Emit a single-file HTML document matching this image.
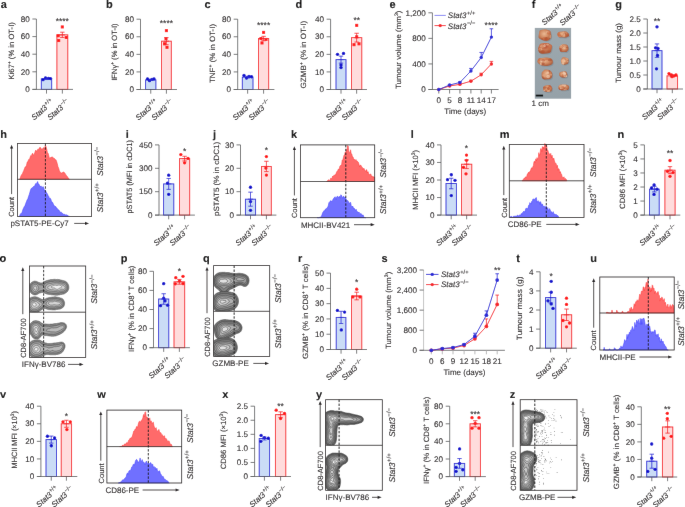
<!DOCTYPE html>
<html><head><meta charset="utf-8"><style>
html,body{margin:0;padding:0;background:#fff;}
svg{display:block;font-family:"Liberation Sans",sans-serif;}
text{stroke:#231f20;stroke-width:0.1px;text-rendering:geometricPrecision;}
</style></head><body>
<svg width="685" height="507" viewBox="0 0 685 507" fill="#231f20">
<defs><filter id="bl" x="0" y="0" width="685" height="507" filterUnits="userSpaceOnUse"><feConvolveMatrix order="3" kernelMatrix="0.0016 0.0371 0.0016 0.0371 0.8452 0.0371 0.0016 0.0371 0.0016" edgeMode="duplicate" preserveAlpha="true"/></filter></defs>
<g filter="url(#bl)">
<rect width="685" height="507" fill="#fff"/>
<text x="0.65" y="7.9" font-size="11" font-weight="bold" fill="#000">a</text>
<line x1="36.4" y1="19" x2="36.4" y2="89.4" stroke="#58595b" stroke-width="0.8"/>
<line x1="32.4" y1="89.4" x2="36.4" y2="89.4" stroke="#58595b" stroke-width="0.8"/>
<text x="29.8" y="92.1" font-size="8.1" text-anchor="end">0</text>
<line x1="32.4" y1="71.8" x2="36.4" y2="71.8" stroke="#58595b" stroke-width="0.8"/>
<text x="29.8" y="74.5" font-size="8.1" text-anchor="end">20</text>
<line x1="32.4" y1="54.2" x2="36.4" y2="54.2" stroke="#58595b" stroke-width="0.8"/>
<text x="29.8" y="56.9" font-size="8.1" text-anchor="end">40</text>
<line x1="32.4" y1="36.6" x2="36.4" y2="36.6" stroke="#58595b" stroke-width="0.8"/>
<text x="29.8" y="39.3" font-size="8.1" text-anchor="end">60</text>
<line x1="32.4" y1="19" x2="36.4" y2="19" stroke="#58595b" stroke-width="0.8"/>
<text x="29.8" y="21.7" font-size="8.1" text-anchor="end">80</text>
<rect x="41.3" y="78.84" width="10.4" height="10.56" fill="#cadcf6" stroke="#2b2bd6" stroke-width="0.9"/>
<circle cx="43" cy="79.72" r="1.65" fill="#0808cc"/>
<circle cx="45.5" cy="77.96" r="1.65" fill="#0808cc"/>
<circle cx="48.5" cy="78.4" r="1.65" fill="#0808cc"/>
<circle cx="50.5" cy="78.58" r="1.65" fill="#0808cc"/>
<line x1="46.5" y1="79.54" x2="46.5" y2="78.14" stroke="#2b2bd6" stroke-width="0.8"/>
<line x1="44.3" y1="78.14" x2="48.7" y2="78.14" stroke="#2b2bd6" stroke-width="0.8"/>
<line x1="44.3" y1="79.54" x2="48.7" y2="79.54" stroke="#2b2bd6" stroke-width="0.8"/>
<line x1="43.9" y1="78.84" x2="49.1" y2="78.84" stroke="#2b2bd6" stroke-width="0.8"/>
<rect x="56.9" y="34.84" width="10.9" height="54.56" fill="#ffdcdc" stroke="#f5262b" stroke-width="0.9"/>
<rect x="60.8" y="25.42" width="3" height="3" fill="#ff1414"/>
<rect x="56.7" y="34.22" width="3" height="3" fill="#ff1414"/>
<rect x="64.8" y="35.98" width="3" height="3" fill="#ff1414"/>
<rect x="57.2" y="39.06" width="3" height="3" fill="#ff1414"/>
<line x1="62.35" y1="37.48" x2="62.35" y2="32.2" stroke="#f5262b" stroke-width="0.8"/>
<line x1="60.15" y1="32.2" x2="64.55" y2="32.2" stroke="#f5262b" stroke-width="0.8"/>
<line x1="60.15" y1="37.48" x2="64.55" y2="37.48" stroke="#f5262b" stroke-width="0.8"/>
<line x1="59.75" y1="34.84" x2="64.95" y2="34.84" stroke="#f5262b" stroke-width="0.8"/>
<line x1="32.4" y1="89.4" x2="73" y2="89.4" stroke="#58595b" stroke-width="0.8"/>
<line x1="46.5" y1="89.4" x2="46.5" y2="93.6" stroke="#58595b" stroke-width="0.8"/>
<line x1="62.35" y1="89.4" x2="62.35" y2="93.6" stroke="#58595b" stroke-width="0.8"/>
<text x="34.3" y="120.6" font-size="7.8" transform="rotate(-42 34.3 120.6)"><tspan font-style="italic">Stat3</tspan><tspan dx="0.5" dy="-3.12" font-size="5.62">+/+</tspan></text>
<text x="50.15" y="120.6" font-size="7.8" transform="rotate(-42 50.15 120.6)"><tspan font-style="italic">Stat3</tspan><tspan dx="0.5" dy="-3.12" font-size="5.62">−/−</tspan></text>
<text x="14.5" y="50.85" font-size="7.6" text-anchor="middle" textLength="57.4" lengthAdjust="spacingAndGlyphs" transform="rotate(-90 14.5 50.85)">Ki67<tspan baseline-shift="super" font-size="5">+</tspan> (% in OT-I)</text>
<text x="62.3" y="24.1" font-size="8.5" text-anchor="middle">****</text>
<text x="106.1" y="7.9" font-size="11" font-weight="bold" fill="#000">b</text>
<line x1="140.5" y1="19.2" x2="140.5" y2="89.5" stroke="#58595b" stroke-width="0.8"/>
<line x1="136.5" y1="89.5" x2="140.5" y2="89.5" stroke="#58595b" stroke-width="0.8"/>
<text x="133.9" y="92.2" font-size="8.1" text-anchor="end">0</text>
<line x1="136.5" y1="71.92" x2="140.5" y2="71.92" stroke="#58595b" stroke-width="0.8"/>
<text x="133.9" y="74.62" font-size="8.1" text-anchor="end">20</text>
<line x1="136.5" y1="54.35" x2="140.5" y2="54.35" stroke="#58595b" stroke-width="0.8"/>
<text x="133.9" y="57.05" font-size="8.1" text-anchor="end">40</text>
<line x1="136.5" y1="36.78" x2="140.5" y2="36.78" stroke="#58595b" stroke-width="0.8"/>
<text x="133.9" y="39.48" font-size="8.1" text-anchor="end">60</text>
<line x1="136.5" y1="19.2" x2="140.5" y2="19.2" stroke="#58595b" stroke-width="0.8"/>
<text x="133.9" y="21.9" font-size="8.1" text-anchor="end">80</text>
<rect x="145.6" y="79.83" width="10.3" height="9.67" fill="#cadcf6" stroke="#2b2bd6" stroke-width="0.9"/>
<circle cx="147.5" cy="78.95" r="1.65" fill="#0808cc"/>
<circle cx="149.5" cy="80.71" r="1.65" fill="#0808cc"/>
<circle cx="152" cy="79.39" r="1.65" fill="#0808cc"/>
<circle cx="154" cy="78.95" r="1.65" fill="#0808cc"/>
<line x1="150.75" y1="80.54" x2="150.75" y2="79.13" stroke="#2b2bd6" stroke-width="0.8"/>
<line x1="148.55" y1="79.13" x2="152.95" y2="79.13" stroke="#2b2bd6" stroke-width="0.8"/>
<line x1="148.55" y1="80.54" x2="152.95" y2="80.54" stroke="#2b2bd6" stroke-width="0.8"/>
<line x1="148.15" y1="79.83" x2="153.35" y2="79.83" stroke="#2b2bd6" stroke-width="0.8"/>
<rect x="161.5" y="41.17" width="9.8" height="48.33" fill="#ffdcdc" stroke="#f5262b" stroke-width="0.9"/>
<rect x="164.9" y="29.12" width="3" height="3" fill="#ff1414"/>
<rect x="164.5" y="37.03" width="3" height="3" fill="#ff1414"/>
<rect x="163" y="42.31" width="3" height="3" fill="#ff1414"/>
<rect x="165.5" y="45.82" width="3" height="3" fill="#ff1414"/>
<line x1="166.4" y1="44.68" x2="166.4" y2="37.65" stroke="#f5262b" stroke-width="0.8"/>
<line x1="164.2" y1="37.65" x2="168.6" y2="37.65" stroke="#f5262b" stroke-width="0.8"/>
<line x1="164.2" y1="44.68" x2="168.6" y2="44.68" stroke="#f5262b" stroke-width="0.8"/>
<line x1="163.8" y1="41.17" x2="169" y2="41.17" stroke="#f5262b" stroke-width="0.8"/>
<line x1="136.5" y1="89.5" x2="177" y2="89.5" stroke="#58595b" stroke-width="0.8"/>
<line x1="150.75" y1="89.5" x2="150.75" y2="93.7" stroke="#58595b" stroke-width="0.8"/>
<line x1="166.4" y1="89.5" x2="166.4" y2="93.7" stroke="#58595b" stroke-width="0.8"/>
<text x="138.55" y="120.7" font-size="7.8" transform="rotate(-42 138.55 120.7)"><tspan font-style="italic">Stat3</tspan><tspan dx="0.5" dy="-3.12" font-size="5.62">+/+</tspan></text>
<text x="154.2" y="120.7" font-size="7.8" transform="rotate(-42 154.2 120.7)"><tspan font-style="italic">Stat3</tspan><tspan dx="0.5" dy="-3.12" font-size="5.62">−/−</tspan></text>
<text x="116.9" y="52.1" font-size="7.6" text-anchor="middle" textLength="57.3" lengthAdjust="spacingAndGlyphs" transform="rotate(-90 116.9 52.1)">IFNγ<tspan baseline-shift="super" font-size="5">+</tspan> (% in OT-I)</text>
<text x="166.4" y="26.4" font-size="8.5" text-anchor="middle">****</text>
<text x="204.6" y="7.9" font-size="11" font-weight="bold" fill="#000">c</text>
<line x1="237.7" y1="19.2" x2="237.7" y2="89.5" stroke="#58595b" stroke-width="0.8"/>
<line x1="233.7" y1="89.5" x2="237.7" y2="89.5" stroke="#58595b" stroke-width="0.8"/>
<text x="231.1" y="92.2" font-size="8.1" text-anchor="end">0</text>
<line x1="233.7" y1="71.92" x2="237.7" y2="71.92" stroke="#58595b" stroke-width="0.8"/>
<text x="231.1" y="74.62" font-size="8.1" text-anchor="end">20</text>
<line x1="233.7" y1="54.35" x2="237.7" y2="54.35" stroke="#58595b" stroke-width="0.8"/>
<text x="231.1" y="57.05" font-size="8.1" text-anchor="end">40</text>
<line x1="233.7" y1="36.78" x2="237.7" y2="36.78" stroke="#58595b" stroke-width="0.8"/>
<text x="231.1" y="39.48" font-size="8.1" text-anchor="end">60</text>
<line x1="233.7" y1="19.2" x2="237.7" y2="19.2" stroke="#58595b" stroke-width="0.8"/>
<text x="231.1" y="21.9" font-size="8.1" text-anchor="end">80</text>
<rect x="242.3" y="77.2" width="10.7" height="12.3" fill="#cadcf6" stroke="#2b2bd6" stroke-width="0.9"/>
<circle cx="244" cy="75.44" r="1.65" fill="#0808cc"/>
<circle cx="246.5" cy="78.08" r="1.65" fill="#0808cc"/>
<circle cx="249" cy="76.32" r="1.65" fill="#0808cc"/>
<circle cx="251.5" cy="76.76" r="1.65" fill="#0808cc"/>
<line x1="247.65" y1="78.08" x2="247.65" y2="76.32" stroke="#2b2bd6" stroke-width="0.8"/>
<line x1="245.45" y1="76.32" x2="249.85" y2="76.32" stroke="#2b2bd6" stroke-width="0.8"/>
<line x1="245.45" y1="78.08" x2="249.85" y2="78.08" stroke="#2b2bd6" stroke-width="0.8"/>
<line x1="245.05" y1="77.2" x2="250.25" y2="77.2" stroke="#2b2bd6" stroke-width="0.8"/>
<rect x="258.5" y="38.53" width="10.2" height="50.97" fill="#ffdcdc" stroke="#f5262b" stroke-width="0.9"/>
<rect x="262.1" y="30.88" width="3" height="3" fill="#ff1414"/>
<rect x="259.5" y="37.03" width="3" height="3" fill="#ff1414"/>
<rect x="264.5" y="37.91" width="3" height="3" fill="#ff1414"/>
<rect x="260.5" y="41.43" width="3" height="3" fill="#ff1414"/>
<line x1="263.6" y1="40.73" x2="263.6" y2="36.34" stroke="#f5262b" stroke-width="0.8"/>
<line x1="261.4" y1="36.34" x2="265.8" y2="36.34" stroke="#f5262b" stroke-width="0.8"/>
<line x1="261.4" y1="40.73" x2="265.8" y2="40.73" stroke="#f5262b" stroke-width="0.8"/>
<line x1="261" y1="38.53" x2="266.2" y2="38.53" stroke="#f5262b" stroke-width="0.8"/>
<line x1="233.7" y1="89.5" x2="274.4" y2="89.5" stroke="#58595b" stroke-width="0.8"/>
<line x1="247.65" y1="89.5" x2="247.65" y2="93.7" stroke="#58595b" stroke-width="0.8"/>
<line x1="263.6" y1="89.5" x2="263.6" y2="93.7" stroke="#58595b" stroke-width="0.8"/>
<text x="235.45" y="120.7" font-size="7.8" transform="rotate(-42 235.45 120.7)"><tspan font-style="italic">Stat3</tspan><tspan dx="0.5" dy="-3.12" font-size="5.62">+/+</tspan></text>
<text x="251.4" y="120.7" font-size="7.8" transform="rotate(-42 251.4 120.7)"><tspan font-style="italic">Stat3</tspan><tspan dx="0.5" dy="-3.12" font-size="5.62">−/−</tspan></text>
<text x="215.4" y="53.5" font-size="7.6" text-anchor="middle" textLength="59.1" lengthAdjust="spacingAndGlyphs" transform="rotate(-90 215.4 53.5)">TNF<tspan baseline-shift="super" font-size="5">+</tspan> (% in OT-I)</text>
<text x="263.6" y="28.4" font-size="8.5" text-anchor="middle">****</text>
<text x="295.6" y="7.9" font-size="11" font-weight="bold" fill="#000">d</text>
<line x1="330.6" y1="19.2" x2="330.6" y2="89.5" stroke="#58595b" stroke-width="0.8"/>
<line x1="326.6" y1="89.5" x2="330.6" y2="89.5" stroke="#58595b" stroke-width="0.8"/>
<text x="324" y="92.2" font-size="8.1" text-anchor="end">0</text>
<line x1="326.6" y1="71.92" x2="330.6" y2="71.92" stroke="#58595b" stroke-width="0.8"/>
<text x="324" y="74.62" font-size="8.1" text-anchor="end">10</text>
<line x1="326.6" y1="54.35" x2="330.6" y2="54.35" stroke="#58595b" stroke-width="0.8"/>
<text x="324" y="57.05" font-size="8.1" text-anchor="end">20</text>
<line x1="326.6" y1="36.78" x2="330.6" y2="36.78" stroke="#58595b" stroke-width="0.8"/>
<text x="324" y="39.48" font-size="8.1" text-anchor="end">30</text>
<line x1="326.6" y1="19.2" x2="330.6" y2="19.2" stroke="#58595b" stroke-width="0.8"/>
<text x="324" y="21.9" font-size="8.1" text-anchor="end">40</text>
<rect x="336" y="59.62" width="10" height="29.88" fill="#cadcf6" stroke="#2b2bd6" stroke-width="0.9"/>
<circle cx="337.5" cy="54.35" r="1.65" fill="#0808cc"/>
<circle cx="341" cy="64.9" r="1.65" fill="#0808cc"/>
<circle cx="343.5" cy="53.47" r="1.65" fill="#0808cc"/>
<circle cx="341" cy="67.53" r="1.65" fill="#0808cc"/>
<line x1="341" y1="63.14" x2="341" y2="56.11" stroke="#2b2bd6" stroke-width="0.8"/>
<line x1="338.8" y1="56.11" x2="343.2" y2="56.11" stroke="#2b2bd6" stroke-width="0.8"/>
<line x1="338.8" y1="63.14" x2="343.2" y2="63.14" stroke="#2b2bd6" stroke-width="0.8"/>
<line x1="338.4" y1="59.62" x2="343.6" y2="59.62" stroke="#2b2bd6" stroke-width="0.8"/>
<rect x="351.5" y="37.65" width="10.3" height="51.85" fill="#ffdcdc" stroke="#f5262b" stroke-width="0.9"/>
<rect x="355.2" y="23.85" width="3" height="3" fill="#ff1414"/>
<rect x="352.5" y="43.18" width="3" height="3" fill="#ff1414"/>
<rect x="357.5" y="42.31" width="3" height="3" fill="#ff1414"/>
<rect x="355.2" y="35.28" width="3" height="3" fill="#ff1414"/>
<line x1="356.65" y1="42.05" x2="356.65" y2="33.26" stroke="#f5262b" stroke-width="0.8"/>
<line x1="354.45" y1="33.26" x2="358.85" y2="33.26" stroke="#f5262b" stroke-width="0.8"/>
<line x1="354.45" y1="42.05" x2="358.85" y2="42.05" stroke="#f5262b" stroke-width="0.8"/>
<line x1="354.05" y1="37.65" x2="359.25" y2="37.65" stroke="#f5262b" stroke-width="0.8"/>
<line x1="326.6" y1="89.5" x2="367" y2="89.5" stroke="#58595b" stroke-width="0.8"/>
<line x1="341" y1="89.5" x2="341" y2="93.7" stroke="#58595b" stroke-width="0.8"/>
<line x1="356.65" y1="89.5" x2="356.65" y2="93.7" stroke="#58595b" stroke-width="0.8"/>
<text x="328.8" y="120.7" font-size="7.8" transform="rotate(-42 328.8 120.7)"><tspan font-style="italic">Stat3</tspan><tspan dx="0.5" dy="-3.12" font-size="5.62">+/+</tspan></text>
<text x="344.45" y="120.7" font-size="7.8" transform="rotate(-42 344.45 120.7)"><tspan font-style="italic">Stat3</tspan><tspan dx="0.5" dy="-3.12" font-size="5.62">−/−</tspan></text>
<text x="306.5" y="54.6" font-size="7.6" text-anchor="middle" textLength="67.7" lengthAdjust="spacingAndGlyphs" transform="rotate(-90 306.5 54.6)">GZMB<tspan baseline-shift="super" font-size="5">+</tspan> (% in OT-I)</text>
<text x="356.7" y="23.4" font-size="8.5" text-anchor="middle">**</text>
<text x="389.6" y="7.9" font-size="11" font-weight="bold" fill="#000">e</text>
<line x1="432.4" y1="12.8" x2="432.4" y2="89.5" stroke="#58595b" stroke-width="0.8"/>
<line x1="428.4" y1="89.5" x2="432.4" y2="89.5" stroke="#58595b" stroke-width="0.8"/>
<text x="425.8" y="92.2" font-size="8.1" text-anchor="end">0</text>
<line x1="428.4" y1="63.93" x2="432.4" y2="63.93" stroke="#58595b" stroke-width="0.8"/>
<text x="425.8" y="66.63" font-size="8.1" text-anchor="end">400</text>
<line x1="428.4" y1="38.37" x2="432.4" y2="38.37" stroke="#58595b" stroke-width="0.8"/>
<text x="425.8" y="41.07" font-size="8.1" text-anchor="end">800</text>
<line x1="428.4" y1="12.8" x2="432.4" y2="12.8" stroke="#58595b" stroke-width="0.8"/>
<text x="425.8" y="15.5" font-size="8.1" text-anchor="end">1,200</text>
<line x1="428.4" y1="89.5" x2="498.6" y2="89.5" stroke="#58595b" stroke-width="0.8"/>
<line x1="438.8" y1="89.5" x2="438.8" y2="93.5" stroke="#58595b" stroke-width="0.8"/>
<text x="438.8" y="102.8" font-size="8.1" text-anchor="middle">0</text>
<line x1="449.6" y1="89.5" x2="449.6" y2="93.5" stroke="#58595b" stroke-width="0.8"/>
<text x="449.6" y="102.8" font-size="8.1" text-anchor="middle">5</text>
<line x1="459.9" y1="89.5" x2="459.9" y2="93.5" stroke="#58595b" stroke-width="0.8"/>
<text x="459.9" y="102.8" font-size="8.1" text-anchor="middle">8</text>
<line x1="470.9" y1="89.5" x2="470.9" y2="93.5" stroke="#58595b" stroke-width="0.8"/>
<text x="470.9" y="102.8" font-size="8.1" text-anchor="middle">11</text>
<line x1="481.2" y1="89.5" x2="481.2" y2="93.5" stroke="#58595b" stroke-width="0.8"/>
<text x="481.2" y="102.8" font-size="8.1" text-anchor="middle">14</text>
<line x1="491.4" y1="89.5" x2="491.4" y2="93.5" stroke="#58595b" stroke-width="0.8"/>
<text x="491.4" y="102.8" font-size="8.1" text-anchor="middle">17</text>
<text x="465.3" y="114.3" font-size="8.0" text-anchor="middle">Time (days)</text>
<text x="401.3" y="49.8" font-size="7.6" text-anchor="middle" textLength="78.5" lengthAdjust="spacingAndGlyphs" transform="rotate(-90 401.3 49.8)">Tumour volume (mm<tspan baseline-shift="super" font-size="5">3</tspan>)</text>
<polyline points="438.8,89.5 449.6,85.98 459.9,84.39 470.9,81.19 481.2,74.8 491.4,63.93" fill="none" stroke="#f5262b" stroke-width="0.9"/>
<circle cx="438.8" cy="89.5" r="1.7" fill="#f5262b"/>
<line x1="449.6" y1="85.98" x2="449.6" y2="85.6" stroke="#f5262b" stroke-width="0.8"/>
<line x1="447.8" y1="85.6" x2="451.4" y2="85.6" stroke="#f5262b" stroke-width="0.8"/>
<circle cx="449.6" cy="85.98" r="1.7" fill="#f5262b"/>
<line x1="459.9" y1="84.39" x2="459.9" y2="83.88" stroke="#f5262b" stroke-width="0.8"/>
<line x1="458.1" y1="83.88" x2="461.7" y2="83.88" stroke="#f5262b" stroke-width="0.8"/>
<circle cx="459.9" cy="84.39" r="1.7" fill="#f5262b"/>
<line x1="470.9" y1="81.19" x2="470.9" y2="80.23" stroke="#f5262b" stroke-width="0.8"/>
<line x1="469.1" y1="80.23" x2="472.7" y2="80.23" stroke="#f5262b" stroke-width="0.8"/>
<circle cx="470.9" cy="81.19" r="1.7" fill="#f5262b"/>
<line x1="481.2" y1="74.8" x2="481.2" y2="73.2" stroke="#f5262b" stroke-width="0.8"/>
<line x1="479.4" y1="73.2" x2="483" y2="73.2" stroke="#f5262b" stroke-width="0.8"/>
<circle cx="481.2" cy="74.8" r="1.7" fill="#f5262b"/>
<line x1="491.4" y1="63.93" x2="491.4" y2="61.38" stroke="#f5262b" stroke-width="0.8"/>
<line x1="489.6" y1="61.38" x2="493.2" y2="61.38" stroke="#f5262b" stroke-width="0.8"/>
<circle cx="491.4" cy="63.93" r="1.7" fill="#f5262b"/>
<polyline points="438.8,89.5 449.6,85.03 459.9,82.47 470.9,70.96 481.2,57.54 491.4,37.09" fill="none" stroke="#2b2bd6" stroke-width="0.9"/>
<circle cx="438.8" cy="89.5" r="1.7" fill="#2b2bd6"/>
<line x1="449.6" y1="85.03" x2="449.6" y2="84.51" stroke="#2b2bd6" stroke-width="0.8"/>
<line x1="447.8" y1="84.51" x2="451.4" y2="84.51" stroke="#2b2bd6" stroke-width="0.8"/>
<circle cx="449.6" cy="85.03" r="1.7" fill="#2b2bd6"/>
<line x1="459.9" y1="82.47" x2="459.9" y2="81.7" stroke="#2b2bd6" stroke-width="0.8"/>
<line x1="458.1" y1="81.7" x2="461.7" y2="81.7" stroke="#2b2bd6" stroke-width="0.8"/>
<circle cx="459.9" cy="82.47" r="1.7" fill="#2b2bd6"/>
<line x1="470.9" y1="70.96" x2="470.9" y2="68.41" stroke="#2b2bd6" stroke-width="0.8"/>
<line x1="469.1" y1="68.41" x2="472.7" y2="68.41" stroke="#2b2bd6" stroke-width="0.8"/>
<circle cx="470.9" cy="70.96" r="1.7" fill="#2b2bd6"/>
<line x1="481.2" y1="57.54" x2="481.2" y2="52.43" stroke="#2b2bd6" stroke-width="0.8"/>
<line x1="479.4" y1="52.43" x2="483" y2="52.43" stroke="#2b2bd6" stroke-width="0.8"/>
<circle cx="481.2" cy="57.54" r="1.7" fill="#2b2bd6"/>
<line x1="491.4" y1="37.09" x2="491.4" y2="28.78" stroke="#2b2bd6" stroke-width="0.8"/>
<line x1="489.6" y1="28.78" x2="493.2" y2="28.78" stroke="#2b2bd6" stroke-width="0.8"/>
<circle cx="491.4" cy="37.09" r="1.7" fill="#2b2bd6"/>
<line x1="434.5" y1="15.4" x2="445.8" y2="15.4" stroke="#7c7cf2" stroke-width="0.9"/>
<text x="447.8" y="18.4" font-size="8.0"><tspan font-style="italic">Stat3</tspan><tspan dx="0.5" dy="-3.2" font-size="5.76">+/+</tspan></text>
<line x1="434.5" y1="25.6" x2="445.8" y2="25.6" stroke="#f5262b" stroke-width="0.9"/>
<circle cx="440.2" cy="25.6" r="1.7" fill="#f5262b"/>
<text x="447.8" y="28.6" font-size="8.0"><tspan font-style="italic">Stat3</tspan><tspan dx="0.5" dy="-3.2" font-size="5.76">−/−</tspan></text>
<text x="491.2" y="27.7" font-size="8.5" text-anchor="middle">****</text>
<text x="531.8" y="7.9" font-size="11" font-weight="bold" fill="#000">f</text>
<defs><radialGradient id="tg" cx="45%" cy="40%" r="60%"><stop offset="0" stop-color="#eab994"/><stop offset="0.55" stop-color="#d08a62"/><stop offset="1" stop-color="#a95c3c"/></radialGradient><radialGradient id="tg2" cx="50%" cy="30%" r="65%"><stop offset="0" stop-color="#b44a30"/><stop offset="0.5" stop-color="#cc7a54"/><stop offset="1" stop-color="#a85a3a"/></radialGradient><linearGradient id="bgp" x1="0" y1="0" x2="0" y2="1"><stop offset="0" stop-color="#9da8ae"/><stop offset="1" stop-color="#95a1a8"/></linearGradient></defs>
<rect x="534.8" y="27.9" width="36.3" height="70.8" fill="url(#bgp)"/>
<clipPath id="tc3"><path d="M551.01,33.88 Q551.26,35.1 551.27,36.43 Q551.27,37.75 550.58,38.51 Q549.88,39.28 549.01,39.9 Q548.14,40.53 546.57,40.72 Q545,40.91 543.6,40.42 Q542.21,39.94 541.35,39.45 Q540.49,38.96 539.42,38.43 Q538.35,37.91 538.53,36.51 Q538.71,35.1 538.92,33.86 Q539.13,32.62 539.29,31.49 Q539.46,30.36 540.7,30.09 Q541.95,29.82 543.47,29.43 Q545,29.04 546.53,29.42 Q548.06,29.81 549.11,30.25 Q550.17,30.68 550.47,31.67 Q550.76,32.66 551.01,33.88Z"/></clipPath>
<path d="M551.01,33.88 Q551.26,35.1 551.27,36.43 Q551.27,37.75 550.58,38.51 Q549.88,39.28 549.01,39.9 Q548.14,40.53 546.57,40.72 Q545,40.91 543.6,40.42 Q542.21,39.94 541.35,39.45 Q540.49,38.96 539.42,38.43 Q538.35,37.91 538.53,36.51 Q538.71,35.1 538.92,33.86 Q539.13,32.62 539.29,31.49 Q539.46,30.36 540.7,30.09 Q541.95,29.82 543.47,29.43 Q545,29.04 546.53,29.42 Q548.06,29.81 549.11,30.25 Q550.17,30.68 550.47,31.67 Q550.76,32.66 551.01,33.88Z" fill="#67737a" opacity="0.35" transform="translate(0.8 0.9)"/>
<path d="M551.01,33.88 Q551.26,35.1 551.27,36.43 Q551.27,37.75 550.58,38.51 Q549.88,39.28 549.01,39.9 Q548.14,40.53 546.57,40.72 Q545,40.91 543.6,40.42 Q542.21,39.94 541.35,39.45 Q540.49,38.96 539.42,38.43 Q538.35,37.91 538.53,36.51 Q538.71,35.1 538.92,33.86 Q539.13,32.62 539.29,31.49 Q539.46,30.36 540.7,30.09 Q541.95,29.82 543.47,29.43 Q545,29.04 546.53,29.42 Q548.06,29.81 549.11,30.25 Q550.17,30.68 550.47,31.67 Q550.76,32.66 551.01,33.88Z" fill="url(#tg)"/>
<g clip-path="url(#tc3)">
<ellipse cx="546.49" cy="38.57" rx="1.53" ry="1.52" fill="#a84a2e" opacity="0.55"/>
<ellipse cx="548.06" cy="31.88" rx="2.14" ry="0.75" fill="#f4d6bb" opacity="0.55"/>
<ellipse cx="548.57" cy="32.92" rx="1.63" ry="1.71" fill="#c8683f" opacity="0.55"/>
<ellipse cx="547.36" cy="39.08" rx="1.35" ry="1.58" fill="#c8683f" opacity="0.55"/>
<ellipse cx="550.12" cy="31.65" rx="1.31" ry="0.74" fill="#c8683f" opacity="0.55"/>
<ellipse cx="541.88" cy="39.49" rx="1.41" ry="1.39" fill="#b4502f" opacity="0.55"/>
<ellipse cx="544.13" cy="38.25" rx="1.6" ry="1.29" fill="#c8683f" opacity="0.55"/>
<ellipse cx="545.93" cy="38.92" rx="1.75" ry="1.72" fill="#b4502f" opacity="0.55"/>
<ellipse cx="550.42" cy="36.72" rx="1.03" ry="1.65" fill="#e7b08a" opacity="0.55"/>
</g>
<clipPath id="tc4"><path d="M552.1,46.82 Q551.83,48.3 551.54,49.55 Q551.24,50.79 550.83,51.72 Q550.41,52.64 549.33,53.02 Q548.25,53.4 546.75,53.51 Q545.25,53.63 543.67,53.66 Q542.09,53.68 540.8,53.4 Q539.52,53.12 538.91,52.16 Q538.31,51.19 538.11,49.74 Q537.91,48.3 538.5,47.02 Q539.1,45.74 539.52,44.78 Q539.93,43.83 541.05,43.44 Q542.17,43.06 543.71,42.95 Q545.25,42.84 546.73,43.05 Q548.21,43.25 549.21,43.69 Q550.21,44.13 551.29,44.73 Q552.36,45.34 552.1,46.82Z"/></clipPath>
<path d="M552.1,46.82 Q551.83,48.3 551.54,49.55 Q551.24,50.79 550.83,51.72 Q550.41,52.64 549.33,53.02 Q548.25,53.4 546.75,53.51 Q545.25,53.63 543.67,53.66 Q542.09,53.68 540.8,53.4 Q539.52,53.12 538.91,52.16 Q538.31,51.19 538.11,49.74 Q537.91,48.3 538.5,47.02 Q539.1,45.74 539.52,44.78 Q539.93,43.83 541.05,43.44 Q542.17,43.06 543.71,42.95 Q545.25,42.84 546.73,43.05 Q548.21,43.25 549.21,43.69 Q550.21,44.13 551.29,44.73 Q552.36,45.34 552.1,46.82Z" fill="#67737a" opacity="0.35" transform="translate(0.8 0.9)"/>
<path d="M552.1,46.82 Q551.83,48.3 551.54,49.55 Q551.24,50.79 550.83,51.72 Q550.41,52.64 549.33,53.02 Q548.25,53.4 546.75,53.51 Q545.25,53.63 543.67,53.66 Q542.09,53.68 540.8,53.4 Q539.52,53.12 538.91,52.16 Q538.31,51.19 538.11,49.74 Q537.91,48.3 538.5,47.02 Q539.1,45.74 539.52,44.78 Q539.93,43.83 541.05,43.44 Q542.17,43.06 543.71,42.95 Q545.25,42.84 546.73,43.05 Q548.21,43.25 549.21,43.69 Q550.21,44.13 551.29,44.73 Q552.36,45.34 552.1,46.82Z" fill="url(#tg2)"/>
<g clip-path="url(#tc4)">
<ellipse cx="549.07" cy="51.29" rx="1.92" ry="0.91" fill="#b4502f" opacity="0.55"/>
<ellipse cx="542.81" cy="51.89" rx="2.15" ry="1.63" fill="#b4502f" opacity="0.55"/>
<ellipse cx="540.46" cy="49.33" rx="1.74" ry="1.26" fill="#f0c9a6" opacity="0.55"/>
<ellipse cx="542.32" cy="46.15" rx="2.12" ry="1.6" fill="#e7b08a" opacity="0.55"/>
<ellipse cx="549.2" cy="43.49" rx="1.21" ry="1.48" fill="#b4502f" opacity="0.55"/>
<ellipse cx="549.29" cy="48.38" rx="1.38" ry="1.36" fill="#c8683f" opacity="0.55"/>
<ellipse cx="544.69" cy="45.7" rx="1.16" ry="1.58" fill="#f4d6bb" opacity="0.55"/>
<ellipse cx="539.99" cy="49.53" rx="1.19" ry="1.29" fill="#c8683f" opacity="0.55"/>
<ellipse cx="547.58" cy="44.84" rx="1.74" ry="0.77" fill="#f0c9a6" opacity="0.55"/>
</g>
<clipPath id="tc5"><path d="M552.71,60.57 Q552.98,61.55 552.83,62.57 Q552.68,63.58 552,64.25 Q551.31,64.91 550.19,65.37 Q549.07,65.83 547.16,65.88 Q545.25,65.93 543.35,65.87 Q541.45,65.81 540.77,65.11 Q540.1,64.4 539.16,63.94 Q538.23,63.47 537.62,62.51 Q537.02,61.55 537.49,60.55 Q537.96,59.55 538.51,58.84 Q539.06,58.12 540.55,58.03 Q542.04,57.95 543.64,57.67 Q545.25,57.4 546.91,57.62 Q548.56,57.84 549.79,58.1 Q551.01,58.36 551.72,58.97 Q552.43,59.58 552.71,60.57Z"/></clipPath>
<path d="M552.71,60.57 Q552.98,61.55 552.83,62.57 Q552.68,63.58 552,64.25 Q551.31,64.91 550.19,65.37 Q549.07,65.83 547.16,65.88 Q545.25,65.93 543.35,65.87 Q541.45,65.81 540.77,65.11 Q540.1,64.4 539.16,63.94 Q538.23,63.47 537.62,62.51 Q537.02,61.55 537.49,60.55 Q537.96,59.55 538.51,58.84 Q539.06,58.12 540.55,58.03 Q542.04,57.95 543.64,57.67 Q545.25,57.4 546.91,57.62 Q548.56,57.84 549.79,58.1 Q551.01,58.36 551.72,58.97 Q552.43,59.58 552.71,60.57Z" fill="#67737a" opacity="0.35" transform="translate(0.8 0.9)"/>
<path d="M552.71,60.57 Q552.98,61.55 552.83,62.57 Q552.68,63.58 552,64.25 Q551.31,64.91 550.19,65.37 Q549.07,65.83 547.16,65.88 Q545.25,65.93 543.35,65.87 Q541.45,65.81 540.77,65.11 Q540.1,64.4 539.16,63.94 Q538.23,63.47 537.62,62.51 Q537.02,61.55 537.49,60.55 Q537.96,59.55 538.51,58.84 Q539.06,58.12 540.55,58.03 Q542.04,57.95 543.64,57.67 Q545.25,57.4 546.91,57.62 Q548.56,57.84 549.79,58.1 Q551.01,58.36 551.72,58.97 Q552.43,59.58 552.71,60.57Z" fill="url(#tg)"/>
<g clip-path="url(#tc5)">
<ellipse cx="539.13" cy="59.58" rx="1.19" ry="1.71" fill="#c8683f" opacity="0.55"/>
<ellipse cx="540.97" cy="63.62" rx="0.99" ry="1.38" fill="#f0c9a6" opacity="0.55"/>
<ellipse cx="540.63" cy="64.84" rx="0.81" ry="1.55" fill="#f0c9a6" opacity="0.55"/>
<ellipse cx="549.93" cy="60.08" rx="2.15" ry="1.29" fill="#a84a2e" opacity="0.55"/>
<ellipse cx="546.83" cy="59.33" rx="2.16" ry="0.92" fill="#c8683f" opacity="0.55"/>
<ellipse cx="542.72" cy="60.58" rx="1.03" ry="0.86" fill="#f4d6bb" opacity="0.55"/>
<ellipse cx="543.14" cy="63.76" rx="1.62" ry="1.36" fill="#a84a2e" opacity="0.55"/>
<ellipse cx="543.21" cy="60.23" rx="1.95" ry="1.23" fill="#b4502f" opacity="0.55"/>
<ellipse cx="541.29" cy="61.36" rx="1.05" ry="0.98" fill="#f4d6bb" opacity="0.55"/>
</g>
<clipPath id="tc6"><path d="M552.17,73.58 Q552.4,74.8 552.25,76.06 Q552.09,77.32 551.44,77.98 Q550.79,78.64 549.96,78.99 Q549.13,79.34 547.96,79.35 Q546.8,79.36 545.53,79.55 Q544.27,79.74 543.55,79.18 Q542.82,78.63 542.2,77.96 Q541.58,77.29 541.62,76.04 Q541.66,74.8 541.61,73.55 Q541.57,72.31 542.28,71.72 Q542.99,71.13 543.59,70.43 Q544.2,69.72 545.5,69.6 Q546.8,69.47 548,69.79 Q549.2,70.11 550.02,70.51 Q550.83,70.91 551.39,71.63 Q551.94,72.35 552.17,73.58Z"/></clipPath>
<path d="M552.17,73.58 Q552.4,74.8 552.25,76.06 Q552.09,77.32 551.44,77.98 Q550.79,78.64 549.96,78.99 Q549.13,79.34 547.96,79.35 Q546.8,79.36 545.53,79.55 Q544.27,79.74 543.55,79.18 Q542.82,78.63 542.2,77.96 Q541.58,77.29 541.62,76.04 Q541.66,74.8 541.61,73.55 Q541.57,72.31 542.28,71.72 Q542.99,71.13 543.59,70.43 Q544.2,69.72 545.5,69.6 Q546.8,69.47 548,69.79 Q549.2,70.11 550.02,70.51 Q550.83,70.91 551.39,71.63 Q551.94,72.35 552.17,73.58Z" fill="#67737a" opacity="0.35" transform="translate(0.8 0.9)"/>
<path d="M552.17,73.58 Q552.4,74.8 552.25,76.06 Q552.09,77.32 551.44,77.98 Q550.79,78.64 549.96,78.99 Q549.13,79.34 547.96,79.35 Q546.8,79.36 545.53,79.55 Q544.27,79.74 543.55,79.18 Q542.82,78.63 542.2,77.96 Q541.58,77.29 541.62,76.04 Q541.66,74.8 541.61,73.55 Q541.57,72.31 542.28,71.72 Q542.99,71.13 543.59,70.43 Q544.2,69.72 545.5,69.6 Q546.8,69.47 548,69.79 Q549.2,70.11 550.02,70.51 Q550.83,70.91 551.39,71.63 Q551.94,72.35 552.17,73.58Z" fill="url(#tg)"/>
<g clip-path="url(#tc6)">
<ellipse cx="544.1" cy="75.25" rx="1.93" ry="0.99" fill="#e7b08a" opacity="0.55"/>
<ellipse cx="548.43" cy="77.72" rx="1.27" ry="0.8" fill="#c8683f" opacity="0.55"/>
<ellipse cx="549.48" cy="74.34" rx="0.93" ry="0.92" fill="#a84a2e" opacity="0.55"/>
<ellipse cx="549.41" cy="71.39" rx="0.86" ry="1.69" fill="#a84a2e" opacity="0.55"/>
<ellipse cx="550.43" cy="74.69" rx="1.97" ry="0.91" fill="#e7b08a" opacity="0.55"/>
<ellipse cx="548.07" cy="76.48" rx="1.93" ry="1.77" fill="#f4d6bb" opacity="0.55"/>
<ellipse cx="547.97" cy="72.64" rx="1.4" ry="1.09" fill="#f4d6bb" opacity="0.55"/>
<ellipse cx="543.19" cy="78.02" rx="1.54" ry="0.83" fill="#a84a2e" opacity="0.55"/>
<ellipse cx="544.76" cy="76.66" rx="1.33" ry="0.95" fill="#e7b08a" opacity="0.55"/>
</g>
<clipPath id="tc7"><path d="M552.12,87.82 Q552.32,88.6 552.09,89.36 Q551.86,90.13 551.64,90.75 Q551.43,91.38 550.55,91.51 Q549.67,91.64 548.63,91.91 Q547.6,92.18 546.5,92.01 Q545.39,91.84 544.81,91.44 Q544.23,91.04 543.61,90.65 Q543,90.25 543.09,89.42 Q543.18,88.6 543.12,87.79 Q543.07,86.98 543.65,86.56 Q544.22,86.15 544.87,85.85 Q545.52,85.55 546.56,85.33 Q547.6,85.1 548.81,85.07 Q550.03,85.04 550.52,85.58 Q551.02,86.12 551.48,86.58 Q551.93,87.05 552.12,87.82Z"/></clipPath>
<path d="M552.12,87.82 Q552.32,88.6 552.09,89.36 Q551.86,90.13 551.64,90.75 Q551.43,91.38 550.55,91.51 Q549.67,91.64 548.63,91.91 Q547.6,92.18 546.5,92.01 Q545.39,91.84 544.81,91.44 Q544.23,91.04 543.61,90.65 Q543,90.25 543.09,89.42 Q543.18,88.6 543.12,87.79 Q543.07,86.98 543.65,86.56 Q544.22,86.15 544.87,85.85 Q545.52,85.55 546.56,85.33 Q547.6,85.1 548.81,85.07 Q550.03,85.04 550.52,85.58 Q551.02,86.12 551.48,86.58 Q551.93,87.05 552.12,87.82Z" fill="#67737a" opacity="0.35" transform="translate(0.8 0.9)"/>
<path d="M552.12,87.82 Q552.32,88.6 552.09,89.36 Q551.86,90.13 551.64,90.75 Q551.43,91.38 550.55,91.51 Q549.67,91.64 548.63,91.91 Q547.6,92.18 546.5,92.01 Q545.39,91.84 544.81,91.44 Q544.23,91.04 543.61,90.65 Q543,90.25 543.09,89.42 Q543.18,88.6 543.12,87.79 Q543.07,86.98 543.65,86.56 Q544.22,86.15 544.87,85.85 Q545.52,85.55 546.56,85.33 Q547.6,85.1 548.81,85.07 Q550.03,85.04 550.52,85.58 Q551.02,86.12 551.48,86.58 Q551.93,87.05 552.12,87.82Z" fill="url(#tg)"/>
<g clip-path="url(#tc7)">
<ellipse cx="548.64" cy="91.25" rx="1.61" ry="1.14" fill="#f0c9a6" opacity="0.55"/>
<ellipse cx="543.9" cy="90.72" rx="1.21" ry="0.86" fill="#f4d6bb" opacity="0.55"/>
<ellipse cx="548.18" cy="88.96" rx="1.75" ry="0.81" fill="#e7b08a" opacity="0.55"/>
<ellipse cx="548.73" cy="87.84" rx="1.57" ry="0.77" fill="#f4d6bb" opacity="0.55"/>
<ellipse cx="548.57" cy="88.58" rx="1.54" ry="1.55" fill="#c8683f" opacity="0.55"/>
<ellipse cx="548.3" cy="88.32" rx="1.22" ry="1.57" fill="#a84a2e" opacity="0.55"/>
<ellipse cx="549.88" cy="86.12" rx="1.22" ry="1.24" fill="#b4502f" opacity="0.55"/>
<ellipse cx="549.47" cy="87.34" rx="2.17" ry="0.83" fill="#c8683f" opacity="0.55"/>
<ellipse cx="544.87" cy="87.66" rx="2.11" ry="1.16" fill="#a84a2e" opacity="0.55"/>
</g>
<clipPath id="tc8"><path d="M568.65,33.75 Q568.81,34.45 569.07,35.27 Q569.32,36.09 568.34,36.39 Q567.36,36.7 566.72,37.15 Q566.08,37.6 564.64,37.49 Q563.2,37.39 561.89,37.35 Q560.59,37.31 559.4,37.23 Q558.22,37.14 558.09,36.5 Q557.95,35.85 557.51,35.15 Q557.07,34.45 557.37,33.71 Q557.66,32.97 558.2,32.5 Q558.73,32.04 559.59,31.74 Q560.44,31.43 561.82,31.44 Q563.2,31.44 564.68,31.33 Q566.15,31.22 566.74,31.72 Q567.33,32.22 567.9,32.63 Q568.48,33.04 568.65,33.75Z"/></clipPath>
<path d="M568.65,33.75 Q568.81,34.45 569.07,35.27 Q569.32,36.09 568.34,36.39 Q567.36,36.7 566.72,37.15 Q566.08,37.6 564.64,37.49 Q563.2,37.39 561.89,37.35 Q560.59,37.31 559.4,37.23 Q558.22,37.14 558.09,36.5 Q557.95,35.85 557.51,35.15 Q557.07,34.45 557.37,33.71 Q557.66,32.97 558.2,32.5 Q558.73,32.04 559.59,31.74 Q560.44,31.43 561.82,31.44 Q563.2,31.44 564.68,31.33 Q566.15,31.22 566.74,31.72 Q567.33,32.22 567.9,32.63 Q568.48,33.04 568.65,33.75Z" fill="#67737a" opacity="0.35" transform="translate(0.8 0.9)"/>
<path d="M568.65,33.75 Q568.81,34.45 569.07,35.27 Q569.32,36.09 568.34,36.39 Q567.36,36.7 566.72,37.15 Q566.08,37.6 564.64,37.49 Q563.2,37.39 561.89,37.35 Q560.59,37.31 559.4,37.23 Q558.22,37.14 558.09,36.5 Q557.95,35.85 557.51,35.15 Q557.07,34.45 557.37,33.71 Q557.66,32.97 558.2,32.5 Q558.73,32.04 559.59,31.74 Q560.44,31.43 561.82,31.44 Q563.2,31.44 564.68,31.33 Q566.15,31.22 566.74,31.72 Q567.33,32.22 567.9,32.63 Q568.48,33.04 568.65,33.75Z" fill="url(#tg)"/>
<g clip-path="url(#tc8)">
<ellipse cx="558.44" cy="33.2" rx="1.37" ry="1.69" fill="#c8683f" opacity="0.55"/>
<ellipse cx="565.44" cy="35.32" rx="0.94" ry="1.6" fill="#c8683f" opacity="0.55"/>
<ellipse cx="564.39" cy="33.79" rx="1.73" ry="1.07" fill="#a84a2e" opacity="0.55"/>
<ellipse cx="559.09" cy="36.61" rx="1.52" ry="0.93" fill="#f0c9a6" opacity="0.55"/>
<ellipse cx="564.26" cy="34.66" rx="0.85" ry="1.47" fill="#f0c9a6" opacity="0.55"/>
<ellipse cx="567.62" cy="34.87" rx="1.82" ry="1.67" fill="#b4502f" opacity="0.55"/>
<ellipse cx="563.77" cy="36.35" rx="1.4" ry="0.87" fill="#e7b08a" opacity="0.55"/>
<ellipse cx="559.21" cy="35.47" rx="1.78" ry="1.74" fill="#c8683f" opacity="0.55"/>
<ellipse cx="563.24" cy="32.83" rx="1.01" ry="1.28" fill="#e7b08a" opacity="0.55"/>
</g>
<clipPath id="tc9"><path d="M568.38,47.39 Q568.67,48.25 568.48,49.15 Q568.29,50.05 567.79,50.55 Q567.28,51.04 566.8,51.66 Q566.32,52.28 565.14,52.05 Q563.95,51.82 562.85,51.91 Q561.75,51.99 560.9,51.76 Q560.05,51.52 559.96,50.73 Q559.88,49.94 559.51,49.09 Q559.14,48.25 559.26,47.3 Q559.38,46.36 560.04,45.94 Q560.69,45.52 561.25,45.06 Q561.8,44.6 562.88,44.35 Q563.95,44.1 565.04,44.32 Q566.13,44.55 566.93,44.82 Q567.72,45.09 567.91,45.81 Q568.09,46.53 568.38,47.39Z"/></clipPath>
<path d="M568.38,47.39 Q568.67,48.25 568.48,49.15 Q568.29,50.05 567.79,50.55 Q567.28,51.04 566.8,51.66 Q566.32,52.28 565.14,52.05 Q563.95,51.82 562.85,51.91 Q561.75,51.99 560.9,51.76 Q560.05,51.52 559.96,50.73 Q559.88,49.94 559.51,49.09 Q559.14,48.25 559.26,47.3 Q559.38,46.36 560.04,45.94 Q560.69,45.52 561.25,45.06 Q561.8,44.6 562.88,44.35 Q563.95,44.1 565.04,44.32 Q566.13,44.55 566.93,44.82 Q567.72,45.09 567.91,45.81 Q568.09,46.53 568.38,47.39Z" fill="#67737a" opacity="0.35" transform="translate(0.8 0.9)"/>
<path d="M568.38,47.39 Q568.67,48.25 568.48,49.15 Q568.29,50.05 567.79,50.55 Q567.28,51.04 566.8,51.66 Q566.32,52.28 565.14,52.05 Q563.95,51.82 562.85,51.91 Q561.75,51.99 560.9,51.76 Q560.05,51.52 559.96,50.73 Q559.88,49.94 559.51,49.09 Q559.14,48.25 559.26,47.3 Q559.38,46.36 560.04,45.94 Q560.69,45.52 561.25,45.06 Q561.8,44.6 562.88,44.35 Q563.95,44.1 565.04,44.32 Q566.13,44.55 566.93,44.82 Q567.72,45.09 567.91,45.81 Q568.09,46.53 568.38,47.39Z" fill="url(#tg)"/>
<g clip-path="url(#tc9)">
<ellipse cx="561.88" cy="45.67" rx="1.51" ry="1.72" fill="#e7b08a" opacity="0.55"/>
<ellipse cx="560.49" cy="49.5" rx="1.91" ry="1.68" fill="#b4502f" opacity="0.55"/>
<ellipse cx="561.61" cy="46.42" rx="1.91" ry="1.68" fill="#b4502f" opacity="0.55"/>
<ellipse cx="567.21" cy="47.56" rx="1.28" ry="0.75" fill="#a84a2e" opacity="0.55"/>
<ellipse cx="567.01" cy="50.77" rx="0.88" ry="1.12" fill="#c8683f" opacity="0.55"/>
<ellipse cx="561.09" cy="46.5" rx="1.83" ry="1.64" fill="#e7b08a" opacity="0.55"/>
<ellipse cx="560.02" cy="50.01" rx="1.08" ry="1.64" fill="#b4502f" opacity="0.55"/>
<ellipse cx="560.06" cy="45.48" rx="1.56" ry="0.72" fill="#f4d6bb" opacity="0.55"/>
<ellipse cx="564.53" cy="48.5" rx="1.08" ry="0.78" fill="#f0c9a6" opacity="0.55"/>
</g>
<clipPath id="tc10"><path d="M568.68,60.1 Q568.79,60.95 568.61,61.77 Q568.43,62.59 568.13,63.16 Q567.82,63.72 567.15,63.92 Q566.48,64.12 565.62,64.45 Q564.75,64.78 563.76,64.67 Q562.78,64.56 562.21,64.16 Q561.63,63.77 561.45,63.13 Q561.28,62.5 561.01,61.73 Q560.75,60.95 560.95,60.15 Q561.14,59.34 561.52,58.85 Q561.89,58.36 562.31,57.81 Q562.73,57.25 563.74,57.11 Q564.75,56.98 565.59,57.43 Q566.42,57.89 567.21,57.95 Q568,58.02 568.28,58.63 Q568.57,59.24 568.68,60.1Z"/></clipPath>
<path d="M568.68,60.1 Q568.79,60.95 568.61,61.77 Q568.43,62.59 568.13,63.16 Q567.82,63.72 567.15,63.92 Q566.48,64.12 565.62,64.45 Q564.75,64.78 563.76,64.67 Q562.78,64.56 562.21,64.16 Q561.63,63.77 561.45,63.13 Q561.28,62.5 561.01,61.73 Q560.75,60.95 560.95,60.15 Q561.14,59.34 561.52,58.85 Q561.89,58.36 562.31,57.81 Q562.73,57.25 563.74,57.11 Q564.75,56.98 565.59,57.43 Q566.42,57.89 567.21,57.95 Q568,58.02 568.28,58.63 Q568.57,59.24 568.68,60.1Z" fill="#67737a" opacity="0.35" transform="translate(0.8 0.9)"/>
<path d="M568.68,60.1 Q568.79,60.95 568.61,61.77 Q568.43,62.59 568.13,63.16 Q567.82,63.72 567.15,63.92 Q566.48,64.12 565.62,64.45 Q564.75,64.78 563.76,64.67 Q562.78,64.56 562.21,64.16 Q561.63,63.77 561.45,63.13 Q561.28,62.5 561.01,61.73 Q560.75,60.95 560.95,60.15 Q561.14,59.34 561.52,58.85 Q561.89,58.36 562.31,57.81 Q562.73,57.25 563.74,57.11 Q564.75,56.98 565.59,57.43 Q566.42,57.89 567.21,57.95 Q568,58.02 568.28,58.63 Q568.57,59.24 568.68,60.1Z" fill="url(#tg)"/>
<g clip-path="url(#tc10)">
<ellipse cx="563.96" cy="59.65" rx="1.74" ry="1.2" fill="#a84a2e" opacity="0.55"/>
<ellipse cx="563.44" cy="60.13" rx="1.44" ry="1.65" fill="#f0c9a6" opacity="0.55"/>
<ellipse cx="567.87" cy="61.63" rx="0.86" ry="0.7" fill="#f0c9a6" opacity="0.55"/>
<ellipse cx="562.72" cy="63.41" rx="1.55" ry="1.55" fill="#f0c9a6" opacity="0.55"/>
<ellipse cx="563.52" cy="61.24" rx="1.41" ry="0.77" fill="#e7b08a" opacity="0.55"/>
<ellipse cx="563.59" cy="60.96" rx="1.98" ry="1.77" fill="#f0c9a6" opacity="0.55"/>
<ellipse cx="561.68" cy="60.93" rx="1.95" ry="1.42" fill="#e7b08a" opacity="0.55"/>
<ellipse cx="567.57" cy="58.44" rx="1.34" ry="1.74" fill="#e7b08a" opacity="0.55"/>
<ellipse cx="562.42" cy="63.73" rx="1.88" ry="1.19" fill="#f0c9a6" opacity="0.55"/>
</g>
<clipPath id="tc11"><path d="M567.19,73.72 Q567.48,74.4 567.4,75.17 Q567.32,75.93 567.06,76.51 Q566.79,77.09 566.03,77.27 Q565.27,77.44 564.31,77.56 Q563.35,77.67 562.36,77.59 Q561.38,77.52 560.89,77.12 Q560.39,76.71 559.91,76.31 Q559.42,75.92 559.24,75.16 Q559.06,74.4 559.13,73.6 Q559.19,72.79 559.82,72.46 Q560.45,72.14 560.97,71.8 Q561.49,71.46 562.42,71.44 Q563.35,71.41 564.38,71.28 Q565.41,71.14 566.03,71.48 Q566.64,71.83 566.77,72.43 Q566.9,73.03 567.19,73.72Z"/></clipPath>
<path d="M567.19,73.72 Q567.48,74.4 567.4,75.17 Q567.32,75.93 567.06,76.51 Q566.79,77.09 566.03,77.27 Q565.27,77.44 564.31,77.56 Q563.35,77.67 562.36,77.59 Q561.38,77.52 560.89,77.12 Q560.39,76.71 559.91,76.31 Q559.42,75.92 559.24,75.16 Q559.06,74.4 559.13,73.6 Q559.19,72.79 559.82,72.46 Q560.45,72.14 560.97,71.8 Q561.49,71.46 562.42,71.44 Q563.35,71.41 564.38,71.28 Q565.41,71.14 566.03,71.48 Q566.64,71.83 566.77,72.43 Q566.9,73.03 567.19,73.72Z" fill="#67737a" opacity="0.35" transform="translate(0.8 0.9)"/>
<path d="M567.19,73.72 Q567.48,74.4 567.4,75.17 Q567.32,75.93 567.06,76.51 Q566.79,77.09 566.03,77.27 Q565.27,77.44 564.31,77.56 Q563.35,77.67 562.36,77.59 Q561.38,77.52 560.89,77.12 Q560.39,76.71 559.91,76.31 Q559.42,75.92 559.24,75.16 Q559.06,74.4 559.13,73.6 Q559.19,72.79 559.82,72.46 Q560.45,72.14 560.97,71.8 Q561.49,71.46 562.42,71.44 Q563.35,71.41 564.38,71.28 Q565.41,71.14 566.03,71.48 Q566.64,71.83 566.77,72.43 Q566.9,73.03 567.19,73.72Z" fill="url(#tg)"/>
<g clip-path="url(#tc11)">
<ellipse cx="566.71" cy="76.93" rx="1.72" ry="1.38" fill="#f0c9a6" opacity="0.55"/>
<ellipse cx="564.21" cy="76.2" rx="0.89" ry="0.74" fill="#f0c9a6" opacity="0.55"/>
<ellipse cx="564.04" cy="75.91" rx="1.26" ry="1.35" fill="#f0c9a6" opacity="0.55"/>
<ellipse cx="563.48" cy="75.16" rx="1.5" ry="1.43" fill="#c8683f" opacity="0.55"/>
<ellipse cx="564.43" cy="73.89" rx="1.57" ry="1.72" fill="#f4d6bb" opacity="0.55"/>
<ellipse cx="564.8" cy="73.4" rx="1.12" ry="1.02" fill="#f4d6bb" opacity="0.55"/>
<ellipse cx="563.79" cy="72.27" rx="0.95" ry="1.02" fill="#f4d6bb" opacity="0.55"/>
<ellipse cx="566.54" cy="76.29" rx="0.8" ry="0.93" fill="#f4d6bb" opacity="0.55"/>
<ellipse cx="563.14" cy="77.01" rx="1.36" ry="0.78" fill="#a84a2e" opacity="0.55"/>
</g>
<clipPath id="tc12"><path d="M569.11,86.64 Q569.05,87.45 568.98,88.22 Q568.92,88.99 568.42,89.48 Q567.93,89.97 566.98,90.11 Q566.04,90.24 564.89,90.29 Q563.75,90.34 562.55,90.36 Q561.34,90.39 560.62,90.08 Q559.9,89.77 559.16,89.41 Q558.43,89.04 558.32,88.24 Q558.21,87.45 558.43,86.69 Q558.64,85.93 559.15,85.46 Q559.66,84.98 560.43,84.66 Q561.2,84.33 562.47,84.4 Q563.75,84.47 564.97,84.47 Q566.19,84.47 566.85,84.83 Q567.5,85.18 568.34,85.51 Q569.17,85.83 569.11,86.64Z"/></clipPath>
<path d="M569.11,86.64 Q569.05,87.45 568.98,88.22 Q568.92,88.99 568.42,89.48 Q567.93,89.97 566.98,90.11 Q566.04,90.24 564.89,90.29 Q563.75,90.34 562.55,90.36 Q561.34,90.39 560.62,90.08 Q559.9,89.77 559.16,89.41 Q558.43,89.04 558.32,88.24 Q558.21,87.45 558.43,86.69 Q558.64,85.93 559.15,85.46 Q559.66,84.98 560.43,84.66 Q561.2,84.33 562.47,84.4 Q563.75,84.47 564.97,84.47 Q566.19,84.47 566.85,84.83 Q567.5,85.18 568.34,85.51 Q569.17,85.83 569.11,86.64Z" fill="#67737a" opacity="0.35" transform="translate(0.8 0.9)"/>
<path d="M569.11,86.64 Q569.05,87.45 568.98,88.22 Q568.92,88.99 568.42,89.48 Q567.93,89.97 566.98,90.11 Q566.04,90.24 564.89,90.29 Q563.75,90.34 562.55,90.36 Q561.34,90.39 560.62,90.08 Q559.9,89.77 559.16,89.41 Q558.43,89.04 558.32,88.24 Q558.21,87.45 558.43,86.69 Q558.64,85.93 559.15,85.46 Q559.66,84.98 560.43,84.66 Q561.2,84.33 562.47,84.4 Q563.75,84.47 564.97,84.47 Q566.19,84.47 566.85,84.83 Q567.5,85.18 568.34,85.51 Q569.17,85.83 569.11,86.64Z" fill="url(#tg)"/>
<g clip-path="url(#tc12)">
<ellipse cx="559.83" cy="89.16" rx="0.9" ry="1.46" fill="#b4502f" opacity="0.55"/>
<ellipse cx="565.36" cy="89.05" rx="0.92" ry="1.71" fill="#a84a2e" opacity="0.55"/>
<ellipse cx="563.83" cy="85.26" rx="2.18" ry="1.74" fill="#f4d6bb" opacity="0.55"/>
<ellipse cx="565.18" cy="89.98" rx="1.56" ry="1.67" fill="#e7b08a" opacity="0.55"/>
<ellipse cx="560.76" cy="88.51" rx="0.87" ry="0.89" fill="#f4d6bb" opacity="0.55"/>
<ellipse cx="562.87" cy="87.01" rx="1.63" ry="1.22" fill="#c8683f" opacity="0.55"/>
<ellipse cx="564.12" cy="88.2" rx="0.92" ry="0.91" fill="#a84a2e" opacity="0.55"/>
<ellipse cx="561.63" cy="89.81" rx="2.01" ry="1.12" fill="#b4502f" opacity="0.55"/>
<ellipse cx="560.32" cy="86.03" rx="1.31" ry="1.26" fill="#e7b08a" opacity="0.55"/>
</g>
<rect x="535.8" y="94.7" width="7.3" height="1.7" fill="#000"/>
<text x="531.5" y="106" font-size="8.0">1 cm</text>
<text x="544.6" y="25.6" font-size="7.8" transform="rotate(-42 544.6 25.6)"><tspan font-style="italic">Stat3</tspan><tspan dx="0.5" dy="-3.12" font-size="5.62">+/+</tspan></text>
<text x="562.4" y="26.0" font-size="7.8" transform="rotate(-42 562.4 26.0)"><tspan font-style="italic">Stat3</tspan><tspan dx="0.5" dy="-3.12" font-size="5.62">−/−</tspan></text>
<text x="615.3" y="7.9" font-size="11" font-weight="bold" fill="#000">g</text>
<line x1="647.3" y1="19" x2="647.3" y2="89" stroke="#58595b" stroke-width="0.8"/>
<line x1="643.3" y1="89" x2="647.3" y2="89" stroke="#58595b" stroke-width="0.8"/>
<text x="640.7" y="91.7" font-size="8.1" text-anchor="end">0</text>
<line x1="643.3" y1="75" x2="647.3" y2="75" stroke="#58595b" stroke-width="0.8"/>
<text x="640.7" y="77.7" font-size="8.1" text-anchor="end">0.5</text>
<line x1="643.3" y1="61" x2="647.3" y2="61" stroke="#58595b" stroke-width="0.8"/>
<text x="640.7" y="63.7" font-size="8.1" text-anchor="end">1.0</text>
<line x1="643.3" y1="47" x2="647.3" y2="47" stroke="#58595b" stroke-width="0.8"/>
<text x="640.7" y="49.7" font-size="8.1" text-anchor="end">1.5</text>
<line x1="643.3" y1="33" x2="647.3" y2="33" stroke="#58595b" stroke-width="0.8"/>
<text x="640.7" y="35.7" font-size="8.1" text-anchor="end">2.0</text>
<line x1="643.3" y1="19" x2="647.3" y2="19" stroke="#58595b" stroke-width="0.8"/>
<text x="640.7" y="21.7" font-size="8.1" text-anchor="end">2.5</text>
<rect x="652" y="50.64" width="10" height="38.36" fill="#cadcf6" stroke="#2b2bd6" stroke-width="0.9"/>
<circle cx="657" cy="26.84" r="1.65" fill="#0808cc"/>
<circle cx="655.5" cy="47.84" r="1.65" fill="#0808cc"/>
<circle cx="657.5" cy="55.4" r="1.65" fill="#0808cc"/>
<circle cx="656.5" cy="68.84" r="1.65" fill="#0808cc"/>
<circle cx="658" cy="48.4" r="1.65" fill="#0808cc"/>
<line x1="657" y1="57.36" x2="657" y2="43.92" stroke="#2b2bd6" stroke-width="0.8"/>
<line x1="654.8" y1="43.92" x2="659.2" y2="43.92" stroke="#2b2bd6" stroke-width="0.8"/>
<line x1="654.8" y1="57.36" x2="659.2" y2="57.36" stroke="#2b2bd6" stroke-width="0.8"/>
<line x1="654.4" y1="50.64" x2="659.6" y2="50.64" stroke="#2b2bd6" stroke-width="0.8"/>
<rect x="667" y="75.84" width="10.6" height="13.16" fill="#ffdcdc" stroke="#f5262b" stroke-width="0.9"/>
<circle cx="669" cy="73.6" r="1.65" fill="#ff1414"/>
<circle cx="671.5" cy="75" r="1.65" fill="#ff1414"/>
<circle cx="674" cy="75.84" r="1.65" fill="#ff1414"/>
<circle cx="676" cy="75" r="1.65" fill="#ff1414"/>
<circle cx="672" cy="76.68" r="1.65" fill="#ff1414"/>
<line x1="672.3" y1="76.68" x2="672.3" y2="75" stroke="#f5262b" stroke-width="0.8"/>
<line x1="670.1" y1="75" x2="674.5" y2="75" stroke="#f5262b" stroke-width="0.8"/>
<line x1="670.1" y1="76.68" x2="674.5" y2="76.68" stroke="#f5262b" stroke-width="0.8"/>
<line x1="669.7" y1="75.84" x2="674.9" y2="75.84" stroke="#f5262b" stroke-width="0.8"/>
<line x1="643.3" y1="89" x2="683" y2="89" stroke="#58595b" stroke-width="0.8"/>
<line x1="657" y1="89" x2="657" y2="93.2" stroke="#58595b" stroke-width="0.8"/>
<line x1="672.3" y1="89" x2="672.3" y2="93.2" stroke="#58595b" stroke-width="0.8"/>
<text x="644.8" y="120.2" font-size="7.8" transform="rotate(-42 644.8 120.2)"><tspan font-style="italic">Stat3</tspan><tspan dx="0.5" dy="-3.12" font-size="5.62">+/+</tspan></text>
<text x="660.1" y="120.2" font-size="7.8" transform="rotate(-42 660.1 120.2)"><tspan font-style="italic">Stat3</tspan><tspan dx="0.5" dy="-3.12" font-size="5.62">−/−</tspan></text>
<text x="621.3" y="53.05" font-size="7.6" text-anchor="middle" textLength="60" lengthAdjust="spacingAndGlyphs" transform="rotate(-90 621.3 53.05)">Tumour mass (g)</text>
<text x="657" y="24.4" font-size="8.5" text-anchor="middle">**</text>
<text x="0.2" y="137.7" font-size="11" font-weight="bold" fill="#000">h</text>
<clipPath id="c17_143"><rect x="17.4" y="143.4" width="74.2" height="73"/></clipPath>
<path d="M19.5,179.3 L19.5,179.3 L20.2,178.27 L20.9,176.01 L21.6,174.65 L22.3,173.9 L23,172.13 L23.7,170.63 L24.4,168.72 L25.1,166.88 L25.8,166.63 L26.5,165.24 L27.2,162.04 L27.9,161.6 L28.6,159.51 L29.3,160.01 L30,157.61 L30.7,155.57 L31.4,156.22 L32.1,153.74 L32.8,153.29 L33.5,155.15 L34.2,154.56 L34.9,152.26 L35.6,150.24 L36.3,151.06 L37,150.73 L37.7,149.3 L38.4,149.75 L39.1,148.35 L39.8,147.36 L40.5,147.58 L41.2,148.82 L41.9,149.22 L42.6,148.93 L43.3,147.7 L44,147.79 L44.7,148.22 L45.4,145.06 L46.1,146.9 L46.8,149.37 L47.5,153.19 L48.2,153.33 L48.9,156.14 L49.6,158.43 L50.3,157.98 L51,157.08 L51.7,157.19 L52.4,156.86 L53.1,158.47 L53.8,157.8 L54.5,158.53 L55.2,159.74 L55.9,159.67 L56.6,161.32 L57.3,163.74 L58,166.73 L58.7,168.19 L59.4,170.74 L60.1,171.98 L60.8,172.77 L61.5,172.98 L62.2,173 L62.9,172.1 L63.6,172.06 L64.3,172.38 L65,173.34 L65.7,174.39 L66.4,175.44 L67.1,176.21 L67.8,177.32 L68.5,178.27 L69.2,178.97 L69.5,179.3 L69.5,179.3Z" fill="#ff6b6b" stroke="#ff3030" stroke-width="0.5" stroke-linejoin="round"/>
<path d="M19.4,216.4 L19.4,216.4 L20.1,214.69 L20.8,213.46 L21.5,213.38 L22.2,212.08 L22.9,209.44 L23.6,208.01 L24.3,206.54 L25,205.62 L25.7,203.51 L26.4,201.74 L27.1,199.87 L27.8,198.94 L28.5,196.41 L29.2,194.7 L29.9,192.23 L30.6,189.84 L31.3,188.32 L32,188.13 L32.7,187.25 L33.4,186.62 L34.1,186.29 L34.8,185.75 L35.5,183.73 L36.2,183.63 L36.9,182.85 L37.6,181.53 L38.3,183.59 L39,184.3 L39.7,185.61 L40.4,186.55 L41.1,185.93 L41.8,187.42 L42.5,187.15 L43.2,186.59 L43.9,188.49 L44.6,190.83 L45.3,189.88 L46,191.48 L46.7,192.97 L47.4,193.85 L48.1,195.5 L48.8,196.47 L49.5,198.53 L50.2,198.13 L50.9,199.23 L51.6,202.02 L52.3,201.96 L53,203.21 L53.7,204.85 L54.4,205.66 L55.1,206.5 L55.8,206.54 L56.5,208.03 L57.2,208.28 L57.9,209.8 L58.6,209.81 L59.3,210.6 L60,212 L60.7,212.29 L61.4,212.27 L62.1,212.96 L62.8,213.61 L63.5,214.22 L64.2,214.38 L64.9,214.23 L65.6,215.14 L66.3,214.58 L67,215.6 L67.7,215.19 L68.4,216.14 L69.1,216.23 L69.5,216.4 L69.5,216.4Z" fill="#7070ff" stroke="#3838ff" stroke-width="0.5" stroke-linejoin="round"/>
<line x1="45.4" y1="143.4" x2="45.4" y2="216.4" stroke="#1a1a1a" stroke-width="0.95" stroke-dasharray="2.4 1.5"/>
<rect x="17.4" y="143.4" width="74.2" height="73" fill="none" stroke="#231f20" stroke-width="0.8"/>
<line x1="17.4" y1="179.3" x2="91.6" y2="179.3" stroke="#231f20" stroke-width="0.8"/>
<text x="14.4" y="216.8" font-size="7.5" transform="rotate(-90 14.4 216.8)">Count</text>
<line x1="11.6" y1="194.1" x2="11.6" y2="147.4" stroke="#231f20" stroke-width="0.8"/>
<path d="M10,148.4 L11.6,144.7 L13.2,148.4 Z" fill="#231f20"/>
<text x="10.4" y="226.3" font-size="8.0">pSTAT5-PE-Cy7</text>
<line x1="74.2" y1="223.4" x2="86" y2="223.4" stroke="#231f20" stroke-width="0.8"/>
<path d="M85,221.8 L89,223.4 L85,225 Z" fill="#231f20"/>
<text x="102.6" y="161.35" font-size="8.5" text-anchor="middle" transform="rotate(-90 102.6 161.35)"><tspan font-style="italic">Stat3</tspan><tspan dx="0.5" dy="-3.4" font-size="6.12">−/−</tspan></text>
<text x="102.6" y="197.85" font-size="8.5" text-anchor="middle" transform="rotate(-90 102.6 197.85)"><tspan font-style="italic">Stat3</tspan><tspan dx="0.5" dy="-3.4" font-size="6.12">+/+</tspan></text>
<text x="125.7" y="137.7" font-size="11" font-weight="bold" fill="#000">i</text>
<line x1="159" y1="144.9" x2="159" y2="215.1" stroke="#58595b" stroke-width="0.8"/>
<line x1="155" y1="215.1" x2="159" y2="215.1" stroke="#58595b" stroke-width="0.8"/>
<text x="152.4" y="217.8" font-size="8.1" text-anchor="end">0</text>
<line x1="155" y1="191.7" x2="159" y2="191.7" stroke="#58595b" stroke-width="0.8"/>
<text x="152.4" y="194.4" font-size="8.1" text-anchor="end">150</text>
<line x1="155" y1="168.3" x2="159" y2="168.3" stroke="#58595b" stroke-width="0.8"/>
<text x="152.4" y="171" font-size="8.1" text-anchor="end">300</text>
<line x1="155" y1="144.9" x2="159" y2="144.9" stroke="#58595b" stroke-width="0.8"/>
<text x="152.4" y="147.6" font-size="8.1" text-anchor="end">450</text>
<rect x="163.6" y="183.9" width="10.2" height="31.2" fill="#cadcf6" stroke="#2b2bd6" stroke-width="0.9"/>
<circle cx="168.7" cy="175.16" r="1.65" fill="#0808cc"/>
<circle cx="168.7" cy="194.35" r="1.65" fill="#0808cc"/>
<circle cx="167.5" cy="183.12" r="1.65" fill="#0808cc"/>
<line x1="168.7" y1="189.36" x2="168.7" y2="178.44" stroke="#2b2bd6" stroke-width="0.8"/>
<line x1="166.5" y1="178.44" x2="170.9" y2="178.44" stroke="#2b2bd6" stroke-width="0.8"/>
<line x1="166.5" y1="189.36" x2="170.9" y2="189.36" stroke="#2b2bd6" stroke-width="0.8"/>
<line x1="166.1" y1="183.9" x2="171.3" y2="183.9" stroke="#2b2bd6" stroke-width="0.8"/>
<rect x="179.5" y="158.63" width="10.2" height="56.47" fill="#ffdcdc" stroke="#f5262b" stroke-width="0.9"/>
<circle cx="180.8" cy="154.57" r="1.65" fill="#ff1414"/>
<circle cx="188" cy="158.47" r="1.65" fill="#ff1414"/>
<circle cx="184.6" cy="162.84" r="1.65" fill="#ff1414"/>
<line x1="184.6" y1="160.97" x2="184.6" y2="156.29" stroke="#f5262b" stroke-width="0.8"/>
<line x1="182.4" y1="156.29" x2="186.8" y2="156.29" stroke="#f5262b" stroke-width="0.8"/>
<line x1="182.4" y1="160.97" x2="186.8" y2="160.97" stroke="#f5262b" stroke-width="0.8"/>
<line x1="182" y1="158.63" x2="187.2" y2="158.63" stroke="#f5262b" stroke-width="0.8"/>
<line x1="155" y1="215.1" x2="194.9" y2="215.1" stroke="#58595b" stroke-width="0.8"/>
<line x1="168.7" y1="215.1" x2="168.7" y2="219.3" stroke="#58595b" stroke-width="0.8"/>
<line x1="184.6" y1="215.1" x2="184.6" y2="219.3" stroke="#58595b" stroke-width="0.8"/>
<text x="156.5" y="246.3" font-size="7.8" transform="rotate(-42 156.5 246.3)"><tspan font-style="italic">Stat3</tspan><tspan dx="0.5" dy="-3.12" font-size="5.62">+/+</tspan></text>
<text x="172.4" y="246.3" font-size="7.8" transform="rotate(-42 172.4 246.3)"><tspan font-style="italic">Stat3</tspan><tspan dx="0.5" dy="-3.12" font-size="5.62">−/−</tspan></text>
<text x="132" y="176.75" font-size="7.6" text-anchor="middle" textLength="73.4" lengthAdjust="spacingAndGlyphs" transform="rotate(-90 132 176.75)">pSTAT5 (MFI in cDC1)</text>
<text x="184.6" y="153.9" font-size="8.5" text-anchor="middle">*</text>
<text x="213.1" y="137.7" font-size="11" font-weight="bold" fill="#000">j</text>
<line x1="240.5" y1="144.9" x2="240.5" y2="215.1" stroke="#58595b" stroke-width="0.8"/>
<line x1="236.5" y1="215.1" x2="240.5" y2="215.1" stroke="#58595b" stroke-width="0.8"/>
<text x="233.9" y="217.8" font-size="8.1" text-anchor="end">0</text>
<line x1="236.5" y1="191.7" x2="240.5" y2="191.7" stroke="#58595b" stroke-width="0.8"/>
<text x="233.9" y="194.4" font-size="8.1" text-anchor="end">10</text>
<line x1="236.5" y1="168.3" x2="240.5" y2="168.3" stroke="#58595b" stroke-width="0.8"/>
<text x="233.9" y="171" font-size="8.1" text-anchor="end">20</text>
<line x1="236.5" y1="144.9" x2="240.5" y2="144.9" stroke="#58595b" stroke-width="0.8"/>
<text x="233.9" y="147.6" font-size="8.1" text-anchor="end">30</text>
<rect x="245.4" y="199.19" width="10.2" height="15.91" fill="#cadcf6" stroke="#2b2bd6" stroke-width="0.9"/>
<circle cx="250.5" cy="187.25" r="1.65" fill="#0808cc"/>
<circle cx="250.5" cy="201.53" r="1.65" fill="#0808cc"/>
<circle cx="250.5" cy="210.3" r="1.65" fill="#0808cc"/>
<line x1="250.5" y1="206.21" x2="250.5" y2="192.17" stroke="#2b2bd6" stroke-width="0.8"/>
<line x1="248.3" y1="192.17" x2="252.7" y2="192.17" stroke="#2b2bd6" stroke-width="0.8"/>
<line x1="248.3" y1="206.21" x2="252.7" y2="206.21" stroke="#2b2bd6" stroke-width="0.8"/>
<line x1="247.9" y1="199.19" x2="253.1" y2="199.19" stroke="#2b2bd6" stroke-width="0.8"/>
<rect x="261.5" y="166.43" width="9.8" height="48.67" fill="#ffdcdc" stroke="#f5262b" stroke-width="0.9"/>
<circle cx="266.4" cy="156.6" r="1.65" fill="#ff1414"/>
<circle cx="265.9" cy="168.07" r="1.65" fill="#ff1414"/>
<circle cx="266.4" cy="175.09" r="1.65" fill="#ff1414"/>
<line x1="266.4" y1="171.58" x2="266.4" y2="161.28" stroke="#f5262b" stroke-width="0.8"/>
<line x1="264.2" y1="161.28" x2="268.6" y2="161.28" stroke="#f5262b" stroke-width="0.8"/>
<line x1="264.2" y1="171.58" x2="268.6" y2="171.58" stroke="#f5262b" stroke-width="0.8"/>
<line x1="263.8" y1="166.43" x2="269" y2="166.43" stroke="#f5262b" stroke-width="0.8"/>
<line x1="236.5" y1="215.1" x2="276.4" y2="215.1" stroke="#58595b" stroke-width="0.8"/>
<line x1="250.5" y1="215.1" x2="250.5" y2="219.3" stroke="#58595b" stroke-width="0.8"/>
<line x1="266.4" y1="215.1" x2="266.4" y2="219.3" stroke="#58595b" stroke-width="0.8"/>
<text x="238.3" y="246.3" font-size="7.8" transform="rotate(-42 238.3 246.3)"><tspan font-style="italic">Stat3</tspan><tspan dx="0.5" dy="-3.12" font-size="5.62">+/+</tspan></text>
<text x="254.2" y="246.3" font-size="7.8" transform="rotate(-42 254.2 246.3)"><tspan font-style="italic">Stat3</tspan><tspan dx="0.5" dy="-3.12" font-size="5.62">−/−</tspan></text>
<text x="218.6" y="178.95" font-size="7.6" text-anchor="middle" textLength="74.2" lengthAdjust="spacingAndGlyphs" transform="rotate(-90 218.6 178.95)">pSTAT5 (% in cDC1)</text>
<text x="266.4" y="152.9" font-size="8.5" text-anchor="middle">*</text>
<text x="291.1" y="137.7" font-size="11" font-weight="bold" fill="#000">k</text>
<clipPath id="c300_144"><rect x="300.4" y="144.9" width="74.3" height="72.8"/></clipPath>
<path d="M326,181.5 L326,181.5 L326.6,181.5 L327.2,180.76 L327.8,180.76 L328.4,179.98 L329,179.61 L329.6,180.39 L330.2,180.13 L330.8,177.94 L331.4,178.67 L332,178.25 L332.6,176.03 L333.2,176.74 L333.8,175.37 L334.4,175.58 L335,174.43 L335.6,174.98 L336.2,172.96 L336.8,171.55 L337.4,171.55 L338,169.78 L338.6,168.87 L339.2,169.78 L339.8,166.33 L340.4,165.55 L341,165.18 L341.6,164.82 L342.2,159.97 L342.8,160.15 L343.4,157.58 L344,155.33 L344.6,154.6 L345.2,152.05 L345.8,153.26 L346.4,149.54 L347,149.89 L347.6,145.47 L348.2,145.89 L348.8,151.26 L349.4,152.04 L350,152.65 L350.6,149.77 L351.2,153.67 L351.8,153.88 L352.4,156.65 L353,156.82 L353.6,158.55 L354.2,159.72 L354.8,159.41 L355.4,160.16 L356,159.56 L356.6,161.23 L357.2,160.99 L357.8,162.05 L358.4,162.29 L359,164.27 L359.6,166.87 L360.2,165.01 L360.8,165.18 L361.4,165.92 L362,167.6 L362.6,167.64 L363.2,169.76 L363.8,168.11 L364.4,169.31 L365,170.59 L365.6,171.63 L366.2,169.64 L366.8,169.84 L367.4,173.08 L368,171.62 L368.6,173.31 L369.2,174.56 L369.8,174.68 L370.4,173.95 L371,174.22 L371.6,176.79 L372.2,175.88 L372.8,177.64 L373.4,176.49 L374,177.8 L374.6,177 L374.6,181.5Z" fill="#ff6b6b" stroke="#ff3030" stroke-width="0.5" stroke-linejoin="round"/>
<path d="M317,217.7 L317,217.7 L317.7,217.53 L318.4,217.7 L319.1,217.7 L319.8,217.21 L320.5,217.08 L321.2,216.53 L321.9,215.12 L322.6,212.79 L323.3,211.74 L324,210.52 L324.7,210.9 L325.4,209.06 L326.1,208.79 L326.8,208.11 L327.5,207.35 L328.2,206.03 L328.9,202.65 L329.6,201.93 L330.3,201.1 L331,200.43 L331.7,202.01 L332.4,200.91 L333.1,199.04 L333.8,198.2 L334.5,197.27 L335.2,196.73 L335.9,199.55 L336.6,196.99 L337.3,196.28 L338,196.56 L338.7,197.55 L339.4,196.24 L340.1,198.14 L340.8,194.78 L341.5,195.34 L342.2,196.94 L342.9,198.23 L343.6,195.95 L344.3,197.75 L345,197.1 L345.7,197.85 L346.4,199.78 L347.1,200.72 L347.8,200.53 L348.5,201.66 L349.2,203.15 L349.9,203.12 L350.6,202.28 L351.3,205.9 L352,206.85 L352.7,206.01 L353.4,207.98 L354.1,208.07 L354.8,209.09 L355.5,210.28 L356.2,209.29 L356.9,211.78 L357.6,211.64 L358.3,212.57 L359,211.95 L359.7,213.38 L360.4,213.78 L361.1,213.51 L361.8,215.01 L362.5,215.07 L363.2,214.92 L363.9,217.01 L364.6,217.6 L365.3,217.7 L365.8,217.7 L365.8,217.7Z" fill="#7070ff" stroke="#3838ff" stroke-width="0.5" stroke-linejoin="round"/>
<line x1="345.8" y1="144.9" x2="345.8" y2="217.7" stroke="#1a1a1a" stroke-width="0.95" stroke-dasharray="2.4 1.5"/>
<rect x="300.4" y="144.9" width="74.3" height="72.8" fill="none" stroke="#231f20" stroke-width="0.8"/>
<line x1="300.4" y1="181.5" x2="374.7" y2="181.5" stroke="#231f20" stroke-width="0.8"/>
<text x="297.2" y="218.1" font-size="7.5" transform="rotate(-90 297.2 218.1)">Count</text>
<line x1="294.4" y1="195.4" x2="294.4" y2="148.9" stroke="#231f20" stroke-width="0.8"/>
<path d="M292.8,149.9 L294.4,146.2 L296,149.9 Z" fill="#231f20"/>
<text x="300.9" y="227.6" font-size="8.0">MHCII-BV421</text>
<line x1="354" y1="224.7" x2="371.7" y2="224.7" stroke="#231f20" stroke-width="0.8"/>
<path d="M370.7,223.1 L374.7,224.7 L370.7,226.3 Z" fill="#231f20"/>
<text x="386.3" y="163.2" font-size="8.5" text-anchor="middle" transform="rotate(-90 386.3 163.2)"><tspan font-style="italic">Stat3</tspan><tspan dx="0.5" dy="-3.4" font-size="6.12">−/−</tspan></text>
<text x="386.3" y="199.6" font-size="8.5" text-anchor="middle" transform="rotate(-90 386.3 199.6)"><tspan font-style="italic">Stat3</tspan><tspan dx="0.5" dy="-3.4" font-size="6.12">+/+</tspan></text>
<text x="410.8" y="137.7" font-size="11" font-weight="bold" fill="#000">l</text>
<line x1="441" y1="144.9" x2="441" y2="215.1" stroke="#58595b" stroke-width="0.8"/>
<line x1="437" y1="215.1" x2="441" y2="215.1" stroke="#58595b" stroke-width="0.8"/>
<text x="434.4" y="217.8" font-size="8.1" text-anchor="end">0</text>
<line x1="437" y1="197.55" x2="441" y2="197.55" stroke="#58595b" stroke-width="0.8"/>
<text x="434.4" y="200.25" font-size="8.1" text-anchor="end">10</text>
<line x1="437" y1="180" x2="441" y2="180" stroke="#58595b" stroke-width="0.8"/>
<text x="434.4" y="182.7" font-size="8.1" text-anchor="end">20</text>
<line x1="437" y1="162.45" x2="441" y2="162.45" stroke="#58595b" stroke-width="0.8"/>
<text x="434.4" y="165.15" font-size="8.1" text-anchor="end">30</text>
<line x1="437" y1="144.9" x2="441" y2="144.9" stroke="#58595b" stroke-width="0.8"/>
<text x="434.4" y="147.6" font-size="8.1" text-anchor="end">40</text>
<rect x="446" y="183.51" width="10.4" height="31.59" fill="#cadcf6" stroke="#2b2bd6" stroke-width="0.9"/>
<circle cx="451.3" cy="174.74" r="1.65" fill="#0808cc"/>
<circle cx="447.5" cy="179.65" r="1.65" fill="#0808cc"/>
<circle cx="455" cy="180.35" r="1.65" fill="#0808cc"/>
<circle cx="451.3" cy="195.62" r="1.65" fill="#0808cc"/>
<line x1="451.2" y1="188.78" x2="451.2" y2="178.25" stroke="#2b2bd6" stroke-width="0.8"/>
<line x1="449" y1="178.25" x2="453.4" y2="178.25" stroke="#2b2bd6" stroke-width="0.8"/>
<line x1="449" y1="188.78" x2="453.4" y2="188.78" stroke="#2b2bd6" stroke-width="0.8"/>
<line x1="448.6" y1="183.51" x2="453.8" y2="183.51" stroke="#2b2bd6" stroke-width="0.8"/>
<rect x="461.5" y="164.21" width="10.3" height="50.89" fill="#ffdcdc" stroke="#f5262b" stroke-width="0.9"/>
<circle cx="466.5" cy="155.08" r="1.65" fill="#ff1414"/>
<circle cx="466.5" cy="160.34" r="1.65" fill="#ff1414"/>
<circle cx="463.5" cy="167.36" r="1.65" fill="#ff1414"/>
<circle cx="466" cy="173.86" r="1.65" fill="#ff1414"/>
<line x1="466.65" y1="168.59" x2="466.65" y2="159.82" stroke="#f5262b" stroke-width="0.8"/>
<line x1="464.45" y1="159.82" x2="468.85" y2="159.82" stroke="#f5262b" stroke-width="0.8"/>
<line x1="464.45" y1="168.59" x2="468.85" y2="168.59" stroke="#f5262b" stroke-width="0.8"/>
<line x1="464.05" y1="164.21" x2="469.25" y2="164.21" stroke="#f5262b" stroke-width="0.8"/>
<line x1="437" y1="215.1" x2="477" y2="215.1" stroke="#58595b" stroke-width="0.8"/>
<line x1="451.2" y1="215.1" x2="451.2" y2="219.3" stroke="#58595b" stroke-width="0.8"/>
<line x1="466.65" y1="215.1" x2="466.65" y2="219.3" stroke="#58595b" stroke-width="0.8"/>
<text x="439" y="246.3" font-size="7.8" transform="rotate(-42 439 246.3)"><tspan font-style="italic">Stat3</tspan><tspan dx="0.5" dy="-3.12" font-size="5.62">+/+</tspan></text>
<text x="454.45" y="246.3" font-size="7.8" transform="rotate(-42 454.45 246.3)"><tspan font-style="italic">Stat3</tspan><tspan dx="0.5" dy="-3.12" font-size="5.62">−/−</tspan></text>
<text x="417.6" y="179.85" font-size="7.6" text-anchor="middle" textLength="60" lengthAdjust="spacingAndGlyphs" transform="rotate(-90 417.6 179.85)">MHCII MFI (×10<tspan baseline-shift="super" font-size="5">3</tspan>)</text>
<text x="466.5" y="151.4" font-size="8.5" text-anchor="middle">*</text>
<text x="499.8" y="137.7" font-size="11" font-weight="bold" fill="#000">m</text>
<clipPath id="c509_144"><rect x="509.3" y="144.4" width="74.7" height="73"/></clipPath>
<path d="M522,180.8 L522,180.8 L522.6,180.11 L523.2,179.4 L523.8,178.83 L524.4,178.04 L525,178.05 L525.6,176.7 L526.2,178.09 L526.8,176.09 L527.4,173.87 L528,173.81 L528.6,171.99 L529.2,173.46 L529.8,171.3 L530.4,171.06 L531,168.99 L531.6,167.7 L532.2,168.77 L532.8,166.84 L533.4,165.45 L534,161.46 L534.6,161.08 L535.2,162.91 L535.8,158.81 L536.4,161.08 L537,157.62 L537.6,159.07 L538.2,158.65 L538.8,152.63 L539.4,155.27 L540,154.12 L540.6,148.73 L541.2,148.64 L541.8,151.56 L542.4,146.53 L543,148.51 L543.6,146.82 L544.2,149.23 L544.8,143.46 L545.4,145.28 L546,143.98 L546.6,145.05 L547.2,149.66 L547.8,150.1 L548.4,152.2 L549,153.15 L549.6,154.61 L550.2,154.17 L550.8,153.41 L551.4,157.83 L552,155.07 L552.6,158.08 L553.2,159.36 L553.8,157.95 L554.4,160.8 L555,162.74 L555.6,163.27 L556.2,163.61 L556.8,167.64 L557.4,165.23 L558,170.22 L558.6,168.54 L559.2,169.26 L559.8,173.09 L560.4,171.58 L561,173.93 L561.6,174.16 L562.2,176.65 L562.8,177.36 L563.4,177.83 L564,176.77 L564.6,179.23 L565.2,178.56 L565.8,178.82 L566.4,179.46 L566.8,180.8 L566.8,180.8Z" fill="#ff6b6b" stroke="#ff3030" stroke-width="0.5" stroke-linejoin="round"/>
<path d="M510,217.4 L510,217.4 L510.6,216.57 L511.2,216.28 L511.8,216.77 L512.4,217.15 L513,217.4 L513.6,216.17 L514.2,216.53 L514.8,215.84 L515.4,216.64 L516,215.71 L516.6,216.64 L517.2,215.29 L517.8,215.29 L518.4,215.84 L519,215.39 L519.6,214.89 L520.2,215.79 L520.8,214.49 L521.4,213.42 L522,214.34 L522.6,212.5 L523.2,212.26 L523.8,211.07 L524.4,211.78 L525,211.79 L525.6,208.9 L526.2,208.1 L526.8,208.46 L527.4,208.87 L528,207.74 L528.6,205.36 L529.2,205.87 L529.8,202.6 L530.4,203.26 L531,204.1 L531.6,201.5 L532.2,202.11 L532.8,199.2 L533.4,198.84 L534,200.13 L534.6,199.11 L535.2,198.41 L535.8,197.92 L536.4,197.61 L537,202.3 L537.6,201.25 L538.2,200.66 L538.8,202.45 L539.4,201.75 L540,204.33 L540.6,201.61 L541.2,203.54 L541.8,205.58 L542.4,203.89 L543,205.67 L543.6,206.53 L544.2,205.89 L544.8,207.58 L545.4,207.74 L546,205.88 L546.6,206.91 L547.2,209.67 L547.8,207.55 L548.4,210.47 L549,209.88 L549.6,208.6 L550.2,210.01 L550.8,211.46 L551.4,211.75 L552,212.22 L552.6,213.45 L553.2,211.6 L553.8,214.61 L554.4,214.15 L555,213.87 L555.6,215.16 L556.2,214.23 L556.8,216.37 L557.4,215.17 L558,215.82 L558.6,216.75 L559,217.4 L559,217.4Z" fill="#7070ff" stroke="#3838ff" stroke-width="0.5" stroke-linejoin="round"/>
<line x1="546.3" y1="144.4" x2="546.3" y2="217.4" stroke="#1a1a1a" stroke-width="0.95" stroke-dasharray="2.4 1.5"/>
<rect x="509.3" y="144.4" width="74.7" height="73" fill="none" stroke="#231f20" stroke-width="0.8"/>
<line x1="509.3" y1="180.8" x2="584" y2="180.8" stroke="#231f20" stroke-width="0.8"/>
<text x="506.6" y="217.8" font-size="7.5" transform="rotate(-90 506.6 217.8)">Count</text>
<line x1="503.8" y1="195.1" x2="503.8" y2="148.4" stroke="#231f20" stroke-width="0.8"/>
<path d="M502.2,149.4 L503.8,145.7 L505.4,149.4 Z" fill="#231f20"/>
<text x="507.8" y="227.3" font-size="8.0">CD86-PE</text>
<line x1="546.3" y1="224.4" x2="576.6" y2="224.4" stroke="#231f20" stroke-width="0.8"/>
<path d="M575.6,222.8 L579.6,224.4 L575.6,226 Z" fill="#231f20"/>
<text x="595.9" y="162.6" font-size="8.5" text-anchor="middle" transform="rotate(-90 595.9 162.6)"><tspan font-style="italic">Stat3</tspan><tspan dx="0.5" dy="-3.4" font-size="6.12">−/−</tspan></text>
<text x="595.9" y="199.1" font-size="8.5" text-anchor="middle" transform="rotate(-90 595.9 199.1)"><tspan font-style="italic">Stat3</tspan><tspan dx="0.5" dy="-3.4" font-size="6.12">+/+</tspan></text>
<text x="617.5" y="137.7" font-size="11" font-weight="bold" fill="#000">n</text>
<line x1="644.4" y1="144.9" x2="644.4" y2="215.1" stroke="#58595b" stroke-width="0.8"/>
<line x1="640.4" y1="215.1" x2="644.4" y2="215.1" stroke="#58595b" stroke-width="0.8"/>
<text x="637.8" y="217.8" font-size="8.1" text-anchor="end">0</text>
<line x1="640.4" y1="201.06" x2="644.4" y2="201.06" stroke="#58595b" stroke-width="0.8"/>
<text x="637.8" y="203.76" font-size="8.1" text-anchor="end">1</text>
<line x1="640.4" y1="187.02" x2="644.4" y2="187.02" stroke="#58595b" stroke-width="0.8"/>
<text x="637.8" y="189.72" font-size="8.1" text-anchor="end">2</text>
<line x1="640.4" y1="172.98" x2="644.4" y2="172.98" stroke="#58595b" stroke-width="0.8"/>
<text x="637.8" y="175.68" font-size="8.1" text-anchor="end">3</text>
<line x1="640.4" y1="158.94" x2="644.4" y2="158.94" stroke="#58595b" stroke-width="0.8"/>
<text x="637.8" y="161.64" font-size="8.1" text-anchor="end">4</text>
<line x1="640.4" y1="144.9" x2="644.4" y2="144.9" stroke="#58595b" stroke-width="0.8"/>
<text x="637.8" y="147.6" font-size="8.1" text-anchor="end">5</text>
<rect x="649.5" y="189.13" width="9.7" height="25.97" fill="#cadcf6" stroke="#2b2bd6" stroke-width="0.9"/>
<circle cx="654.1" cy="184.91" r="1.65" fill="#0808cc"/>
<circle cx="651.5" cy="188" r="1.65" fill="#0808cc"/>
<circle cx="657" cy="189.13" r="1.65" fill="#0808cc"/>
<circle cx="654" cy="194.46" r="1.65" fill="#0808cc"/>
<line x1="654.35" y1="191.93" x2="654.35" y2="186.32" stroke="#2b2bd6" stroke-width="0.8"/>
<line x1="652.15" y1="186.32" x2="656.55" y2="186.32" stroke="#2b2bd6" stroke-width="0.8"/>
<line x1="652.15" y1="191.93" x2="656.55" y2="191.93" stroke="#2b2bd6" stroke-width="0.8"/>
<line x1="651.75" y1="189.13" x2="656.95" y2="189.13" stroke="#2b2bd6" stroke-width="0.8"/>
<rect x="664.9" y="170.17" width="10.2" height="44.93" fill="#ffdcdc" stroke="#f5262b" stroke-width="0.9"/>
<circle cx="670" cy="160.48" r="1.65" fill="#ff1414"/>
<circle cx="667.5" cy="171.3" r="1.65" fill="#ff1414"/>
<circle cx="673" cy="172.56" r="1.65" fill="#ff1414"/>
<circle cx="670" cy="176.35" r="1.65" fill="#ff1414"/>
<line x1="670" y1="173.68" x2="670" y2="166.66" stroke="#f5262b" stroke-width="0.8"/>
<line x1="667.8" y1="166.66" x2="672.2" y2="166.66" stroke="#f5262b" stroke-width="0.8"/>
<line x1="667.8" y1="173.68" x2="672.2" y2="173.68" stroke="#f5262b" stroke-width="0.8"/>
<line x1="667.4" y1="170.17" x2="672.6" y2="170.17" stroke="#f5262b" stroke-width="0.8"/>
<line x1="640.4" y1="215.1" x2="680.3" y2="215.1" stroke="#58595b" stroke-width="0.8"/>
<line x1="654.35" y1="215.1" x2="654.35" y2="219.3" stroke="#58595b" stroke-width="0.8"/>
<line x1="670" y1="215.1" x2="670" y2="219.3" stroke="#58595b" stroke-width="0.8"/>
<text x="642.15" y="246.3" font-size="7.8" transform="rotate(-42 642.15 246.3)"><tspan font-style="italic">Stat3</tspan><tspan dx="0.5" dy="-3.12" font-size="5.62">+/+</tspan></text>
<text x="657.8" y="246.3" font-size="7.8" transform="rotate(-42 657.8 246.3)"><tspan font-style="italic">Stat3</tspan><tspan dx="0.5" dy="-3.12" font-size="5.62">−/−</tspan></text>
<text x="624.8" y="179.4" font-size="7.6" text-anchor="middle" textLength="59.1" lengthAdjust="spacingAndGlyphs" transform="rotate(-90 624.8 179.4)">CD86 MFI (×10<tspan baseline-shift="super" font-size="5">3</tspan>)</text>
<text x="670" y="156.4" font-size="8.5" text-anchor="middle">**</text>
<text x="-0.4" y="261.6" font-size="11" font-weight="bold" fill="#000">o</text>
<clipPath id="c29_266"><rect x="29.4" y="266" width="56.3" height="91.4"/></clipPath>
<clipPath id="dc1"><rect x="29.4" y="266" width="56.3" height="46.2"/></clipPath>
<g clip-path="url(#dc1)">
<path d="M58.5,295.0 L58.0,295.1 L57.5,295.2 L57.0,295.2 L56.5,295.2 L56.0,295.2 L55.5,295.2 L55.0,295.2 L54.5,295.1 L54.0,295.1 L53.6,295.0 L53.2,294.9 L52.8,294.9 L52.2,294.8 L51.8,294.8 L51.5,294.8 L51.0,294.7 L50.5,294.6 L50.0,294.6 L49.6,294.5 L49.2,294.5 L48.8,294.4 L48.2,294.3 L47.8,294.2 L47.5,294.2 L47.0,294.1 L46.8,294.0 L46.2,293.8 L46.0,293.7 L45.5,293.5 L45.2,293.4 L45.0,293.2 L44.5,293.0 L44.2,292.8 L44.0,292.7 L43.6,292.5 L43.2,292.4 L42.8,292.4 L42.2,292.4 L41.8,292.5 L41.5,292.6 L41.0,292.7 L40.7,292.8 L40.2,292.9 L39.8,293.0 L39.5,293.1 L39.2,293.2 L38.8,293.5 L38.5,293.7 L38.2,293.8 L38.0,294.0 L37.6,294.2 L37.2,294.4 L37.0,294.5 L36.5,294.7 L36.2,294.8 L35.8,294.9 L35.2,294.9 L34.8,294.9 L34.2,294.9 L33.8,294.8 L33.5,294.7 L33.0,294.6 L32.8,294.4 L32.5,294.2 L32.1,294.0 L31.8,293.8 L31.5,293.5 L31.2,293.3 L31.0,293.0 L30.8,292.8 L30.6,292.5 L30.5,292.2 L30.2,291.8 L30.1,291.5 L30.0,291.2 L29.8,290.8 L29.8,290.4 L29.6,290.0 L29.5,289.7 L29.4,289.2 L29.3,288.8 L29.3,288.2 L29.3,287.8 L29.3,287.2 L29.3,286.8 L29.4,286.2 L29.5,285.9 L29.6,285.5 L29.8,285.1 L29.9,284.8 L30.0,284.5 L30.2,284.1 L30.4,283.8 L30.6,283.5 L30.8,283.2 L31.0,283.0 L31.2,282.7 L31.5,282.5 L31.8,282.2 L32.2,282.0 L32.5,281.8 L32.8,281.7 L33.2,281.5 L33.5,281.4 L34.0,281.2 L34.2,281.2 L34.8,281.1 L35.2,281.2 L35.8,281.2 L36.0,281.2 L36.5,281.4 L36.9,281.5 L37.2,281.7 L37.5,281.8 L37.9,282.0 L38.2,282.2 L38.5,282.3 L38.9,282.5 L39.2,282.6 L39.8,282.7 L40.0,282.8 L40.5,282.9 L41.0,282.9 L41.5,282.9 L42.0,282.9 L42.5,282.8 L42.8,282.7 L43.2,282.5 L43.5,282.3 L43.8,282.1 L44.0,281.9 L44.3,281.8 L44.6,281.5 L45.0,281.3 L45.2,281.1 L45.5,281.0 L46.0,280.8 L46.2,280.7 L46.8,280.6 L47.0,280.5 L47.5,280.4 L48.0,280.3 L48.2,280.2 L48.8,280.1 L49.1,280.0 L49.5,279.9 L50.0,279.8 L50.2,279.7 L50.8,279.6 L51.2,279.6 L51.8,279.6 L52.2,279.5 L52.5,279.5 L53.0,279.4 L53.5,279.4 L54.0,279.3 L54.5,279.3 L55.0,279.4 L55.5,279.4 L56.0,279.4 L56.5,279.5 L57.0,279.5 L57.5,279.4 L58.0,279.5 L58.5,279.5 L58.8,279.5 L59.2,279.6 L59.8,279.7 L60.0,279.8 L60.5,279.9 L61.0,280.0 L61.2,280.1 L61.8,280.2 L62.1,280.2 L62.5,280.4 L63.0,280.5 L63.2,280.6 L63.8,280.7 L64.0,280.8 L64.5,280.9 L64.8,281.0 L65.2,281.2 L65.5,281.3 L65.8,281.5 L66.2,281.8 L66.5,282.0 L66.8,282.2 L67.0,282.5 L67.2,282.8 L67.4,283.0 L67.6,283.2 L67.8,283.5 L68.0,283.9 L68.2,284.2 L68.3,284.5 L68.5,285.0 L68.6,285.2 L68.7,285.8 L68.8,286.0 L68.8,286.5 L68.8,287.0 L68.9,287.5 L68.8,288.0 L68.8,288.5 L68.7,288.8 L68.6,289.2 L68.5,289.6 L68.4,290.0 L68.2,290.2 L68.0,290.7 L67.8,291.0 L67.7,291.2 L67.5,291.5 L67.2,291.8 L67.0,292.0 L66.7,292.2 L66.4,292.5 L66.0,292.8 L65.8,292.9 L65.5,293.1 L65.2,293.3 L64.9,293.5 L64.5,293.7 L64.2,293.8 L63.8,294.0 L63.5,294.1 L63.0,294.2 L62.7,294.2 L62.2,294.3 L61.8,294.4 L61.2,294.5 L61.0,294.5 L60.5,294.6 L60.0,294.7 L59.8,294.8 L59.2,294.9 L58.8,295.0 L58.5,295.0Z" fill="#858585" stroke="#3a3a3a" stroke-width="0.45" fill-rule="evenodd"/>
<path d="M59.2,293.0 L58.8,293.1 L58.2,293.2 L57.8,293.2 L57.2,293.2 L56.8,293.2 L56.2,293.1 L55.8,293.1 L55.2,293.1 L54.8,293.1 L54.2,293.1 L53.8,293.1 L53.2,293.1 L52.8,293.1 L52.2,293.0 L52.0,293.0 L51.5,293.0 L51.0,292.9 L50.5,292.9 L50.0,292.8 L49.5,292.8 L49.2,292.7 L48.8,292.7 L48.2,292.6 L48.0,292.4 L47.6,292.2 L47.2,292.1 L47.0,291.9 L46.6,291.8 L46.3,291.5 L46.0,291.4 L45.8,291.2 L45.3,291.0 L45.0,290.8 L44.8,290.7 L44.4,290.5 L44.0,290.3 L43.8,290.2 L43.2,290.1 L42.8,290.2 L42.5,290.3 L42.0,290.5 L41.8,290.5 L41.2,290.7 L40.9,290.8 L40.5,290.8 L40.0,290.8 L39.6,291.0 L39.2,291.1 L39.0,291.3 L38.7,291.5 L38.4,291.8 L38.0,292.0 L37.8,292.2 L37.5,292.3 L37.2,292.5 L36.8,292.8 L36.5,292.9 L36.2,293.0 L35.8,293.1 L35.2,293.2 L34.8,293.2 L34.2,293.2 L33.8,293.0 L33.5,292.9 L33.2,292.8 L32.9,292.5 L32.6,292.2 L32.4,292.0 L32.2,291.8 L32.0,291.5 L31.8,291.1 L31.6,290.8 L31.5,290.5 L31.2,290.0 L31.1,289.8 L31.0,289.4 L30.9,289.0 L30.8,288.5 L30.7,288.2 L30.7,287.8 L30.7,287.2 L30.8,287.0 L30.9,286.5 L31.0,286.0 L31.1,285.8 L31.2,285.4 L31.5,285.0 L31.6,284.8 L31.8,284.5 L32.0,284.2 L32.3,284.0 L32.7,283.8 L33.0,283.6 L33.2,283.4 L33.6,283.2 L34.0,283.1 L34.3,283.0 L34.8,282.9 L35.2,282.9 L35.8,282.9 L36.2,283.0 L36.5,283.1 L36.9,283.2 L37.2,283.4 L37.5,283.6 L37.8,283.8 L38.1,284.0 L38.5,284.2 L38.8,284.4 L39.0,284.6 L39.5,284.7 L40.0,284.7 L40.4,284.8 L40.8,284.8 L41.2,284.8 L41.8,285.0 L42.0,285.1 L42.5,285.2 L42.8,285.3 L43.2,285.3 L43.5,285.2 L43.8,285.0 L44.1,284.8 L44.4,284.5 L44.6,284.2 L44.8,284.0 L45.0,283.8 L45.2,283.5 L45.5,283.2 L45.8,283.0 L46.2,282.8 L46.5,282.6 L46.8,282.5 L47.2,282.4 L47.8,282.3 L48.0,282.2 L48.5,282.1 L49.0,282.0 L49.2,282.0 L49.8,281.8 L50.0,281.8 L50.5,281.6 L51.0,281.6 L51.5,281.5 L52.0,281.5 L52.2,281.5 L52.8,281.4 L53.2,281.4 L53.7,281.2 L54.0,281.2 L54.5,281.1 L55.0,281.1 L55.5,281.1 L56.0,281.2 L56.5,281.2 L57.0,281.2 L57.5,281.2 L58.0,281.2 L58.5,281.2 L58.8,281.3 L59.2,281.4 L59.8,281.5 L60.0,281.5 L60.5,281.7 L60.9,281.8 L61.2,281.8 L61.7,282.0 L62.0,282.1 L62.5,282.2 L62.8,282.3 L63.2,282.4 L63.8,282.5 L64.0,282.5 L64.5,282.6 L64.9,282.8 L65.2,282.9 L65.5,283.1 L65.8,283.3 L66.0,283.6 L66.2,283.9 L66.5,284.2 L66.6,284.5 L66.8,284.8 L67.0,285.2 L67.1,285.5 L67.2,286.0 L67.3,286.2 L67.4,286.8 L67.5,287.2 L67.5,287.5 L67.5,288.0 L67.5,288.2 L67.4,288.8 L67.2,289.1 L67.0,289.5 L66.9,289.8 L66.7,290.0 L66.5,290.3 L66.2,290.6 L66.0,290.8 L65.8,291.0 L65.5,291.2 L65.1,291.5 L64.8,291.7 L64.5,291.9 L64.2,292.0 L63.8,292.1 L63.2,292.2 L62.8,292.2 L62.2,292.2 L62.0,292.3 L61.5,292.3 L61.0,292.4 L60.7,292.5 L60.2,292.7 L60.0,292.8 L59.5,292.9 L59.2,293.0Z" fill="#a0a0a0" stroke="#3a3a3a" stroke-width="0.45" fill-rule="evenodd"/>
<path d="M58.8,291.8 L58.2,291.8 L57.8,291.8 L57.3,291.8 L57.0,291.7 L56.5,291.6 L56.0,291.6 L55.5,291.5 L55.0,291.5 L54.5,291.5 L54.1,291.5 L53.8,291.5 L53.2,291.4 L52.8,291.4 L52.2,291.3 L51.8,291.3 L51.4,291.2 L51.0,291.2 L50.5,291.1 L50.0,291.0 L49.8,291.0 L49.2,290.9 L48.8,290.8 L48.5,290.7 L48.0,290.6 L47.8,290.5 L47.2,290.3 L47.0,290.2 L46.7,290.0 L46.3,289.8 L46.0,289.6 L45.8,289.3 L45.5,289.0 L45.4,288.8 L45.2,288.3 L45.2,288.0 L45.2,287.5 L45.2,287.2 L45.4,286.8 L45.5,286.5 L45.8,286.1 L46.0,285.8 L46.2,285.5 L46.4,285.2 L46.6,285.0 L46.9,284.8 L47.1,284.5 L47.5,284.2 L47.8,284.1 L48.1,284.0 L48.5,283.9 L48.9,283.8 L49.2,283.7 L49.8,283.6 L50.2,283.5 L50.5,283.5 L51.0,283.4 L51.5,283.3 L51.8,283.2 L52.2,283.1 L52.8,283.0 L53.0,283.0 L53.5,282.8 L53.9,282.8 L54.2,282.7 L54.8,282.6 L55.1,282.5 L55.5,282.5 L55.8,282.5 L56.2,282.6 L56.8,282.6 L57.2,282.6 L57.8,282.7 L58.2,282.7 L58.8,282.7 L59.2,282.8 L59.5,282.8 L60.0,282.9 L60.5,283.0 L60.8,283.1 L61.2,283.2 L61.5,283.3 L61.9,283.5 L62.2,283.7 L62.5,283.8 L63.0,283.9 L63.5,284.0 L63.8,284.0 L64.2,284.1 L64.5,284.2 L64.9,284.5 L65.1,284.8 L65.3,285.0 L65.5,285.3 L65.8,285.7 L65.9,286.0 L66.0,286.2 L66.2,286.8 L66.3,287.0 L66.3,287.5 L66.4,288.0 L66.2,288.5 L66.1,288.8 L66.0,289.1 L65.8,289.4 L65.5,289.7 L65.2,289.9 L65.0,290.2 L64.8,290.3 L64.5,290.5 L64.0,290.7 L63.8,290.8 L63.2,290.9 L62.8,290.9 L62.2,290.9 L61.8,290.9 L61.2,291.0 L61.0,291.0 L60.5,291.2 L60.2,291.2 L59.8,291.4 L59.5,291.5 L59.0,291.7 L58.8,291.8ZM36.0,291.5 L35.5,291.6 L35.0,291.6 L34.5,291.5 L34.2,291.4 L34.0,291.2 L33.7,291.0 L33.5,290.8 L33.2,290.4 L33.0,290.0 L32.8,289.8 L32.7,289.5 L32.5,289.2 L32.3,288.8 L32.2,288.5 L32.1,288.0 L32.1,287.5 L32.2,287.0 L32.2,286.6 L32.4,286.2 L32.5,286.0 L32.8,285.6 L33.0,285.3 L33.2,285.1 L33.5,284.9 L33.8,284.8 L34.2,284.6 L34.5,284.5 L35.0,284.3 L35.5,284.3 L36.0,284.4 L36.4,284.5 L36.8,284.7 L37.0,284.9 L37.2,285.1 L37.5,285.4 L37.8,285.7 L38.0,286.0 L38.1,286.2 L38.2,286.7 L38.4,287.0 L38.5,287.2 L38.7,287.8 L38.8,288.0 L38.8,288.3 L38.6,288.8 L38.5,289.1 L38.3,289.5 L38.1,289.8 L37.9,290.0 L37.8,290.3 L37.5,290.6 L37.2,290.8 L37.0,291.0 L36.7,291.2 L36.2,291.5 L36.0,291.5Z" fill="#bababa" stroke="#3a3a3a" stroke-width="0.45" fill-rule="evenodd"/>
<path d="M58.5,290.5 L58.0,290.6 L57.5,290.6 L57.0,290.6 L56.6,290.5 L56.2,290.4 L55.8,290.4 L55.3,290.2 L55.0,290.2 L54.5,290.1 L54.2,290.0 L53.8,289.9 L53.3,289.8 L53.0,289.7 L52.5,289.7 L52.0,289.7 L51.8,289.8 L51.5,289.7 L51.0,289.6 L50.5,289.5 L50.2,289.4 L49.8,289.3 L49.5,289.2 L49.0,289.0 L48.8,288.9 L48.4,288.8 L48.1,288.5 L47.9,288.2 L47.8,287.9 L47.7,287.5 L47.8,287.2 L48.0,286.8 L48.2,286.5 L48.5,286.2 L48.8,286.1 L49.0,286.0 L49.5,285.8 L49.8,285.6 L50.0,285.5 L50.5,285.3 L50.8,285.2 L51.2,285.0 L51.5,284.9 L52.0,284.8 L52.2,284.7 L52.8,284.6 L53.0,284.5 L53.5,284.3 L53.8,284.2 L54.2,284.0 L54.5,284.0 L55.0,283.8 L55.5,283.8 L56.0,283.9 L56.4,284.0 L56.7,284.0 L57.0,284.0 L57.5,284.0 L58.0,283.9 L58.5,283.9 L59.0,283.9 L59.5,283.9 L59.9,284.0 L60.2,284.1 L60.7,284.2 L61.0,284.4 L61.2,284.5 L61.6,284.8 L62.0,285.0 L62.2,285.1 L62.5,285.2 L63.0,285.4 L63.2,285.5 L63.7,285.8 L64.0,285.9 L64.2,286.1 L64.5,286.3 L64.8,286.6 L65.0,287.0 L65.1,287.2 L65.2,287.8 L65.1,288.2 L64.9,288.5 L64.8,288.8 L64.5,289.0 L64.0,289.2 L63.8,289.3 L63.2,289.4 L62.8,289.3 L62.5,289.2 L62.0,289.2 L61.7,289.2 L61.2,289.3 L60.8,289.5 L60.5,289.7 L60.2,289.8 L59.8,290.0 L59.5,290.2 L59.2,290.3 L58.8,290.5 L58.5,290.5ZM35.8,290.0 L35.2,290.0 L35.0,289.9 L34.8,289.7 L34.5,289.5 L34.2,289.1 L34.0,288.8 L33.9,288.5 L33.8,288.1 L33.7,287.8 L33.7,287.2 L33.8,287.0 L34.0,286.5 L34.2,286.3 L34.5,286.2 L34.9,286.0 L35.2,286.0 L35.5,286.0 L35.9,286.2 L36.2,286.5 L36.3,286.8 L36.5,287.2 L36.6,287.5 L36.7,288.0 L36.8,288.4 L36.8,288.8 L36.8,289.2 L36.6,289.5 L36.3,289.8 L36.0,289.9 L35.8,290.0Z" fill="#d4d4d4" stroke="#3a3a3a" stroke-width="0.45" fill-rule="evenodd"/>
<path d="M57.8,289.3 L57.2,289.3 L56.8,289.3 L56.5,289.2 L56.0,289.1 L55.8,289.0 L55.4,288.8 L55.1,288.5 L54.9,288.2 L54.6,288.0 L54.2,287.9 L53.8,287.9 L53.2,287.9 L52.8,287.9 L52.2,287.8 L52.0,287.7 L51.6,287.5 L51.4,287.2 L51.4,286.8 L51.6,286.5 L52.0,286.3 L52.2,286.1 L52.5,286.0 L53.0,285.8 L53.2,285.7 L53.8,285.5 L54.0,285.4 L54.5,285.3 L54.9,285.2 L55.2,285.2 L55.5,285.2 L56.0,285.4 L56.3,285.5 L56.7,285.5 L57.0,285.5 L57.5,285.4 L58.0,285.2 L58.2,285.2 L58.8,285.1 L59.2,285.1 L59.8,285.2 L60.1,285.2 L60.5,285.5 L60.8,285.6 L61.0,285.8 L61.2,286.0 L61.5,286.4 L61.7,286.8 L61.5,287.2 L61.2,287.5 L61.0,287.6 L60.7,287.8 L60.2,287.9 L60.0,288.1 L59.5,288.2 L59.2,288.4 L59.0,288.5 L58.7,288.8 L58.3,289.0 L58.0,289.2 L57.8,289.3Z" fill="#eeeeee" stroke="#3a3a3a" stroke-width="0.45" fill-rule="evenodd"/>
</g>
<clipPath id="dc2"><rect x="29.4" y="266" width="56.3" height="46.2"/></clipPath>
<g clip-path="url(#dc2)">
<path d="M34.8,313.0 L34.2,313.0 L34.0,313.0 L33.5,312.9 L33.0,312.8 L32.8,312.7 L32.2,312.6 L32.0,312.5 L31.5,312.3 L31.2,312.2 L30.8,312.1 L30.5,311.9 L30.2,311.8 L29.8,311.5 L29.5,311.2 L29.3,311.0 L29.1,310.8 L28.9,310.5 L28.7,310.2 L28.5,309.9 L28.2,309.5 L28.0,309.2 L27.9,309.0 L27.7,308.8 L27.5,308.4 L27.3,308.0 L27.2,307.8 L27.0,307.4 L26.8,307.0 L26.8,306.7 L26.6,306.2 L26.6,305.8 L26.6,305.2 L26.6,304.8 L26.6,304.2 L26.7,303.8 L26.8,303.5 L26.8,303.0 L27.0,302.5 L27.0,302.2 L27.2,301.8 L27.3,301.5 L27.5,301.0 L27.6,300.8 L27.8,300.5 L28.0,300.1 L28.2,299.8 L28.5,299.5 L28.7,299.2 L29.0,299.0 L29.2,298.8 L29.5,298.6 L29.8,298.3 L30.0,298.1 L30.2,297.9 L30.5,297.8 L31.0,297.5 L31.2,297.4 L31.6,297.2 L32.0,297.1 L32.5,297.0 L32.8,297.0 L33.2,296.9 L33.8,296.8 L34.0,296.8 L34.5,296.7 L35.0,296.7 L35.2,296.8 L35.8,296.8 L36.2,296.9 L36.6,297.0 L37.0,297.1 L37.4,297.2 L37.8,297.4 L38.1,297.5 L38.5,297.7 L38.8,297.8 L39.1,298.0 L39.5,298.2 L39.8,298.3 L40.1,298.5 L40.5,298.7 L40.8,298.8 L41.1,299.0 L41.5,299.2 L41.8,299.3 L42.2,299.4 L42.5,299.5 L43.0,299.6 L43.5,299.7 L44.0,299.6 L44.2,299.5 L44.7,299.2 L45.0,299.1 L45.2,298.9 L45.6,298.8 L46.0,298.5 L46.2,298.4 L46.6,298.2 L47.0,298.1 L47.3,298.0 L47.8,297.9 L48.1,297.8 L48.5,297.7 L49.0,297.5 L49.2,297.5 L49.8,297.4 L50.2,297.4 L50.8,297.3 L51.1,297.2 L51.5,297.2 L52.0,297.1 L52.5,297.0 L52.8,297.0 L53.2,296.9 L53.8,296.9 L54.2,296.8 L54.8,296.8 L55.2,296.8 L55.8,296.8 L56.2,296.9 L56.6,297.0 L57.0,297.1 L57.5,297.2 L58.0,297.2 L58.2,297.3 L58.8,297.4 L59.1,297.5 L59.5,297.6 L59.8,297.8 L60.2,297.9 L60.6,298.0 L61.0,298.1 L61.3,298.2 L61.8,298.4 L62.0,298.5 L62.5,298.8 L62.8,299.0 L63.0,299.2 L63.2,299.5 L63.5,299.8 L63.6,300.0 L63.8,300.2 L64.0,300.7 L64.2,301.0 L64.2,301.3 L64.4,301.8 L64.5,302.2 L64.6,302.5 L64.6,303.0 L64.6,303.5 L64.6,304.0 L64.5,304.5 L64.5,304.8 L64.3,305.2 L64.2,305.5 L64.1,306.0 L63.9,306.2 L63.8,306.5 L63.5,306.9 L63.2,307.1 L63.0,307.4 L62.8,307.6 L62.5,307.8 L62.2,308.0 L61.9,308.2 L61.5,308.4 L61.2,308.6 L60.8,308.8 L60.5,308.9 L60.1,309.0 L59.8,309.1 L59.2,309.2 L58.9,309.2 L58.5,309.3 L58.0,309.3 L57.5,309.4 L57.0,309.4 L56.6,309.5 L56.2,309.6 L55.8,309.7 L55.5,309.8 L55.0,309.9 L54.5,309.9 L54.0,309.9 L53.5,309.9 L53.0,309.9 L52.5,309.9 L52.0,309.8 L51.5,309.8 L51.2,309.7 L50.8,309.7 L50.2,309.7 L49.8,309.7 L49.2,309.6 L48.8,309.6 L48.2,309.5 L48.0,309.4 L47.5,309.3 L47.2,309.2 L46.8,309.1 L46.5,309.0 L46.0,308.8 L45.8,308.7 L45.2,308.6 L44.8,308.5 L44.2,308.5 L43.8,308.6 L43.4,308.8 L43.0,308.9 L42.8,309.1 L42.5,309.3 L42.1,309.5 L41.8,309.7 L41.5,309.9 L41.2,310.0 L40.8,310.2 L40.5,310.4 L40.2,310.6 L40.0,310.8 L39.7,311.0 L39.5,311.2 L39.2,311.5 L38.8,311.8 L38.5,311.9 L38.2,312.1 L37.9,312.2 L37.5,312.4 L37.2,312.5 L36.8,312.6 L36.2,312.7 L36.0,312.8 L35.5,312.9 L35.0,313.0 L34.8,313.0Z" fill="#858585" stroke="#3a3a3a" stroke-width="0.45" fill-rule="evenodd"/>
<path d="M35.8,311.0 L35.2,311.1 L34.8,311.2 L34.2,311.2 L33.8,311.1 L33.2,311.0 L33.0,311.0 L32.5,310.9 L32.2,310.8 L31.8,310.6 L31.5,310.5 L31.0,310.2 L30.8,310.0 L30.5,309.8 L30.2,309.5 L30.0,309.2 L29.8,309.0 L29.6,308.8 L29.4,308.5 L29.2,308.2 L29.0,307.8 L28.8,307.5 L28.7,307.2 L28.5,306.8 L28.4,306.5 L28.3,306.0 L28.2,305.7 L28.2,305.2 L28.2,304.8 L28.2,304.4 L28.3,304.0 L28.4,303.5 L28.5,303.2 L28.6,302.8 L28.8,302.5 L29.0,302.0 L29.2,301.8 L29.4,301.5 L29.6,301.2 L29.8,300.9 L30.0,300.5 L30.2,300.2 L30.4,300.0 L30.6,299.8 L31.0,299.5 L31.2,299.3 L31.5,299.2 L32.0,299.0 L32.2,299.0 L32.8,298.9 L33.2,298.8 L33.6,298.8 L34.0,298.7 L34.5,298.6 L35.0,298.5 L35.5,298.5 L36.0,298.6 L36.5,298.6 L36.8,298.8 L37.2,298.9 L37.5,299.0 L37.9,299.2 L38.2,299.4 L38.5,299.5 L39.0,299.8 L39.2,299.9 L39.5,300.0 L39.9,300.2 L40.2,300.4 L40.5,300.5 L41.0,300.7 L41.2,300.8 L41.7,301.0 L42.0,301.1 L42.2,301.3 L42.7,301.5 L43.0,301.7 L43.2,301.8 L43.8,302.0 L44.2,302.0 L44.8,301.8 L45.0,301.6 L45.2,301.4 L45.5,301.1 L45.8,300.9 L46.0,300.6 L46.2,300.4 L46.5,300.2 L46.9,300.0 L47.2,299.8 L47.5,299.7 L48.0,299.5 L48.2,299.4 L48.7,299.2 L49.0,299.1 L49.4,299.0 L49.8,298.9 L50.2,298.9 L50.8,298.9 L51.2,298.8 L51.8,298.8 L52.2,298.8 L52.8,298.8 L53.0,298.7 L53.5,298.6 L54.0,298.5 L54.4,298.5 L54.8,298.5 L55.2,298.5 L55.7,298.5 L56.0,298.6 L56.5,298.7 L56.8,298.8 L57.2,298.9 L57.5,299.0 L58.0,299.1 L58.5,299.1 L59.0,299.2 L59.2,299.3 L59.8,299.4 L60.0,299.5 L60.5,299.6 L60.8,299.8 L61.2,300.0 L61.5,300.1 L61.8,300.3 L62.0,300.5 L62.2,300.8 L62.5,301.1 L62.7,301.5 L62.9,301.8 L63.0,302.1 L63.1,302.5 L63.2,303.0 L63.3,303.2 L63.3,303.8 L63.2,304.0 L63.1,304.5 L63.0,304.8 L62.8,305.2 L62.7,305.5 L62.5,305.8 L62.2,306.1 L62.0,306.3 L61.8,306.5 L61.4,306.8 L61.0,307.0 L60.8,307.1 L60.4,307.2 L60.0,307.4 L59.5,307.5 L59.2,307.6 L58.8,307.7 L58.2,307.7 L58.0,307.8 L57.5,307.8 L57.0,307.9 L56.5,307.9 L56.0,308.0 L55.7,308.0 L55.2,308.1 L54.8,308.1 L54.2,308.2 L53.8,308.2 L53.2,308.2 L52.8,308.2 L52.2,308.1 L51.8,308.1 L51.2,308.1 L50.8,308.1 L50.2,308.1 L49.8,308.1 L49.2,308.0 L49.0,308.0 L48.5,307.8 L48.2,307.8 L47.8,307.6 L47.5,307.5 L47.0,307.2 L46.8,307.1 L46.4,307.0 L46.0,306.8 L45.8,306.5 L45.5,306.3 L45.2,306.1 L45.0,305.9 L44.7,305.8 L44.2,305.7 L43.9,305.8 L43.5,306.0 L43.2,306.2 L43.0,306.5 L42.8,306.8 L42.5,307.0 L42.2,307.2 L42.0,307.5 L41.8,307.7 L41.5,307.9 L41.2,308.1 L40.9,308.2 L40.5,308.4 L40.2,308.6 L40.0,308.8 L39.7,309.0 L39.4,309.2 L39.1,309.5 L38.8,309.8 L38.5,310.0 L38.2,310.2 L38.0,310.3 L37.7,310.5 L37.2,310.7 L37.0,310.8 L36.5,310.9 L36.0,311.0 L35.8,311.0Z" fill="#a0a0a0" stroke="#3a3a3a" stroke-width="0.45" fill-rule="evenodd"/>
<path d="M54.5,306.8 L54.0,306.8 L53.5,306.8 L53.2,306.7 L52.8,306.7 L52.2,306.7 L51.8,306.7 L51.2,306.7 L50.8,306.7 L50.2,306.7 L49.8,306.6 L49.4,306.5 L49.0,306.4 L48.6,306.2 L48.2,306.1 L47.9,306.0 L47.5,305.8 L47.2,305.7 L47.0,305.5 L46.8,305.2 L46.5,304.9 L46.3,304.5 L46.2,304.2 L46.1,303.8 L46.2,303.2 L46.3,303.0 L46.5,302.6 L46.7,302.2 L46.9,302.0 L47.2,301.8 L47.5,301.5 L47.8,301.3 L48.0,301.1 L48.2,300.9 L48.6,300.8 L49.0,300.6 L49.3,300.5 L49.8,300.4 L50.2,300.3 L50.8,300.3 L51.2,300.3 L51.7,300.2 L52.0,300.2 L52.5,300.2 L53.0,300.2 L53.5,300.1 L54.0,300.0 L54.2,300.0 L54.8,300.0 L55.2,300.0 L55.5,300.0 L56.0,300.1 L56.3,300.2 L56.8,300.4 L57.2,300.5 L57.5,300.5 L58.0,300.6 L58.5,300.6 L59.0,300.7 L59.4,300.8 L59.8,300.8 L60.2,300.9 L60.5,301.1 L60.8,301.2 L61.1,301.5 L61.3,301.8 L61.5,302.0 L61.7,302.5 L61.8,302.8 L61.9,303.2 L61.9,303.8 L61.8,304.2 L61.7,304.5 L61.5,304.9 L61.2,305.2 L61.0,305.5 L60.8,305.6 L60.5,305.8 L60.0,306.0 L59.8,306.0 L59.2,306.1 L58.8,306.2 L58.5,306.3 L58.0,306.4 L57.6,306.5 L57.2,306.5 L56.8,306.6 L56.2,306.6 L55.8,306.6 L55.2,306.6 L54.8,306.7 L54.5,306.8ZM36.0,309.6 L35.5,309.6 L35.0,309.7 L34.5,309.7 L34.0,309.7 L33.5,309.7 L33.0,309.6 L32.7,309.5 L32.2,309.3 L32.0,309.2 L31.7,309.0 L31.4,308.8 L31.2,308.5 L31.0,308.2 L30.8,308.0 L30.5,307.6 L30.3,307.2 L30.2,307.0 L30.1,306.5 L30.0,306.1 L29.9,305.8 L29.8,305.2 L29.8,304.8 L29.8,304.2 L29.8,303.8 L30.0,303.3 L30.1,303.0 L30.2,302.7 L30.5,302.3 L30.7,302.0 L30.9,301.8 L31.2,301.5 L31.5,301.2 L31.7,301.0 L32.0,300.8 L32.2,300.7 L32.8,300.6 L33.2,300.5 L33.5,300.5 L34.0,300.4 L34.5,300.3 L34.8,300.2 L35.2,300.1 L35.8,300.1 L36.2,300.1 L36.8,300.2 L37.0,300.3 L37.4,300.5 L37.8,300.6 L38.0,300.8 L38.4,301.0 L38.8,301.1 L39.0,301.3 L39.4,301.5 L39.8,301.7 L40.0,301.9 L40.3,302.0 L40.8,302.2 L41.0,302.3 L41.4,302.5 L41.6,302.8 L41.8,303.0 L42.0,303.3 L42.2,303.8 L42.2,304.2 L42.1,304.8 L42.0,305.0 L41.8,305.4 L41.5,305.7 L41.2,306.0 L41.0,306.2 L40.8,306.4 L40.5,306.6 L40.2,306.8 L39.8,307.0 L39.5,307.2 L39.2,307.5 L39.0,307.7 L38.8,307.9 L38.5,308.1 L38.2,308.4 L38.0,308.6 L37.8,308.8 L37.5,309.0 L37.0,309.2 L36.8,309.3 L36.2,309.5 L36.0,309.6Z" fill="#bababa" stroke="#3a3a3a" stroke-width="0.45" fill-rule="evenodd"/>
<path d="M57.2,305.0 L56.8,305.1 L56.2,305.0 L56.0,305.0 L55.5,304.9 L55.0,304.8 L54.5,304.8 L54.2,304.7 L54.0,304.8 L53.5,304.8 L53.0,304.9 L52.5,305.0 L52.2,305.0 L51.8,305.0 L51.2,305.1 L50.8,305.1 L50.5,305.0 L50.0,304.8 L49.8,304.7 L49.3,304.5 L49.0,304.2 L48.8,304.0 L48.7,303.8 L48.5,303.2 L48.6,302.8 L48.8,302.4 L49.0,302.2 L49.3,302.0 L49.8,301.8 L50.2,301.8 L50.8,301.8 L51.2,301.8 L51.8,301.9 L52.2,301.9 L52.8,301.9 L53.2,301.8 L53.5,301.6 L53.8,301.5 L54.2,301.3 L54.5,301.2 L54.8,301.2 L55.2,301.3 L55.8,301.4 L56.1,301.5 L56.5,301.6 L57.0,301.7 L57.2,301.8 L57.8,301.9 L58.2,301.9 L58.8,302.0 L59.0,302.0 L59.5,302.1 L59.8,302.2 L60.1,302.5 L60.3,302.8 L60.4,303.2 L60.3,303.8 L60.2,304.0 L60.0,304.3 L59.7,304.5 L59.2,304.6 L58.8,304.7 L58.5,304.8 L58.0,304.9 L57.5,305.0 L57.2,305.0ZM35.5,308.0 L35.0,308.2 L34.5,308.2 L34.0,308.2 L33.5,308.2 L33.0,308.2 L32.7,308.0 L32.3,307.8 L32.1,307.5 L31.9,307.2 L31.7,307.0 L31.6,306.5 L31.5,306.1 L31.3,305.8 L31.2,305.5 L31.1,305.0 L31.0,304.5 L31.0,304.0 L31.2,303.5 L31.3,303.2 L31.5,303.0 L31.8,302.7 L32.0,302.4 L32.2,302.2 L32.7,302.0 L33.0,301.9 L33.4,301.8 L33.8,301.7 L34.2,301.6 L34.8,301.5 L35.0,301.5 L35.5,301.5 L35.9,301.5 L36.2,301.6 L36.8,301.7 L37.0,301.9 L37.2,302.1 L37.5,302.4 L37.8,302.7 L38.0,302.9 L38.2,303.2 L38.5,303.4 L38.8,303.6 L39.0,303.8 L39.4,304.0 L39.6,304.2 L39.7,304.8 L39.5,305.1 L39.2,305.4 L39.0,305.7 L38.8,305.9 L38.5,306.1 L38.2,306.4 L38.0,306.6 L37.8,306.9 L37.5,307.1 L37.2,307.3 L36.9,307.5 L36.5,307.7 L36.2,307.8 L35.8,308.0 L35.5,308.0Z" fill="#d4d4d4" stroke="#3a3a3a" stroke-width="0.45" fill-rule="evenodd"/>
<path d="M34.8,306.3 L34.5,306.2 L34.0,306.2 L33.5,306.0 L33.2,305.9 L33.0,305.6 L32.8,305.2 L32.7,305.0 L32.5,304.6 L32.4,304.2 L32.5,303.8 L32.7,303.5 L33.0,303.2 L33.2,303.1 L33.5,302.9 L34.0,302.8 L34.5,302.8 L35.0,302.9 L35.2,303.0 L35.5,303.2 L35.8,303.7 L36.0,304.0 L36.1,304.2 L36.2,304.7 L36.3,305.0 L36.2,305.2 L36.0,305.7 L35.8,305.9 L35.5,306.1 L35.0,306.2 L34.8,306.3Z" fill="#eeeeee" stroke="#3a3a3a" stroke-width="0.45" fill-rule="evenodd"/>
</g>
<clipPath id="dc3"><rect x="29.4" y="312.2" width="56.3" height="45.2"/></clipPath>
<g clip-path="url(#dc3)">
<path d="M37.5,339.0 L37.0,339.1 L36.5,339.1 L36.0,339.0 L35.7,339.0 L35.2,338.9 L34.8,338.8 L34.5,338.7 L34.0,338.5 L33.8,338.3 L33.5,338.2 L33.2,338.0 L32.9,337.8 L32.7,337.5 L32.5,337.2 L32.2,337.0 L32.0,336.6 L31.8,336.2 L31.7,336.0 L31.5,335.7 L31.2,335.3 L31.0,335.0 L30.8,334.8 L30.6,334.5 L30.4,334.2 L30.2,333.9 L30.0,333.5 L29.8,333.2 L29.7,333.0 L29.5,332.5 L29.4,332.2 L29.3,331.8 L29.2,331.5 L29.1,331.0 L29.0,330.6 L28.9,330.2 L28.9,329.8 L28.8,329.2 L28.8,328.8 L28.8,328.2 L28.9,327.8 L29.0,327.2 L29.0,327.0 L29.1,326.5 L29.2,326.0 L29.3,325.8 L29.5,325.3 L29.6,325.0 L29.8,324.6 L29.9,324.2 L30.1,324.0 L30.3,323.8 L30.5,323.4 L30.8,323.2 L31.0,322.9 L31.2,322.7 L31.5,322.5 L31.8,322.2 L32.0,322.0 L32.3,321.8 L32.6,321.5 L32.9,321.2 L33.2,321.1 L33.5,321.0 L34.0,320.9 L34.5,320.8 L34.8,320.7 L35.2,320.7 L35.8,320.6 L36.2,320.7 L36.8,320.7 L37.0,320.8 L37.5,320.9 L38.0,321.0 L38.2,321.1 L38.8,321.2 L39.0,321.3 L39.4,321.5 L39.8,321.7 L40.0,321.8 L40.2,322.0 L40.6,322.2 L41.0,322.5 L41.2,322.7 L41.5,322.9 L41.8,323.1 L42.0,323.2 L42.5,323.5 L42.8,323.6 L43.2,323.8 L43.5,323.8 L44.0,323.9 L44.5,323.9 L45.0,323.9 L45.5,323.9 L46.0,324.0 L46.2,324.0 L46.8,324.1 L47.2,324.1 L47.8,324.2 L48.2,324.2 L48.8,324.2 L49.2,324.2 L49.8,324.2 L50.2,324.1 L50.8,324.1 L51.2,324.1 L51.8,324.1 L52.2,324.0 L52.5,324.0 L53.0,323.9 L53.5,323.8 L54.0,323.8 L54.2,323.7 L54.8,323.6 L55.2,323.6 L55.8,323.6 L56.2,323.5 L56.5,323.5 L57.0,323.4 L57.5,323.3 L58.0,323.2 L58.2,323.2 L58.8,323.1 L59.1,323.0 L59.5,322.9 L60.0,322.8 L60.2,322.7 L60.8,322.6 L61.2,322.6 L61.8,322.6 L62.2,322.6 L62.8,322.7 L63.2,322.8 L63.5,322.8 L64.0,322.9 L64.2,323.0 L64.7,323.2 L65.0,323.4 L65.2,323.6 L65.5,323.9 L65.8,324.2 L66.0,324.5 L66.1,324.8 L66.2,325.0 L66.4,325.5 L66.5,325.8 L66.6,326.2 L66.6,326.8 L66.6,327.2 L66.5,327.5 L66.4,328.0 L66.2,328.3 L66.0,328.8 L65.9,329.0 L65.7,329.2 L65.5,329.6 L65.2,330.0 L65.1,330.2 L64.9,330.5 L64.6,330.8 L64.4,331.0 L64.2,331.2 L63.9,331.5 L63.7,331.8 L63.4,332.0 L63.2,332.2 L62.9,332.5 L62.6,332.8 L62.3,333.0 L62.0,333.2 L61.8,333.3 L61.4,333.5 L61.0,333.7 L60.8,333.8 L60.4,334.0 L60.0,334.2 L59.8,334.4 L59.5,334.5 L59.0,334.7 L58.8,334.9 L58.4,335.0 L58.0,335.2 L57.7,335.2 L57.2,335.4 L57.0,335.5 L56.5,335.7 L56.2,335.8 L55.8,335.9 L55.5,336.0 L55.0,336.1 L54.5,336.1 L54.0,336.2 L53.5,336.2 L53.0,336.2 L52.5,336.2 L52.2,336.3 L51.8,336.3 L51.4,336.2 L51.0,336.2 L50.5,336.1 L50.0,336.1 L49.5,336.0 L49.2,336.0 L48.8,335.9 L48.2,335.8 L47.9,335.8 L47.5,335.7 L47.0,335.6 L46.5,335.6 L46.0,335.6 L45.5,335.6 L45.0,335.6 L44.5,335.5 L44.2,335.5 L43.8,335.3 L43.5,335.2 L43.0,335.2 L42.5,335.1 L42.1,335.2 L41.8,335.5 L41.5,335.7 L41.2,336.0 L41.0,336.2 L40.9,336.5 L40.7,336.8 L40.5,337.0 L40.2,337.3 L40.0,337.6 L39.8,337.8 L39.5,338.0 L39.2,338.2 L38.9,338.5 L38.5,338.7 L38.2,338.8 L37.8,339.0 L37.5,339.0Z" fill="#858585" stroke="#3a3a3a" stroke-width="0.45" fill-rule="evenodd"/>
<path d="M37.2,337.6 L36.8,337.6 L36.2,337.6 L35.8,337.6 L35.4,337.5 L35.0,337.4 L34.8,337.2 L34.3,337.0 L34.0,336.8 L33.8,336.5 L33.5,336.2 L33.3,336.0 L33.2,335.8 L33.0,335.5 L32.8,335.0 L32.6,334.8 L32.4,334.5 L32.2,334.2 L32.0,333.9 L31.8,333.5 L31.6,333.2 L31.4,333.0 L31.2,332.6 L31.1,332.2 L31.0,331.9 L30.9,331.5 L30.8,331.0 L30.7,330.8 L30.6,330.2 L30.6,329.8 L30.6,329.2 L30.5,328.8 L30.5,328.2 L30.6,327.8 L30.6,327.2 L30.7,326.8 L30.8,326.5 L30.9,326.0 L31.0,325.8 L31.2,325.3 L31.4,325.0 L31.6,324.8 L31.8,324.5 L32.0,324.2 L32.3,324.0 L32.6,323.8 L32.9,323.5 L33.2,323.3 L33.5,323.1 L33.8,323.0 L34.2,322.8 L34.5,322.7 L35.0,322.6 L35.5,322.6 L36.0,322.5 L36.5,322.5 L37.0,322.6 L37.5,322.7 L37.8,322.8 L38.2,323.0 L38.5,323.2 L38.8,323.3 L39.0,323.5 L39.3,323.8 L39.6,324.0 L39.9,324.2 L40.2,324.5 L40.5,324.8 L40.7,325.0 L41.0,325.2 L41.2,325.5 L41.4,325.8 L41.6,326.0 L41.9,326.2 L42.2,326.4 L42.5,326.5 L42.9,326.5 L43.2,326.4 L43.8,326.3 L44.0,326.2 L44.5,326.1 L45.0,326.1 L45.5,326.1 L46.0,326.1 L46.5,326.2 L47.0,326.2 L47.5,326.2 L48.0,326.2 L48.3,326.2 L48.8,326.3 L49.2,326.4 L49.8,326.4 L50.2,326.3 L50.8,326.3 L51.0,326.2 L51.5,326.2 L52.0,326.2 L52.5,326.1 L53.0,326.1 L53.3,326.0 L53.8,325.9 L54.2,325.8 L54.5,325.7 L55.0,325.7 L55.5,325.6 L56.0,325.6 L56.5,325.5 L56.8,325.4 L57.2,325.3 L57.5,325.2 L58.0,325.0 L58.2,324.9 L58.7,324.8 L59.0,324.7 L59.5,324.5 L59.8,324.5 L60.2,324.3 L60.6,324.2 L61.0,324.2 L61.5,324.1 L62.0,324.1 L62.5,324.1 L63.0,324.2 L63.4,324.2 L63.8,324.3 L64.1,324.5 L64.5,324.8 L64.8,325.0 L65.0,325.2 L65.1,325.5 L65.2,325.8 L65.4,326.2 L65.5,326.8 L65.4,327.2 L65.3,327.8 L65.2,328.0 L65.0,328.4 L64.8,328.8 L64.6,329.0 L64.3,329.2 L64.1,329.5 L63.9,329.8 L63.6,330.0 L63.2,330.2 L63.0,330.4 L62.8,330.6 L62.5,330.8 L62.2,331.0 L61.8,331.2 L61.5,331.5 L61.2,331.7 L61.0,331.8 L60.7,332.0 L60.2,332.2 L60.0,332.4 L59.6,332.5 L59.2,332.6 L58.9,332.8 L58.5,332.9 L58.2,333.0 L57.8,333.2 L57.5,333.3 L57.0,333.5 L56.8,333.6 L56.3,333.8 L56.0,333.8 L55.5,334.0 L55.2,334.0 L54.8,334.1 L54.2,334.1 L53.8,334.2 L53.2,334.2 L52.8,334.2 L52.2,334.1 L51.8,334.1 L51.2,334.1 L50.8,334.1 L50.2,334.1 L49.8,334.1 L49.2,334.0 L48.9,334.0 L48.5,334.0 L48.0,333.9 L47.5,333.8 L47.2,333.7 L46.8,333.7 L46.2,333.6 L45.8,333.5 L45.5,333.5 L45.0,333.4 L44.5,333.3 L44.2,333.2 L43.8,333.1 L43.3,333.0 L43.0,332.9 L42.5,332.8 L42.2,332.8 L41.8,332.7 L41.5,332.8 L41.2,333.0 L40.9,333.2 L40.7,333.5 L40.5,333.9 L40.3,334.2 L40.2,334.5 L40.0,334.8 L39.8,335.2 L39.7,335.5 L39.5,335.8 L39.2,336.2 L39.0,336.5 L38.8,336.8 L38.5,337.0 L38.2,337.2 L38.0,337.3 L37.5,337.5 L37.2,337.6Z" fill="#a0a0a0" stroke="#3a3a3a" stroke-width="0.45" fill-rule="evenodd"/>
<path d="M36.8,336.3 L36.2,336.3 L35.9,336.2 L35.5,336.1 L35.2,336.0 L34.8,335.8 L34.5,335.5 L34.3,335.2 L34.2,335.0 L34.0,334.7 L33.8,334.2 L33.6,334.0 L33.5,333.8 L33.2,333.4 L33.0,333.0 L32.9,332.8 L32.8,332.4 L32.6,332.0 L32.5,331.8 L32.3,331.2 L32.2,331.0 L32.1,330.5 L32.1,330.0 L32.1,329.5 L32.0,329.2 L31.9,328.8 L31.9,328.2 L31.8,327.8 L31.8,327.2 L31.9,326.8 L32.0,326.5 L32.2,326.0 L32.4,325.8 L32.6,325.5 L32.9,325.2 L33.1,325.0 L33.4,324.8 L33.8,324.5 L34.0,324.4 L34.3,324.2 L34.8,324.1 L35.2,324.0 L35.5,324.0 L36.0,323.9 L36.5,323.9 L36.9,324.0 L37.2,324.1 L37.5,324.2 L37.9,324.5 L38.1,324.8 L38.4,325.0 L38.6,325.2 L38.8,325.5 L39.0,325.8 L39.2,326.1 L39.5,326.5 L39.7,326.8 L39.8,327.0 L40.0,327.4 L40.2,327.8 L40.3,328.0 L40.4,328.5 L40.5,329.0 L40.4,329.5 L40.3,330.0 L40.2,330.2 L40.1,330.8 L40.0,331.0 L39.8,331.5 L39.7,331.8 L39.5,332.2 L39.4,332.5 L39.3,333.0 L39.2,333.2 L39.0,333.8 L38.9,334.0 L38.8,334.5 L38.6,334.8 L38.5,335.0 L38.2,335.4 L38.0,335.7 L37.8,335.9 L37.5,336.1 L37.0,336.2 L36.8,336.3ZM56.8,331.8 L56.2,331.9 L55.8,332.0 L55.2,332.0 L54.8,331.9 L54.2,331.9 L53.8,331.8 L53.2,331.9 L52.8,331.9 L52.2,331.8 L51.8,331.8 L51.2,331.8 L50.8,331.8 L50.5,331.7 L50.0,331.6 L49.8,331.5 L49.2,331.3 L48.8,331.3 L48.2,331.3 L48.0,331.2 L47.5,331.2 L47.0,331.2 L46.6,331.0 L46.3,330.8 L46.3,330.2 L46.5,330.0 L46.8,329.8 L47.1,329.5 L47.2,329.2 L47.6,329.0 L48.0,328.9 L48.5,328.8 L49.0,328.8 L49.4,328.8 L49.8,328.6 L50.0,328.5 L50.5,328.2 L50.8,328.2 L51.2,328.0 L51.5,327.9 L52.0,327.9 L52.5,327.9 L53.0,328.0 L53.5,328.0 L54.0,328.0 L54.5,327.9 L55.0,327.8 L55.5,327.8 L55.8,327.7 L56.2,327.7 L56.8,327.7 L57.2,327.6 L57.6,327.5 L58.0,327.3 L58.2,327.2 L58.5,327.0 L58.9,326.8 L59.2,326.6 L59.5,326.4 L59.9,326.2 L60.2,326.1 L60.6,326.0 L61.0,325.9 L61.5,325.8 L61.8,325.7 L62.2,325.6 L62.8,325.6 L63.1,325.8 L63.5,325.9 L63.8,326.1 L64.0,326.5 L64.1,326.8 L64.1,327.2 L64.0,327.6 L63.8,328.0 L63.6,328.2 L63.3,328.5 L63.0,328.6 L62.8,328.8 L62.2,329.0 L62.0,329.1 L61.8,329.3 L61.3,329.5 L61.0,329.7 L60.8,329.9 L60.5,330.1 L60.2,330.3 L60.0,330.5 L59.5,330.7 L59.2,330.8 L58.8,331.0 L58.5,331.1 L58.1,331.2 L57.8,331.4 L57.5,331.5 L57.0,331.7 L56.8,331.8Z" fill="#bababa" stroke="#3a3a3a" stroke-width="0.45" fill-rule="evenodd"/>
<path d="M36.5,334.5 L36.0,334.6 L35.8,334.5 L35.3,334.2 L35.1,334.0 L34.9,333.8 L34.8,333.5 L34.5,333.0 L34.4,332.8 L34.2,332.4 L34.1,332.0 L34.0,331.8 L33.9,331.2 L33.8,330.8 L33.7,330.5 L33.6,330.0 L33.6,329.5 L33.5,329.2 L33.3,328.8 L33.2,328.4 L33.2,328.0 L33.1,327.5 L33.2,327.0 L33.4,326.8 L33.6,326.5 L33.8,326.2 L34.2,326.0 L34.5,325.8 L34.8,325.7 L35.2,325.5 L35.5,325.5 L36.0,325.4 L36.4,325.5 L36.8,325.6 L37.0,325.8 L37.3,326.0 L37.6,326.2 L37.8,326.5 L38.0,326.8 L38.2,327.2 L38.4,327.5 L38.5,327.8 L38.7,328.2 L38.8,328.5 L38.9,329.0 L39.0,329.5 L38.9,330.0 L38.8,330.5 L38.8,330.8 L38.6,331.2 L38.5,331.5 L38.3,332.0 L38.2,332.2 L38.0,332.8 L37.9,333.0 L37.8,333.4 L37.6,333.8 L37.4,334.0 L37.1,334.2 L36.8,334.5 L36.5,334.5Z" fill="#d4d4d4" stroke="#3a3a3a" stroke-width="0.45" fill-rule="evenodd"/>
<path d="M36.5,331.8 L36.1,331.8 L35.8,331.5 L35.7,331.2 L35.5,330.9 L35.3,330.5 L35.2,330.2 L35.0,329.8 L35.0,329.5 L34.9,329.0 L34.9,328.5 L35.0,328.1 L35.2,327.8 L35.5,327.7 L36.0,327.6 L36.5,327.7 L36.8,327.8 L37.0,328.0 L37.2,328.4 L37.4,328.8 L37.5,329.2 L37.5,329.5 L37.5,329.8 L37.3,330.2 L37.2,330.5 L37.0,331.0 L36.9,331.2 L36.7,331.5 L36.5,331.8Z" fill="#eeeeee" stroke="#3a3a3a" stroke-width="0.45" fill-rule="evenodd"/>
</g>
<clipPath id="dc4"><rect x="29.4" y="312.2" width="56.3" height="45.2"/></clipPath>
<g clip-path="url(#dc4)">
<path d="M38.0,358.0 L37.5,358.1 L37.0,358.2 L36.5,358.2 L36.0,358.2 L35.5,358.2 L35.0,358.1 L34.6,358.0 L34.2,357.9 L33.8,357.8 L33.5,357.7 L33.0,357.5 L32.8,357.4 L32.3,357.2 L32.0,357.1 L31.8,357.0 L31.5,356.8 L31.1,356.5 L30.8,356.2 L30.5,356.0 L30.2,355.8 L30.0,355.5 L29.8,355.3 L29.5,355.0 L29.3,354.8 L29.1,354.5 L28.9,354.2 L28.8,354.0 L28.5,353.6 L28.3,353.2 L28.2,353.0 L28.0,352.6 L27.8,352.2 L27.7,352.0 L27.5,351.5 L27.5,351.2 L27.4,350.8 L27.4,350.2 L27.4,349.8 L27.4,349.2 L27.5,348.8 L27.5,348.5 L27.6,348.0 L27.7,347.5 L27.8,347.1 L27.8,346.8 L27.9,346.2 L28.0,345.8 L28.1,345.5 L28.2,345.0 L28.4,344.8 L28.5,344.5 L28.8,344.1 L29.0,343.8 L29.1,343.5 L29.3,343.2 L29.5,343.0 L29.8,342.7 L30.0,342.4 L30.2,342.2 L30.5,341.9 L30.8,341.7 L31.0,341.5 L31.4,341.2 L31.8,341.0 L32.0,340.9 L32.3,340.8 L32.8,340.6 L33.0,340.5 L33.5,340.3 L33.8,340.2 L34.2,340.1 L34.7,340.0 L35.0,340.0 L35.5,339.9 L36.0,339.9 L36.5,339.9 L37.0,339.8 L37.5,339.8 L38.0,339.9 L38.5,339.9 L39.0,340.0 L39.2,340.0 L39.8,340.2 L40.0,340.3 L40.5,340.5 L40.8,340.6 L41.1,340.8 L41.5,341.0 L41.8,341.1 L42.0,341.3 L42.4,341.5 L42.8,341.7 L43.0,341.9 L43.2,342.0 L43.6,342.2 L44.0,342.4 L44.2,342.5 L44.8,342.7 L45.0,342.8 L45.5,342.9 L45.9,343.0 L46.2,343.1 L46.7,343.2 L47.0,343.4 L47.5,343.5 L47.8,343.5 L48.2,343.6 L48.8,343.6 L49.2,343.6 L49.8,343.5 L50.1,343.5 L50.5,343.4 L51.0,343.4 L51.5,343.4 L52.0,343.3 L52.5,343.3 L52.8,343.2 L53.2,343.1 L53.8,343.1 L54.1,343.0 L54.5,342.9 L55.0,342.9 L55.5,342.9 L56.0,342.8 L56.5,342.8 L56.8,342.7 L57.2,342.7 L57.8,342.6 L58.2,342.5 L58.5,342.5 L59.0,342.4 L59.5,342.3 L59.8,342.2 L60.2,342.2 L60.8,342.1 L61.2,342.1 L61.8,342.1 L62.2,342.2 L62.6,342.2 L63.0,342.4 L63.2,342.5 L63.6,342.8 L63.9,343.0 L64.1,343.2 L64.3,343.5 L64.5,343.8 L64.7,344.2 L64.8,344.5 L65.0,345.0 L65.0,345.2 L65.1,345.8 L65.1,346.2 L65.0,346.8 L65.0,347.0 L64.9,347.5 L64.8,347.9 L64.6,348.2 L64.5,348.6 L64.4,349.0 L64.2,349.2 L64.0,349.8 L63.9,350.0 L63.7,350.2 L63.5,350.6 L63.3,351.0 L63.1,351.2 L62.9,351.5 L62.8,351.8 L62.5,352.1 L62.2,352.3 L62.0,352.5 L61.7,352.8 L61.3,353.0 L61.0,353.2 L60.8,353.3 L60.4,353.5 L60.0,353.7 L59.8,353.8 L59.3,354.0 L59.0,354.1 L58.5,354.2 L58.2,354.3 L57.8,354.4 L57.2,354.4 L56.8,354.5 L56.5,354.5 L56.0,354.7 L55.5,354.8 L55.2,354.8 L54.8,354.8 L54.2,354.8 L53.8,354.8 L53.2,354.8 L52.8,354.8 L52.2,354.8 L51.8,354.8 L51.2,354.8 L50.8,354.8 L50.2,354.8 L50.0,354.8 L49.5,354.7 L49.0,354.7 L48.5,354.6 L48.0,354.6 L47.5,354.6 L47.0,354.6 L46.5,354.6 L46.0,354.7 L45.8,354.8 L45.2,354.9 L45.0,355.0 L44.5,355.2 L44.2,355.4 L44.0,355.5 L43.6,355.8 L43.2,355.9 L43.0,356.1 L42.6,356.2 L42.2,356.4 L42.0,356.5 L41.6,356.8 L41.2,356.9 L41.0,357.0 L40.6,357.2 L40.2,357.4 L40.0,357.5 L39.5,357.7 L39.2,357.8 L38.8,357.9 L38.2,358.0 L38.0,358.0Z" fill="#858585" stroke="#3a3a3a" stroke-width="0.45" fill-rule="evenodd"/>
<path d="M37.5,356.0 L37.0,356.1 L36.5,356.1 L36.0,356.1 L35.5,356.0 L35.2,356.0 L34.8,355.9 L34.2,355.8 L34.0,355.7 L33.6,355.5 L33.2,355.3 L33.0,355.2 L32.7,355.0 L32.4,354.8 L32.1,354.5 L31.8,354.3 L31.5,354.1 L31.2,353.8 L31.0,353.6 L30.8,353.2 L30.6,353.0 L30.5,352.8 L30.2,352.3 L30.0,352.0 L29.9,351.8 L29.8,351.4 L29.6,351.0 L29.4,350.8 L29.3,350.2 L29.3,349.8 L29.3,349.2 L29.3,348.8 L29.4,348.2 L29.5,347.8 L29.5,347.5 L29.7,347.0 L29.8,346.8 L29.9,346.2 L30.0,346.0 L30.2,345.5 L30.4,345.2 L30.6,345.0 L30.8,344.8 L31.0,344.5 L31.2,344.2 L31.5,343.9 L31.8,343.7 L32.0,343.4 L32.2,343.2 L32.5,343.0 L32.9,342.8 L33.2,342.6 L33.5,342.5 L34.0,342.3 L34.2,342.2 L34.8,342.1 L35.2,342.0 L35.5,342.0 L36.0,341.9 L36.5,341.9 L37.0,341.8 L37.5,341.8 L38.0,341.8 L38.5,341.9 L39.0,342.0 L39.2,342.0 L39.8,342.2 L40.0,342.4 L40.2,342.5 L40.5,342.8 L40.8,343.0 L41.0,343.2 L41.3,343.5 L41.7,343.8 L42.0,344.0 L42.2,344.1 L42.5,344.3 L43.0,344.5 L43.2,344.5 L43.8,344.6 L44.2,344.7 L44.8,344.7 L45.0,344.8 L45.5,344.9 L45.9,345.0 L46.2,345.1 L46.7,345.2 L47.0,345.3 L47.5,345.4 L48.0,345.4 L48.5,345.4 L49.0,345.4 L49.5,345.4 L50.0,345.4 L50.5,345.4 L51.0,345.4 L51.5,345.4 L52.0,345.4 L52.5,345.3 L52.9,345.2 L53.2,345.2 L53.8,345.1 L54.2,345.0 L54.8,345.0 L55.0,345.0 L55.5,345.0 L56.0,344.9 L56.5,344.8 L56.9,344.8 L57.2,344.7 L57.8,344.7 L58.2,344.6 L58.8,344.5 L59.0,344.5 L59.5,344.3 L59.8,344.1 L60.0,344.0 L60.5,343.8 L60.8,343.7 L61.2,343.5 L61.5,343.5 L62.0,343.5 L62.2,343.5 L62.8,343.7 L63.0,343.8 L63.2,344.0 L63.5,344.3 L63.8,344.7 L63.9,345.0 L64.0,345.4 L64.0,345.8 L64.0,346.2 L64.0,346.5 L63.9,347.0 L63.8,347.3 L63.6,347.8 L63.5,348.0 L63.2,348.4 L63.1,348.8 L62.9,349.0 L62.7,349.2 L62.5,349.6 L62.2,349.9 L62.0,350.2 L61.8,350.5 L61.5,350.7 L61.2,350.9 L61.0,351.1 L60.8,351.3 L60.5,351.5 L60.0,351.7 L59.8,351.9 L59.4,352.0 L59.0,352.2 L58.8,352.3 L58.2,352.4 L58.0,352.5 L57.5,352.7 L57.1,352.8 L56.8,352.8 L56.2,352.9 L55.8,352.9 L55.2,352.9 L54.8,352.9 L54.2,352.9 L53.8,352.8 L53.2,352.8 L52.8,352.8 L52.2,352.8 L51.8,352.8 L51.2,352.9 L50.8,352.9 L50.2,352.9 L49.8,352.8 L49.2,352.8 L49.0,352.8 L48.5,352.7 L48.0,352.7 L47.5,352.7 L47.0,352.7 L46.8,352.8 L46.2,352.9 L45.8,353.0 L45.5,353.0 L45.0,353.1 L44.5,353.2 L44.2,353.3 L43.8,353.4 L43.4,353.5 L43.0,353.7 L42.8,353.8 L42.4,354.0 L42.0,354.2 L41.8,354.3 L41.4,354.5 L41.0,354.7 L40.8,354.9 L40.5,355.0 L40.0,355.2 L39.8,355.4 L39.5,355.5 L39.0,355.8 L38.8,355.8 L38.2,355.9 L37.8,356.0 L37.5,356.0Z" fill="#a0a0a0" stroke="#3a3a3a" stroke-width="0.45" fill-rule="evenodd"/>
<path d="M38.0,354.3 L37.5,354.4 L37.0,354.5 L36.5,354.5 L36.0,354.4 L35.5,354.3 L35.0,354.2 L34.8,354.2 L34.3,354.0 L34.0,353.8 L33.8,353.7 L33.5,353.5 L33.2,353.2 L32.9,353.0 L32.7,352.8 L32.4,352.5 L32.2,352.2 L32.0,351.9 L31.8,351.5 L31.6,351.2 L31.5,351.0 L31.3,350.5 L31.2,350.2 L31.1,349.8 L31.1,349.2 L31.1,348.8 L31.1,348.2 L31.2,347.8 L31.3,347.5 L31.5,347.1 L31.7,346.8 L31.8,346.5 L32.0,346.2 L32.2,345.8 L32.5,345.5 L32.6,345.2 L32.8,345.0 L33.0,344.7 L33.2,344.5 L33.6,344.2 L34.0,344.1 L34.3,344.0 L34.8,343.8 L35.0,343.7 L35.5,343.6 L36.0,343.6 L36.5,343.6 L37.0,343.7 L37.2,343.8 L37.8,344.0 L38.0,344.0 L38.5,344.1 L39.0,344.2 L39.2,344.4 L39.5,344.5 L39.8,344.8 L40.1,345.0 L40.4,345.2 L40.6,345.5 L40.8,345.8 L41.0,346.0 L41.2,346.3 L41.5,346.5 L41.8,346.8 L42.2,346.9 L42.8,346.9 L43.2,346.8 L43.6,346.8 L44.0,346.7 L44.5,346.7 L44.8,346.8 L45.2,346.9 L45.6,347.0 L46.0,347.1 L46.5,347.2 L46.8,347.3 L47.2,347.4 L47.5,347.5 L47.9,347.8 L48.2,347.9 L48.5,348.0 L48.9,348.0 L49.2,348.0 L49.8,347.9 L50.1,347.8 L50.5,347.7 L51.0,347.6 L51.5,347.6 L52.0,347.6 L52.2,347.5 L52.8,347.3 L53.0,347.2 L53.5,347.0 L53.8,346.9 L54.2,346.8 L54.5,346.7 L55.0,346.7 L55.5,346.7 L56.0,346.6 L56.5,346.6 L57.0,346.5 L57.2,346.5 L57.8,346.4 L58.2,346.4 L58.8,346.3 L59.0,346.2 L59.5,346.1 L59.8,345.9 L60.1,345.8 L60.5,345.5 L60.8,345.3 L61.0,345.2 L61.4,345.0 L61.8,345.0 L62.0,345.0 L62.4,345.2 L62.6,345.5 L62.8,345.8 L62.8,346.2 L62.7,346.5 L62.6,347.0 L62.4,347.2 L62.2,347.6 L62.0,347.9 L61.8,348.2 L61.5,348.5 L61.3,348.8 L61.1,349.0 L60.9,349.2 L60.7,349.5 L60.4,349.8 L60.2,350.0 L59.8,350.2 L59.5,350.3 L59.1,350.5 L58.8,350.6 L58.2,350.7 L57.9,350.8 L57.5,350.8 L57.0,350.9 L56.7,351.0 L56.2,351.1 L55.8,351.1 L55.2,351.1 L54.8,351.1 L54.2,351.0 L54.0,350.9 L53.6,350.8 L53.2,350.6 L53.0,350.5 L52.5,350.4 L52.0,350.3 L51.8,350.5 L51.5,350.8 L51.0,351.0 L50.8,351.1 L50.2,351.1 L49.8,351.1 L49.4,351.0 L49.0,350.8 L48.8,350.7 L48.3,350.5 L48.0,350.3 L47.8,350.2 L47.3,350.0 L47.2,350.0 L46.8,350.2 L46.5,350.4 L46.2,350.5 L45.9,350.8 L45.5,350.9 L45.2,351.1 L44.8,351.2 L44.5,351.3 L44.0,351.3 L43.5,351.4 L43.0,351.4 L42.5,351.4 L42.2,351.5 L41.8,351.7 L41.5,351.9 L41.2,352.0 L41.0,352.3 L40.8,352.5 L40.5,352.8 L40.2,353.0 L40.0,353.2 L39.7,353.5 L39.3,353.8 L39.0,353.9 L38.8,354.0 L38.2,354.2 L38.0,354.3Z" fill="#bababa" stroke="#3a3a3a" stroke-width="0.45" fill-rule="evenodd"/>
<path d="M37.5,352.8 L37.0,352.8 L36.5,352.8 L36.2,352.8 L35.8,352.6 L35.4,352.5 L35.0,352.3 L34.8,352.2 L34.3,352.0 L34.0,351.8 L33.8,351.5 L33.6,351.2 L33.4,351.0 L33.2,350.8 L33.0,350.3 L32.9,350.0 L32.8,349.6 L32.7,349.2 L32.7,348.8 L32.7,348.2 L32.8,348.0 L33.0,347.6 L33.2,347.3 L33.5,347.0 L33.7,346.8 L33.9,346.5 L34.2,346.2 L34.5,346.0 L34.8,345.8 L35.0,345.7 L35.3,345.5 L35.8,345.4 L36.2,345.4 L36.8,345.4 L37.2,345.5 L37.5,345.6 L38.0,345.7 L38.2,345.8 L38.6,346.0 L38.9,346.2 L39.1,346.5 L39.2,346.8 L39.5,347.2 L39.7,347.5 L39.8,347.8 L40.0,348.2 L40.1,348.5 L40.2,348.8 L40.4,349.2 L40.4,349.8 L40.3,350.2 L40.2,350.5 L40.0,350.8 L39.8,351.2 L39.5,351.5 L39.3,351.8 L39.1,352.0 L38.8,352.2 L38.5,352.4 L38.2,352.5 L37.8,352.7 L37.5,352.8Z" fill="#d4d4d4" stroke="#3a3a3a" stroke-width="0.45" fill-rule="evenodd"/>
<path d="M36.5,351.0 L36.0,351.0 L35.8,351.0 L35.2,350.8 L35.0,350.7 L34.8,350.5 L34.5,350.2 L34.3,349.8 L34.2,349.5 L34.2,349.1 L34.3,348.8 L34.5,348.4 L34.8,348.2 L35.0,348.0 L35.5,347.8 L35.8,347.6 L36.2,347.5 L36.8,347.6 L37.2,347.7 L37.5,347.8 L37.8,348.1 L37.9,348.5 L38.0,349.0 L37.9,349.5 L37.8,349.9 L37.6,350.2 L37.4,350.5 L37.1,350.8 L36.8,351.0 L36.5,351.0Z" fill="#eeeeee" stroke="#3a3a3a" stroke-width="0.45" fill-rule="evenodd"/>
</g>
<line x1="43.65" y1="266" x2="43.65" y2="357.4" stroke="#1a1a1a" stroke-width="0.95" stroke-dasharray="2.4 1.5"/>
<rect x="29.4" y="266" width="56.3" height="91.4" fill="none" stroke="#231f20" stroke-width="0.8"/>
<line x1="29.4" y1="312.2" x2="85.7" y2="312.2" stroke="#231f20" stroke-width="0.8"/>
<text x="25.6" y="357.8" font-size="7.5" transform="rotate(-90 25.6 357.8)">CD8-AF700</text>
<line x1="22.8" y1="314.2" x2="22.8" y2="270" stroke="#231f20" stroke-width="0.8"/>
<path d="M21.2,271 L22.8,267.3 L24.4,271 Z" fill="#231f20"/>
<text x="21.8" y="367.3" font-size="8.0">IFNγ-BV786</text>
<line x1="68" y1="364.4" x2="80.5" y2="364.4" stroke="#231f20" stroke-width="0.8"/>
<path d="M79.5,362.8 L83.5,364.4 L79.5,366 Z" fill="#231f20"/>
<text x="97.5" y="289.1" font-size="8.5" text-anchor="middle" transform="rotate(-90 97.5 289.1)"><tspan font-style="italic">Stat3</tspan><tspan dx="0.5" dy="-3.4" font-size="6.12">−/−</tspan></text>
<text x="97.5" y="334.8" font-size="8.5" text-anchor="middle" transform="rotate(-90 97.5 334.8)"><tspan font-style="italic">Stat3</tspan><tspan dx="0.5" dy="-3.4" font-size="6.12">+/+</tspan></text>
<text x="120.7" y="261.6" font-size="11" font-weight="bold" fill="#000">p</text>
<line x1="153.5" y1="271.3" x2="153.5" y2="347.7" stroke="#58595b" stroke-width="0.8"/>
<line x1="149.5" y1="347.7" x2="153.5" y2="347.7" stroke="#58595b" stroke-width="0.8"/>
<text x="146.9" y="350.4" font-size="8.1" text-anchor="end">0</text>
<line x1="149.5" y1="328.6" x2="153.5" y2="328.6" stroke="#58595b" stroke-width="0.8"/>
<text x="146.9" y="331.3" font-size="8.1" text-anchor="end">20</text>
<line x1="149.5" y1="309.5" x2="153.5" y2="309.5" stroke="#58595b" stroke-width="0.8"/>
<text x="146.9" y="312.2" font-size="8.1" text-anchor="end">40</text>
<line x1="149.5" y1="290.4" x2="153.5" y2="290.4" stroke="#58595b" stroke-width="0.8"/>
<text x="146.9" y="293.1" font-size="8.1" text-anchor="end">60</text>
<line x1="149.5" y1="271.3" x2="153.5" y2="271.3" stroke="#58595b" stroke-width="0.8"/>
<text x="146.9" y="274" font-size="8.1" text-anchor="end">80</text>
<rect x="158.6" y="299" width="10.2" height="48.7" fill="#cadcf6" stroke="#2b2bd6" stroke-width="0.9"/>
<circle cx="163.7" cy="283.72" r="1.65" fill="#0808cc"/>
<circle cx="163.7" cy="298.04" r="1.65" fill="#0808cc"/>
<circle cx="160.6" cy="305.68" r="1.65" fill="#0808cc"/>
<circle cx="167.6" cy="305.2" r="1.65" fill="#0808cc"/>
<circle cx="165" cy="300.9" r="1.65" fill="#0808cc"/>
<line x1="163.7" y1="304.25" x2="163.7" y2="293.74" stroke="#2b2bd6" stroke-width="0.8"/>
<line x1="161.5" y1="293.74" x2="165.9" y2="293.74" stroke="#2b2bd6" stroke-width="0.8"/>
<line x1="161.5" y1="304.25" x2="165.9" y2="304.25" stroke="#2b2bd6" stroke-width="0.8"/>
<line x1="161.1" y1="299" x2="166.3" y2="299" stroke="#2b2bd6" stroke-width="0.8"/>
<rect x="174" y="281.81" width="10.7" height="65.89" fill="#ffdcdc" stroke="#f5262b" stroke-width="0.9"/>
<circle cx="175.8" cy="277.7" r="1.65" fill="#ff1414"/>
<circle cx="183" cy="276.36" r="1.65" fill="#ff1414"/>
<circle cx="175.3" cy="283.81" r="1.65" fill="#ff1414"/>
<circle cx="183" cy="283.72" r="1.65" fill="#ff1414"/>
<circle cx="179.5" cy="280.85" r="1.65" fill="#ff1414"/>
<line x1="179.35" y1="284.19" x2="179.35" y2="279.42" stroke="#f5262b" stroke-width="0.8"/>
<line x1="177.15" y1="279.42" x2="181.55" y2="279.42" stroke="#f5262b" stroke-width="0.8"/>
<line x1="177.15" y1="284.19" x2="181.55" y2="284.19" stroke="#f5262b" stroke-width="0.8"/>
<line x1="176.75" y1="281.81" x2="181.95" y2="281.81" stroke="#f5262b" stroke-width="0.8"/>
<line x1="149.5" y1="347.7" x2="189.9" y2="347.7" stroke="#58595b" stroke-width="0.8"/>
<line x1="163.7" y1="347.7" x2="163.7" y2="351.9" stroke="#58595b" stroke-width="0.8"/>
<line x1="179.35" y1="347.7" x2="179.35" y2="351.9" stroke="#58595b" stroke-width="0.8"/>
<text x="151.5" y="378.9" font-size="7.8" transform="rotate(-42 151.5 378.9)"><tspan font-style="italic">Stat3</tspan><tspan dx="0.5" dy="-3.12" font-size="5.62">+/+</tspan></text>
<text x="167.15" y="378.9" font-size="7.8" transform="rotate(-42 167.15 378.9)"><tspan font-style="italic">Stat3</tspan><tspan dx="0.5" dy="-3.12" font-size="5.62">−/−</tspan></text>
<text x="133.9" y="308.8" font-size="7.6" text-anchor="middle" textLength="86.3" lengthAdjust="spacingAndGlyphs" transform="rotate(-90 133.9 308.8)">IFNγ<tspan baseline-shift="super" font-size="5">+</tspan> (% in CD8<tspan baseline-shift="super" font-size="5">+</tspan> T cells)</text>
<text x="179.5" y="274.4" font-size="8.5" text-anchor="middle">*</text>
<text x="203.1" y="261.6" font-size="11" font-weight="bold" fill="#000">q</text>
<clipPath id="c213_265"><rect x="213.6" y="265.6" width="56.1" height="90.8"/></clipPath>
<clipPath id="dc5"><rect x="213.6" y="265.6" width="56.1" height="45.7"/></clipPath>
<g clip-path="url(#dc5)">
<path d="M224.8,293.1 L224.2,293.1 L223.8,293.1 L223.2,293.1 L222.8,293.0 L222.5,292.9 L222.0,292.8 L221.8,292.7 L221.4,292.5 L221.0,292.3 L220.8,292.1 L220.5,291.9 L220.2,291.7 L220.0,291.5 L219.7,291.2 L219.5,291.0 L219.2,290.7 L219.0,290.4 L218.8,290.1 L218.5,289.8 L218.2,289.6 L218.0,289.4 L217.8,289.2 L217.5,289.0 L217.1,288.8 L216.8,288.5 L216.5,288.3 L216.2,288.1 L216.0,287.8 L215.8,287.6 L215.5,287.4 L215.2,287.1 L215.0,286.8 L214.8,286.5 L214.6,286.2 L214.4,286.0 L214.2,285.8 L214.0,285.4 L213.8,285.0 L213.7,284.8 L213.5,284.4 L213.3,284.0 L213.2,283.8 L213.1,283.2 L213.0,282.8 L212.9,282.5 L212.9,282.0 L212.8,281.5 L212.8,281.0 L212.8,280.5 L212.9,280.0 L212.9,279.5 L213.0,279.1 L213.1,278.8 L213.2,278.3 L213.3,278.0 L213.5,277.7 L213.7,277.2 L213.8,277.0 L214.0,276.7 L214.2,276.3 L214.4,276.0 L214.6,275.8 L214.8,275.5 L215.0,275.2 L215.2,274.9 L215.5,274.7 L215.8,274.5 L216.0,274.2 L216.3,274.0 L216.7,273.8 L217.0,273.5 L217.2,273.4 L217.6,273.2 L218.0,273.1 L218.2,273.0 L218.8,272.8 L219.0,272.7 L219.5,272.6 L219.9,272.5 L220.2,272.4 L220.8,272.4 L221.2,272.4 L221.8,272.3 L222.2,272.3 L222.8,272.3 L223.2,272.3 L223.8,272.3 L224.2,272.3 L224.8,272.3 L225.2,272.4 L225.8,272.4 L226.2,272.5 L226.5,272.5 L227.0,272.5 L227.5,272.5 L228.0,272.5 L228.5,272.6 L229.0,272.6 L229.5,272.7 L229.8,272.8 L230.2,272.9 L230.8,273.0 L231.0,273.0 L231.5,273.1 L232.0,273.2 L232.5,273.2 L232.8,273.3 L233.2,273.4 L233.8,273.4 L234.2,273.5 L234.5,273.5 L235.0,273.5 L235.5,273.5 L236.0,273.5 L236.4,273.5 L236.8,273.4 L237.2,273.4 L237.8,273.3 L238.2,273.3 L238.5,273.2 L239.0,273.2 L239.4,273.2 L239.8,273.3 L240.2,273.3 L240.8,273.4 L241.2,273.4 L241.8,273.5 L242.0,273.5 L242.5,273.6 L243.0,273.7 L243.2,273.8 L243.8,273.9 L244.0,274.0 L244.5,274.2 L244.8,274.3 L245.2,274.5 L245.5,274.6 L245.8,274.8 L246.2,275.0 L246.5,275.2 L246.8,275.3 L247.0,275.5 L247.3,275.8 L247.5,276.0 L247.8,276.3 L248.0,276.6 L248.2,277.0 L248.4,277.2 L248.5,277.6 L248.7,278.0 L248.8,278.3 L248.9,278.8 L249.0,279.2 L249.0,279.5 L249.1,280.0 L249.1,280.5 L249.1,281.0 L249.0,281.5 L249.0,281.8 L248.9,282.2 L248.8,282.7 L248.7,283.0 L248.5,283.4 L248.4,283.8 L248.2,284.0 L248.0,284.5 L247.9,284.8 L247.7,285.0 L247.5,285.2 L247.2,285.5 L246.9,285.8 L246.6,286.0 L246.2,286.2 L246.0,286.3 L245.5,286.5 L245.2,286.5 L244.8,286.5 L244.4,286.5 L244.0,286.4 L243.5,286.3 L243.2,286.2 L242.9,286.0 L242.5,285.8 L242.2,285.7 L241.8,285.5 L241.5,285.4 L241.0,285.3 L240.8,285.2 L240.2,285.2 L239.8,285.2 L239.5,285.3 L239.0,285.4 L238.7,285.5 L238.2,285.7 L238.0,285.8 L237.5,286.0 L237.2,286.1 L237.0,286.3 L236.5,286.5 L236.2,286.6 L236.0,286.8 L235.6,287.0 L235.2,287.2 L235.0,287.3 L234.7,287.5 L234.3,287.8 L234.0,287.9 L233.8,288.1 L233.4,288.2 L233.0,288.5 L232.8,288.6 L232.3,288.8 L232.0,288.9 L231.6,289.0 L231.2,289.1 L230.8,289.2 L230.5,289.4 L230.2,289.5 L229.9,289.8 L229.5,290.0 L229.2,290.2 L229.0,290.5 L228.8,290.8 L228.5,291.0 L228.3,291.2 L228.0,291.5 L227.8,291.7 L227.5,291.9 L227.2,292.1 L226.9,292.2 L226.5,292.4 L226.2,292.6 L225.8,292.8 L225.5,292.9 L225.0,293.0 L224.8,293.1Z" fill="#6f6f6f" stroke="#3a3a3a" stroke-width="0.5" fill-rule="evenodd"/>
<path d="M224.5,291.5 L224.0,291.6 L223.5,291.5 L223.2,291.4 L222.8,291.3 L222.5,291.2 L222.2,291.0 L221.8,290.8 L221.5,290.5 L221.3,290.2 L221.1,290.0 L220.9,289.8 L220.7,289.5 L220.5,289.2 L220.2,288.9 L220.0,288.6 L219.8,288.3 L219.5,288.1 L219.2,287.9 L219.0,287.8 L218.5,287.5 L218.2,287.3 L218.0,287.2 L217.7,287.0 L217.3,286.8 L217.0,286.5 L216.8,286.3 L216.5,286.0 L216.3,285.8 L216.1,285.5 L215.9,285.2 L215.7,285.0 L215.5,284.7 L215.3,284.2 L215.1,284.0 L215.0,283.8 L214.8,283.2 L214.7,283.0 L214.6,282.5 L214.6,282.0 L214.5,281.5 L214.6,281.0 L214.6,280.5 L214.6,280.0 L214.7,279.5 L214.8,279.1 L214.8,278.8 L215.0,278.4 L215.2,278.0 L215.3,277.8 L215.5,277.5 L215.8,277.1 L216.0,276.8 L216.2,276.5 L216.4,276.2 L216.7,276.0 L216.9,275.8 L217.2,275.5 L217.5,275.4 L217.8,275.2 L218.2,275.0 L218.5,274.9 L218.8,274.8 L219.2,274.6 L219.6,274.5 L220.0,274.4 L220.5,274.3 L220.8,274.2 L221.2,274.2 L221.8,274.1 L222.2,274.1 L222.8,274.1 L223.2,274.1 L223.8,274.1 L224.2,274.1 L224.8,274.1 L225.2,274.1 L225.8,274.1 L226.2,274.2 L226.7,274.2 L227.0,274.3 L227.5,274.3 L228.0,274.4 L228.5,274.5 L228.8,274.5 L229.2,274.6 L229.8,274.7 L230.1,274.8 L230.5,274.8 L231.0,274.9 L231.4,275.0 L231.8,275.1 L232.2,275.2 L232.7,275.2 L233.0,275.3 L233.5,275.3 L234.0,275.3 L234.5,275.3 L235.0,275.3 L235.4,275.2 L235.8,275.2 L236.2,275.1 L236.8,275.0 L237.0,275.0 L237.5,274.9 L238.0,274.8 L238.5,274.8 L238.8,274.7 L239.2,274.7 L239.6,274.8 L240.0,274.8 L240.5,274.8 L241.0,274.9 L241.5,275.0 L241.8,275.1 L242.2,275.2 L242.5,275.3 L243.0,275.4 L243.2,275.5 L243.8,275.7 L244.0,275.8 L244.5,275.9 L244.8,276.0 L245.2,276.2 L245.5,276.3 L245.8,276.5 L246.1,276.8 L246.4,277.0 L246.6,277.2 L246.8,277.5 L247.0,277.8 L247.2,278.2 L247.4,278.5 L247.5,278.8 L247.6,279.2 L247.7,279.8 L247.7,280.2 L247.7,280.8 L247.6,281.2 L247.6,281.8 L247.5,282.1 L247.4,282.5 L247.2,282.8 L247.0,283.2 L246.9,283.5 L246.7,283.8 L246.5,284.0 L246.2,284.2 L245.9,284.5 L245.5,284.7 L245.2,284.8 L244.8,284.8 L244.2,284.8 L244.0,284.7 L243.5,284.5 L243.2,284.4 L242.9,284.2 L242.5,284.0 L242.2,283.9 L242.0,283.8 L241.5,283.6 L241.0,283.6 L240.5,283.6 L240.0,283.6 L239.5,283.6 L239.0,283.6 L238.5,283.7 L238.2,283.8 L237.8,283.9 L237.2,284.0 L237.0,284.1 L236.6,284.2 L236.2,284.4 L236.0,284.5 L235.6,284.8 L235.2,284.9 L235.0,285.1 L234.7,285.2 L234.2,285.5 L234.0,285.6 L233.8,285.8 L233.3,286.0 L233.0,286.1 L232.7,286.2 L232.2,286.4 L232.0,286.5 L231.5,286.7 L231.2,286.8 L230.9,287.0 L230.5,287.2 L230.2,287.3 L229.9,287.5 L229.5,287.7 L229.2,287.9 L229.0,288.0 L228.5,288.2 L228.2,288.4 L228.0,288.5 L227.7,288.8 L227.5,289.0 L227.2,289.4 L227.0,289.8 L226.9,290.0 L226.7,290.2 L226.5,290.5 L226.2,290.8 L225.9,291.0 L225.5,291.2 L225.2,291.3 L224.8,291.5 L224.5,291.5Z" fill="#858585" stroke="#3a3a3a" stroke-width="0.5" fill-rule="evenodd"/>
<path d="M224.0,289.0 L223.5,289.0 L223.2,288.8 L223.0,288.5 L222.8,288.2 L222.6,288.0 L222.4,287.8 L222.2,287.5 L221.9,287.2 L221.5,287.0 L221.2,286.9 L221.0,286.7 L220.5,286.6 L220.2,286.5 L219.8,286.3 L219.5,286.2 L219.0,286.0 L218.8,285.9 L218.5,285.8 L218.1,285.5 L217.8,285.2 L217.5,285.0 L217.3,284.8 L217.1,284.5 L216.9,284.2 L216.7,284.0 L216.5,283.6 L216.3,283.2 L216.2,283.0 L216.0,282.5 L216.0,282.2 L215.9,281.8 L215.8,281.2 L215.8,280.8 L215.9,280.2 L216.0,279.8 L216.0,279.5 L216.2,279.0 L216.3,278.8 L216.5,278.3 L216.7,278.0 L216.9,277.8 L217.0,277.5 L217.3,277.2 L217.5,277.0 L217.8,276.8 L218.2,276.5 L218.5,276.3 L218.8,276.2 L219.2,276.0 L219.5,275.9 L220.0,275.8 L220.2,275.7 L220.8,275.6 L221.2,275.6 L221.8,275.6 L222.2,275.6 L222.8,275.6 L223.2,275.6 L223.8,275.6 L224.2,275.5 L224.8,275.5 L225.2,275.5 L225.5,275.5 L225.8,275.5 L226.2,275.6 L226.8,275.6 L227.2,275.7 L227.7,275.8 L228.0,275.8 L228.5,275.9 L229.0,276.0 L229.2,276.0 L229.8,276.1 L230.2,276.2 L230.5,276.3 L231.0,276.4 L231.5,276.5 L231.8,276.6 L232.2,276.7 L232.5,276.8 L233.0,276.8 L233.5,276.8 L234.0,276.8 L234.5,276.9 L235.0,276.8 L235.5,276.8 L235.8,276.7 L236.2,276.6 L236.5,276.5 L237.0,276.4 L237.4,276.2 L237.8,276.2 L238.2,276.1 L238.8,276.1 L239.2,276.0 L239.8,276.1 L240.2,276.1 L240.8,276.2 L241.0,276.3 L241.5,276.4 L241.8,276.5 L242.2,276.7 L242.5,276.8 L243.0,276.9 L243.4,277.0 L243.8,277.1 L244.2,277.2 L244.5,277.4 L244.8,277.5 L245.2,277.8 L245.5,278.0 L245.8,278.2 L246.0,278.5 L246.1,278.8 L246.2,279.0 L246.4,279.5 L246.5,280.0 L246.5,280.5 L246.4,281.0 L246.3,281.5 L246.2,281.8 L246.0,282.2 L245.8,282.5 L245.6,282.8 L245.3,283.0 L245.0,283.1 L244.5,283.2 L244.0,283.1 L243.8,282.9 L243.4,282.8 L243.0,282.6 L242.8,282.5 L242.2,282.3 L242.0,282.2 L241.5,282.2 L241.0,282.2 L240.7,282.2 L240.2,282.3 L239.8,282.3 L239.2,282.3 L238.8,282.3 L238.2,282.3 L237.8,282.3 L237.2,282.3 L236.8,282.4 L236.2,282.5 L236.0,282.6 L235.5,282.7 L235.2,282.9 L235.0,283.0 L234.7,283.2 L234.3,283.5 L234.0,283.7 L233.8,283.9 L233.5,284.1 L233.2,284.2 L232.9,284.5 L232.5,284.7 L232.2,284.8 L231.8,285.0 L231.5,285.1 L231.2,285.2 L230.8,285.5 L230.5,285.6 L230.2,285.8 L229.8,286.0 L229.5,286.1 L229.2,286.2 L228.8,286.4 L228.3,286.5 L228.0,286.6 L227.5,286.7 L227.2,286.8 L226.8,286.9 L226.5,287.0 L226.0,287.2 L225.8,287.5 L225.5,287.7 L225.2,287.9 L225.0,288.2 L224.8,288.5 L224.5,288.7 L224.2,288.9 L224.0,289.0Z" fill="#9a9a9a" stroke="#3a3a3a" stroke-width="0.5" fill-rule="evenodd"/>
<path d="M224.8,285.5 L224.2,285.6 L223.8,285.6 L223.2,285.6 L222.8,285.6 L222.3,285.5 L222.0,285.5 L221.5,285.3 L221.2,285.2 L220.8,285.1 L220.2,285.0 L220.0,284.9 L219.5,284.8 L219.2,284.7 L218.9,284.5 L218.5,284.3 L218.2,284.0 L218.0,283.8 L217.8,283.5 L217.7,283.2 L217.5,282.9 L217.3,282.5 L217.2,282.2 L217.1,281.8 L217.0,281.5 L216.9,281.0 L217.0,280.6 L217.1,280.2 L217.2,279.8 L217.3,279.5 L217.5,279.2 L217.8,278.8 L217.9,278.5 L218.1,278.2 L218.4,278.0 L218.7,277.8 L219.0,277.5 L219.2,277.4 L219.5,277.2 L220.0,277.0 L220.2,276.9 L220.7,276.8 L221.0,276.7 L221.5,276.6 L222.0,276.6 L222.5,276.6 L223.0,276.7 L223.5,276.7 L224.0,276.7 L224.5,276.7 L225.0,276.7 L225.5,276.7 L226.0,276.7 L226.5,276.7 L226.8,276.8 L227.2,276.8 L227.8,276.9 L228.2,277.0 L228.5,277.0 L229.0,277.2 L229.4,277.2 L229.8,277.3 L230.2,277.5 L230.5,277.6 L230.9,277.8 L231.2,277.9 L231.5,278.0 L232.0,278.2 L232.2,278.4 L232.5,278.5 L232.8,278.8 L233.1,279.0 L233.2,279.3 L233.3,279.8 L233.5,280.2 L233.5,280.5 L233.5,281.0 L233.5,281.3 L233.4,281.8 L233.2,282.0 L233.0,282.3 L232.8,282.6 L232.5,282.8 L232.2,283.0 L231.9,283.2 L231.5,283.5 L231.2,283.7 L231.0,283.8 L230.6,284.0 L230.2,284.2 L230.0,284.3 L229.7,284.5 L229.3,284.8 L229.0,284.9 L228.5,285.0 L228.1,285.0 L227.8,285.0 L227.2,285.1 L226.8,285.1 L226.2,285.2 L226.0,285.2 L225.5,285.4 L225.0,285.5 L224.8,285.5ZM240.5,280.8 L240.0,280.8 L239.5,280.8 L239.0,280.8 L238.7,280.8 L238.2,280.7 L237.8,280.5 L237.5,280.5 L237.0,280.2 L236.8,280.0 L236.5,279.8 L236.2,279.5 L236.1,279.2 L236.1,278.8 L236.4,278.5 L236.8,278.3 L237.0,278.1 L237.3,278.0 L237.8,277.8 L238.0,277.7 L238.5,277.6 L239.0,277.5 L239.5,277.5 L240.0,277.6 L240.5,277.7 L240.8,277.8 L241.2,278.0 L241.5,278.1 L242.0,278.2 L242.2,278.3 L242.8,278.5 L243.0,278.5 L243.5,278.7 L243.8,278.8 L244.0,279.0 L244.2,279.3 L244.4,279.8 L244.2,280.1 L244.0,280.4 L243.7,280.5 L243.2,280.5 L242.8,280.5 L242.2,280.6 L241.8,280.6 L241.2,280.7 L240.8,280.7 L240.5,280.8Z" fill="#b0b0b0" stroke="#3a3a3a" stroke-width="0.5" fill-rule="evenodd"/>
<path d="M224.5,284.3 L224.0,284.3 L223.5,284.3 L223.0,284.3 L222.7,284.2 L222.2,284.2 L221.8,284.1 L221.3,284.0 L221.0,283.9 L220.5,283.8 L220.2,283.8 L219.8,283.6 L219.4,283.5 L219.0,283.3 L218.8,283.0 L218.5,282.8 L218.4,282.5 L218.3,282.0 L218.2,281.8 L218.1,281.2 L218.2,280.8 L218.2,280.5 L218.4,280.0 L218.6,279.8 L218.8,279.5 L219.0,279.2 L219.2,278.9 L219.5,278.7 L219.8,278.5 L220.1,278.2 L220.5,278.0 L220.8,277.9 L221.2,277.8 L221.5,277.7 L222.0,277.7 L222.5,277.7 L222.8,277.8 L223.2,277.8 L223.8,277.8 L224.2,277.8 L224.8,277.8 L225.2,277.8 L225.8,277.8 L226.2,277.9 L226.8,278.0 L227.0,278.0 L227.5,278.1 L227.9,278.2 L228.2,278.3 L228.7,278.5 L229.0,278.7 L229.2,278.8 L229.5,279.0 L229.8,279.2 L230.0,279.5 L230.2,279.8 L230.6,280.0 L230.9,280.2 L231.1,280.5 L231.2,280.8 L231.2,281.1 L231.1,281.5 L230.9,281.8 L230.7,282.0 L230.4,282.2 L230.0,282.5 L229.8,282.7 L229.5,282.9 L229.2,283.0 L229.0,283.2 L228.5,283.5 L228.2,283.6 L227.8,283.7 L227.5,283.8 L227.0,283.8 L226.5,283.9 L226.0,284.0 L225.8,284.0 L225.2,284.1 L224.8,284.2 L224.5,284.3Z" fill="#c8c8c8" stroke="#3a3a3a" stroke-width="0.5" fill-rule="evenodd"/>
<path d="M224.8,283.0 L224.2,283.1 L223.8,283.2 L223.2,283.2 L222.8,283.1 L222.3,283.0 L222.0,282.9 L221.5,282.8 L221.2,282.7 L220.8,282.6 L220.5,282.5 L220.0,282.3 L219.8,282.2 L219.5,281.8 L219.5,281.5 L219.4,281.0 L219.5,280.7 L219.7,280.2 L219.9,280.0 L220.2,279.8 L220.5,279.6 L220.8,279.5 L221.2,279.3 L221.8,279.3 L222.2,279.3 L222.8,279.3 L223.2,279.3 L223.5,279.2 L224.0,279.0 L224.2,279.0 L224.8,279.0 L225.0,279.0 L225.5,279.1 L226.0,279.2 L226.2,279.4 L226.5,279.5 L226.9,279.8 L227.1,280.0 L227.2,280.3 L227.3,280.8 L227.2,281.0 L227.3,281.2 L227.3,281.8 L227.1,282.0 L226.9,282.2 L226.5,282.5 L226.2,282.6 L225.9,282.8 L225.5,282.9 L225.0,283.0 L224.8,283.0Z" fill="#e0e0e0" stroke="#3a3a3a" stroke-width="0.5" fill-rule="evenodd"/>
</g>
<clipPath id="dc6"><rect x="213.6" y="265.6" width="56.1" height="45.7"/></clipPath>
<g clip-path="url(#dc6)">
<path d="M220.8,312.3 L220.5,312.2 L220.0,312.2 L219.5,312.2 L219.0,312.1 L218.6,312.0 L218.2,311.9 L217.8,311.8 L217.5,311.7 L217.0,311.5 L216.8,311.4 L216.5,311.2 L216.1,311.0 L215.8,310.8 L215.5,310.6 L215.2,310.3 L215.0,310.1 L214.8,309.9 L214.5,309.6 L214.3,309.2 L214.1,309.0 L213.9,308.8 L213.8,308.5 L213.5,308.1 L213.3,307.8 L213.2,307.5 L213.0,307.2 L212.8,306.8 L212.6,306.5 L212.5,306.2 L212.3,305.8 L212.2,305.5 L212.1,305.0 L212.0,304.7 L211.9,304.2 L211.8,303.8 L211.8,303.2 L211.8,302.8 L211.8,302.2 L211.8,301.8 L211.8,301.2 L211.9,300.8 L212.0,300.3 L212.1,300.0 L212.2,299.5 L212.3,299.2 L212.4,298.8 L212.5,298.5 L212.7,298.0 L212.8,297.8 L213.0,297.3 L213.2,297.0 L213.3,296.8 L213.5,296.5 L213.8,296.2 L214.0,295.8 L214.2,295.5 L214.4,295.2 L214.6,295.0 L214.8,294.8 L215.0,294.5 L215.3,294.2 L215.5,294.0 L215.8,293.8 L216.1,293.5 L216.5,293.3 L216.8,293.2 L217.1,293.0 L217.5,292.8 L217.8,292.7 L218.2,292.6 L218.5,292.5 L219.0,292.3 L219.2,292.2 L219.8,292.0 L220.0,291.9 L220.5,291.8 L220.8,291.7 L221.2,291.5 L221.5,291.5 L222.0,291.4 L222.5,291.4 L223.0,291.3 L223.5,291.3 L224.0,291.4 L224.5,291.4 L225.0,291.4 L225.5,291.4 L226.0,291.4 L226.5,291.4 L227.0,291.4 L227.5,291.5 L227.8,291.5 L228.2,291.6 L228.8,291.7 L229.0,291.8 L229.5,291.9 L229.8,292.0 L230.2,292.1 L230.8,292.2 L231.0,292.3 L231.5,292.4 L232.0,292.4 L232.3,292.5 L232.8,292.6 L233.2,292.7 L233.5,292.8 L233.9,293.0 L234.2,293.2 L234.5,293.3 L234.8,293.5 L235.1,293.8 L235.4,294.0 L235.7,294.2 L236.0,294.5 L236.2,294.8 L236.4,295.0 L236.6,295.2 L236.8,295.5 L237.0,295.9 L237.2,296.2 L237.3,296.5 L237.5,296.9 L237.7,297.2 L237.8,297.5 L238.0,298.0 L238.1,298.2 L238.2,298.8 L238.3,299.0 L238.3,299.5 L238.4,300.0 L238.5,300.5 L238.5,301.0 L238.5,301.5 L238.5,302.0 L238.4,302.5 L238.3,303.0 L238.2,303.3 L238.2,303.8 L238.0,304.2 L237.9,304.5 L237.8,304.9 L237.6,305.2 L237.5,305.5 L237.2,305.9 L237.1,306.2 L236.9,306.5 L236.7,306.8 L236.5,307.1 L236.2,307.4 L236.0,307.7 L235.8,307.9 L235.5,308.1 L235.2,308.4 L235.0,308.6 L234.8,308.8 L234.4,309.0 L234.0,309.2 L233.8,309.4 L233.5,309.5 L233.1,309.8 L232.8,309.9 L232.5,310.0 L232.0,310.2 L231.8,310.3 L231.2,310.5 L231.0,310.6 L230.5,310.7 L230.2,310.8 L229.8,310.9 L229.5,311.0 L229.0,311.1 L228.6,311.2 L228.2,311.4 L227.8,311.5 L227.5,311.6 L227.0,311.7 L226.5,311.7 L226.2,311.8 L225.8,311.8 L225.2,311.9 L224.8,311.9 L224.2,312.0 L223.9,312.0 L223.5,312.1 L223.0,312.1 L222.5,312.2 L222.0,312.2 L221.5,312.2 L221.0,312.2 L220.8,312.3Z" fill="#6f6f6f" stroke="#3a3a3a" stroke-width="0.5" fill-rule="evenodd"/>
<path d="M223.0,310.0 L222.5,310.1 L222.0,310.2 L221.5,310.2 L221.0,310.2 L220.5,310.2 L220.0,310.1 L219.5,310.0 L219.2,309.9 L218.8,309.8 L218.5,309.7 L218.0,309.6 L217.8,309.5 L217.2,309.3 L217.0,309.1 L216.8,308.9 L216.5,308.7 L216.2,308.5 L215.9,308.2 L215.7,308.0 L215.5,307.7 L215.2,307.4 L215.0,307.0 L214.9,306.8 L214.7,306.5 L214.5,306.2 L214.3,305.8 L214.2,305.5 L214.0,305.1 L213.9,304.8 L213.8,304.3 L213.7,304.0 L213.6,303.5 L213.6,303.0 L213.6,302.5 L213.7,302.0 L213.8,301.8 L213.9,301.2 L214.0,300.8 L214.1,300.5 L214.2,300.0 L214.3,299.8 L214.4,299.2 L214.5,299.0 L214.7,298.5 L214.8,298.2 L215.0,298.0 L215.2,297.5 L215.4,297.2 L215.5,297.0 L215.8,296.7 L216.0,296.4 L216.2,296.1 L216.5,295.9 L216.8,295.7 L217.0,295.5 L217.4,295.2 L217.8,295.1 L218.0,295.0 L218.5,294.8 L218.8,294.6 L219.0,294.5 L219.5,294.3 L219.8,294.2 L220.2,294.0 L220.5,294.0 L221.0,293.9 L221.5,293.8 L221.8,293.8 L222.2,293.7 L222.8,293.7 L223.2,293.6 L223.8,293.6 L224.2,293.6 L224.8,293.6 L225.2,293.6 L225.8,293.6 L226.2,293.6 L226.8,293.6 L227.2,293.7 L227.5,293.8 L228.0,293.9 L228.4,294.0 L228.8,294.1 L229.2,294.2 L229.5,294.3 L230.0,294.5 L230.2,294.5 L230.8,294.6 L231.2,294.6 L231.8,294.7 L232.0,294.8 L232.5,294.9 L232.9,295.0 L233.2,295.1 L233.5,295.3 L233.9,295.5 L234.2,295.7 L234.5,295.9 L234.8,296.2 L235.0,296.4 L235.2,296.8 L235.4,297.0 L235.5,297.2 L235.8,297.7 L235.9,298.0 L236.0,298.2 L236.2,298.8 L236.3,299.0 L236.5,299.5 L236.6,299.8 L236.7,300.2 L236.7,300.8 L236.8,301.0 L236.8,301.5 L236.8,301.8 L236.7,302.2 L236.6,302.8 L236.5,303.0 L236.4,303.5 L236.2,303.8 L236.0,304.2 L235.9,304.5 L235.8,304.8 L235.5,305.2 L235.3,305.5 L235.1,305.8 L234.8,306.0 L234.5,306.2 L234.2,306.5 L234.0,306.7 L233.8,306.9 L233.5,307.0 L233.2,307.2 L232.8,307.5 L232.5,307.7 L232.2,307.8 L231.8,308.0 L231.5,308.0 L231.0,308.2 L230.8,308.3 L230.2,308.4 L229.9,308.5 L229.5,308.6 L229.1,308.8 L228.8,308.9 L228.3,309.0 L228.0,309.1 L227.5,309.2 L227.2,309.3 L226.8,309.4 L226.2,309.5 L226.0,309.5 L225.5,309.6 L225.0,309.7 L224.6,309.8 L224.2,309.8 L223.8,309.9 L223.2,310.0 L223.0,310.0Z" fill="#858585" stroke="#3a3a3a" stroke-width="0.5" fill-rule="evenodd"/>
<path d="M223.2,308.3 L222.8,308.4 L222.2,308.4 L221.8,308.5 L221.2,308.5 L220.8,308.5 L220.2,308.4 L219.8,308.4 L219.2,308.3 L219.0,308.2 L218.6,308.0 L218.2,307.9 L218.0,307.7 L217.6,307.5 L217.3,307.2 L217.0,307.0 L216.8,306.8 L216.6,306.5 L216.4,306.2 L216.2,306.0 L216.0,305.7 L215.8,305.3 L215.6,305.0 L215.5,304.8 L215.3,304.2 L215.2,304.0 L215.1,303.5 L215.1,303.0 L215.1,302.5 L215.2,302.0 L215.3,301.8 L215.4,301.2 L215.5,300.8 L215.6,300.5 L215.7,300.0 L215.8,299.8 L216.0,299.3 L216.1,299.0 L216.3,298.8 L216.5,298.4 L216.7,298.0 L216.9,297.8 L217.1,297.5 L217.3,297.2 L217.7,297.0 L218.0,296.8 L218.2,296.7 L218.7,296.5 L219.0,296.3 L219.2,296.2 L219.7,296.0 L220.0,295.9 L220.4,295.8 L220.8,295.6 L221.2,295.5 L221.5,295.5 L222.0,295.4 L222.5,295.4 L223.0,295.4 L223.5,295.4 L224.0,295.4 L224.5,295.4 L225.0,295.4 L225.5,295.3 L226.0,295.4 L226.5,295.4 L227.0,295.5 L227.2,295.6 L227.8,295.7 L228.0,295.8 L228.5,296.0 L228.8,296.1 L229.2,296.2 L229.5,296.3 L230.0,296.4 L230.5,296.5 L230.8,296.5 L231.2,296.6 L231.8,296.7 L232.2,296.7 L232.5,296.8 L233.0,297.0 L233.2,297.1 L233.6,297.2 L233.8,297.5 L234.0,297.9 L234.2,298.2 L234.3,298.5 L234.5,298.8 L234.7,299.2 L234.8,299.5 L235.0,299.9 L235.1,300.2 L235.2,300.7 L235.3,301.0 L235.3,301.5 L235.2,302.0 L235.2,302.2 L235.0,302.7 L234.9,303.0 L234.8,303.3 L234.5,303.7 L234.3,304.0 L234.1,304.2 L233.9,304.5 L233.6,304.8 L233.3,305.0 L233.0,305.2 L232.8,305.4 L232.5,305.5 L232.1,305.8 L231.8,305.9 L231.5,306.0 L231.0,306.2 L230.8,306.3 L230.2,306.4 L229.9,306.5 L229.5,306.6 L229.0,306.8 L228.8,306.9 L228.4,307.0 L228.0,307.1 L227.7,307.2 L227.2,307.4 L226.9,307.5 L226.5,307.6 L226.0,307.7 L225.7,307.8 L225.2,307.8 L224.8,307.9 L224.3,308.0 L224.0,308.1 L223.5,308.2 L223.2,308.3Z" fill="#9a9a9a" stroke="#3a3a3a" stroke-width="0.5" fill-rule="evenodd"/>
<path d="M223.0,306.8 L222.5,306.9 L222.0,306.9 L221.5,306.9 L221.0,306.9 L220.5,306.9 L220.0,306.8 L219.6,306.8 L219.2,306.6 L219.0,306.4 L218.7,306.2 L218.4,306.0 L218.0,305.8 L217.8,305.5 L217.5,305.3 L217.2,305.1 L217.0,304.8 L216.8,304.5 L216.6,304.2 L216.5,304.0 L216.3,303.5 L216.2,303.2 L216.2,302.8 L216.3,302.5 L216.4,302.0 L216.5,301.5 L216.6,301.2 L216.7,300.8 L216.8,300.5 L217.0,300.1 L217.2,299.8 L217.3,299.5 L217.5,299.2 L217.8,298.9 L218.0,298.6 L218.2,298.4 L218.5,298.2 L218.8,298.0 L219.2,297.8 L219.5,297.6 L219.9,297.5 L220.2,297.4 L220.7,297.2 L221.0,297.2 L221.5,297.0 L221.8,297.0 L222.2,296.9 L222.8,297.0 L223.0,297.0 L223.5,297.1 L224.0,297.1 L224.5,297.1 L225.0,297.1 L225.5,297.1 L226.0,297.1 L226.5,297.1 L227.0,297.2 L227.2,297.3 L227.8,297.4 L228.0,297.5 L228.5,297.7 L228.8,297.8 L229.2,297.9 L229.5,298.0 L230.0,298.2 L230.3,298.2 L230.8,298.4 L231.0,298.5 L231.5,298.7 L231.8,298.8 L232.1,299.0 L232.4,299.2 L232.6,299.5 L232.9,299.8 L233.1,300.0 L233.3,300.2 L233.5,300.7 L233.6,301.0 L233.6,301.5 L233.5,301.8 L233.3,302.2 L233.2,302.5 L233.0,302.8 L232.8,303.0 L232.5,303.2 L232.0,303.4 L231.8,303.5 L231.2,303.6 L230.8,303.7 L230.5,303.8 L230.0,303.9 L229.8,304.1 L229.5,304.2 L229.1,304.5 L228.8,304.7 L228.5,304.8 L228.2,305.0 L227.9,305.2 L227.5,305.5 L227.2,305.7 L227.0,305.8 L226.5,306.0 L226.2,306.1 L225.8,306.2 L225.5,306.4 L225.0,306.4 L224.5,306.5 L224.2,306.5 L223.8,306.6 L223.2,306.7 L223.0,306.8Z" fill="#b0b0b0" stroke="#3a3a3a" stroke-width="0.5" fill-rule="evenodd"/>
<path d="M222.8,305.3 L222.2,305.3 L221.8,305.4 L221.2,305.5 L220.8,305.4 L220.3,305.2 L220.0,305.0 L219.8,304.8 L219.5,304.5 L219.2,304.3 L219.0,304.1 L218.8,303.9 L218.5,303.7 L218.2,303.5 L218.0,303.2 L217.8,303.0 L217.6,302.5 L217.6,302.0 L217.7,301.5 L217.8,301.2 L218.0,301.0 L218.2,300.6 L218.5,300.3 L218.8,300.0 L219.0,299.8 L219.2,299.6 L219.5,299.4 L219.8,299.2 L220.1,299.0 L220.5,298.8 L220.8,298.7 L221.2,298.6 L221.8,298.5 L222.0,298.5 L222.3,298.5 L222.8,298.6 L223.2,298.7 L223.8,298.7 L224.2,298.7 L224.8,298.6 L225.1,298.5 L225.5,298.4 L226.0,298.5 L226.5,298.5 L226.8,298.5 L227.2,298.8 L227.5,298.9 L227.8,299.1 L228.0,299.3 L228.2,299.6 L228.5,300.0 L228.6,300.2 L228.8,300.5 L229.0,300.9 L229.2,301.2 L229.3,301.5 L229.2,301.8 L229.0,302.0 L228.7,302.2 L228.4,302.5 L228.1,302.8 L227.8,303.0 L227.6,303.2 L227.4,303.5 L227.1,303.8 L226.8,304.0 L226.5,304.1 L226.2,304.2 L225.8,304.5 L225.5,304.6 L225.0,304.7 L224.8,304.8 L224.2,304.9 L223.8,305.0 L223.5,305.1 L223.0,305.2 L222.8,305.3Z" fill="#c8c8c8" stroke="#3a3a3a" stroke-width="0.5" fill-rule="evenodd"/>
<path d="M222.2,303.3 L221.8,303.2 L221.5,303.1 L221.2,302.9 L221.0,302.7 L220.7,302.5 L220.4,302.2 L220.2,302.0 L220.2,301.5 L220.2,301.2 L220.4,300.8 L220.7,300.5 L221.0,300.3 L221.2,300.2 L221.8,300.1 L222.2,300.1 L222.7,300.2 L223.0,300.4 L223.5,300.4 L224.0,300.5 L224.5,300.5 L225.0,300.4 L225.5,300.4 L225.7,300.8 L225.8,301.0 L225.9,301.5 L225.8,302.0 L225.6,302.2 L225.2,302.4 L224.8,302.4 L224.2,302.5 L224.0,302.6 L223.7,302.8 L223.2,303.0 L223.0,303.1 L222.5,303.2 L222.2,303.3Z" fill="#e0e0e0" stroke="#3a3a3a" stroke-width="0.5" fill-rule="evenodd"/>
</g>
<clipPath id="dc7"><rect x="213.6" y="311.3" width="56.1" height="45.1"/></clipPath>
<g clip-path="url(#dc7)">
<path d="M221.8,340.3 L221.2,340.3 L220.8,340.3 L220.5,340.2 L220.0,340.2 L219.5,340.0 L219.2,339.9 L218.9,339.8 L218.5,339.5 L218.2,339.4 L218.0,339.2 L217.7,339.0 L217.4,338.8 L217.2,338.5 L216.9,338.2 L216.7,338.0 L216.5,337.8 L216.2,337.4 L216.0,337.1 L215.8,336.8 L215.7,336.5 L215.5,336.1 L215.4,335.8 L215.2,335.5 L215.1,335.0 L215.0,334.6 L214.9,334.2 L214.8,333.8 L214.7,333.5 L214.6,333.0 L214.5,332.8 L214.4,332.2 L214.2,331.8 L214.2,331.5 L214.1,331.0 L214.1,330.5 L214.0,330.0 L214.0,329.5 L214.0,329.0 L214.0,328.8 L214.0,328.2 L214.0,327.8 L214.0,327.4 L214.0,327.0 L214.2,326.5 L214.2,326.2 L214.4,325.8 L214.5,325.5 L214.8,325.1 L214.9,324.8 L215.1,324.5 L215.3,324.2 L215.5,324.0 L215.8,323.7 L216.0,323.5 L216.2,323.2 L216.5,323.0 L216.8,322.7 L217.0,322.5 L217.3,322.2 L217.6,322.0 L218.0,321.8 L218.2,321.6 L218.5,321.4 L218.8,321.2 L219.2,321.0 L219.5,320.8 L219.8,320.7 L220.1,320.5 L220.5,320.3 L220.8,320.2 L221.2,320.1 L221.5,320.0 L222.0,319.9 L222.5,319.8 L222.8,319.8 L223.2,319.7 L223.8,319.6 L224.2,319.6 L224.8,319.6 L225.2,319.6 L225.8,319.6 L226.2,319.7 L226.8,319.7 L227.2,319.8 L227.5,319.8 L228.0,319.8 L228.5,319.9 L229.0,319.9 L229.5,320.0 L230.0,320.0 L230.4,320.0 L230.8,320.0 L231.2,320.1 L231.8,320.1 L232.2,320.2 L232.7,320.2 L233.0,320.3 L233.5,320.3 L234.0,320.3 L234.5,320.4 L235.0,320.5 L235.2,320.6 L235.8,320.7 L236.0,320.8 L236.4,321.0 L236.8,321.1 L237.0,321.3 L237.5,321.5 L237.8,321.6 L238.0,321.8 L238.4,322.0 L238.7,322.2 L239.0,322.4 L239.2,322.6 L239.5,322.8 L239.8,323.0 L240.0,323.2 L240.3,323.5 L240.5,323.8 L240.8,324.0 L241.0,324.4 L241.2,324.8 L241.3,325.0 L241.5,325.4 L241.7,325.8 L241.8,326.0 L241.9,326.5 L242.0,327.0 L242.0,327.2 L242.1,327.8 L242.0,328.2 L242.0,328.6 L241.9,329.0 L241.8,329.5 L241.7,329.8 L241.5,330.2 L241.4,330.5 L241.2,330.8 L241.0,331.2 L240.8,331.5 L240.5,331.8 L240.3,332.0 L240.0,332.2 L239.8,332.4 L239.5,332.6 L239.1,332.8 L238.8,332.9 L238.5,333.0 L238.0,333.2 L237.8,333.3 L237.2,333.4 L237.0,333.5 L236.5,333.7 L236.2,333.8 L235.9,334.0 L235.5,334.2 L235.2,334.4 L235.0,334.5 L234.7,334.8 L234.3,335.0 L234.0,335.2 L233.8,335.4 L233.5,335.6 L233.2,335.8 L232.8,336.0 L232.5,336.2 L232.2,336.3 L231.9,336.5 L231.5,336.7 L231.2,336.8 L230.9,337.0 L230.5,337.2 L230.2,337.3 L229.8,337.5 L229.5,337.6 L229.1,337.8 L228.8,337.9 L228.2,338.0 L228.0,338.1 L227.5,338.2 L227.2,338.3 L226.8,338.5 L226.5,338.6 L226.2,338.8 L225.8,339.0 L225.5,339.1 L225.2,339.2 L224.8,339.5 L224.5,339.6 L224.2,339.8 L223.8,339.9 L223.5,340.0 L223.0,340.1 L222.5,340.2 L222.0,340.2 L221.8,340.3Z" fill="#6f6f6f" stroke="#3a3a3a" stroke-width="0.5" fill-rule="evenodd"/>
<path d="M223.0,338.5 L222.5,338.6 L222.0,338.7 L221.5,338.7 L221.0,338.7 L220.5,338.6 L220.1,338.5 L219.8,338.4 L219.5,338.2 L219.0,338.0 L218.8,337.9 L218.5,337.7 L218.2,337.5 L218.0,337.2 L217.8,336.9 L217.5,336.5 L217.4,336.2 L217.2,336.0 L217.1,335.5 L217.0,335.2 L216.9,334.8 L216.8,334.3 L216.7,334.0 L216.6,333.5 L216.5,333.0 L216.5,332.8 L216.4,332.2 L216.3,331.8 L216.2,331.5 L216.2,331.0 L216.1,330.5 L216.1,330.0 L216.1,329.5 L216.1,329.0 L216.2,328.5 L216.2,328.0 L216.3,327.8 L216.4,327.2 L216.5,327.0 L216.7,326.5 L216.8,326.2 L217.0,325.8 L217.2,325.5 L217.3,325.2 L217.5,324.9 L217.8,324.5 L218.0,324.2 L218.2,324.0 L218.4,323.8 L218.8,323.5 L219.0,323.3 L219.2,323.2 L219.5,323.0 L220.0,322.8 L220.2,322.6 L220.5,322.5 L221.0,322.3 L221.2,322.2 L221.8,322.0 L222.0,321.9 L222.5,321.8 L222.8,321.7 L223.2,321.6 L223.6,321.5 L224.0,321.4 L224.5,321.4 L225.0,321.4 L225.5,321.4 L226.0,321.5 L226.2,321.5 L226.8,321.6 L227.2,321.7 L227.6,321.8 L228.0,321.8 L228.5,321.9 L228.8,322.0 L229.2,322.0 L229.8,322.0 L230.2,322.0 L230.8,322.0 L231.2,322.0 L231.8,322.0 L232.2,322.0 L232.8,322.0 L233.2,322.1 L233.8,322.1 L234.2,322.1 L234.8,322.2 L235.0,322.3 L235.5,322.4 L235.8,322.5 L236.2,322.7 L236.5,322.8 L236.9,323.0 L237.2,323.2 L237.5,323.3 L237.8,323.5 L238.2,323.7 L238.5,323.9 L238.8,324.1 L239.0,324.3 L239.3,324.5 L239.5,324.8 L239.8,325.0 L240.0,325.4 L240.2,325.8 L240.3,326.0 L240.5,326.5 L240.6,326.8 L240.7,327.2 L240.8,327.5 L240.8,328.0 L240.8,328.4 L240.7,328.8 L240.5,329.2 L240.4,329.5 L240.2,329.8 L240.0,330.2 L239.8,330.5 L239.6,330.8 L239.3,331.0 L239.0,331.2 L238.8,331.3 L238.4,331.5 L238.0,331.6 L237.5,331.7 L237.2,331.8 L236.8,331.8 L236.2,331.9 L236.0,332.0 L235.5,332.2 L235.2,332.2 L234.8,332.4 L234.5,332.6 L234.2,332.8 L233.8,333.0 L233.5,333.2 L233.2,333.3 L233.0,333.5 L232.7,333.8 L232.3,334.0 L232.0,334.2 L231.8,334.3 L231.5,334.5 L231.0,334.8 L230.8,334.9 L230.4,335.0 L230.0,335.2 L229.8,335.3 L229.4,335.5 L229.0,335.7 L228.8,335.8 L228.2,336.0 L228.0,336.1 L227.6,336.2 L227.2,336.4 L226.8,336.5 L226.5,336.6 L226.2,336.8 L225.8,337.0 L225.5,337.2 L225.2,337.3 L225.0,337.5 L224.6,337.8 L224.2,338.0 L224.0,338.1 L223.7,338.2 L223.2,338.4 L223.0,338.5Z" fill="#858585" stroke="#3a3a3a" stroke-width="0.5" fill-rule="evenodd"/>
<path d="M222.0,337.3 L221.5,337.3 L221.0,337.3 L220.6,337.2 L220.2,337.2 L219.8,337.0 L219.5,336.8 L219.2,336.6 L219.0,336.4 L218.8,336.0 L218.6,335.8 L218.5,335.5 L218.3,335.0 L218.2,334.6 L218.1,334.2 L218.0,333.8 L218.0,333.5 L217.9,333.0 L217.9,332.5 L217.9,332.0 L217.8,331.5 L217.8,331.0 L217.8,330.5 L217.7,330.2 L217.7,329.8 L217.7,329.2 L217.8,329.0 L217.8,328.5 L217.9,328.0 L218.0,327.7 L218.1,327.2 L218.2,326.9 L218.4,326.5 L218.5,326.2 L218.8,325.9 L219.0,325.6 L219.2,325.3 L219.5,325.1 L219.8,324.9 L220.0,324.7 L220.3,324.5 L220.8,324.3 L221.0,324.1 L221.3,324.0 L221.8,323.8 L222.0,323.7 L222.4,323.5 L222.8,323.3 L223.0,323.2 L223.5,323.1 L223.8,323.0 L224.2,322.9 L224.8,322.8 L225.2,322.8 L225.8,322.9 L226.2,323.0 L226.5,323.0 L227.0,323.1 L227.5,323.2 L227.8,323.3 L228.2,323.4 L228.7,323.5 L229.0,323.5 L229.5,323.6 L230.0,323.6 L230.5,323.6 L231.0,323.6 L231.5,323.6 L232.0,323.6 L232.5,323.6 L233.0,323.6 L233.5,323.6 L234.0,323.6 L234.5,323.7 L234.8,323.8 L235.2,324.0 L235.5,324.1 L235.9,324.2 L236.2,324.4 L236.5,324.5 L237.0,324.8 L237.2,324.9 L237.5,325.0 L237.9,325.2 L238.2,325.5 L238.5,325.7 L238.8,326.0 L239.0,326.2 L239.1,326.5 L239.2,326.8 L239.4,327.2 L239.5,327.8 L239.4,328.2 L239.2,328.7 L239.1,329.0 L238.9,329.2 L238.7,329.5 L238.3,329.8 L238.0,329.9 L237.7,330.0 L237.2,330.1 L236.8,330.2 L236.5,330.3 L236.0,330.4 L235.8,330.5 L235.2,330.7 L235.0,330.8 L234.5,331.0 L234.2,331.1 L233.8,331.2 L233.5,331.3 L233.0,331.5 L232.8,331.6 L232.5,331.8 L232.2,332.0 L231.8,332.2 L231.5,332.5 L231.2,332.7 L231.0,332.9 L230.8,333.1 L230.5,333.2 L230.1,333.5 L229.8,333.7 L229.5,333.8 L229.1,334.0 L228.8,334.2 L228.5,334.3 L228.0,334.5 L227.8,334.6 L227.4,334.8 L227.0,334.9 L226.8,335.0 L226.2,335.2 L226.0,335.3 L225.7,335.5 L225.2,335.7 L225.0,335.8 L224.7,336.0 L224.3,336.2 L224.0,336.4 L223.8,336.6 L223.4,336.8 L223.0,337.0 L222.8,337.1 L222.2,337.2 L222.0,337.3Z" fill="#9a9a9a" stroke="#3a3a3a" stroke-width="0.5" fill-rule="evenodd"/>
<path d="M222.0,335.8 L221.5,335.9 L221.0,335.9 L220.5,335.8 L220.2,335.6 L220.0,335.3 L219.8,335.0 L219.7,334.8 L219.6,334.2 L219.5,334.0 L219.4,333.5 L219.4,333.0 L219.3,332.5 L219.3,332.0 L219.3,331.5 L219.4,331.0 L219.4,330.5 L219.4,330.0 L219.4,329.5 L219.4,329.0 L219.4,328.5 L219.5,328.0 L219.5,327.8 L219.7,327.2 L219.8,327.0 L220.0,326.6 L220.2,326.3 L220.5,326.1 L220.8,325.9 L221.0,325.7 L221.4,325.5 L221.8,325.3 L222.0,325.2 L222.3,325.0 L222.7,324.8 L223.0,324.6 L223.3,324.5 L223.8,324.3 L224.0,324.2 L224.5,324.0 L225.0,324.0 L225.5,324.0 L226.0,324.1 L226.4,324.2 L226.8,324.4 L227.2,324.5 L227.5,324.6 L228.0,324.7 L228.2,324.8 L228.8,324.8 L229.2,324.9 L229.8,325.0 L230.1,325.0 L230.5,325.0 L231.0,325.1 L231.5,325.1 L232.0,325.1 L232.5,325.1 L233.0,325.2 L233.4,325.2 L233.8,325.4 L234.1,325.5 L234.5,325.6 L234.8,325.8 L235.2,326.0 L235.5,326.2 L235.8,326.4 L236.0,326.6 L236.2,326.9 L236.5,327.2 L236.3,327.8 L236.1,328.0 L235.9,328.2 L235.7,328.5 L235.4,328.8 L235.1,329.0 L234.8,329.2 L234.5,329.4 L234.1,329.5 L233.8,329.6 L233.2,329.7 L232.8,329.7 L232.5,329.8 L232.0,330.0 L231.8,330.1 L231.5,330.3 L231.2,330.5 L231.0,330.8 L230.7,331.0 L230.4,331.2 L230.2,331.5 L229.9,331.8 L229.7,332.0 L229.4,332.2 L229.1,332.5 L228.8,332.7 L228.5,332.8 L228.2,333.0 L227.8,333.2 L227.5,333.3 L227.2,333.5 L226.8,333.7 L226.5,333.8 L226.0,334.0 L225.8,334.1 L225.3,334.2 L225.0,334.4 L224.8,334.5 L224.3,334.8 L224.0,334.9 L223.8,335.0 L223.3,335.2 L223.0,335.4 L222.8,335.5 L222.2,335.7 L222.0,335.8Z" fill="#b0b0b0" stroke="#3a3a3a" stroke-width="0.5" fill-rule="evenodd"/>
<path d="M223.2,333.3 L222.8,333.4 L222.2,333.5 L221.8,333.3 L221.5,333.1 L221.3,332.8 L221.1,332.5 L221.0,332.2 L220.9,331.8 L220.8,331.2 L220.8,330.8 L220.9,330.2 L220.9,329.8 L220.9,329.2 L220.9,328.8 L220.9,328.2 L221.0,327.8 L221.1,327.5 L221.2,327.2 L221.5,326.9 L221.8,326.7 L222.1,326.5 L222.5,326.3 L222.8,326.1 L223.0,326.0 L223.5,325.8 L223.8,325.6 L224.0,325.4 L224.5,325.3 L224.8,325.2 L225.2,325.2 L225.8,325.2 L226.0,325.3 L226.5,325.4 L226.8,325.5 L227.2,325.7 L227.5,325.8 L227.8,326.0 L228.2,326.2 L228.5,326.3 L229.0,326.4 L229.2,326.6 L229.7,326.8 L230.0,326.9 L230.2,327.1 L230.5,327.4 L230.6,327.8 L230.5,328.2 L230.3,328.5 L230.1,328.8 L229.9,329.0 L229.7,329.2 L229.5,329.6 L229.2,329.9 L229.0,330.1 L228.8,330.5 L228.6,330.8 L228.4,331.0 L228.1,331.2 L227.9,331.5 L227.5,331.7 L227.2,331.9 L227.0,332.0 L226.5,332.2 L226.2,332.3 L225.8,332.4 L225.5,332.5 L225.0,332.7 L224.8,332.8 L224.2,333.0 L224.0,333.1 L223.5,333.2 L223.2,333.3Z" fill="#c8c8c8" stroke="#3a3a3a" stroke-width="0.5" fill-rule="evenodd"/>
<path d="M224.0,331.5 L223.5,331.6 L223.0,331.5 L222.8,331.4 L222.5,331.1 L222.3,330.8 L222.3,330.2 L222.2,330.0 L222.2,329.5 L222.2,329.0 L222.3,328.8 L222.4,328.2 L222.6,328.0 L222.9,327.8 L223.2,327.5 L223.5,327.4 L224.0,327.3 L224.2,327.2 L224.8,327.0 L225.0,326.9 L225.5,326.8 L226.0,326.8 L226.5,326.9 L226.8,327.0 L227.0,327.3 L227.2,327.6 L227.5,328.0 L227.6,328.2 L227.8,328.6 L227.8,329.0 L227.7,329.2 L227.5,329.7 L227.3,330.0 L227.0,330.2 L226.8,330.5 L226.5,330.6 L226.2,330.8 L225.8,330.9 L225.5,331.0 L225.0,331.2 L224.8,331.3 L224.2,331.5 L224.0,331.5Z" fill="#e0e0e0" stroke="#3a3a3a" stroke-width="0.5" fill-rule="evenodd"/>
</g>
<clipPath id="dc8"><rect x="213.6" y="311.3" width="56.1" height="45.1"/></clipPath>
<g clip-path="url(#dc8)">
<path d="M223.5,357.8 L223.0,357.8 L222.5,357.8 L222.0,357.8 L221.6,357.8 L221.2,357.7 L220.8,357.6 L220.2,357.6 L220.0,357.5 L219.5,357.4 L219.0,357.4 L218.5,357.3 L218.0,357.3 L217.8,357.2 L217.2,357.1 L217.0,357.0 L216.5,356.8 L216.2,356.6 L216.0,356.5 L215.6,356.2 L215.2,356.1 L215.0,355.9 L214.7,355.8 L214.4,355.5 L214.0,355.2 L213.8,355.0 L213.5,354.8 L213.2,354.6 L213.0,354.4 L212.8,354.1 L212.5,353.9 L212.2,353.6 L212.0,353.4 L211.8,353.2 L211.5,352.9 L211.2,352.6 L211.0,352.2 L210.8,352.0 L210.7,351.8 L210.5,351.4 L210.4,351.0 L210.2,350.6 L210.1,350.2 L210.0,349.8 L210.0,349.5 L209.9,349.0 L209.8,348.5 L209.8,348.0 L209.8,347.5 L209.8,347.0 L209.9,346.5 L210.0,346.2 L210.1,345.8 L210.2,345.5 L210.5,345.0 L210.7,344.8 L210.8,344.5 L211.0,344.1 L211.2,343.8 L211.3,343.5 L211.5,343.1 L211.7,342.8 L211.9,342.5 L212.1,342.2 L212.4,342.0 L212.6,341.8 L212.9,341.5 L213.2,341.2 L213.5,341.0 L213.8,340.9 L214.0,340.7 L214.2,340.5 L214.6,340.2 L215.0,340.0 L215.2,339.9 L215.5,339.8 L216.0,339.5 L216.2,339.4 L216.8,339.3 L217.0,339.2 L217.5,339.1 L217.8,339.0 L218.2,338.8 L218.5,338.7 L219.0,338.6 L219.5,338.5 L219.8,338.4 L220.2,338.3 L220.8,338.3 L221.0,338.2 L221.5,338.2 L222.0,338.1 L222.5,338.1 L223.0,338.1 L223.5,338.1 L224.0,338.1 L224.5,338.1 L225.0,338.1 L225.5,338.1 L226.0,338.1 L226.5,338.1 L227.0,338.1 L227.5,338.1 L228.0,338.1 L228.5,338.1 L229.0,338.1 L229.5,338.1 L230.0,338.2 L230.5,338.2 L230.8,338.3 L231.2,338.4 L231.7,338.5 L232.0,338.6 L232.3,338.8 L232.7,339.0 L233.0,339.2 L233.2,339.3 L233.5,339.5 L233.9,339.8 L234.2,340.0 L234.5,340.2 L234.8,340.5 L235.0,340.8 L235.2,341.0 L235.4,341.2 L235.6,341.5 L235.8,341.8 L236.0,342.2 L236.1,342.5 L236.3,342.8 L236.5,343.2 L236.6,343.5 L236.7,344.0 L236.8,344.2 L237.0,344.8 L237.1,345.0 L237.2,345.5 L237.2,345.8 L237.3,346.2 L237.4,346.8 L237.4,347.2 L237.4,347.8 L237.4,348.2 L237.3,348.8 L237.2,349.1 L237.2,349.5 L237.0,350.0 L237.0,350.2 L236.8,350.8 L236.7,351.0 L236.5,351.4 L236.3,351.8 L236.2,352.0 L236.0,352.3 L235.8,352.7 L235.5,353.0 L235.3,353.2 L235.1,353.5 L234.8,353.8 L234.5,354.0 L234.2,354.1 L234.0,354.3 L233.5,354.5 L233.2,354.6 L232.9,354.8 L232.5,354.9 L232.2,355.0 L231.8,355.2 L231.5,355.4 L231.1,355.5 L230.8,355.6 L230.4,355.8 L230.0,355.9 L229.7,356.0 L229.2,356.2 L229.0,356.3 L228.5,356.4 L228.2,356.5 L227.8,356.7 L227.5,356.8 L227.0,356.9 L226.7,357.0 L226.2,357.2 L225.9,357.2 L225.5,357.4 L225.0,357.5 L224.8,357.6 L224.2,357.7 L223.8,357.7 L223.5,357.8Z" fill="#6f6f6f" stroke="#3a3a3a" stroke-width="0.5" fill-rule="evenodd"/>
<path d="M223.5,355.8 L223.0,355.8 L222.5,355.8 L222.2,355.8 L221.8,355.7 L221.2,355.7 L220.8,355.7 L220.2,355.6 L219.8,355.6 L219.4,355.5 L219.0,355.4 L218.5,355.3 L218.2,355.2 L217.8,355.0 L217.5,354.9 L217.2,354.8 L216.8,354.5 L216.5,354.3 L216.2,354.1 L216.0,353.9 L215.8,353.7 L215.4,353.5 L215.2,353.2 L214.9,353.0 L214.6,352.8 L214.3,352.5 L214.1,352.2 L213.8,352.0 L213.6,351.8 L213.4,351.5 L213.2,351.2 L213.0,351.0 L212.8,350.5 L212.6,350.2 L212.5,349.9 L212.4,349.5 L212.3,349.0 L212.3,348.5 L212.3,348.0 L212.3,347.5 L212.4,347.0 L212.5,346.6 L212.6,346.2 L212.8,345.8 L212.9,345.5 L213.0,345.2 L213.2,344.8 L213.4,344.5 L213.6,344.2 L213.8,344.0 L214.0,343.7 L214.2,343.4 L214.5,343.1 L214.8,342.9 L215.0,342.7 L215.2,342.5 L215.5,342.2 L215.9,342.0 L216.2,341.8 L216.5,341.6 L216.8,341.5 L217.2,341.3 L217.6,341.2 L218.0,341.2 L218.5,341.1 L218.8,341.0 L219.2,340.9 L219.6,340.8 L220.0,340.6 L220.3,340.5 L220.8,340.4 L221.2,340.3 L221.5,340.2 L222.0,340.2 L222.5,340.1 L223.0,340.1 L223.5,340.1 L224.0,340.1 L224.5,340.0 L225.0,340.0 L225.4,340.0 L225.8,340.0 L226.2,339.9 L226.8,339.9 L227.2,339.9 L227.8,339.9 L228.2,339.9 L228.8,339.9 L229.2,340.0 L229.5,340.1 L230.0,340.2 L230.3,340.2 L230.8,340.4 L231.2,340.5 L231.5,340.6 L231.8,340.8 L232.1,341.0 L232.5,341.2 L232.8,341.4 L233.0,341.6 L233.2,341.8 L233.5,342.1 L233.8,342.3 L234.0,342.6 L234.2,343.0 L234.4,343.2 L234.6,343.5 L234.8,343.8 L235.0,344.1 L235.2,344.5 L235.3,344.8 L235.5,345.2 L235.6,345.5 L235.8,346.0 L235.8,346.2 L235.9,346.8 L235.9,347.2 L235.9,347.8 L235.9,348.2 L235.9,348.8 L235.8,349.2 L235.7,349.5 L235.6,350.0 L235.5,350.3 L235.3,350.8 L235.1,351.0 L235.0,351.2 L234.8,351.6 L234.5,351.9 L234.2,352.2 L234.0,352.4 L233.8,352.6 L233.4,352.8 L233.0,352.9 L232.7,353.0 L232.2,353.1 L231.8,353.2 L231.5,353.3 L231.0,353.4 L230.6,353.5 L230.2,353.6 L229.8,353.8 L229.5,353.9 L229.1,354.0 L228.8,354.1 L228.5,354.2 L228.0,354.4 L227.8,354.5 L227.3,354.8 L227.0,354.9 L226.7,355.0 L226.2,355.2 L226.0,355.2 L225.5,355.4 L225.1,355.5 L224.8,355.6 L224.2,355.7 L223.8,355.7 L223.5,355.8Z" fill="#858585" stroke="#3a3a3a" stroke-width="0.5" fill-rule="evenodd"/>
<path d="M224.5,354.0 L224.0,354.1 L223.5,354.2 L223.0,354.2 L222.5,354.2 L222.0,354.2 L221.5,354.1 L221.0,354.1 L220.6,354.0 L220.2,353.9 L219.8,353.8 L219.5,353.7 L219.0,353.6 L218.8,353.5 L218.2,353.3 L218.0,353.2 L217.6,353.0 L217.2,352.8 L217.0,352.6 L216.8,352.4 L216.5,352.2 L216.2,352.0 L216.0,351.7 L215.8,351.5 L215.5,351.1 L215.2,350.8 L215.1,350.5 L214.9,350.2 L214.8,350.0 L214.5,349.5 L214.4,349.2 L214.3,348.8 L214.3,348.2 L214.3,347.8 L214.4,347.2 L214.5,347.0 L214.6,346.5 L214.8,346.2 L215.0,345.8 L215.1,345.5 L215.2,345.1 L215.4,344.8 L215.6,344.5 L215.8,344.2 L216.0,343.9 L216.2,343.7 L216.5,343.5 L216.9,343.2 L217.2,343.1 L217.5,343.0 L218.0,342.8 L218.2,342.7 L218.8,342.5 L219.0,342.4 L219.5,342.3 L219.8,342.2 L220.2,342.1 L220.8,342.0 L221.0,342.0 L221.5,341.9 L222.0,341.9 L222.5,341.8 L223.0,341.8 L223.2,341.7 L223.8,341.7 L224.2,341.7 L224.8,341.7 L225.2,341.7 L225.8,341.6 L226.2,341.6 L226.8,341.6 L227.2,341.6 L227.8,341.6 L228.2,341.6 L228.8,341.7 L229.0,341.8 L229.5,341.8 L230.0,342.0 L230.2,342.0 L230.8,342.2 L231.0,342.3 L231.5,342.5 L231.8,342.6 L232.0,342.8 L232.3,343.0 L232.6,343.2 L232.9,343.5 L233.1,343.8 L233.3,344.0 L233.5,344.2 L233.8,344.6 L234.0,345.0 L234.1,345.2 L234.3,345.5 L234.5,346.0 L234.6,346.2 L234.7,346.8 L234.7,347.2 L234.8,347.5 L234.8,348.0 L234.8,348.5 L234.7,348.8 L234.7,349.2 L234.5,349.8 L234.4,350.0 L234.2,350.3 L234.0,350.7 L233.8,350.9 L233.5,351.2 L233.2,351.4 L233.0,351.5 L232.5,351.7 L232.2,351.8 L231.8,351.8 L231.2,351.9 L230.8,351.9 L230.2,351.9 L229.9,352.0 L229.5,352.1 L229.1,352.2 L228.8,352.4 L228.5,352.5 L228.0,352.7 L227.8,352.8 L227.3,353.0 L227.0,353.1 L226.7,353.2 L226.2,353.4 L226.0,353.5 L225.5,353.7 L225.2,353.8 L224.8,354.0 L224.5,354.0Z" fill="#9a9a9a" stroke="#3a3a3a" stroke-width="0.5" fill-rule="evenodd"/>
<path d="M222.5,352.8 L222.0,352.8 L221.8,352.7 L221.2,352.7 L220.8,352.6 L220.2,352.5 L220.0,352.5 L219.5,352.3 L219.2,352.2 L218.8,352.1 L218.5,352.0 L218.1,351.8 L217.8,351.5 L217.5,351.3 L217.2,351.0 L217.1,350.8 L216.9,350.5 L216.8,350.2 L216.5,349.8 L216.4,349.5 L216.2,349.1 L216.2,348.8 L216.1,348.2 L216.1,347.8 L216.2,347.3 L216.4,347.0 L216.5,346.8 L216.7,346.2 L216.9,346.0 L217.0,345.8 L217.2,345.4 L217.5,345.0 L217.7,344.8 L218.0,344.5 L218.2,344.3 L218.5,344.2 L218.8,344.0 L219.2,343.8 L219.5,343.7 L220.0,343.5 L220.2,343.5 L220.8,343.4 L221.2,343.4 L221.8,343.3 L222.2,343.3 L222.5,343.2 L223.0,343.2 L223.5,343.1 L224.0,343.1 L224.5,343.0 L225.0,343.0 L225.4,343.0 L225.8,343.0 L226.0,343.0 L226.5,343.1 L227.0,343.2 L227.5,343.2 L227.8,343.3 L228.2,343.3 L228.8,343.4 L229.2,343.4 L229.7,343.5 L230.0,343.6 L230.5,343.7 L230.8,343.8 L231.2,344.0 L231.5,344.2 L231.8,344.3 L232.0,344.6 L232.2,344.9 L232.5,345.2 L232.6,345.5 L232.8,345.8 L233.0,346.0 L233.2,346.5 L233.4,346.8 L233.5,347.2 L233.6,347.5 L233.6,348.0 L233.6,348.5 L233.5,349.0 L233.4,349.2 L233.2,349.5 L233.0,349.8 L232.8,350.1 L232.4,350.2 L232.0,350.4 L231.5,350.5 L231.0,350.4 L230.5,350.4 L230.0,350.5 L229.8,350.5 L229.2,350.7 L229.0,350.8 L228.6,351.0 L228.2,351.2 L228.0,351.3 L227.5,351.5 L227.2,351.6 L226.8,351.7 L226.5,351.8 L226.0,351.9 L225.7,352.0 L225.2,352.2 L225.0,352.3 L224.5,352.5 L224.2,352.6 L223.8,352.6 L223.2,352.7 L222.8,352.7 L222.5,352.8Z" fill="#b0b0b0" stroke="#3a3a3a" stroke-width="0.5" fill-rule="evenodd"/>
<path d="M223.2,351.3 L222.8,351.4 L222.2,351.4 L221.8,351.4 L221.2,351.4 L220.8,351.3 L220.5,351.2 L220.0,351.0 L219.8,350.9 L219.5,350.8 L219.1,350.5 L218.9,350.2 L218.6,350.0 L218.3,349.8 L218.1,349.5 L218.0,349.2 L217.8,348.8 L217.8,348.2 L217.8,347.8 L218.0,347.3 L218.1,347.0 L218.2,346.7 L218.5,346.2 L218.6,346.0 L218.9,345.8 L219.2,345.5 L219.5,345.4 L219.8,345.2 L220.2,345.0 L220.5,345.0 L221.0,344.8 L221.3,344.8 L221.8,344.7 L222.2,344.6 L222.8,344.5 L223.0,344.5 L223.5,344.4 L224.0,344.4 L224.5,344.4 L225.0,344.4 L225.5,344.5 L225.8,344.5 L226.2,344.7 L226.6,344.8 L227.0,344.8 L227.5,345.0 L227.8,345.0 L228.2,345.2 L228.5,345.3 L228.8,345.5 L229.1,345.8 L229.4,346.0 L229.6,346.2 L229.7,346.8 L229.8,347.0 L229.8,347.5 L229.8,347.9 L229.6,348.2 L229.4,348.5 L229.1,348.8 L228.8,349.0 L228.5,349.2 L228.2,349.4 L228.0,349.6 L227.7,349.8 L227.2,349.9 L227.0,350.0 L226.5,350.2 L226.1,350.2 L225.8,350.3 L225.3,350.5 L225.0,350.7 L224.8,350.8 L224.2,351.0 L224.0,351.1 L223.5,351.2 L223.2,351.3Z" fill="#c8c8c8" stroke="#3a3a3a" stroke-width="0.5" fill-rule="evenodd"/>
<path d="M222.5,349.8 L222.0,349.8 L221.5,349.8 L221.2,349.7 L220.8,349.6 L220.5,349.4 L220.2,349.2 L219.9,349.0 L219.7,348.8 L219.5,348.4 L219.4,348.0 L219.5,347.5 L219.6,347.2 L219.8,347.0 L220.0,346.7 L220.3,346.5 L220.8,346.3 L221.0,346.2 L221.5,346.0 L221.8,346.0 L222.2,345.9 L222.8,345.9 L223.2,345.9 L223.7,346.0 L224.0,346.1 L224.5,346.2 L224.8,346.3 L225.2,346.5 L225.5,346.7 L225.8,346.8 L226.2,346.9 L226.6,347.0 L226.9,347.2 L227.0,347.6 L227.0,347.9 L226.8,348.2 L226.5,348.4 L226.2,348.6 L226.0,348.8 L225.7,349.0 L225.2,349.2 L225.0,349.3 L224.5,349.5 L224.2,349.5 L223.8,349.6 L223.2,349.6 L222.8,349.7 L222.5,349.8Z" fill="#e0e0e0" stroke="#3a3a3a" stroke-width="0.5" fill-rule="evenodd"/>
</g>
<line x1="234.15" y1="265.6" x2="234.15" y2="356.4" stroke="#1a1a1a" stroke-width="0.95" stroke-dasharray="2.4 1.5"/>
<rect x="213.6" y="265.6" width="56.1" height="90.8" fill="none" stroke="#231f20" stroke-width="0.8"/>
<line x1="213.6" y1="311.3" x2="269.7" y2="311.3" stroke="#231f20" stroke-width="0.8"/>
<text x="209.8" y="356.8" font-size="7.5" transform="rotate(-90 209.8 356.8)">CD8-AF700</text>
<line x1="207" y1="313.2" x2="207" y2="269.6" stroke="#231f20" stroke-width="0.8"/>
<path d="M205.4,270.6 L207,266.9 L208.6,270.6 Z" fill="#231f20"/>
<text x="212.3" y="366.3" font-size="8.0">GZMB-PE</text>
<line x1="253.3" y1="363.4" x2="266" y2="363.4" stroke="#231f20" stroke-width="0.8"/>
<path d="M265,361.8 L269,363.4 L265,365 Z" fill="#231f20"/>
<text x="280.9" y="288.45" font-size="8.5" text-anchor="middle" transform="rotate(-90 280.9 288.45)"><tspan font-style="italic">Stat3</tspan><tspan dx="0.5" dy="-3.4" font-size="6.12">−/−</tspan></text>
<text x="280.9" y="333.85" font-size="8.5" text-anchor="middle" transform="rotate(-90 280.9 333.85)"><tspan font-style="italic">Stat3</tspan><tspan dx="0.5" dy="-3.4" font-size="6.12">+/+</tspan></text>
<text x="298" y="261.6" font-size="11" font-weight="bold" fill="#000">r</text>
<line x1="330.5" y1="273.1" x2="330.5" y2="349.5" stroke="#58595b" stroke-width="0.8"/>
<line x1="326.5" y1="349.5" x2="330.5" y2="349.5" stroke="#58595b" stroke-width="0.8"/>
<text x="323.9" y="352.2" font-size="8.1" text-anchor="end">0</text>
<line x1="326.5" y1="334.22" x2="330.5" y2="334.22" stroke="#58595b" stroke-width="0.8"/>
<text x="323.9" y="336.92" font-size="8.1" text-anchor="end">10</text>
<line x1="326.5" y1="318.94" x2="330.5" y2="318.94" stroke="#58595b" stroke-width="0.8"/>
<text x="323.9" y="321.64" font-size="8.1" text-anchor="end">20</text>
<line x1="326.5" y1="303.66" x2="330.5" y2="303.66" stroke="#58595b" stroke-width="0.8"/>
<text x="323.9" y="306.36" font-size="8.1" text-anchor="end">30</text>
<line x1="326.5" y1="288.38" x2="330.5" y2="288.38" stroke="#58595b" stroke-width="0.8"/>
<text x="323.9" y="291.08" font-size="8.1" text-anchor="end">40</text>
<line x1="326.5" y1="273.1" x2="330.5" y2="273.1" stroke="#58595b" stroke-width="0.8"/>
<text x="323.9" y="275.8" font-size="8.1" text-anchor="end">50</text>
<rect x="336.2" y="317.41" width="9.7" height="32.09" fill="#cadcf6" stroke="#2b2bd6" stroke-width="0.9"/>
<circle cx="337.4" cy="310.38" r="1.65" fill="#0808cc"/>
<circle cx="344.6" cy="312.06" r="1.65" fill="#0808cc"/>
<circle cx="341.3" cy="329.94" r="1.65" fill="#0808cc"/>
<line x1="341.05" y1="323.52" x2="341.05" y2="311.3" stroke="#2b2bd6" stroke-width="0.8"/>
<line x1="338.85" y1="311.3" x2="343.25" y2="311.3" stroke="#2b2bd6" stroke-width="0.8"/>
<line x1="338.85" y1="323.52" x2="343.25" y2="323.52" stroke="#2b2bd6" stroke-width="0.8"/>
<line x1="338.45" y1="317.41" x2="343.65" y2="317.41" stroke="#2b2bd6" stroke-width="0.8"/>
<rect x="351.5" y="296.02" width="10.3" height="53.48" fill="#ffdcdc" stroke="#f5262b" stroke-width="0.9"/>
<circle cx="356.7" cy="289.14" r="1.65" fill="#ff1414"/>
<circle cx="352.8" cy="296.94" r="1.65" fill="#ff1414"/>
<circle cx="360" cy="296.94" r="1.65" fill="#ff1414"/>
<line x1="356.65" y1="299.84" x2="356.65" y2="292.2" stroke="#f5262b" stroke-width="0.8"/>
<line x1="354.45" y1="292.2" x2="358.85" y2="292.2" stroke="#f5262b" stroke-width="0.8"/>
<line x1="354.45" y1="299.84" x2="358.85" y2="299.84" stroke="#f5262b" stroke-width="0.8"/>
<line x1="354.05" y1="296.02" x2="359.25" y2="296.02" stroke="#f5262b" stroke-width="0.8"/>
<line x1="326.5" y1="349.5" x2="367" y2="349.5" stroke="#58595b" stroke-width="0.8"/>
<line x1="341.05" y1="349.5" x2="341.05" y2="353.7" stroke="#58595b" stroke-width="0.8"/>
<line x1="356.65" y1="349.5" x2="356.65" y2="353.7" stroke="#58595b" stroke-width="0.8"/>
<text x="328.85" y="380.7" font-size="7.8" transform="rotate(-42 328.85 380.7)"><tspan font-style="italic">Stat3</tspan><tspan dx="0.5" dy="-3.12" font-size="5.62">+/+</tspan></text>
<text x="344.45" y="380.7" font-size="7.8" transform="rotate(-42 344.45 380.7)"><tspan font-style="italic">Stat3</tspan><tspan dx="0.5" dy="-3.12" font-size="5.62">−/−</tspan></text>
<text x="308.3" y="311.3" font-size="7.6" text-anchor="middle" textLength="95.3" lengthAdjust="spacingAndGlyphs" transform="rotate(-90 308.3 311.3)">GZMB<tspan baseline-shift="super" font-size="5">+</tspan> (% in CD8<tspan baseline-shift="super" font-size="5">+</tspan> T cells)</text>
<text x="356.7" y="285.2" font-size="8.5" text-anchor="middle">*</text>
<text x="381.5" y="261.6" font-size="11" font-weight="bold" fill="#000">s</text>
<line x1="423.6" y1="270" x2="423.6" y2="350.3" stroke="#c4c4c4" stroke-width="1.0"/>
<line x1="419.6" y1="350.3" x2="423.6" y2="350.3" stroke="#58595b" stroke-width="0.8"/>
<text x="417" y="353" font-size="8.1" text-anchor="end">0</text>
<line x1="419.6" y1="330.23" x2="423.6" y2="330.23" stroke="#58595b" stroke-width="0.8"/>
<text x="417" y="332.93" font-size="8.1" text-anchor="end">800</text>
<line x1="419.6" y1="310.15" x2="423.6" y2="310.15" stroke="#58595b" stroke-width="0.8"/>
<text x="417" y="312.85" font-size="8.1" text-anchor="end">1,600</text>
<line x1="419.6" y1="290.07" x2="423.6" y2="290.07" stroke="#58595b" stroke-width="0.8"/>
<text x="417" y="292.77" font-size="8.1" text-anchor="end">2,400</text>
<line x1="419.6" y1="270" x2="423.6" y2="270" stroke="#58595b" stroke-width="0.8"/>
<text x="417" y="272.7" font-size="8.1" text-anchor="end">3,200</text>
<line x1="419.6" y1="350.3" x2="504.9" y2="350.3" stroke="#58595b" stroke-width="0.8"/>
<line x1="431.3" y1="350.3" x2="431.3" y2="354.3" stroke="#a8a8a8" stroke-width="0.8"/>
<text x="431.3" y="363.6" font-size="8.1" text-anchor="middle">0</text>
<line x1="442.3" y1="350.3" x2="442.3" y2="354.3" stroke="#a8a8a8" stroke-width="0.8"/>
<text x="442.3" y="363.6" font-size="8.1" text-anchor="middle">6</text>
<line x1="453" y1="350.3" x2="453" y2="354.3" stroke="#a8a8a8" stroke-width="0.8"/>
<text x="453" y="363.6" font-size="8.1" text-anchor="middle">9</text>
<line x1="464.1" y1="350.3" x2="464.1" y2="354.3" stroke="#a8a8a8" stroke-width="0.8"/>
<text x="464.1" y="363.6" font-size="8.1" text-anchor="middle">12</text>
<line x1="474.9" y1="350.3" x2="474.9" y2="354.3" stroke="#a8a8a8" stroke-width="0.8"/>
<text x="474.9" y="363.6" font-size="8.1" text-anchor="middle">15</text>
<line x1="486.4" y1="350.3" x2="486.4" y2="354.3" stroke="#a8a8a8" stroke-width="0.8"/>
<text x="486.4" y="363.6" font-size="8.1" text-anchor="middle">18</text>
<line x1="497.2" y1="350.3" x2="497.2" y2="354.3" stroke="#a8a8a8" stroke-width="0.8"/>
<text x="497.2" y="363.6" font-size="8.1" text-anchor="middle">21</text>
<text x="464.5" y="374.6" font-size="8.0" text-anchor="middle">Time (days)</text>
<text x="391.3" y="310.35" font-size="7.6" text-anchor="middle" textLength="77.4" lengthAdjust="spacingAndGlyphs" transform="rotate(-90 391.3 310.35)">Tumour volume (mm<tspan baseline-shift="super" font-size="5">3</tspan>)</text>
<polyline points="431.3,350.3 442.3,348.79 453,348.04 464.1,345.53 474.9,338.76 486.4,326.46 497.2,304.38" fill="none" stroke="#f5262b" stroke-width="0.9"/>
<circle cx="431.3" cy="350.3" r="1.9" fill="#f5262b"/>
<line x1="442.3" y1="348.79" x2="442.3" y2="348.59" stroke="#f5262b" stroke-width="0.8"/>
<line x1="440.5" y1="348.59" x2="444.1" y2="348.59" stroke="#f5262b" stroke-width="0.8"/>
<circle cx="442.3" cy="348.79" r="1.9" fill="#f5262b"/>
<line x1="453" y1="348.04" x2="453" y2="347.74" stroke="#f5262b" stroke-width="0.8"/>
<line x1="451.2" y1="347.74" x2="454.8" y2="347.74" stroke="#f5262b" stroke-width="0.8"/>
<circle cx="453" cy="348.04" r="1.9" fill="#f5262b"/>
<line x1="464.1" y1="345.53" x2="464.1" y2="345.03" stroke="#f5262b" stroke-width="0.8"/>
<line x1="462.3" y1="345.03" x2="465.9" y2="345.03" stroke="#f5262b" stroke-width="0.8"/>
<circle cx="464.1" cy="345.53" r="1.9" fill="#f5262b"/>
<line x1="474.9" y1="338.76" x2="474.9" y2="337.25" stroke="#f5262b" stroke-width="0.8"/>
<line x1="473.1" y1="337.25" x2="476.7" y2="337.25" stroke="#f5262b" stroke-width="0.8"/>
<circle cx="474.9" cy="338.76" r="1.9" fill="#f5262b"/>
<line x1="486.4" y1="326.46" x2="486.4" y2="318.93" stroke="#f5262b" stroke-width="0.8"/>
<line x1="484.6" y1="318.93" x2="488.2" y2="318.93" stroke="#f5262b" stroke-width="0.8"/>
<circle cx="486.4" cy="326.46" r="1.9" fill="#f5262b"/>
<line x1="497.2" y1="304.38" x2="497.2" y2="295.09" stroke="#f5262b" stroke-width="0.8"/>
<line x1="495.4" y1="295.09" x2="499" y2="295.09" stroke="#f5262b" stroke-width="0.8"/>
<circle cx="497.2" cy="304.38" r="1.9" fill="#f5262b"/>
<polyline points="431.3,350.3 442.3,348.54 453,347.54 464.1,344.53 474.9,336.25 486.4,315.17 497.2,280.04" fill="none" stroke="#2b2bd6" stroke-width="0.9"/>
<circle cx="431.3" cy="350.3" r="1.9" fill="#2b2bd6"/>
<line x1="442.3" y1="348.54" x2="442.3" y2="348.29" stroke="#2b2bd6" stroke-width="0.8"/>
<line x1="440.5" y1="348.29" x2="444.1" y2="348.29" stroke="#2b2bd6" stroke-width="0.8"/>
<circle cx="442.3" cy="348.54" r="1.9" fill="#2b2bd6"/>
<line x1="453" y1="347.54" x2="453" y2="347.16" stroke="#2b2bd6" stroke-width="0.8"/>
<line x1="451.2" y1="347.16" x2="454.8" y2="347.16" stroke="#2b2bd6" stroke-width="0.8"/>
<circle cx="453" cy="347.54" r="1.9" fill="#2b2bd6"/>
<line x1="464.1" y1="344.53" x2="464.1" y2="343.78" stroke="#2b2bd6" stroke-width="0.8"/>
<line x1="462.3" y1="343.78" x2="465.9" y2="343.78" stroke="#2b2bd6" stroke-width="0.8"/>
<circle cx="464.1" cy="344.53" r="1.9" fill="#2b2bd6"/>
<line x1="474.9" y1="336.25" x2="474.9" y2="333.24" stroke="#2b2bd6" stroke-width="0.8"/>
<line x1="473.1" y1="333.24" x2="476.7" y2="333.24" stroke="#2b2bd6" stroke-width="0.8"/>
<circle cx="474.9" cy="336.25" r="1.9" fill="#2b2bd6"/>
<line x1="486.4" y1="315.17" x2="486.4" y2="310.9" stroke="#2b2bd6" stroke-width="0.8"/>
<line x1="484.6" y1="310.9" x2="488.2" y2="310.9" stroke="#2b2bd6" stroke-width="0.8"/>
<circle cx="486.4" cy="315.17" r="1.9" fill="#2b2bd6"/>
<line x1="497.2" y1="280.04" x2="497.2" y2="273.76" stroke="#2b2bd6" stroke-width="0.8"/>
<line x1="495.4" y1="273.76" x2="499" y2="273.76" stroke="#2b2bd6" stroke-width="0.8"/>
<circle cx="497.2" cy="280.04" r="1.9" fill="#2b2bd6"/>
<line x1="426" y1="274.4" x2="438.5" y2="274.4" stroke="#2b2bd6" stroke-width="0.9"/>
<circle cx="432.2" cy="274.4" r="1.7" fill="#2b2bd6"/>
<text x="441" y="277.2" font-size="8.0"><tspan font-style="italic">Stat3</tspan><tspan dx="0.5" dy="-3.2" font-size="5.76">+/+</tspan></text>
<line x1="426" y1="284.6" x2="438.5" y2="284.6" stroke="#f5262b" stroke-width="0.9"/>
<circle cx="432.2" cy="284.6" r="1.7" fill="#f5262b"/>
<text x="441" y="287.4" font-size="8.0"><tspan font-style="italic">Stat3</tspan><tspan dx="0.5" dy="-3.2" font-size="5.76">−/−</tspan></text>
<text x="497.2" y="273.4" font-size="8.5" text-anchor="middle">**</text>
<text x="516.3" y="261.6" font-size="11" font-weight="bold" fill="#000">t</text>
<line x1="540.1" y1="271.8" x2="540.1" y2="348.2" stroke="#58595b" stroke-width="0.8"/>
<line x1="536.1" y1="348.2" x2="540.1" y2="348.2" stroke="#58595b" stroke-width="0.8"/>
<text x="533.5" y="350.9" font-size="8.1" text-anchor="end">0</text>
<line x1="536.1" y1="329.1" x2="540.1" y2="329.1" stroke="#58595b" stroke-width="0.8"/>
<text x="533.5" y="331.8" font-size="8.1" text-anchor="end">1</text>
<line x1="536.1" y1="310" x2="540.1" y2="310" stroke="#58595b" stroke-width="0.8"/>
<text x="533.5" y="312.7" font-size="8.1" text-anchor="end">2</text>
<line x1="536.1" y1="290.9" x2="540.1" y2="290.9" stroke="#58595b" stroke-width="0.8"/>
<text x="533.5" y="293.6" font-size="8.1" text-anchor="end">3</text>
<line x1="536.1" y1="271.8" x2="540.1" y2="271.8" stroke="#58595b" stroke-width="0.8"/>
<text x="533.5" y="274.5" font-size="8.1" text-anchor="end">4</text>
<rect x="545.5" y="297.59" width="10.3" height="50.61" fill="#cadcf6" stroke="#2b2bd6" stroke-width="0.9"/>
<circle cx="551.2" cy="281.35" r="1.65" fill="#0808cc"/>
<circle cx="551.2" cy="292.24" r="1.65" fill="#0808cc"/>
<circle cx="548" cy="300.83" r="1.65" fill="#0808cc"/>
<circle cx="551.2" cy="303.89" r="1.65" fill="#0808cc"/>
<circle cx="553" cy="308.47" r="1.65" fill="#0808cc"/>
<line x1="550.65" y1="302.93" x2="550.65" y2="292.24" stroke="#2b2bd6" stroke-width="0.8"/>
<line x1="548.45" y1="292.24" x2="552.85" y2="292.24" stroke="#2b2bd6" stroke-width="0.8"/>
<line x1="548.45" y1="302.93" x2="552.85" y2="302.93" stroke="#2b2bd6" stroke-width="0.8"/>
<line x1="548.05" y1="297.59" x2="553.25" y2="297.59" stroke="#2b2bd6" stroke-width="0.8"/>
<rect x="561.4" y="314.77" width="10.3" height="33.43" fill="#ffdcdc" stroke="#f5262b" stroke-width="0.9"/>
<circle cx="566.5" cy="298.16" r="1.65" fill="#ff1414"/>
<circle cx="566.5" cy="304.46" r="1.65" fill="#ff1414"/>
<circle cx="563" cy="320.5" r="1.65" fill="#ff1414"/>
<circle cx="569.5" cy="322.99" r="1.65" fill="#ff1414"/>
<circle cx="566.5" cy="326.81" r="1.65" fill="#ff1414"/>
<line x1="566.55" y1="320.5" x2="566.55" y2="309.05" stroke="#f5262b" stroke-width="0.8"/>
<line x1="564.35" y1="309.05" x2="568.75" y2="309.05" stroke="#f5262b" stroke-width="0.8"/>
<line x1="564.35" y1="320.5" x2="568.75" y2="320.5" stroke="#f5262b" stroke-width="0.8"/>
<line x1="563.95" y1="314.77" x2="569.15" y2="314.77" stroke="#f5262b" stroke-width="0.8"/>
<line x1="536.1" y1="348.2" x2="576.8" y2="348.2" stroke="#58595b" stroke-width="0.8"/>
<line x1="550.65" y1="348.2" x2="550.65" y2="352.4" stroke="#58595b" stroke-width="0.8"/>
<line x1="566.55" y1="348.2" x2="566.55" y2="352.4" stroke="#58595b" stroke-width="0.8"/>
<text x="538.45" y="379.4" font-size="7.8" transform="rotate(-42 538.45 379.4)"><tspan font-style="italic">Stat3</tspan><tspan dx="0.5" dy="-3.12" font-size="5.62">+/+</tspan></text>
<text x="554.35" y="379.4" font-size="7.8" transform="rotate(-42 554.35 379.4)"><tspan font-style="italic">Stat3</tspan><tspan dx="0.5" dy="-3.12" font-size="5.62">−/−</tspan></text>
<text x="522.3" y="308.35" font-size="7.6" text-anchor="middle" textLength="63.6" lengthAdjust="spacingAndGlyphs" transform="rotate(-90 522.3 308.35)">Tumour mass (g)</text>
<text x="551.2" y="278.5" font-size="8.5" text-anchor="middle">*</text>
<text x="590.2" y="261.6" font-size="11" font-weight="bold" fill="#000">u</text>
<clipPath id="c599_277"><rect x="599.8" y="277" width="74.4" height="73"/></clipPath>
<path d="M606,313 L606,313 L606.6,312.37 L607.2,312.62 L607.8,312.03 L608.4,313 L609,313 L609.6,313 L610.2,313 L610.8,313 L611.4,313 L612,309.97 L612.6,312.35 L613.2,313 L613.8,313 L614.4,313 L615,313 L615.6,313 L616.2,313 L616.8,310.09 L617.4,312.17 L618,311.81 L618.6,313 L619.2,313 L619.8,313 L620.4,313 L621,313 L621.6,313 L622.2,311.28 L622.8,311.33 L623.4,313 L624,313 L624.6,313 L625.2,313 L625.8,313 L626.4,313 L627,312.28 L627.6,311.82 L628.2,311.13 L628.8,311.56 L629.4,311.39 L630,308.14 L630.6,311.23 L631.2,306.95 L631.8,309.22 L632.4,309.59 L633,309.42 L633.6,307.48 L634.2,303.77 L634.8,306.13 L635.4,302.81 L636,301.36 L636.6,301.92 L637.2,299.73 L637.8,301.94 L638.4,301 L639,298.96 L639.6,294.2 L640.2,294.93 L640.8,294.66 L641.4,291.18 L642,291.09 L642.6,291.9 L643.2,286.85 L643.8,287.12 L644.4,290.77 L645,287.09 L645.6,286.63 L646.2,282.22 L646.8,282.69 L647.4,286.3 L648,279.04 L648.6,289.53 L649.2,288.16 L649.8,286.68 L650.4,292.1 L651,287.9 L651.6,291.22 L652.2,284.89 L652.8,285.67 L653.4,289.12 L654,288.16 L654.6,293.53 L655.2,290.84 L655.8,292.24 L656.4,292.89 L657,294.39 L657.6,291.86 L658.2,291.6 L658.8,295.75 L659.4,295.44 L660,301.15 L660.6,298.11 L661.2,299.37 L661.8,296.88 L662.4,297.77 L663,301.11 L663.6,300.23 L664.2,298.58 L664.8,303.9 L665.4,302.24 L666,305.09 L666.6,306.43 L667.2,307.53 L667.8,304.05 L668.4,307.68 L669,307.33 L669.6,306.88 L670.2,304.58 L670.8,308.36 L671.4,306.28 L672,305.54 L672.6,304.4 L673.2,305.31 L673.8,305.67 L674,308.65 L674,313Z" fill="#ff6b6b" stroke="#ff3030" stroke-width="0.5" stroke-linejoin="round"/>
<path d="M603,350 L603,350 L603.6,349.97 L604.2,347.34 L604.8,350 L605.4,350 L606,350 L606.6,350 L607.2,350 L607.8,350 L608.4,350 L609,350 L609.6,348.7 L610.2,350 L610.8,350 L611.4,350 L612,350 L612.6,350 L613.2,350 L613.8,350 L614.4,347.71 L615,349.12 L615.6,348.82 L616.2,350 L616.8,350 L617.4,350 L618,350 L618.6,349.24 L619.2,348.53 L619.8,347.94 L620.4,348.55 L621,345.87 L621.6,348.09 L622.2,346.93 L622.8,346.74 L623.4,344.69 L624,343.01 L624.6,339.62 L625.2,340.97 L625.8,341.24 L626.4,339.45 L627,334.32 L627.6,338.6 L628.2,334.41 L628.8,334.92 L629.4,332.19 L630,333.29 L630.6,330.23 L631.2,330.78 L631.8,328.98 L632.4,326.43 L633,327.95 L633.6,330.31 L634.2,330.08 L634.8,322.4 L635.4,325.08 L636,326.59 L636.6,320.07 L637.2,322.71 L637.8,321.08 L638.4,319.41 L639,324.07 L639.6,323.18 L640.2,318.39 L640.8,324.52 L641.4,318.74 L642,324.29 L642.6,318.76 L643.2,319.27 L643.8,317.95 L644.4,319.69 L645,323.33 L645.6,326.14 L646.2,326.81 L646.8,324.02 L647.4,324.47 L648,328.27 L648.6,322.66 L649.2,326.71 L649.8,326.23 L650.4,330.71 L651,331.45 L651.6,333.42 L652.2,331.47 L652.8,332.35 L653.4,331.65 L654,332.32 L654.6,329.91 L655.2,330.17 L655.8,335.32 L656.4,334.51 L657,336.49 L657.6,334.54 L658.2,333.85 L658.8,339.19 L659.4,337.21 L660,340.65 L660.6,342.29 L661.2,338.78 L661.8,341.08 L662.4,342.13 L663,341.06 L663.6,343.41 L664.2,344.02 L664.8,345.29 L665.4,346.41 L666,346.59 L666.6,348.43 L667.2,349.84 L667.8,350 L668.3,350 L668.3,350Z" fill="#7070ff" stroke="#3838ff" stroke-width="0.5" stroke-linejoin="round"/>
<line x1="648.3" y1="277" x2="648.3" y2="350" stroke="#1a1a1a" stroke-width="0.95" stroke-dasharray="2.4 1.5"/>
<rect x="599.8" y="277" width="74.4" height="73" fill="none" stroke="#231f20" stroke-width="0.8"/>
<line x1="599.8" y1="313" x2="674.2" y2="313" stroke="#231f20" stroke-width="0.8"/>
<text x="596.5" y="350.4" font-size="7.5" transform="rotate(-90 596.5 350.4)">Count</text>
<line x1="593.7" y1="327.7" x2="593.7" y2="281" stroke="#231f20" stroke-width="0.8"/>
<path d="M592.1,282 L593.7,278.3 L595.3,282 Z" fill="#231f20"/>
<text x="599.6" y="359.9" font-size="8.0">MHCII-PE</text>
<line x1="639.4" y1="357" x2="669.2" y2="357" stroke="#231f20" stroke-width="0.8"/>
<path d="M668.2,355.4 L672.2,357 L668.2,358.6 Z" fill="#231f20"/>
<text x="683.9" y="295" font-size="8.5" text-anchor="middle" transform="rotate(-90 683.9 295)"><tspan font-style="italic">Stat3</tspan><tspan dx="0.5" dy="-3.4" font-size="6.12">−/−</tspan></text>
<text x="683.9" y="331.5" font-size="8.5" text-anchor="middle" transform="rotate(-90 683.9 331.5)"><tspan font-style="italic">Stat3</tspan><tspan dx="0.5" dy="-3.4" font-size="6.12">+/+</tspan></text>
<text x="-0.1" y="397.7" font-size="11" font-weight="bold" fill="#000">v</text>
<line x1="40.9" y1="406.2" x2="40.9" y2="476.5" stroke="#58595b" stroke-width="0.8"/>
<line x1="36.9" y1="476.5" x2="40.9" y2="476.5" stroke="#58595b" stroke-width="0.8"/>
<text x="34.3" y="479.2" font-size="8.1" text-anchor="end">0</text>
<line x1="36.9" y1="458.93" x2="40.9" y2="458.93" stroke="#58595b" stroke-width="0.8"/>
<text x="34.3" y="461.62" font-size="8.1" text-anchor="end">10</text>
<line x1="36.9" y1="441.35" x2="40.9" y2="441.35" stroke="#58595b" stroke-width="0.8"/>
<text x="34.3" y="444.05" font-size="8.1" text-anchor="end">20</text>
<line x1="36.9" y1="423.77" x2="40.9" y2="423.77" stroke="#58595b" stroke-width="0.8"/>
<text x="34.3" y="426.47" font-size="8.1" text-anchor="end">30</text>
<line x1="36.9" y1="406.2" x2="40.9" y2="406.2" stroke="#58595b" stroke-width="0.8"/>
<text x="34.3" y="408.9" font-size="8.1" text-anchor="end">40</text>
<rect x="46" y="439.59" width="10.5" height="36.91" fill="#cadcf6" stroke="#2b2bd6" stroke-width="0.9"/>
<circle cx="47.4" cy="436.25" r="1.65" fill="#0808cc"/>
<circle cx="54.6" cy="438.01" r="1.65" fill="#0808cc"/>
<circle cx="51.3" cy="445.74" r="1.65" fill="#0808cc"/>
<line x1="51.25" y1="443.11" x2="51.25" y2="436.08" stroke="#2b2bd6" stroke-width="0.8"/>
<line x1="49.05" y1="436.08" x2="53.45" y2="436.08" stroke="#2b2bd6" stroke-width="0.8"/>
<line x1="49.05" y1="443.11" x2="53.45" y2="443.11" stroke="#2b2bd6" stroke-width="0.8"/>
<line x1="48.65" y1="439.59" x2="53.85" y2="439.59" stroke="#2b2bd6" stroke-width="0.8"/>
<rect x="61.2" y="423.77" width="10.4" height="52.73" fill="#ffdcdc" stroke="#f5262b" stroke-width="0.9"/>
<circle cx="63" cy="421.84" r="1.65" fill="#ff1414"/>
<circle cx="70.3" cy="421.84" r="1.65" fill="#ff1414"/>
<circle cx="66.9" cy="429.57" r="1.65" fill="#ff1414"/>
<line x1="66.4" y1="427.29" x2="66.4" y2="420.26" stroke="#f5262b" stroke-width="0.8"/>
<line x1="64.2" y1="420.26" x2="68.6" y2="420.26" stroke="#f5262b" stroke-width="0.8"/>
<line x1="64.2" y1="427.29" x2="68.6" y2="427.29" stroke="#f5262b" stroke-width="0.8"/>
<line x1="63.8" y1="423.77" x2="69" y2="423.77" stroke="#f5262b" stroke-width="0.8"/>
<line x1="36.9" y1="476.5" x2="77.3" y2="476.5" stroke="#58595b" stroke-width="0.8"/>
<line x1="51.25" y1="476.5" x2="51.25" y2="480.7" stroke="#58595b" stroke-width="0.8"/>
<line x1="66.4" y1="476.5" x2="66.4" y2="480.7" stroke="#58595b" stroke-width="0.8"/>
<text x="39.05" y="507.7" font-size="7.8" transform="rotate(-42 39.05 507.7)"><tspan font-style="italic">Stat3</tspan><tspan dx="0.5" dy="-3.12" font-size="5.62">+/+</tspan></text>
<text x="54.2" y="507.7" font-size="7.8" transform="rotate(-42 54.2 507.7)"><tspan font-style="italic">Stat3</tspan><tspan dx="0.5" dy="-3.12" font-size="5.62">−/−</tspan></text>
<text x="16.7" y="439.8" font-size="7.6" text-anchor="middle" textLength="57.3" lengthAdjust="spacingAndGlyphs" transform="rotate(-90 16.7 439.8)">MHCII MFI (×10<tspan baseline-shift="super" font-size="5">3</tspan>)</text>
<text x="66.4" y="418.9" font-size="8.5" text-anchor="middle">*</text>
<text x="97.3" y="397.7" font-size="11" font-weight="bold" fill="#000">w</text>
<clipPath id="c106_410"><rect x="106.9" y="410.1" width="74.8" height="72.9"/></clipPath>
<path d="M119.7,446.6 L119.7,446.6 L120.4,446.44 L121.1,446.38 L121.8,446.6 L122.5,444.94 L123.2,446.23 L123.9,444.94 L124.6,443.81 L125.3,444.98 L126,443.32 L126.7,442.5 L127.4,443.13 L128.1,441.64 L128.8,439.91 L129.5,439.61 L130.2,437.93 L130.9,438.58 L131.6,437.16 L132.3,436.32 L133,433.8 L133.7,431.09 L134.4,430.95 L135.1,428.97 L135.8,429.17 L136.5,426.44 L137.2,427.83 L137.9,425.79 L138.6,422.82 L139.3,421.27 L140,421.43 L140.7,422.06 L141.4,420.19 L142.1,419.49 L142.8,418.12 L143.5,414.46 L144.2,417.02 L144.9,412.46 L145.6,411.7 L146.3,417.37 L147,416.88 L147.7,417.6 L148.4,420.96 L149.1,419.58 L149.8,417.87 L150.5,422.46 L151.2,420.83 L151.9,423.92 L152.6,422.64 L153.3,422.08 L154,426 L154.7,427.82 L155.4,428.47 L156.1,427.61 L156.8,430.66 L157.5,431.14 L158.2,430.26 L158.9,429.4 L159.6,431.89 L160.3,432.72 L161,432.75 L161.7,435.39 L162.4,434.67 L163.1,436.75 L163.8,436.1 L164.5,435.79 L165.2,439.04 L165.9,438.32 L166.6,439.02 L167.3,441.04 L168,441.56 L168.7,440.71 L169.4,441.62 L170.1,444.4 L170.8,444.06 L171.5,444.49 L172.2,446.6 L172.5,446.6 L172.5,446.6Z" fill="#ff6b6b" stroke="#ff3030" stroke-width="0.5" stroke-linejoin="round"/>
<path d="M118.4,483 L118.4,483 L119.1,482.58 L119.8,482.54 L120.5,481.97 L121.2,482.3 L121.9,480.53 L122.6,479.89 L123.3,479.63 L124,480.1 L124.7,478.29 L125.4,477.74 L126.1,476.94 L126.8,474.07 L127.5,472.81 L128.2,474.44 L128.9,470.89 L129.6,470.56 L130.3,470.18 L131,469.43 L131.7,466.95 L132.4,466.64 L133.1,464.69 L133.8,463.92 L134.5,465.2 L135.2,461.74 L135.9,459.95 L136.6,459.37 L137.3,460.35 L138,462.33 L138.7,461.99 L139.4,461.14 L140.1,457.93 L140.8,461.26 L141.5,461.42 L142.2,459.55 L142.9,462.5 L143.6,461.92 L144.3,462.82 L145,464.79 L145.7,462.37 L146.4,461.02 L147.1,463.67 L147.8,463.14 L148.5,462.62 L149.2,464.7 L149.9,463.29 L150.6,462.49 L151.3,463.7 L152,464.79 L152.7,464.15 L153.4,467.43 L154.1,466.46 L154.8,467.76 L155.5,467.53 L156.2,469.84 L156.9,468.14 L157.6,471.24 L158.3,471.82 L159,470.64 L159.7,471.09 L160.4,473.49 L161.1,474.38 L161.8,475.68 L162.5,476.43 L163.2,476.4 L163.9,478.31 L164.6,479.26 L165.3,479.34 L166,480.79 L166.7,480.42 L167.4,480.74 L168.1,481.48 L168.8,482.67 L169.2,483 L169.2,483Z" fill="#7070ff" stroke="#3838ff" stroke-width="0.5" stroke-linejoin="round"/>
<line x1="148.3" y1="410.1" x2="148.3" y2="483" stroke="#1a1a1a" stroke-width="0.95" stroke-dasharray="2.4 1.5"/>
<rect x="106.9" y="410.1" width="74.8" height="72.9" fill="none" stroke="#231f20" stroke-width="0.8"/>
<line x1="106.9" y1="446.6" x2="181.7" y2="446.6" stroke="#231f20" stroke-width="0.8"/>
<text x="103.6" y="483.4" font-size="7.5" transform="rotate(-90 103.6 483.4)">Count</text>
<line x1="100.8" y1="460.7" x2="100.8" y2="414.1" stroke="#231f20" stroke-width="0.8"/>
<path d="M99.2,415.1 L100.8,411.4 L102.4,415.1 Z" fill="#231f20"/>
<text x="105.4" y="492.9" font-size="8.0">CD86-PE</text>
<line x1="142.6" y1="490" x2="176.6" y2="490" stroke="#231f20" stroke-width="0.8"/>
<path d="M175.6,488.4 L179.6,490 L175.6,491.6 Z" fill="#231f20"/>
<text x="192.6" y="428.35" font-size="8.5" text-anchor="middle" transform="rotate(-90 192.6 428.35)"><tspan font-style="italic">Stat3</tspan><tspan dx="0.5" dy="-3.4" font-size="6.12">−/−</tspan></text>
<text x="192.6" y="464.8" font-size="8.5" text-anchor="middle" transform="rotate(-90 192.6 464.8)"><tspan font-style="italic">Stat3</tspan><tspan dx="0.5" dy="-3.4" font-size="6.12">+/+</tspan></text>
<text x="222.2" y="397.7" font-size="11" font-weight="bold" fill="#000">x</text>
<line x1="254.6" y1="406.2" x2="254.6" y2="476.5" stroke="#58595b" stroke-width="0.8"/>
<line x1="250.6" y1="476.5" x2="254.6" y2="476.5" stroke="#58595b" stroke-width="0.8"/>
<text x="248" y="479.2" font-size="8.1" text-anchor="end">0</text>
<line x1="250.6" y1="462.44" x2="254.6" y2="462.44" stroke="#58595b" stroke-width="0.8"/>
<text x="248" y="465.14" font-size="8.1" text-anchor="end">0.5</text>
<line x1="250.6" y1="448.38" x2="254.6" y2="448.38" stroke="#58595b" stroke-width="0.8"/>
<text x="248" y="451.08" font-size="8.1" text-anchor="end">1.0</text>
<line x1="250.6" y1="434.32" x2="254.6" y2="434.32" stroke="#58595b" stroke-width="0.8"/>
<text x="248" y="437.02" font-size="8.1" text-anchor="end">1.5</text>
<line x1="250.6" y1="420.26" x2="254.6" y2="420.26" stroke="#58595b" stroke-width="0.8"/>
<text x="248" y="422.96" font-size="8.1" text-anchor="end">2.0</text>
<line x1="250.6" y1="406.2" x2="254.6" y2="406.2" stroke="#58595b" stroke-width="0.8"/>
<text x="248" y="408.9" font-size="8.1" text-anchor="end">2.5</text>
<rect x="259.2" y="438.54" width="10.4" height="37.96" fill="#cadcf6" stroke="#2b2bd6" stroke-width="0.9"/>
<circle cx="261.1" cy="435.44" r="1.65" fill="#0808cc"/>
<circle cx="268.3" cy="438.26" r="1.65" fill="#0808cc"/>
<circle cx="260.8" cy="441.35" r="1.65" fill="#0808cc"/>
<circle cx="264.4" cy="437.69" r="1.65" fill="#0808cc"/>
<line x1="264.4" y1="439.94" x2="264.4" y2="437.13" stroke="#2b2bd6" stroke-width="0.8"/>
<line x1="262.2" y1="437.13" x2="266.6" y2="437.13" stroke="#2b2bd6" stroke-width="0.8"/>
<line x1="262.2" y1="439.94" x2="266.6" y2="439.94" stroke="#2b2bd6" stroke-width="0.8"/>
<line x1="261.8" y1="438.54" x2="267" y2="438.54" stroke="#2b2bd6" stroke-width="0.8"/>
<rect x="275.4" y="414.64" width="10.4" height="61.86" fill="#ffdcdc" stroke="#f5262b" stroke-width="0.9"/>
<circle cx="276.2" cy="410.14" r="1.65" fill="#ff1414"/>
<circle cx="284.5" cy="413.51" r="1.65" fill="#ff1414"/>
<circle cx="280.6" cy="418.57" r="1.65" fill="#ff1414"/>
<line x1="280.6" y1="417.45" x2="280.6" y2="411.82" stroke="#f5262b" stroke-width="0.8"/>
<line x1="278.4" y1="411.82" x2="282.8" y2="411.82" stroke="#f5262b" stroke-width="0.8"/>
<line x1="278.4" y1="417.45" x2="282.8" y2="417.45" stroke="#f5262b" stroke-width="0.8"/>
<line x1="278" y1="414.64" x2="283.2" y2="414.64" stroke="#f5262b" stroke-width="0.8"/>
<line x1="250.6" y1="476.5" x2="291" y2="476.5" stroke="#58595b" stroke-width="0.8"/>
<line x1="264.4" y1="476.5" x2="264.4" y2="480.7" stroke="#58595b" stroke-width="0.8"/>
<line x1="280.6" y1="476.5" x2="280.6" y2="480.7" stroke="#58595b" stroke-width="0.8"/>
<text x="252.2" y="507.7" font-size="7.8" transform="rotate(-42 252.2 507.7)"><tspan font-style="italic">Stat3</tspan><tspan dx="0.5" dy="-3.12" font-size="5.62">+/+</tspan></text>
<text x="268.4" y="507.7" font-size="7.8" transform="rotate(-42 268.4 507.7)"><tspan font-style="italic">Stat3</tspan><tspan dx="0.5" dy="-3.12" font-size="5.62">−/−</tspan></text>
<text x="226.3" y="440.2" font-size="7.6" text-anchor="middle" textLength="58.1" lengthAdjust="spacingAndGlyphs" transform="rotate(-90 226.3 440.2)">CD86 MFI (×10<tspan baseline-shift="super" font-size="5">3</tspan>)</text>
<text x="280.6" y="409" font-size="8.5" text-anchor="middle">**</text>
<text x="315.9" y="397.7" font-size="11" font-weight="bold" fill="#000">y</text>
<clipPath id="c325_399"><rect x="325.6" y="399.7" width="56.7" height="90.6"/></clipPath>
<clipPath id="dc9"><rect x="325.6" y="399.7" width="56.7" height="45.6"/></clipPath>
<g clip-path="url(#dc9)">
<path d="M331.5,447.0 L331.0,447.1 L330.5,447.2 L330.0,447.2 L329.5,447.1 L329.2,447.0 L328.9,446.8 L328.5,446.5 L328.2,446.3 L328.0,446.1 L327.8,445.9 L327.5,445.7 L327.2,445.4 L327.0,445.1 L326.8,444.9 L326.5,444.6 L326.2,444.4 L326.0,444.1 L325.8,443.8 L325.6,443.5 L325.5,443.2 L325.2,442.8 L325.1,442.5 L325.0,442.0 L324.9,441.8 L324.8,441.2 L324.7,441.0 L324.6,440.5 L324.5,440.0 L324.4,439.8 L324.3,439.2 L324.2,439.0 L324.2,438.5 L324.1,438.0 L324.1,437.5 L324.1,437.0 L324.2,436.5 L324.2,436.1 L324.3,435.8 L324.4,435.2 L324.4,434.8 L324.5,434.2 L324.5,434.0 L324.6,433.5 L324.6,433.0 L324.6,432.5 L324.6,432.0 L324.6,431.5 L324.6,431.0 L324.6,430.5 L324.7,430.0 L324.7,429.5 L324.7,429.0 L324.7,428.5 L324.7,428.0 L324.7,427.5 L324.7,427.0 L324.7,426.5 L324.7,426.0 L324.8,425.8 L324.8,425.2 L324.8,424.8 L324.8,424.2 L324.8,423.8 L324.8,423.2 L324.7,423.0 L324.6,422.5 L324.5,422.2 L324.3,421.8 L324.2,421.5 L324.1,421.0 L324.0,420.6 L323.9,420.2 L323.9,419.8 L323.9,419.2 L323.8,418.8 L323.7,418.5 L323.7,418.0 L323.6,417.5 L323.6,417.0 L323.7,416.5 L323.8,416.2 L324.0,415.8 L324.1,415.5 L324.2,415.1 L324.4,414.8 L324.5,414.5 L324.8,414.0 L324.9,413.8 L325.1,413.5 L325.2,413.2 L325.5,412.9 L325.8,412.6 L326.0,412.3 L326.2,412.1 L326.5,412.0 L326.9,411.8 L327.2,411.6 L327.5,411.5 L328.0,411.3 L328.2,411.2 L328.8,411.1 L329.0,411.0 L329.5,410.8 L329.8,410.8 L330.2,410.6 L330.8,410.6 L331.2,410.5 L331.8,410.5 L332.2,410.6 L332.8,410.6 L333.2,410.6 L333.8,410.7 L334.0,410.8 L334.5,410.9 L335.0,411.0 L335.5,411.0 L335.5,411.0 L336.0,411.0 L336.5,410.9 L337.0,411.0 L337.5,411.0 L337.8,411.0 L338.2,411.1 L338.7,411.2 L339.0,411.3 L339.5,411.3 L340.0,411.3 L340.5,411.3 L341.0,411.3 L341.5,411.4 L341.8,411.5 L342.2,411.7 L342.5,411.8 L343.0,412.0 L343.2,412.1 L343.7,412.2 L344.0,412.3 L344.5,412.5 L344.8,412.5 L345.2,412.7 L345.6,412.8 L346.0,412.8 L346.5,412.9 L347.0,413.0 L347.2,413.0 L347.8,413.1 L348.2,413.1 L348.8,413.2 L349.2,413.2 L349.5,413.3 L350.0,413.4 L350.5,413.5 L350.8,413.6 L351.2,413.7 L351.5,413.8 L352.0,413.9 L352.4,414.0 L352.8,414.1 L353.2,414.2 L353.5,414.3 L354.0,414.5 L354.2,414.5 L354.8,414.6 L355.2,414.7 L355.6,414.8 L356.0,414.8 L356.5,414.9 L356.9,415.0 L357.2,415.1 L357.7,415.2 L358.0,415.3 L358.5,415.5 L358.8,415.6 L359.2,415.7 L359.5,415.8 L360.0,415.9 L360.3,416.0 L360.8,416.1 L361.0,416.2 L361.5,416.5 L361.8,416.6 L362.0,416.8 L362.2,417.0 L362.5,417.3 L362.8,417.5 L363.0,417.9 L363.2,418.2 L363.3,418.5 L363.4,419.0 L363.4,419.5 L363.4,420.0 L363.2,420.5 L363.2,420.8 L363.0,421.1 L362.8,421.5 L362.5,421.8 L362.2,422.0 L362.0,422.2 L361.8,422.4 L361.5,422.5 L361.0,422.7 L360.8,422.8 L360.2,423.0 L360.0,423.1 L359.5,423.2 L359.2,423.3 L358.8,423.4 L358.5,423.5 L358.0,423.7 L357.6,423.8 L357.2,423.8 L356.8,424.0 L356.5,424.0 L356.0,424.1 L355.5,424.2 L355.2,424.3 L354.8,424.4 L354.2,424.4 L353.8,424.5 L353.2,424.5 L352.8,424.5 L352.2,424.4 L351.8,424.4 L351.2,424.5 L350.8,424.5 L350.5,424.5 L350.0,424.6 L349.5,424.7 L349.1,424.8 L348.8,424.8 L348.2,424.9 L347.8,425.0 L347.2,425.0 L346.8,425.0 L346.2,425.0 L345.8,424.9 L345.2,424.9 L344.8,424.9 L344.2,424.8 L343.8,424.8 L343.5,424.7 L343.0,424.7 L342.8,424.8 L342.2,424.8 L341.8,424.8 L341.2,424.8 L340.8,424.8 L340.2,424.8 L339.8,424.9 L339.2,425.0 L339.0,425.0 L338.6,425.2 L338.2,425.5 L338.0,425.8 L337.9,426.0 L337.8,426.3 L337.6,426.8 L337.5,427.1 L337.4,427.5 L337.3,428.0 L337.2,428.3 L337.2,428.8 L337.1,429.2 L337.1,429.8 L337.1,430.2 L337.0,430.8 L337.0,431.0 L336.9,431.5 L336.9,432.0 L336.9,432.5 L336.8,433.0 L336.8,433.5 L336.8,434.0 L336.8,434.5 L336.8,435.0 L336.8,435.5 L336.8,436.0 L336.8,436.5 L336.8,436.8 L336.7,437.2 L336.6,437.8 L336.6,438.2 L336.5,438.8 L336.5,439.0 L336.5,439.5 L336.4,440.0 L336.4,440.5 L336.2,441.0 L336.2,441.2 L336.0,441.8 L335.9,442.0 L335.8,442.5 L335.6,442.8 L335.5,443.1 L335.3,443.5 L335.1,443.8 L334.9,444.0 L334.7,444.2 L334.5,444.5 L334.2,444.8 L334.0,445.2 L333.8,445.5 L333.6,445.8 L333.3,446.0 L333.0,446.2 L332.8,446.5 L332.5,446.6 L332.2,446.8 L331.8,446.9 L331.5,447.0Z" fill="#707070" stroke="#2a2a2a" stroke-width="0.45" fill-rule="evenodd"/>
<path d="M331.2,445.8 L330.8,445.9 L330.2,445.9 L329.8,445.8 L329.5,445.7 L329.0,445.5 L328.8,445.3 L328.5,445.1 L328.2,444.9 L328.0,444.7 L327.7,444.5 L327.5,444.2 L327.2,444.0 L327.0,443.8 L326.7,443.5 L326.5,443.2 L326.2,442.8 L326.1,442.5 L326.0,442.2 L325.9,441.8 L325.8,441.3 L325.6,441.0 L325.5,440.5 L325.4,440.2 L325.3,439.8 L325.2,439.5 L325.1,439.0 L325.0,438.6 L324.9,438.2 L324.9,437.8 L324.9,437.2 L324.9,436.8 L325.0,436.2 L325.0,436.0 L325.1,435.5 L325.2,435.0 L325.2,434.6 L325.3,434.2 L325.4,433.8 L325.4,433.2 L325.4,432.8 L325.4,432.2 L325.4,431.8 L325.4,431.2 L325.4,430.8 L325.5,430.2 L325.5,429.8 L325.4,429.2 L325.4,428.8 L325.4,428.2 L325.4,427.8 L325.4,427.2 L325.4,426.8 L325.5,426.2 L325.5,426.0 L325.6,425.5 L325.7,425.0 L325.7,424.5 L325.7,424.0 L325.7,423.5 L325.7,423.0 L325.6,422.5 L325.5,422.2 L325.3,421.8 L325.1,421.5 L325.0,421.1 L324.9,420.8 L324.8,420.2 L324.8,419.9 L324.7,419.5 L324.7,419.0 L324.6,418.5 L324.6,418.0 L324.5,417.5 L324.5,417.2 L324.5,416.8 L324.6,416.5 L324.7,416.0 L324.8,415.8 L325.0,415.3 L325.2,415.0 L325.3,414.8 L325.5,414.4 L325.7,414.0 L325.9,413.8 L326.1,413.5 L326.4,413.2 L326.6,413.0 L326.9,412.8 L327.2,412.5 L327.5,412.3 L327.8,412.2 L328.2,412.0 L328.5,411.9 L329.0,411.8 L329.2,411.7 L329.8,411.6 L330.2,411.5 L330.5,411.4 L331.0,411.4 L331.5,411.4 L332.0,411.4 L332.5,411.4 L333.0,411.5 L333.2,411.5 L333.8,411.6 L334.2,411.7 L334.5,411.8 L335.0,411.8 L335.5,411.9 L336.0,411.8 L336.5,411.8 L337.0,411.8 L337.5,411.8 L338.0,411.9 L338.4,412.0 L338.8,412.1 L339.2,412.2 L339.8,412.2 L340.2,412.2 L340.8,412.2 L341.2,412.2 L341.5,412.3 L342.0,412.5 L342.2,412.5 L342.8,412.7 L343.0,412.8 L343.4,413.0 L343.8,413.1 L344.2,413.2 L344.5,413.3 L345.0,413.4 L345.5,413.5 L345.8,413.5 L346.2,413.6 L346.8,413.7 L347.2,413.7 L347.5,413.8 L348.0,413.8 L348.5,413.9 L349.0,414.0 L349.2,414.0 L349.8,414.1 L350.2,414.2 L350.5,414.4 L350.9,414.5 L351.2,414.6 L351.8,414.7 L352.1,414.8 L352.5,414.9 L353.0,415.0 L353.2,415.1 L353.8,415.2 L354.0,415.3 L354.5,415.4 L355.0,415.4 L355.5,415.5 L355.8,415.5 L356.2,415.6 L356.8,415.7 L357.0,415.8 L357.5,415.9 L357.8,416.0 L358.2,416.2 L358.6,416.2 L359.0,416.3 L359.5,416.4 L359.8,416.5 L360.2,416.6 L360.6,416.8 L361.0,416.9 L361.2,417.1 L361.5,417.2 L361.8,417.5 L362.0,417.8 L362.2,418.0 L362.5,418.5 L362.5,418.8 L362.6,419.2 L362.6,419.8 L362.5,420.1 L362.4,420.5 L362.2,420.8 L362.0,421.2 L361.8,421.5 L361.5,421.7 L361.2,421.9 L361.0,422.0 L360.5,422.2 L360.2,422.3 L359.8,422.4 L359.5,422.5 L359.0,422.6 L358.6,422.8 L358.2,422.8 L357.8,423.0 L357.5,423.0 L357.0,423.2 L356.7,423.2 L356.2,423.3 L355.8,423.4 L355.4,423.5 L355.0,423.6 L354.5,423.6 L354.0,423.7 L353.5,423.7 L353.0,423.7 L352.5,423.7 L352.0,423.7 L351.5,423.7 L351.0,423.7 L350.5,423.7 L350.2,423.8 L349.8,423.8 L349.2,423.9 L348.8,424.0 L348.5,424.0 L348.0,424.1 L347.5,424.2 L347.0,424.2 L346.5,424.2 L346.0,424.2 L345.5,424.1 L345.0,424.1 L344.5,424.0 L344.2,424.0 L343.8,423.9 L343.2,423.9 L342.8,423.9 L342.2,423.9 L341.8,423.9 L341.2,423.9 L340.8,423.9 L340.2,423.9 L339.8,424.0 L339.5,424.0 L339.0,424.1 L338.5,424.2 L338.2,424.3 L337.8,424.5 L337.5,424.7 L337.2,424.9 L337.0,425.2 L336.9,425.5 L336.8,426.0 L336.7,426.2 L336.7,426.8 L336.6,427.2 L336.5,427.8 L336.5,428.0 L336.4,428.5 L336.3,429.0 L336.2,429.2 L336.2,429.8 L336.1,430.2 L336.1,430.8 L336.1,431.2 L336.1,431.8 L336.1,432.2 L336.0,432.8 L336.0,433.2 L336.0,433.6 L336.0,434.0 L335.9,434.5 L335.9,435.0 L335.9,435.5 L336.0,436.0 L336.0,436.5 L335.9,437.0 L335.9,437.5 L335.8,438.0 L335.8,438.5 L335.7,438.8 L335.7,439.2 L335.6,439.8 L335.5,440.2 L335.5,440.5 L335.4,441.0 L335.2,441.4 L335.1,441.8 L335.0,442.0 L334.8,442.5 L334.6,442.8 L334.4,443.0 L334.1,443.2 L333.8,443.5 L333.5,443.7 L333.2,444.0 L333.0,444.2 L332.8,444.5 L332.6,444.8 L332.4,445.0 L332.1,445.2 L331.8,445.5 L331.5,445.7 L331.2,445.8Z" fill="#808080" stroke="#2a2a2a" stroke-width="0.45" fill-rule="evenodd"/>
<path d="M330.8,444.6 L330.2,444.6 L329.8,444.6 L329.5,444.5 L329.1,444.2 L328.8,444.0 L328.5,443.8 L328.2,443.6 L328.0,443.4 L327.8,443.2 L327.5,442.9 L327.2,442.7 L327.0,442.3 L326.9,442.0 L326.8,441.7 L326.6,441.2 L326.5,440.9 L326.4,440.5 L326.2,440.0 L326.2,439.8 L326.0,439.2 L325.9,439.0 L325.8,438.5 L325.8,438.0 L325.7,437.8 L325.7,437.2 L325.6,436.8 L325.7,436.2 L325.7,435.8 L325.8,435.5 L325.9,435.0 L326.0,434.5 L326.0,434.2 L326.1,433.8 L326.1,433.2 L326.2,432.8 L326.2,432.2 L326.2,431.8 L326.2,431.2 L326.2,430.8 L326.2,430.2 L326.2,429.8 L326.1,429.2 L326.1,428.8 L326.1,428.2 L326.1,427.8 L326.1,427.2 L326.2,426.8 L326.2,426.2 L326.3,426.0 L326.4,425.5 L326.5,425.0 L326.5,424.8 L326.6,424.2 L326.6,423.8 L326.6,423.2 L326.5,422.8 L326.5,422.5 L326.3,422.0 L326.2,421.8 L326.0,421.3 L325.9,421.0 L325.7,420.8 L325.6,420.2 L325.5,419.8 L325.5,419.2 L325.5,419.0 L325.5,418.5 L325.5,418.0 L325.4,417.5 L325.3,417.0 L325.4,416.5 L325.5,416.2 L325.7,415.8 L325.8,415.5 L326.0,415.0 L326.1,414.8 L326.3,414.5 L326.5,414.2 L326.8,413.9 L327.0,413.7 L327.2,413.5 L327.6,413.2 L328.0,413.0 L328.2,412.9 L328.5,412.7 L329.0,412.6 L329.2,412.5 L329.8,412.3 L330.2,412.2 L330.5,412.2 L331.0,412.2 L331.5,412.2 L332.0,412.2 L332.5,412.2 L332.8,412.3 L333.2,412.3 L333.8,412.4 L334.1,412.5 L334.5,412.6 L335.0,412.6 L335.5,412.7 L336.0,412.7 L336.5,412.6 L337.0,412.6 L337.5,412.6 L338.0,412.7 L338.2,412.8 L338.8,412.9 L339.2,412.9 L339.8,413.0 L340.0,413.0 L340.5,413.0 L341.0,413.1 L341.5,413.2 L341.8,413.2 L342.2,413.4 L342.5,413.5 L343.0,413.7 L343.2,413.8 L343.8,413.9 L344.0,414.0 L344.5,414.1 L345.0,414.2 L345.2,414.3 L345.8,414.3 L346.2,414.4 L346.8,414.4 L347.2,414.4 L347.8,414.4 L348.2,414.5 L348.5,414.5 L349.0,414.7 L349.4,414.8 L349.8,414.8 L350.2,415.0 L350.5,415.1 L351.0,415.2 L351.2,415.3 L351.8,415.4 L352.1,415.5 L352.5,415.6 L352.8,415.8 L353.2,415.9 L353.6,416.0 L354.0,416.1 L354.5,416.1 L355.0,416.1 L355.5,416.1 L356.0,416.2 L356.2,416.3 L356.8,416.4 L357.1,416.5 L357.5,416.6 L357.9,416.8 L358.2,416.8 L358.8,417.0 L359.0,417.0 L359.5,417.1 L359.9,417.2 L360.2,417.4 L360.6,417.5 L361.0,417.8 L361.2,417.9 L361.5,418.2 L361.6,418.5 L361.7,419.0 L361.8,419.3 L361.8,419.6 L361.7,420.0 L361.5,420.4 L361.3,420.8 L361.1,421.0 L360.9,421.2 L360.5,421.5 L360.2,421.6 L359.8,421.8 L359.5,421.8 L359.0,422.0 L358.8,422.0 L358.2,422.1 L357.8,422.2 L357.5,422.3 L357.0,422.5 L356.8,422.6 L356.2,422.7 L355.8,422.8 L355.5,422.8 L355.0,422.9 L354.5,422.9 L354.0,422.9 L353.5,423.0 L353.2,423.0 L352.8,423.0 L352.5,423.0 L352.0,423.0 L351.5,423.0 L351.2,423.0 L350.8,423.0 L350.2,423.1 L349.8,423.2 L349.2,423.2 L348.9,423.2 L348.5,423.3 L348.0,423.3 L347.5,423.4 L347.0,423.4 L346.5,423.4 L346.0,423.4 L345.5,423.4 L345.0,423.3 L344.5,423.3 L344.2,423.2 L343.8,423.1 L343.2,423.1 L342.8,423.1 L342.2,423.1 L341.8,423.1 L341.2,423.1 L340.8,423.1 L340.2,423.1 L339.8,423.2 L339.3,423.2 L339.0,423.3 L338.5,423.4 L338.0,423.5 L337.8,423.6 L337.2,423.7 L337.0,423.8 L336.6,424.0 L336.4,424.2 L336.2,424.5 L336.0,425.0 L336.0,425.2 L335.9,425.8 L335.8,426.2 L335.8,426.8 L335.8,427.2 L335.8,427.7 L335.7,428.0 L335.6,428.5 L335.5,429.0 L335.5,429.2 L335.4,429.8 L335.4,430.2 L335.3,430.8 L335.3,431.2 L335.3,431.8 L335.4,432.2 L335.3,432.8 L335.3,433.2 L335.3,433.8 L335.2,434.0 L335.2,434.5 L335.2,435.0 L335.2,435.5 L335.2,436.0 L335.2,436.4 L335.3,436.8 L335.2,437.0 L335.2,437.5 L335.1,438.0 L335.0,438.5 L335.0,438.8 L334.9,439.2 L334.8,439.7 L334.7,440.0 L334.6,440.5 L334.5,440.8 L334.4,441.2 L334.2,441.6 L334.0,442.0 L333.8,442.2 L333.5,442.4 L333.2,442.6 L333.0,442.8 L332.6,443.0 L332.3,443.2 L332.0,443.4 L331.8,443.7 L331.5,444.0 L331.3,444.2 L331.0,444.4 L330.8,444.6Z" fill="#909090" stroke="#2a2a2a" stroke-width="0.45" fill-rule="evenodd"/>
<path d="M330.2,443.0 L330.0,443.0 L329.5,442.9 L329.2,442.8 L328.9,442.5 L328.7,442.2 L328.5,442.0 L328.3,441.5 L328.0,441.2 L327.8,441.0 L327.6,440.8 L327.5,440.4 L327.3,440.0 L327.2,439.8 L327.1,439.2 L327.0,438.9 L326.8,438.5 L326.7,438.2 L326.6,437.8 L326.5,437.3 L326.5,437.0 L326.4,436.5 L326.5,436.0 L326.5,435.8 L326.6,435.2 L326.7,434.8 L326.7,434.2 L326.8,434.0 L326.8,433.5 L326.9,433.0 L327.0,432.6 L327.1,432.2 L327.1,431.8 L327.2,431.2 L327.3,431.0 L327.2,430.8 L327.1,430.2 L327.1,429.8 L327.0,429.2 L327.0,429.0 L326.9,428.5 L327.0,428.0 L327.0,427.8 L327.1,427.2 L327.2,426.8 L327.2,426.3 L327.3,426.0 L327.4,425.5 L327.5,425.0 L327.5,424.8 L327.6,424.2 L327.6,423.8 L327.5,423.2 L327.5,423.0 L327.4,422.5 L327.3,422.0 L327.2,421.8 L327.0,421.2 L326.9,421.0 L326.8,420.6 L326.6,420.2 L326.5,419.8 L326.5,419.5 L326.4,419.0 L326.4,418.5 L326.4,418.0 L326.3,417.5 L326.3,417.0 L326.3,416.5 L326.5,416.0 L326.5,415.8 L326.8,415.3 L326.9,415.0 L327.1,414.8 L327.3,414.5 L327.6,414.2 L328.0,414.0 L328.2,413.8 L328.5,413.7 L329.0,413.5 L329.2,413.5 L329.8,413.3 L330.2,413.3 L330.5,413.2 L331.0,413.2 L331.5,413.1 L332.0,413.1 L332.5,413.1 L333.0,413.1 L333.5,413.2 L333.8,413.3 L334.2,413.4 L334.8,413.5 L335.0,413.5 L335.5,413.6 L336.0,413.6 L336.5,413.6 L337.0,413.6 L337.5,413.7 L338.0,413.8 L338.2,413.8 L338.8,413.9 L339.2,413.9 L339.8,413.9 L340.2,414.0 L340.5,414.0 L341.0,414.1 L341.3,414.2 L341.8,414.4 L342.0,414.5 L342.5,414.7 L342.8,414.8 L343.2,414.8 L343.8,414.9 L344.1,415.0 L344.5,415.1 L345.0,415.1 L345.5,415.2 L346.0,415.2 L346.2,415.3 L346.8,415.3 L347.2,415.3 L347.8,415.3 L348.2,415.4 L348.8,415.5 L349.0,415.5 L349.5,415.6 L350.0,415.7 L350.2,415.8 L350.8,415.9 L351.0,416.0 L351.5,416.1 L351.8,416.2 L352.2,416.4 L352.5,416.5 L353.0,416.7 L353.2,416.8 L353.8,416.9 L354.0,417.0 L354.5,417.0 L354.8,417.0 L355.2,416.9 L355.8,417.0 L356.0,417.0 L356.5,417.1 L356.8,417.2 L357.2,417.4 L357.5,417.5 L358.0,417.7 L358.2,417.8 L358.8,418.0 L359.0,418.0 L359.5,418.2 L359.8,418.3 L360.2,418.5 L360.4,418.8 L360.5,419.0 L360.6,419.5 L360.5,420.0 L360.3,420.2 L360.1,420.5 L359.8,420.8 L359.5,420.9 L359.0,421.0 L358.8,421.1 L358.2,421.2 L358.0,421.3 L357.5,421.5 L357.2,421.5 L356.8,421.7 L356.5,421.8 L356.0,421.9 L355.7,422.0 L355.2,422.1 L354.8,422.1 L354.2,422.2 L353.8,422.2 L353.2,422.2 L352.8,422.2 L352.2,422.2 L351.8,422.2 L351.2,422.2 L350.8,422.2 L350.5,422.3 L350.0,422.3 L349.5,422.4 L349.0,422.4 L348.5,422.4 L348.0,422.5 L347.5,422.5 L347.1,422.5 L346.8,422.5 L346.2,422.5 L345.8,422.5 L345.5,422.5 L345.0,422.5 L344.5,422.4 L344.0,422.3 L343.5,422.2 L343.2,422.2 L342.8,422.2 L342.2,422.2 L341.8,422.2 L341.2,422.2 L340.8,422.2 L340.2,422.2 L339.8,422.2 L339.5,422.3 L339.0,422.3 L338.5,422.4 L338.2,422.5 L337.8,422.6 L337.2,422.6 L336.8,422.7 L336.4,422.8 L336.0,422.9 L335.8,423.1 L335.5,423.3 L335.2,423.6 L335.0,424.0 L334.9,424.2 L334.9,424.8 L334.8,425.2 L334.8,425.8 L334.8,426.2 L334.8,426.8 L334.9,427.2 L334.9,427.8 L334.8,428.2 L334.7,428.5 L334.7,429.0 L334.6,429.5 L334.5,430.0 L334.5,430.2 L334.4,430.8 L334.4,431.2 L334.5,431.8 L334.5,432.0 L334.5,432.5 L334.5,433.0 L334.5,433.4 L334.4,433.8 L334.3,434.2 L334.3,434.8 L334.4,435.2 L334.4,435.8 L334.4,436.2 L334.5,436.8 L334.4,437.2 L334.3,437.8 L334.2,438.1 L334.1,438.5 L334.0,438.9 L333.9,439.2 L333.8,439.8 L333.7,440.0 L333.6,440.5 L333.5,440.8 L333.2,441.2 L333.0,441.4 L332.8,441.6 L332.5,441.8 L332.0,442.0 L331.8,442.1 L331.5,442.3 L331.2,442.5 L330.8,442.8 L330.5,443.0 L330.2,443.0Z" fill="#a2a2a2" stroke="#2a2a2a" stroke-width="0.45" fill-rule="evenodd"/>
<path d="M330.8,441.5 L330.2,441.5 L330.0,441.5 L329.5,441.2 L329.2,441.1 L329.0,440.8 L328.8,440.5 L328.6,440.2 L328.5,440.0 L328.2,439.6 L328.1,439.2 L327.9,439.0 L327.8,438.5 L327.6,438.2 L327.5,437.8 L327.4,437.5 L327.3,437.0 L327.2,436.8 L327.3,436.5 L327.3,436.0 L327.4,435.5 L327.5,435.0 L327.5,434.8 L327.6,434.2 L327.7,433.8 L327.8,433.5 L327.9,433.0 L328.0,432.7 L328.2,432.2 L328.3,432.0 L328.3,431.5 L328.4,431.0 L328.3,430.5 L328.2,430.2 L328.1,429.8 L328.0,429.2 L328.0,429.0 L327.9,428.5 L328.0,428.2 L328.1,427.8 L328.2,427.3 L328.3,427.0 L328.4,426.5 L328.5,426.0 L328.5,425.8 L328.6,425.2 L328.6,424.8 L328.6,424.2 L328.6,423.8 L328.5,423.4 L328.4,423.0 L328.3,422.5 L328.2,422.2 L328.1,421.8 L328.0,421.3 L327.9,421.0 L327.8,420.5 L327.7,420.2 L327.5,419.8 L327.5,419.5 L327.4,419.0 L327.3,418.5 L327.3,418.0 L327.2,417.8 L327.1,417.2 L327.1,416.8 L327.2,416.2 L327.3,416.0 L327.5,415.6 L327.8,415.3 L328.0,415.1 L328.2,414.8 L328.5,414.7 L329.0,414.5 L329.2,414.5 L329.8,414.4 L330.2,414.3 L330.6,414.2 L331.0,414.2 L331.5,414.1 L332.0,414.1 L332.4,414.0 L332.8,414.0 L333.2,414.0 L333.5,414.0 L334.0,414.1 L334.5,414.2 L334.8,414.3 L335.2,414.3 L335.8,414.4 L336.2,414.5 L336.5,414.5 L337.0,414.6 L337.4,414.8 L337.8,414.9 L338.2,414.9 L338.8,414.9 L339.2,414.9 L339.8,414.9 L340.2,415.0 L340.5,415.0 L341.0,415.2 L341.2,415.3 L341.8,415.5 L342.0,415.6 L342.5,415.8 L342.8,415.8 L343.2,415.9 L343.8,416.0 L344.0,416.0 L344.5,416.1 L345.0,416.1 L345.5,416.2 L346.0,416.2 L346.2,416.2 L346.5,416.2 L347.0,416.2 L347.5,416.2 L347.8,416.3 L348.2,416.3 L348.8,416.3 L349.2,416.4 L349.8,416.5 L350.0,416.5 L350.5,416.7 L350.8,416.8 L351.2,416.9 L351.5,417.0 L352.0,417.2 L352.2,417.3 L352.8,417.5 L353.0,417.6 L353.5,417.7 L353.9,417.8 L354.2,417.8 L354.8,417.8 L355.2,417.9 L355.7,418.0 L356.0,418.2 L356.2,418.4 L356.5,418.5 L356.8,418.9 L356.8,419.2 L356.9,419.8 L356.8,420.0 L356.5,420.3 L356.2,420.5 L356.0,420.8 L355.6,421.0 L355.2,421.1 L354.8,421.2 L354.5,421.3 L354.0,421.3 L353.5,421.4 L353.0,421.4 L352.5,421.4 L352.0,421.4 L351.5,421.4 L351.0,421.4 L350.5,421.4 L350.0,421.5 L349.8,421.5 L349.2,421.5 L348.8,421.5 L348.5,421.5 L348.2,421.5 L347.8,421.5 L347.2,421.6 L346.8,421.6 L346.2,421.6 L345.8,421.6 L345.2,421.6 L344.8,421.5 L344.5,421.5 L344.0,421.4 L343.5,421.4 L343.0,421.3 L342.5,421.3 L342.0,421.3 L341.5,421.3 L341.0,421.3 L340.7,421.2 L340.2,421.2 L339.8,421.2 L339.2,421.2 L338.8,421.2 L338.5,421.3 L338.0,421.4 L337.8,421.5 L337.2,421.6 L336.8,421.7 L336.5,421.8 L336.0,421.9 L335.7,422.0 L335.2,422.2 L335.0,422.3 L334.6,422.5 L334.2,422.7 L334.1,423.0 L333.9,423.2 L333.8,423.8 L333.7,424.0 L333.6,424.5 L333.6,425.0 L333.6,425.5 L333.7,426.0 L333.7,426.5 L333.8,426.8 L333.9,427.2 L333.9,427.8 L333.9,428.2 L333.8,428.8 L333.8,429.1 L333.7,429.5 L333.7,430.0 L333.6,430.5 L333.6,431.0 L333.6,431.5 L333.7,432.0 L333.7,432.5 L333.6,433.0 L333.6,433.5 L333.5,433.8 L333.3,434.2 L333.4,434.8 L333.5,435.2 L333.5,435.5 L333.6,436.0 L333.7,436.5 L333.7,437.0 L333.6,437.5 L333.5,438.0 L333.4,438.2 L333.3,438.8 L333.2,439.0 L333.0,439.5 L332.9,439.8 L332.8,440.1 L332.5,440.5 L332.2,440.7 L332.0,440.9 L331.8,441.0 L331.4,441.2 L331.0,441.4 L330.8,441.5Z" fill="#b4b4b4" stroke="#2a2a2a" stroke-width="0.45" fill-rule="evenodd"/>
<path d="M331.0,440.3 L330.5,440.4 L330.1,440.2 L329.8,440.0 L329.5,439.8 L329.3,439.5 L329.2,439.2 L329.0,439.0 L328.8,438.5 L328.6,438.2 L328.5,437.9 L328.4,437.5 L328.4,437.0 L328.4,436.5 L328.5,436.2 L328.6,435.8 L328.7,435.2 L328.7,434.8 L328.7,434.2 L328.8,433.8 L328.8,433.5 L328.9,433.0 L329.0,432.8 L329.2,432.3 L329.4,432.0 L329.5,431.5 L329.6,431.2 L329.6,430.8 L329.6,430.2 L329.6,429.8 L329.4,429.5 L329.2,429.2 L329.0,428.8 L329.0,428.5 L329.0,428.1 L329.0,427.8 L329.1,427.2 L329.2,426.8 L329.2,426.3 L329.4,426.0 L329.5,425.7 L329.7,425.2 L329.9,425.0 L330.0,424.5 L330.0,424.2 L330.1,423.8 L330.0,423.3 L329.9,423.0 L329.7,422.8 L329.6,422.2 L329.5,422.0 L329.3,421.5 L329.2,421.2 L329.1,420.8 L329.0,420.5 L328.8,420.0 L328.6,419.8 L328.5,419.3 L328.4,419.0 L328.3,418.5 L328.3,418.0 L328.2,417.8 L328.2,417.2 L328.2,416.9 L328.3,416.5 L328.5,416.2 L328.8,415.8 L329.0,415.7 L329.5,415.5 L329.8,415.5 L330.2,415.4 L330.8,415.3 L331.0,415.2 L331.5,415.2 L332.0,415.1 L332.3,415.0 L332.8,414.9 L333.2,414.9 L333.6,415.0 L334.0,415.1 L334.5,415.2 L335.0,415.2 L335.2,415.3 L335.8,415.4 L336.2,415.4 L336.7,415.5 L337.0,415.6 L337.4,415.8 L337.8,415.8 L338.2,415.8 L338.8,415.8 L339.2,415.8 L339.8,415.8 L340.2,415.9 L340.5,416.0 L340.9,416.2 L341.2,416.5 L341.5,416.6 L341.8,416.8 L342.2,416.9 L342.5,417.0 L343.0,417.1 L343.5,417.2 L343.9,417.2 L344.2,417.3 L344.8,417.4 L345.2,417.4 L345.6,417.5 L346.0,417.6 L346.3,417.5 L346.8,417.4 L347.2,417.4 L347.8,417.3 L348.0,417.2 L348.5,417.2 L349.0,417.2 L349.2,417.3 L349.8,417.4 L350.2,417.5 L350.5,417.6 L350.9,417.8 L351.2,417.9 L351.5,418.0 L352.0,418.2 L352.2,418.3 L352.7,418.5 L353.0,418.6 L353.2,418.8 L353.6,419.0 L353.8,419.2 L353.8,419.7 L353.5,420.0 L353.2,420.2 L353.0,420.3 L352.5,420.4 L352.0,420.4 L351.5,420.5 L351.2,420.5 L350.8,420.5 L350.2,420.5 L349.8,420.5 L349.2,420.5 L348.8,420.5 L348.2,420.5 L347.8,420.6 L347.2,420.6 L346.8,420.7 L346.2,420.7 L345.8,420.7 L345.2,420.7 L344.8,420.6 L344.4,420.5 L344.0,420.3 L343.8,420.2 L343.3,420.0 L343.0,419.9 L342.5,419.8 L342.2,419.7 L341.8,419.7 L341.5,419.8 L341.0,419.8 L340.5,419.9 L340.0,419.9 L339.5,419.9 L339.0,419.9 L338.7,420.0 L338.2,420.2 L337.9,420.2 L337.5,420.4 L337.0,420.5 L336.8,420.5 L336.2,420.7 L336.0,420.8 L335.5,421.0 L335.2,421.1 L334.8,421.2 L334.5,421.4 L334.2,421.5 L333.8,421.7 L333.5,421.9 L333.2,422.1 L333.0,422.4 L332.8,422.6 L332.5,423.0 L332.4,423.2 L332.3,423.8 L332.2,424.0 L332.1,424.5 L332.0,425.0 L332.0,425.0 L332.1,425.5 L332.2,425.8 L332.3,426.2 L332.5,426.7 L332.6,427.0 L332.7,427.5 L332.7,428.0 L332.8,428.2 L332.8,428.8 L332.8,429.0 L332.7,429.5 L332.7,430.0 L332.7,430.5 L332.7,431.0 L332.6,431.5 L332.7,432.0 L332.6,432.5 L332.5,433.0 L332.5,433.4 L332.4,433.8 L332.3,434.2 L332.2,434.5 L332.3,434.8 L332.4,435.2 L332.5,435.6 L332.7,436.0 L332.8,436.3 L332.9,436.8 L332.8,437.2 L332.8,437.6 L332.7,438.0 L332.5,438.4 L332.4,438.8 L332.2,439.0 L332.0,439.4 L331.8,439.8 L331.5,440.0 L331.2,440.2 L331.0,440.3Z" fill="#c8c8c8" stroke="#2a2a2a" stroke-width="0.45" fill-rule="evenodd"/>
<path d="M332.8,421.0 L332.2,421.1 L331.8,421.1 L331.5,421.0 L331.1,420.8 L330.9,420.5 L330.7,420.2 L330.5,420.0 L330.2,419.7 L330.0,419.2 L330.0,419.0 L329.9,418.5 L330.0,418.0 L330.0,417.8 L330.2,417.4 L330.5,417.2 L330.8,417.0 L331.1,416.8 L331.4,416.5 L331.8,416.4 L332.1,416.2 L332.5,416.1 L333.0,416.0 L333.5,416.2 L333.8,416.3 L334.0,416.5 L334.5,416.6 L335.0,416.5 L335.2,416.5 L335.8,416.4 L336.2,416.3 L336.8,416.3 L337.2,416.5 L337.5,416.5 L338.0,416.6 L338.5,416.6 L339.0,416.6 L339.5,416.6 L340.0,416.7 L340.2,416.9 L340.5,417.2 L340.6,417.5 L340.6,418.0 L340.5,418.3 L340.2,418.5 L339.8,418.8 L339.5,418.8 L339.0,418.9 L338.8,419.0 L338.2,419.2 L338.0,419.3 L337.5,419.4 L337.0,419.4 L336.5,419.4 L336.0,419.4 L335.5,419.4 L335.2,419.5 L334.9,419.8 L334.6,420.0 L334.2,420.2 L334.0,420.4 L333.8,420.6 L333.5,420.8 L333.0,421.0 L332.8,421.0ZM331.0,428.3 L330.8,428.2 L330.3,428.0 L330.2,427.8 L330.1,427.2 L330.2,426.8 L330.3,426.5 L330.5,426.2 L330.9,426.2 L331.0,426.5 L331.2,427.0 L331.4,427.2 L331.4,427.8 L331.2,428.1 L331.0,428.3ZM330.5,435.1 L330.3,434.8 L330.2,434.5 L330.1,434.0 L330.0,433.6 L330.0,433.2 L330.2,433.0 L330.5,432.9 L331.0,433.0 L331.2,433.2 L331.0,433.8 L330.9,434.0 L330.8,434.5 L330.8,434.8 L330.5,435.1ZM331.2,437.8 L330.8,437.8 L330.5,437.5 L330.5,437.2 L330.7,437.0 L330.8,436.8 L331.0,436.4 L331.2,436.7 L331.4,437.0 L331.3,437.5 L331.2,437.8Z" fill="#dcdcdc" stroke="#2a2a2a" stroke-width="0.45" fill-rule="evenodd"/>
<path d="M338.0,418.3 L337.5,418.5 L337.0,418.4 L336.5,418.4 L336.2,418.2 L335.9,418.0 L336.0,417.8 L336.2,417.4 L336.5,417.2 L336.9,417.2 L337.2,417.3 L337.8,417.4 L338.0,417.5 L338.3,417.8 L338.2,418.2 L338.0,418.3ZM333.0,420.1 L332.5,420.1 L332.0,420.1 L331.7,420.0 L331.5,419.8 L331.2,419.5 L331.1,419.0 L331.1,418.5 L331.2,418.1 L331.5,417.8 L331.8,417.6 L332.0,417.5 L332.5,417.3 L333.0,417.3 L333.3,417.5 L333.7,417.8 L333.9,418.0 L333.9,418.5 L333.8,419.0 L333.7,419.2 L333.5,419.6 L333.2,419.8 L333.0,420.1Z" fill="#f0f0f0" stroke="#2a2a2a" stroke-width="0.45" fill-rule="evenodd"/>
</g>
<clipPath id="dc10"><rect x="325.6" y="445.3" width="56.7" height="45"/></clipPath>
<g clip-path="url(#dc10)">
<path d="M333.2,491.6 L332.8,491.7 L332.2,491.6 L331.8,491.6 L331.2,491.5 L331.0,491.5 L330.5,491.4 L330.0,491.3 L329.8,491.2 L329.3,491.0 L329.0,490.9 L328.8,490.7 L328.5,490.5 L328.1,490.2 L327.8,490.0 L327.5,489.8 L327.3,489.5 L327.0,489.2 L326.8,489.0 L326.6,488.8 L326.4,488.5 L326.2,488.2 L326.0,487.9 L325.8,487.5 L325.6,487.2 L325.5,487.0 L325.3,486.5 L325.2,486.2 L325.0,485.8 L324.9,485.5 L324.8,485.0 L324.7,484.8 L324.6,484.2 L324.6,483.8 L324.6,483.2 L324.6,482.8 L324.5,482.2 L324.5,482.0 L324.5,481.5 L324.5,481.0 L324.5,480.6 L324.5,480.2 L324.6,479.8 L324.6,479.2 L324.7,478.8 L324.8,478.5 L324.9,478.0 L325.0,477.6 L325.1,477.2 L325.2,476.9 L325.3,476.5 L325.4,476.0 L325.5,475.6 L325.6,475.2 L325.6,474.8 L325.7,474.2 L325.8,473.9 L325.8,473.5 L325.9,473.0 L325.9,472.5 L326.0,472.0 L326.0,471.8 L326.1,471.2 L326.2,470.8 L326.2,470.2 L326.2,469.8 L326.3,469.5 L326.4,469.0 L326.4,468.5 L326.5,468.0 L326.5,467.8 L326.5,467.2 L326.5,466.8 L326.5,466.5 L326.4,466.0 L326.3,465.5 L326.2,465.1 L326.1,464.8 L326.0,464.4 L325.9,464.0 L325.8,463.6 L325.7,463.2 L325.6,462.8 L325.5,462.2 L325.5,462.0 L325.4,461.5 L325.4,461.0 L325.4,460.5 L325.5,460.0 L325.5,459.8 L325.6,459.2 L325.8,458.9 L325.9,458.5 L326.0,458.2 L326.2,457.8 L326.4,457.5 L326.5,457.2 L326.8,457.0 L327.0,456.6 L327.2,456.3 L327.4,456.0 L327.6,455.8 L327.8,455.5 L328.1,455.2 L328.4,455.0 L328.8,454.8 L329.0,454.6 L329.2,454.5 L329.8,454.3 L330.0,454.1 L330.3,454.0 L330.8,453.8 L331.0,453.6 L331.3,453.5 L331.8,453.3 L332.0,453.2 L332.5,453.1 L333.0,453.1 L333.5,453.0 L333.8,453.0 L334.2,453.0 L334.8,453.0 L335.2,453.0 L335.5,453.0 L336.0,453.0 L336.5,453.1 L337.0,453.1 L337.5,453.1 L338.0,453.1 L338.5,453.1 L339.0,453.1 L339.5,453.0 L340.0,453.0 L340.5,453.1 L341.0,453.1 L341.5,453.2 L341.8,453.3 L342.2,453.4 L342.5,453.5 L343.0,453.7 L343.2,453.8 L343.6,454.0 L344.0,454.2 L344.2,454.4 L344.5,454.5 L344.9,454.8 L345.2,455.0 L345.5,455.1 L345.8,455.3 L346.1,455.5 L346.3,455.8 L346.6,456.0 L346.8,456.2 L347.0,456.5 L347.2,457.0 L347.4,457.2 L347.5,457.6 L347.6,458.0 L347.7,458.5 L347.8,458.8 L347.8,459.2 L347.8,459.8 L347.8,460.1 L347.7,460.5 L347.5,461.0 L347.5,461.2 L347.2,461.7 L347.0,462.0 L346.9,462.2 L346.6,462.5 L346.4,462.8 L346.1,463.0 L345.8,463.2 L345.5,463.5 L345.2,463.6 L344.9,463.8 L344.5,463.9 L344.2,464.0 L343.8,464.2 L343.5,464.4 L343.2,464.5 L342.9,464.8 L342.6,465.0 L342.4,465.2 L342.1,465.5 L341.9,465.8 L341.7,466.0 L341.5,466.2 L341.2,466.5 L341.0,466.8 L340.8,467.1 L340.5,467.3 L340.2,467.6 L340.0,467.9 L339.8,468.2 L339.5,468.5 L339.3,468.8 L339.1,469.0 L338.9,469.2 L338.8,469.6 L338.5,470.0 L338.5,470.2 L338.3,470.8 L338.2,471.2 L338.2,471.5 L338.2,472.0 L338.2,472.5 L338.2,473.0 L338.2,473.5 L338.2,473.8 L338.3,474.2 L338.4,474.8 L338.5,475.1 L338.6,475.5 L338.8,475.9 L338.9,476.2 L339.1,476.5 L339.3,476.8 L339.5,477.1 L339.8,477.5 L339.9,477.8 L340.1,478.0 L340.2,478.4 L340.4,478.8 L340.5,479.2 L340.5,479.5 L340.6,480.0 L340.6,480.5 L340.6,481.0 L340.6,481.5 L340.6,482.0 L340.6,482.5 L340.5,483.0 L340.5,483.5 L340.5,483.8 L340.4,484.2 L340.3,484.8 L340.2,485.2 L340.2,485.5 L340.0,486.0 L339.9,486.2 L339.8,486.7 L339.6,487.0 L339.5,487.2 L339.2,487.6 L339.0,488.0 L338.8,488.2 L338.6,488.5 L338.3,488.8 L338.1,489.0 L337.8,489.2 L337.5,489.5 L337.2,489.7 L337.0,489.9 L336.8,490.1 L336.5,490.3 L336.1,490.5 L335.8,490.7 L335.5,490.8 L335.0,490.9 L334.7,491.0 L334.2,491.2 L334.0,491.3 L333.5,491.5 L333.2,491.6Z" fill="#707070" stroke="#2a2a2a" stroke-width="0.45" fill-rule="evenodd"/>
<path d="M333.0,490.3 L332.5,490.3 L332.0,490.3 L331.5,490.4 L331.0,490.4 L330.5,490.3 L330.2,490.2 L329.8,490.1 L329.5,490.0 L329.1,489.8 L328.8,489.5 L328.5,489.3 L328.2,489.1 L328.0,488.9 L327.8,488.6 L327.5,488.3 L327.2,488.0 L327.0,487.8 L326.9,487.5 L326.7,487.2 L326.5,486.8 L326.4,486.5 L326.2,486.2 L326.0,485.8 L325.8,485.5 L325.7,485.2 L325.6,484.8 L325.5,484.2 L325.5,484.0 L325.4,483.5 L325.4,483.0 L325.3,482.5 L325.3,482.0 L325.3,481.5 L325.3,481.0 L325.3,480.5 L325.4,480.0 L325.5,479.5 L325.5,479.2 L325.7,478.8 L325.8,478.5 L326.0,478.0 L326.1,477.8 L326.2,477.3 L326.4,477.0 L326.5,476.5 L326.5,476.1 L326.5,475.8 L326.6,475.2 L326.6,474.8 L326.6,474.2 L326.6,473.8 L326.7,473.2 L326.7,472.8 L326.8,472.5 L326.8,472.0 L326.9,471.5 L327.0,471.0 L327.0,470.8 L327.1,470.2 L327.1,469.8 L327.2,469.3 L327.3,469.0 L327.4,468.5 L327.5,468.1 L327.5,467.8 L327.6,467.2 L327.5,466.8 L327.5,466.5 L327.4,466.0 L327.3,465.5 L327.2,465.2 L327.1,464.8 L327.0,464.4 L326.9,464.0 L326.8,463.5 L326.7,463.2 L326.6,462.8 L326.5,462.2 L326.5,462.0 L326.4,461.5 L326.4,461.0 L326.4,460.5 L326.5,460.0 L326.5,459.8 L326.7,459.2 L326.8,459.0 L326.9,458.5 L327.1,458.2 L327.2,457.9 L327.5,457.6 L327.7,457.2 L327.9,457.0 L328.1,456.8 L328.3,456.5 L328.5,456.2 L328.8,456.0 L329.1,455.8 L329.5,455.5 L329.8,455.4 L330.0,455.2 L330.5,455.0 L330.8,454.9 L331.0,454.7 L331.4,454.5 L331.8,454.3 L332.0,454.2 L332.5,454.1 L333.0,454.0 L333.2,454.0 L333.8,453.9 L334.2,453.9 L334.8,453.9 L335.2,453.9 L335.8,453.9 L336.2,453.9 L336.8,453.9 L337.2,454.0 L337.6,454.0 L337.9,454.0 L338.2,454.0 L338.8,454.0 L339.2,453.9 L339.8,453.9 L340.2,453.9 L340.8,453.9 L341.2,454.0 L341.5,454.0 L342.0,454.2 L342.2,454.3 L342.8,454.5 L343.0,454.6 L343.3,454.8 L343.8,455.0 L344.0,455.1 L344.2,455.3 L344.7,455.5 L345.0,455.7 L345.2,455.8 L345.6,456.0 L345.9,456.2 L346.2,456.5 L346.4,456.8 L346.6,457.0 L346.8,457.3 L347.0,457.8 L347.1,458.0 L347.2,458.5 L347.2,459.0 L347.3,459.2 L347.2,459.5 L347.2,460.0 L347.1,460.5 L347.0,460.8 L346.8,461.2 L346.6,461.5 L346.4,461.8 L346.2,462.0 L346.0,462.2 L345.7,462.5 L345.3,462.8 L345.0,462.9 L344.7,463.0 L344.2,463.2 L344.0,463.3 L343.6,463.5 L343.2,463.6 L343.0,463.8 L342.6,464.0 L342.2,464.2 L342.0,464.4 L341.8,464.6 L341.5,464.8 L341.2,465.1 L341.0,465.4 L340.8,465.6 L340.5,465.9 L340.2,466.1 L340.0,466.4 L339.8,466.6 L339.5,466.9 L339.2,467.1 L339.0,467.4 L338.8,467.7 L338.5,468.0 L338.4,468.2 L338.2,468.5 L338.0,468.9 L337.8,469.2 L337.7,469.5 L337.5,470.0 L337.5,470.2 L337.4,470.8 L337.3,471.2 L337.3,471.8 L337.3,472.2 L337.3,472.8 L337.3,473.2 L337.4,473.8 L337.4,474.2 L337.5,474.5 L337.6,475.0 L337.7,475.5 L337.8,475.8 L338.0,476.2 L338.1,476.5 L338.2,476.9 L338.4,477.2 L338.5,477.5 L338.8,477.9 L338.9,478.2 L339.1,478.5 L339.2,478.9 L339.4,479.2 L339.5,479.7 L339.6,480.0 L339.6,480.5 L339.7,481.0 L339.7,481.5 L339.7,482.0 L339.6,482.5 L339.5,482.8 L339.4,483.2 L339.4,483.8 L339.3,484.2 L339.3,484.8 L339.2,485.2 L339.2,485.5 L339.0,486.0 L339.0,486.2 L338.8,486.7 L338.6,487.0 L338.4,487.2 L338.2,487.5 L338.0,487.9 L337.8,488.1 L337.5,488.4 L337.2,488.6 L337.0,488.8 L336.8,489.0 L336.4,489.2 L336.0,489.5 L335.8,489.6 L335.4,489.8 L335.0,489.9 L334.5,490.0 L334.2,490.0 L333.8,490.1 L333.2,490.2 L333.0,490.3Z" fill="#808080" stroke="#2a2a2a" stroke-width="0.45" fill-rule="evenodd"/>
<path d="M333.8,489.0 L333.2,489.0 L332.8,489.0 L332.2,489.1 L331.8,489.0 L331.2,489.1 L330.8,489.1 L330.2,489.0 L330.0,488.9 L329.5,488.8 L329.2,488.6 L329.0,488.5 L328.7,488.2 L328.4,488.0 L328.1,487.8 L327.9,487.5 L327.8,487.2 L327.5,486.8 L327.4,486.5 L327.2,486.2 L327.0,485.9 L326.8,485.5 L326.6,485.2 L326.5,484.9 L326.4,484.5 L326.2,484.1 L326.2,483.8 L326.1,483.2 L326.1,482.8 L326.0,482.2 L326.0,481.8 L326.0,481.2 L326.0,480.8 L326.1,480.2 L326.2,479.8 L326.2,479.5 L326.4,479.0 L326.5,478.8 L326.8,478.3 L326.9,478.0 L327.1,477.8 L327.2,477.3 L327.4,477.0 L327.5,476.5 L327.5,476.2 L327.5,475.8 L327.6,475.2 L327.6,474.8 L327.5,474.2 L327.5,473.8 L327.5,473.2 L327.5,472.8 L327.6,472.2 L327.6,471.8 L327.7,471.2 L327.8,470.9 L327.8,470.5 L328.0,470.0 L328.0,469.8 L328.2,469.2 L328.3,469.0 L328.4,468.5 L328.5,468.0 L328.5,467.8 L328.5,467.2 L328.5,466.8 L328.5,466.5 L328.4,466.0 L328.2,465.5 L328.2,465.2 L328.0,464.8 L328.0,464.5 L327.8,464.0 L327.8,463.7 L327.6,463.2 L327.6,462.8 L327.5,462.5 L327.4,462.0 L327.3,461.5 L327.3,461.0 L327.3,460.5 L327.4,460.0 L327.5,459.6 L327.6,459.2 L327.8,459.0 L328.0,458.6 L328.2,458.2 L328.4,458.0 L328.6,457.8 L328.8,457.5 L329.0,457.2 L329.2,456.9 L329.5,456.6 L329.8,456.4 L330.0,456.2 L330.5,456.0 L330.8,455.8 L331.0,455.7 L331.3,455.5 L331.7,455.2 L332.0,455.2 L332.5,455.0 L332.8,455.0 L333.2,454.9 L333.8,454.9 L334.2,454.8 L334.8,454.8 L335.0,454.7 L335.5,454.7 L336.0,454.7 L336.5,454.7 L337.0,454.7 L337.5,454.7 L338.0,454.7 L338.5,454.7 L338.8,454.8 L339.0,454.7 L339.5,454.7 L340.0,454.7 L340.5,454.7 L341.0,454.8 L341.2,454.8 L341.8,454.9 L342.0,455.0 L342.5,455.2 L342.8,455.3 L343.1,455.5 L343.5,455.7 L343.8,455.8 L344.1,456.0 L344.5,456.2 L344.8,456.4 L345.0,456.5 L345.5,456.8 L345.8,457.0 L346.0,457.2 L346.2,457.5 L346.4,457.8 L346.5,458.1 L346.6,458.5 L346.7,459.0 L346.7,459.5 L346.6,460.0 L346.5,460.5 L346.4,460.8 L346.2,461.0 L346.0,461.3 L345.8,461.6 L345.5,461.8 L345.2,462.0 L344.8,462.2 L344.5,462.3 L344.2,462.5 L343.8,462.7 L343.5,462.8 L343.0,463.0 L342.8,463.1 L342.5,463.2 L342.0,463.5 L341.8,463.6 L341.5,463.8 L341.2,464.0 L341.0,464.2 L340.7,464.5 L340.5,464.8 L340.2,465.0 L340.0,465.3 L339.7,465.5 L339.3,465.8 L339.0,466.0 L338.8,466.2 L338.5,466.4 L338.2,466.7 L338.0,467.0 L337.8,467.2 L337.6,467.5 L337.5,467.8 L337.2,468.0 L337.0,468.5 L336.8,468.8 L336.7,469.0 L336.6,469.5 L336.5,470.0 L336.5,470.5 L336.6,471.0 L336.6,471.5 L336.6,472.0 L336.6,472.5 L336.6,473.0 L336.5,473.5 L336.5,474.0 L336.6,474.5 L336.7,475.0 L336.8,475.3 L336.9,475.8 L337.0,476.1 L337.2,476.5 L337.3,476.8 L337.5,477.2 L337.6,477.5 L337.8,477.9 L337.9,478.2 L338.0,478.5 L338.2,479.0 L338.3,479.2 L338.5,479.8 L338.6,480.0 L338.7,480.5 L338.8,480.8 L338.8,481.2 L338.8,481.8 L338.8,482.1 L338.7,482.5 L338.6,483.0 L338.5,483.4 L338.5,483.8 L338.4,484.2 L338.4,484.8 L338.3,485.2 L338.2,485.5 L338.1,486.0 L338.0,486.2 L337.8,486.7 L337.5,487.0 L337.4,487.2 L337.2,487.5 L336.9,487.8 L336.6,488.0 L336.3,488.2 L336.0,488.4 L335.8,488.6 L335.4,488.8 L335.0,488.9 L334.5,489.0 L334.0,489.0 L333.8,489.0Z" fill="#909090" stroke="#2a2a2a" stroke-width="0.45" fill-rule="evenodd"/>
<path d="M333.5,488.0 L333.2,488.0 L332.8,488.0 L332.2,487.9 L331.8,487.8 L331.7,487.8 L331.2,487.8 L330.8,487.8 L330.3,487.8 L330.0,487.7 L329.5,487.5 L329.2,487.4 L329.0,487.1 L328.8,486.8 L328.6,486.5 L328.4,486.2 L328.2,486.0 L328.0,485.7 L327.8,485.3 L327.5,485.0 L327.4,484.8 L327.2,484.4 L327.1,484.0 L327.0,483.6 L326.9,483.2 L326.9,482.8 L326.8,482.2 L326.8,481.8 L326.8,481.2 L326.9,480.8 L326.9,480.2 L327.0,479.9 L327.1,479.5 L327.2,479.2 L327.5,478.8 L327.7,478.5 L327.8,478.2 L328.0,478.0 L328.2,477.5 L328.3,477.2 L328.5,476.9 L328.6,476.5 L328.7,476.0 L328.8,475.8 L328.8,475.2 L328.8,474.8 L328.8,474.5 L328.6,474.0 L328.5,473.5 L328.5,473.2 L328.5,472.8 L328.4,472.2 L328.5,471.8 L328.5,471.5 L328.6,471.0 L328.7,470.5 L328.8,470.2 L329.0,469.8 L329.1,469.5 L329.2,469.2 L329.5,468.8 L329.6,468.5 L329.7,468.0 L329.8,467.8 L329.8,467.2 L329.9,466.8 L330.0,466.2 L329.8,465.8 L329.6,465.5 L329.5,465.2 L329.2,464.8 L329.1,464.5 L329.0,464.2 L328.8,463.8 L328.8,463.5 L328.6,463.0 L328.5,462.6 L328.4,462.2 L328.3,461.8 L328.2,461.5 L328.2,461.0 L328.3,460.8 L328.3,460.2 L328.5,459.9 L328.7,459.5 L328.9,459.2 L329.2,459.0 L329.3,458.8 L329.5,458.5 L329.8,458.2 L330.0,457.9 L330.2,457.6 L330.5,457.3 L330.7,457.0 L331.0,456.8 L331.2,456.6 L331.5,456.4 L331.9,456.2 L332.2,456.1 L332.8,456.0 L333.0,456.0 L333.5,455.9 L334.0,455.9 L334.5,455.9 L335.0,455.8 L335.3,455.8 L335.8,455.7 L336.2,455.6 L336.8,455.5 L337.2,455.5 L337.5,455.5 L337.9,455.5 L338.2,455.5 L338.8,455.6 L339.2,455.6 L339.8,455.6 L340.2,455.7 L340.8,455.7 L341.2,455.8 L341.5,455.8 L342.0,456.0 L342.2,456.0 L342.7,456.2 L343.0,456.4 L343.2,456.6 L343.6,456.8 L344.0,456.9 L344.2,457.0 L344.7,457.2 L345.0,457.4 L345.2,457.6 L345.5,457.8 L345.8,458.1 L345.9,458.5 L346.0,458.8 L346.1,459.2 L346.0,459.8 L346.0,460.0 L345.8,460.5 L345.6,460.8 L345.3,461.0 L345.0,461.2 L344.8,461.3 L344.4,461.5 L344.0,461.7 L343.8,461.8 L343.4,462.0 L343.0,462.2 L342.8,462.3 L342.2,462.5 L342.0,462.6 L341.6,462.8 L341.2,462.9 L341.0,463.1 L340.8,463.3 L340.5,463.5 L340.2,463.8 L340.0,464.0 L339.7,464.2 L339.4,464.5 L339.0,464.8 L338.8,464.9 L338.5,465.1 L338.2,465.3 L338.0,465.5 L337.7,465.8 L337.4,466.0 L337.1,466.2 L336.9,466.5 L336.6,466.8 L336.4,467.0 L336.0,467.2 L335.8,467.5 L335.5,467.8 L335.4,468.0 L335.3,468.5 L335.3,469.0 L335.3,469.5 L335.4,470.0 L335.5,470.3 L335.6,470.8 L335.7,471.2 L335.8,471.6 L335.8,472.0 L335.8,472.5 L335.8,472.8 L335.7,473.2 L335.6,473.8 L335.5,474.2 L335.5,474.5 L335.5,474.9 L335.6,475.2 L335.7,475.8 L335.8,476.0 L336.0,476.4 L336.2,476.8 L336.3,477.0 L336.5,477.5 L336.6,477.8 L336.8,478.1 L336.9,478.5 L337.0,478.8 L337.1,479.2 L337.2,479.5 L337.5,480.0 L337.6,480.2 L337.7,480.8 L337.8,481.0 L337.9,481.5 L337.9,482.0 L337.9,482.5 L337.8,483.0 L337.7,483.2 L337.7,483.8 L337.6,484.2 L337.5,484.6 L337.4,485.0 L337.2,485.4 L337.1,485.8 L337.0,486.0 L336.8,486.3 L336.5,486.7 L336.2,486.9 L336.0,487.2 L335.8,487.3 L335.5,487.5 L335.0,487.7 L334.8,487.8 L334.2,487.9 L333.8,488.0 L333.5,488.0Z" fill="#a2a2a2" stroke="#2a2a2a" stroke-width="0.45" fill-rule="evenodd"/>
<path d="M334.0,487.0 L333.5,487.1 L333.0,487.1 L332.7,487.0 L332.2,486.9 L332.0,486.8 L331.5,486.6 L331.0,486.6 L330.5,486.5 L330.2,486.4 L329.8,486.2 L329.5,486.0 L329.3,485.8 L329.1,485.5 L328.9,485.2 L328.7,485.0 L328.5,484.7 L328.2,484.3 L328.1,484.0 L328.0,483.8 L327.8,483.2 L327.7,483.0 L327.7,482.5 L327.7,482.0 L327.7,481.5 L327.7,481.0 L327.8,480.6 L327.8,480.2 L328.0,479.8 L328.0,479.5 L328.2,479.1 L328.5,478.8 L328.7,478.5 L328.9,478.2 L329.1,478.0 L329.2,477.7 L329.5,477.3 L329.7,477.0 L329.8,476.8 L330.0,476.2 L330.0,476.0 L330.1,475.5 L330.0,475.0 L330.0,474.7 L329.8,474.2 L329.7,474.0 L329.5,473.5 L329.4,473.2 L329.3,472.8 L329.2,472.5 L329.2,472.0 L329.3,471.8 L329.3,471.2 L329.5,470.8 L329.6,470.5 L329.8,470.2 L330.0,469.9 L330.2,469.6 L330.5,469.3 L330.8,469.1 L331.0,468.8 L331.2,468.6 L331.5,468.2 L331.6,468.0 L331.8,467.7 L331.9,467.2 L331.8,466.8 L331.7,466.5 L331.5,466.1 L331.3,465.8 L331.1,465.5 L330.9,465.2 L330.8,465.0 L330.5,464.6 L330.2,464.3 L330.1,464.0 L329.9,463.8 L329.8,463.2 L329.7,463.0 L329.6,462.5 L329.5,462.2 L329.3,461.8 L329.3,461.2 L329.3,460.8 L329.4,460.2 L329.6,460.0 L329.9,459.8 L330.2,459.5 L330.5,459.3 L330.8,459.0 L330.9,458.8 L331.0,458.5 L331.2,458.1 L331.5,457.8 L331.7,457.5 L332.0,457.4 L332.3,457.2 L332.8,457.1 L333.2,457.1 L333.8,457.0 L334.2,457.0 L334.5,457.0 L335.0,456.9 L335.5,456.8 L335.8,456.7 L336.2,456.6 L336.8,456.5 L337.0,456.5 L337.5,456.4 L338.0,456.5 L338.3,456.5 L338.8,456.6 L339.2,456.6 L339.8,456.6 L340.2,456.6 L340.8,456.7 L341.1,456.8 L341.5,456.9 L341.9,457.0 L342.2,457.1 L342.5,457.2 L343.0,457.5 L343.2,457.6 L343.7,457.8 L344.0,457.9 L344.3,458.0 L344.6,458.2 L344.9,458.5 L345.1,458.8 L345.2,459.2 L345.2,459.3 L345.2,459.8 L345.0,460.2 L344.8,460.4 L344.5,460.6 L344.2,460.8 L343.8,460.9 L343.5,461.0 L343.0,461.2 L342.8,461.3 L342.4,461.5 L342.0,461.6 L341.6,461.8 L341.2,461.9 L341.0,462.0 L340.7,462.2 L340.4,462.5 L340.1,462.8 L339.8,463.0 L339.5,463.2 L339.2,463.4 L339.0,463.6 L338.8,463.8 L338.4,464.0 L338.0,464.2 L337.8,464.4 L337.5,464.6 L337.2,464.8 L337.0,465.1 L336.8,465.3 L336.5,465.5 L336.1,465.8 L335.8,466.0 L335.5,466.1 L335.1,466.2 L334.8,466.3 L334.2,466.4 L333.9,466.5 L333.5,466.8 L333.2,467.0 L333.0,467.2 L332.9,467.5 L333.0,467.8 L333.2,468.1 L333.5,468.4 L333.7,468.8 L333.8,469.0 L334.0,469.5 L334.0,469.8 L334.2,470.2 L334.4,470.5 L334.5,470.8 L334.7,471.2 L334.8,471.5 L334.9,472.0 L334.9,472.5 L334.8,473.0 L334.7,473.2 L334.5,473.7 L334.4,474.0 L334.2,474.3 L334.2,474.8 L334.3,475.0 L334.5,475.5 L334.5,475.8 L334.7,476.2 L334.8,476.5 L335.0,476.9 L335.1,477.2 L335.2,477.6 L335.4,478.0 L335.6,478.2 L335.8,478.6 L336.0,479.0 L336.1,479.2 L336.2,479.7 L336.4,480.0 L336.5,480.2 L336.7,480.8 L336.9,481.0 L337.0,481.4 L337.1,481.8 L337.1,482.2 L337.0,482.8 L337.0,483.0 L336.9,483.5 L336.9,484.0 L336.8,484.4 L336.6,484.8 L336.5,485.0 L336.2,485.3 L336.0,485.7 L335.8,486.0 L335.6,486.2 L335.3,486.5 L335.0,486.7 L334.8,486.8 L334.2,487.0 L334.0,487.0Z" fill="#b4b4b4" stroke="#2a2a2a" stroke-width="0.45" fill-rule="evenodd"/>
<path d="M334.8,465.3 L334.2,465.3 L333.8,465.4 L333.2,465.4 L332.8,465.3 L332.5,465.2 L332.2,465.0 L331.8,464.8 L331.6,464.5 L331.4,464.2 L331.2,464.0 L331.0,463.6 L330.9,463.2 L330.8,462.8 L330.7,462.5 L330.5,462.0 L330.5,461.7 L330.5,461.2 L330.5,461.0 L330.7,460.5 L330.9,460.2 L331.1,460.0 L331.3,459.8 L331.6,459.5 L331.8,459.2 L332.0,459.0 L332.2,458.7 L332.5,458.5 L332.9,458.2 L333.2,458.2 L333.8,458.1 L334.2,458.1 L334.8,458.2 L335.0,458.3 L335.5,458.3 L335.8,458.2 L336.2,458.0 L336.5,457.9 L337.0,457.9 L337.5,457.8 L337.8,457.7 L338.2,457.7 L338.8,457.7 L339.2,457.7 L339.8,457.7 L340.0,457.8 L340.5,457.9 L340.9,458.0 L341.2,458.1 L341.6,458.2 L342.0,458.4 L342.4,458.5 L342.8,458.7 L343.0,458.8 L343.2,459.1 L343.3,459.5 L343.1,459.8 L342.9,460.0 L342.5,460.2 L342.2,460.4 L341.9,460.5 L341.5,460.7 L341.2,460.8 L340.8,461.0 L340.5,461.2 L340.2,461.4 L340.0,461.5 L339.8,461.8 L339.5,462.0 L339.2,462.2 L338.9,462.5 L338.5,462.8 L338.2,462.9 L338.0,463.0 L337.6,463.2 L337.3,463.5 L337.0,463.7 L336.8,463.9 L336.5,464.1 L336.2,464.4 L336.0,464.6 L335.8,464.8 L335.5,465.0 L335.0,465.2 L334.8,465.3ZM332.5,473.8 L332.1,473.8 L331.8,473.6 L331.2,473.6 L331.0,473.5 L330.7,473.2 L330.5,472.9 L330.3,472.5 L330.2,472.2 L330.3,472.0 L330.3,471.5 L330.5,471.0 L330.7,470.8 L331.0,470.6 L331.2,470.5 L331.8,470.4 L332.2,470.3 L332.7,470.5 L333.0,470.8 L333.2,471.0 L333.3,471.2 L333.5,471.7 L333.6,472.0 L333.6,472.5 L333.5,472.8 L333.2,473.1 L333.0,473.4 L332.8,473.6 L332.5,473.8ZM334.2,485.8 L333.8,486.0 L333.2,485.9 L332.8,485.8 L332.5,485.5 L332.3,485.2 L332.0,485.0 L331.8,484.8 L331.6,484.8 L331.2,484.8 L331.0,484.7 L330.5,484.6 L330.2,484.5 L329.8,484.2 L329.5,484.0 L329.2,483.8 L329.0,483.5 L328.8,483.2 L328.7,483.0 L328.6,482.5 L328.6,482.0 L328.5,481.5 L328.6,481.0 L328.6,480.5 L328.8,480.1 L328.9,479.8 L329.0,479.5 L329.2,479.1 L329.5,478.9 L329.8,478.7 L330.0,478.4 L330.2,478.2 L330.5,478.0 L330.8,477.6 L330.9,477.2 L331.0,477.0 L331.2,476.5 L331.4,476.2 L331.5,476.0 L331.8,475.7 L332.0,475.5 L332.5,475.4 L333.0,475.5 L333.2,475.8 L333.4,476.0 L333.5,476.2 L333.8,476.7 L333.9,477.0 L334.0,477.4 L334.1,477.8 L334.2,478.1 L334.4,478.5 L334.6,478.8 L334.8,479.1 L335.0,479.5 L335.1,479.8 L335.2,480.2 L335.4,480.5 L335.6,480.8 L335.8,481.0 L336.0,481.3 L336.2,481.8 L336.2,482.2 L336.2,482.8 L336.2,483.2 L336.1,483.8 L336.0,484.1 L335.8,484.5 L335.6,484.8 L335.4,485.0 L335.1,485.2 L334.8,485.5 L334.5,485.7 L334.2,485.8Z" fill="#c8c8c8" stroke="#2a2a2a" stroke-width="0.45" fill-rule="evenodd"/>
<path d="M334.8,464.3 L334.2,464.4 L333.8,464.5 L333.2,464.4 L332.8,464.3 L332.5,464.1 L332.2,463.9 L332.0,463.6 L331.8,463.2 L331.7,463.0 L331.5,462.5 L331.5,462.2 L331.4,461.8 L331.5,461.3 L331.6,461.0 L331.8,460.8 L332.0,460.5 L332.2,460.2 L332.5,460.0 L332.8,459.7 L333.0,459.5 L333.5,459.4 L334.0,459.3 L334.5,459.5 L334.8,459.7 L335.0,459.8 L335.2,460.0 L335.8,460.0 L336.2,460.1 L336.8,460.1 L337.2,460.2 L337.5,460.3 L337.8,460.2 L338.0,459.9 L338.2,459.7 L338.5,459.5 L339.0,459.4 L339.3,459.5 L339.5,459.9 L339.5,460.0 L339.3,460.5 L339.1,460.8 L338.9,461.0 L338.5,461.2 L338.2,461.4 L338.0,461.5 L337.6,461.8 L337.3,462.0 L337.0,462.2 L336.8,462.4 L336.5,462.6 L336.2,462.9 L336.0,463.2 L335.8,463.5 L335.5,463.7 L335.2,463.9 L335.0,464.1 L334.8,464.3ZM334.5,484.5 L334.0,484.7 L333.5,484.5 L333.2,484.3 L333.0,484.1 L332.8,484.0 L332.2,483.8 L332.0,483.7 L331.5,483.6 L331.0,483.6 L330.7,483.5 L330.2,483.3 L330.0,483.2 L329.8,482.9 L329.5,482.5 L329.4,482.2 L329.3,481.8 L329.3,481.2 L329.4,480.8 L329.5,480.4 L329.8,480.0 L330.0,479.8 L330.2,479.5 L330.5,479.4 L330.8,479.2 L331.1,479.0 L331.3,478.8 L331.5,478.5 L331.8,478.2 L332.0,477.9 L332.2,477.7 L332.5,477.5 L332.9,477.5 L333.1,477.8 L333.2,478.2 L333.3,478.5 L333.5,479.0 L333.5,479.2 L333.6,479.8 L333.5,480.2 L333.5,480.5 L333.7,480.8 L334.0,480.9 L334.2,481.1 L334.7,481.2 L335.0,481.5 L335.2,481.7 L335.4,482.0 L335.5,482.3 L335.6,482.8 L335.5,483.2 L335.5,483.5 L335.3,484.0 L335.0,484.2 L334.8,484.4 L334.5,484.5Z" fill="#dcdcdc" stroke="#2a2a2a" stroke-width="0.45" fill-rule="evenodd"/>
<path d="M334.0,463.5 L333.5,463.5 L333.2,463.4 L332.9,463.2 L332.8,463.0 L332.5,462.5 L332.5,462.2 L332.5,461.8 L332.5,461.5 L332.8,461.2 L333.0,461.0 L333.4,460.8 L333.8,460.6 L334.2,460.7 L334.5,460.8 L334.8,461.0 L335.0,461.4 L335.1,461.8 L335.1,462.2 L335.0,462.5 L334.8,462.9 L334.5,463.2 L334.2,463.4 L334.0,463.5ZM334.2,483.6 L333.8,483.6 L333.5,483.5 L333.2,483.2 L332.8,483.1 L332.2,483.1 L331.9,483.0 L331.5,482.9 L331.0,482.8 L330.8,482.7 L330.5,482.5 L330.2,482.1 L330.1,481.8 L330.1,481.2 L330.2,480.9 L330.5,480.5 L330.8,480.4 L331.2,480.3 L331.6,480.5 L332.0,480.7 L332.2,480.8 L332.5,481.1 L332.8,481.5 L332.9,481.8 L333.2,481.8 L333.8,481.9 L334.0,482.0 L334.5,482.2 L334.7,482.5 L334.8,482.8 L334.8,483.1 L334.5,483.4 L334.2,483.6Z" fill="#f0f0f0" stroke="#2a2a2a" stroke-width="0.45" fill-rule="evenodd"/>
</g>
<line x1="339.1" y1="399.7" x2="339.1" y2="490.3" stroke="#1a1a1a" stroke-width="0.95" stroke-dasharray="2.4 1.5"/>
<rect x="325.6" y="399.7" width="56.7" height="90.6" fill="none" stroke="#231f20" stroke-width="0.8"/>
<line x1="325.6" y1="445.3" x2="382.3" y2="445.3" stroke="#231f20" stroke-width="0.8"/>
<text x="323" y="490.7" font-size="7.5" transform="rotate(-90 323 490.7)">CD8-AF700</text>
<line x1="320.2" y1="447.1" x2="320.2" y2="403.7" stroke="#231f20" stroke-width="0.8"/>
<path d="M318.6,404.7 L320.2,401 L321.8,404.7 Z" fill="#231f20"/>
<text x="325.6" y="500.2" font-size="8.0">IFNγ-BV786</text>
<line x1="372" y1="497.3" x2="378.6" y2="497.3" stroke="#231f20" stroke-width="0.8"/>
<path d="M377.6,495.7 L381.6,497.3 L377.6,498.9 Z" fill="#231f20"/>
<text x="394.6" y="422.5" font-size="8.5" text-anchor="middle" transform="rotate(-90 394.6 422.5)"><tspan font-style="italic">Stat3</tspan><tspan dx="0.5" dy="-3.4" font-size="6.12">−/−</tspan></text>
<text x="394.6" y="467.8" font-size="8.5" text-anchor="middle" transform="rotate(-90 394.6 467.8)"><tspan font-style="italic">Stat3</tspan><tspan dx="0.5" dy="-3.4" font-size="6.12">+/+</tspan></text>
<line x1="449.7" y1="406.2" x2="449.7" y2="476.6" stroke="#58595b" stroke-width="0.8"/>
<line x1="445.7" y1="476.6" x2="449.7" y2="476.6" stroke="#58595b" stroke-width="0.8"/>
<text x="443.1" y="479.3" font-size="8.1" text-anchor="end">0</text>
<line x1="445.7" y1="459" x2="449.7" y2="459" stroke="#58595b" stroke-width="0.8"/>
<text x="443.1" y="461.7" font-size="8.1" text-anchor="end">20</text>
<line x1="445.7" y1="441.4" x2="449.7" y2="441.4" stroke="#58595b" stroke-width="0.8"/>
<text x="443.1" y="444.1" font-size="8.1" text-anchor="end">40</text>
<line x1="445.7" y1="423.8" x2="449.7" y2="423.8" stroke="#58595b" stroke-width="0.8"/>
<text x="443.1" y="426.5" font-size="8.1" text-anchor="end">60</text>
<line x1="445.7" y1="406.2" x2="449.7" y2="406.2" stroke="#58595b" stroke-width="0.8"/>
<text x="443.1" y="408.9" font-size="8.1" text-anchor="end">80</text>
<rect x="454.3" y="463.4" width="10.4" height="13.2" fill="#cadcf6" stroke="#2b2bd6" stroke-width="0.9"/>
<circle cx="459.6" cy="448.88" r="1.65" fill="#0808cc"/>
<circle cx="459.6" cy="463.4" r="1.65" fill="#0808cc"/>
<circle cx="456.1" cy="467.36" r="1.65" fill="#0808cc"/>
<circle cx="462.8" cy="469.74" r="1.65" fill="#0808cc"/>
<circle cx="456.1" cy="471.32" r="1.65" fill="#0808cc"/>
<line x1="459.5" y1="468.24" x2="459.5" y2="458.56" stroke="#2b2bd6" stroke-width="0.8"/>
<line x1="457.3" y1="458.56" x2="461.7" y2="458.56" stroke="#2b2bd6" stroke-width="0.8"/>
<line x1="457.3" y1="468.24" x2="461.7" y2="468.24" stroke="#2b2bd6" stroke-width="0.8"/>
<line x1="456.9" y1="463.4" x2="462.1" y2="463.4" stroke="#2b2bd6" stroke-width="0.8"/>
<rect x="470" y="423.8" width="10.4" height="52.8" fill="#ffdcdc" stroke="#f5262b" stroke-width="0.9"/>
<circle cx="472" cy="417.64" r="1.65" fill="#ff1414"/>
<circle cx="479" cy="417.64" r="1.65" fill="#ff1414"/>
<circle cx="472" cy="428.2" r="1.65" fill="#ff1414"/>
<circle cx="479" cy="428.2" r="1.65" fill="#ff1414"/>
<circle cx="475.2" cy="423.36" r="1.65" fill="#ff1414"/>
<line x1="475.2" y1="426.88" x2="475.2" y2="420.72" stroke="#f5262b" stroke-width="0.8"/>
<line x1="473" y1="420.72" x2="477.4" y2="420.72" stroke="#f5262b" stroke-width="0.8"/>
<line x1="473" y1="426.88" x2="477.4" y2="426.88" stroke="#f5262b" stroke-width="0.8"/>
<line x1="472.6" y1="423.8" x2="477.8" y2="423.8" stroke="#f5262b" stroke-width="0.8"/>
<line x1="445.7" y1="476.6" x2="485.9" y2="476.6" stroke="#58595b" stroke-width="0.8"/>
<line x1="459.5" y1="476.6" x2="459.5" y2="480.8" stroke="#58595b" stroke-width="0.8"/>
<line x1="475.2" y1="476.6" x2="475.2" y2="480.8" stroke="#58595b" stroke-width="0.8"/>
<text x="447.3" y="507.8" font-size="7.8" transform="rotate(-42 447.3 507.8)"><tspan font-style="italic">Stat3</tspan><tspan dx="0.5" dy="-3.12" font-size="5.62">+/+</tspan></text>
<text x="463" y="507.8" font-size="7.8" transform="rotate(-42 463 507.8)"><tspan font-style="italic">Stat3</tspan><tspan dx="0.5" dy="-3.12" font-size="5.62">−/−</tspan></text>
<text x="428.7" y="440.3" font-size="7.6" text-anchor="middle" textLength="87.3" lengthAdjust="spacingAndGlyphs" transform="rotate(-90 428.7 440.3)">IFNγ<tspan baseline-shift="super" font-size="5">+</tspan> (% in CD8<tspan baseline-shift="super" font-size="5">+</tspan> T cells)</text>
<text x="475.2" y="416.9" font-size="8.5" text-anchor="middle">***</text>
<text x="509.8" y="397.7" font-size="11" font-weight="bold" fill="#000">z</text>
<clipPath id="c520_399"><rect x="520.2" y="399.7" width="56.8" height="90.6"/></clipPath>
<path d="M547.5,442.3h0.6v0.6h-0.6zM538.2,425.8h0.6v0.6h-0.6zM548.6,415.6h0.6v0.6h-0.6zM534.7,427.4h0.6v0.6h-0.6zM547.4,412.4h0.6v0.6h-0.6zM548.2,419.9h0.6v0.6h-0.6zM550.9,434.0h0.6v0.6h-0.6zM544.8,410.5h0.6v0.6h-0.6zM562.3,432.5h0.6v0.6h-0.6zM537.2,431.2h0.6v0.6h-0.6zM535.1,428.0h0.6v0.6h-0.6zM535.6,411.1h0.6v0.6h-0.6zM537.0,410.1h0.6v0.6h-0.6zM541.6,425.7h0.6v0.6h-0.6zM553.7,427.7h0.6v0.6h-0.6zM541.7,432.1h0.6v0.6h-0.6zM550.2,425.5h0.6v0.6h-0.6zM534.0,419.0h0.6v0.6h-0.6zM570.3,439.2h0.6v0.6h-0.6zM534.5,434.5h0.6v0.6h-0.6zM537.2,419.4h0.6v0.6h-0.6zM541.3,411.5h0.6v0.6h-0.6zM535.1,439.5h0.6v0.6h-0.6zM545.1,422.9h0.6v0.6h-0.6zM554.6,409.0h0.6v0.6h-0.6zM539.6,416.5h0.6v0.6h-0.6zM544.5,444.3h0.6v0.6h-0.6zM540.6,423.3h0.6v0.6h-0.6zM547.9,437.0h0.6v0.6h-0.6zM540.9,418.7h0.6v0.6h-0.6zM542.4,443.7h0.6v0.6h-0.6zM539.1,436.3h0.6v0.6h-0.6zM540.1,412.6h0.6v0.6h-0.6zM539.6,411.2h0.6v0.6h-0.6zM536.0,429.1h0.6v0.6h-0.6zM540.6,425.1h0.6v0.6h-0.6zM540.5,413.7h0.6v0.6h-0.6zM550.6,432.2h0.6v0.6h-0.6zM542.6,416.7h0.6v0.6h-0.6zM541.7,418.7h0.6v0.6h-0.6zM553.5,419.9h0.6v0.6h-0.6zM537.6,440.9h0.6v0.6h-0.6zM536.7,439.8h0.6v0.6h-0.6zM544.7,432.1h0.6v0.6h-0.6zM560.8,416.7h0.6v0.6h-0.6zM553.5,418.3h0.6v0.6h-0.6zM535.4,419.7h0.6v0.6h-0.6zM543.7,411.6h0.6v0.6h-0.6zM546.3,417.7h0.6v0.6h-0.6zM541.8,430.6h0.6v0.6h-0.6zM542.4,443.5h0.6v0.6h-0.6zM542.7,426.4h0.6v0.6h-0.6zM553.7,415.6h0.6v0.6h-0.6zM544.0,414.5h0.6v0.6h-0.6zM551.0,418.0h0.6v0.6h-0.6zM545.0,415.8h0.6v0.6h-0.6zM535.7,416.1h0.6v0.6h-0.6zM560.1,443.2h0.6v0.6h-0.6zM545.0,424.2h0.6v0.6h-0.6zM544.1,412.7h0.6v0.6h-0.6zM561.4,417.6h0.6v0.6h-0.6zM540.8,434.4h0.6v0.6h-0.6zM534.9,430.5h0.6v0.6h-0.6zM554.5,419.6h0.6v0.6h-0.6zM541.9,411.5h0.6v0.6h-0.6zM549.7,417.2h0.6v0.6h-0.6zM554.0,431.1h0.6v0.6h-0.6zM541.8,419.1h0.6v0.6h-0.6zM540.5,409.6h0.6v0.6h-0.6zM537.7,418.7h0.6v0.6h-0.6zM537.7,415.3h0.6v0.6h-0.6zM535.3,422.3h0.6v0.6h-0.6zM539.3,422.0h0.6v0.6h-0.6zM536.6,441.1h0.6v0.6h-0.6zM550.0,433.9h0.6v0.6h-0.6zM536.0,430.0h0.6v0.6h-0.6zM535.9,409.6h0.6v0.6h-0.6zM536.3,441.8h0.6v0.6h-0.6zM542.6,409.8h0.6v0.6h-0.6zM560.9,431.9h0.6v0.6h-0.6zM551.7,420.5h0.6v0.6h-0.6zM536.0,445.0h0.6v0.6h-0.6zM546.3,435.5h0.6v0.6h-0.6zM540.3,441.4h0.6v0.6h-0.6zM535.4,437.6h0.6v0.6h-0.6zM551.1,441.9h0.6v0.6h-0.6zM544.0,441.4h0.6v0.6h-0.6zM547.4,440.4h0.6v0.6h-0.6zM550.9,440.1h0.6v0.6h-0.6zM543.7,429.6h0.6v0.6h-0.6zM541.6,430.0h0.6v0.6h-0.6zM541.6,430.9h0.6v0.6h-0.6zM547.8,444.8h0.6v0.6h-0.6zM541.6,440.7h0.6v0.6h-0.6zM535.5,435.5h0.6v0.6h-0.6zM544.8,429.9h0.6v0.6h-0.6zM553.6,412.0h0.6v0.6h-0.6zM541.7,436.0h0.6v0.6h-0.6zM548.7,426.3h0.6v0.6h-0.6zM536.8,417.3h0.6v0.6h-0.6zM538.1,431.1h0.6v0.6h-0.6zM546.2,442.1h0.6v0.6h-0.6zM534.1,419.8h0.6v0.6h-0.6zM535.7,433.4h0.6v0.6h-0.6zM536.0,441.6h0.6v0.6h-0.6zM540.4,432.8h0.6v0.6h-0.6zM555.7,420.8h0.6v0.6h-0.6zM542.3,433.0h0.6v0.6h-0.6zM537.7,438.0h0.6v0.6h-0.6zM545.1,441.9h0.6v0.6h-0.6zM541.9,430.0h0.6v0.6h-0.6zM541.4,420.4h0.6v0.6h-0.6zM542.4,439.1h0.6v0.6h-0.6zM543.7,439.6h0.6v0.6h-0.6zM540.5,419.0h0.6v0.6h-0.6zM560.1,415.1h0.6v0.6h-0.6zM542.4,416.7h0.6v0.6h-0.6zM536.7,423.9h0.6v0.6h-0.6zM543.0,420.4h0.6v0.6h-0.6zM543.1,439.2h0.6v0.6h-0.6zM546.0,411.7h0.6v0.6h-0.6zM535.4,410.1h0.6v0.6h-0.6zM536.2,434.5h0.6v0.6h-0.6zM536.3,429.5h0.6v0.6h-0.6zM541.1,409.7h0.6v0.6h-0.6zM552.2,413.9h0.6v0.6h-0.6zM536.4,438.9h0.6v0.6h-0.6zM534.7,417.5h0.6v0.6h-0.6zM536.2,431.7h0.6v0.6h-0.6zM536.6,425.1h0.6v0.6h-0.6zM545.0,438.1h0.6v0.6h-0.6zM545.7,443.5h0.6v0.6h-0.6zM536.9,426.1h0.6v0.6h-0.6zM540.7,415.4h0.6v0.6h-0.6zM546.4,434.7h0.6v0.6h-0.6zM534.8,415.4h0.6v0.6h-0.6zM535.4,434.1h0.6v0.6h-0.6zM544.0,427.7h0.6v0.6h-0.6zM547.9,423.2h0.6v0.6h-0.6zM546.2,437.5h0.6v0.6h-0.6zM537.9,442.6h0.6v0.6h-0.6zM536.6,435.0h0.6v0.6h-0.6zM542.3,431.5h0.6v0.6h-0.6zM542.8,441.8h0.6v0.6h-0.6zM544.2,440.7h0.6v0.6h-0.6zM544.0,437.7h0.6v0.6h-0.6zM545.5,432.4h0.6v0.6h-0.6zM538.2,416.4h0.6v0.6h-0.6zM537.6,432.1h0.6v0.6h-0.6zM554.0,434.8h0.6v0.6h-0.6zM538.9,483.9h0.6v0.6h-0.6zM561.3,459.6h0.6v0.6h-0.6zM551.2,458.9h0.6v0.6h-0.6zM543.4,482.8h0.6v0.6h-0.6zM539.7,455.7h0.6v0.6h-0.6zM543.4,468.4h0.6v0.6h-0.6zM550.3,457.7h0.6v0.6h-0.6zM536.4,463.2h0.6v0.6h-0.6zM535.3,459.6h0.6v0.6h-0.6zM535.9,457.1h0.6v0.6h-0.6zM543.0,478.2h0.6v0.6h-0.6zM537.6,467.4h0.6v0.6h-0.6zM549.9,461.3h0.6v0.6h-0.6zM542.2,450.1h0.6v0.6h-0.6zM545.0,459.1h0.6v0.6h-0.6zM538.0,461.7h0.6v0.6h-0.6zM536.2,475.0h0.6v0.6h-0.6zM538.0,478.6h0.6v0.6h-0.6zM541.8,453.7h0.6v0.6h-0.6zM541.1,452.3h0.6v0.6h-0.6zM537.7,472.1h0.6v0.6h-0.6zM539.1,481.8h0.6v0.6h-0.6zM545.9,460.6h0.6v0.6h-0.6zM540.0,460.0h0.6v0.6h-0.6zM545.5,460.4h0.6v0.6h-0.6zM535.9,461.5h0.6v0.6h-0.6zM545.8,460.7h0.6v0.6h-0.6zM548.6,473.5h0.6v0.6h-0.6zM544.7,458.5h0.6v0.6h-0.6zM535.3,459.6h0.6v0.6h-0.6zM544.0,460.5h0.6v0.6h-0.6zM555.8,456.9h0.6v0.6h-0.6zM535.4,474.2h0.6v0.6h-0.6zM541.4,470.6h0.6v0.6h-0.6zM542.6,464.3h0.6v0.6h-0.6zM539.0,475.9h0.6v0.6h-0.6zM538.7,460.6h0.6v0.6h-0.6zM534.4,460.9h0.6v0.6h-0.6zM536.5,469.7h0.6v0.6h-0.6zM537.4,454.9h0.6v0.6h-0.6zM542.5,474.0h0.6v0.6h-0.6zM546.8,472.9h0.6v0.6h-0.6zM542.6,471.3h0.6v0.6h-0.6zM534.0,469.6h0.6v0.6h-0.6zM544.5,461.0h0.6v0.6h-0.6zM541.3,470.3h0.6v0.6h-0.6zM539.8,461.9h0.6v0.6h-0.6zM538.0,476.5h0.6v0.6h-0.6zM541.9,453.6h0.6v0.6h-0.6zM542.2,451.9h0.6v0.6h-0.6zM538.5,457.3h0.6v0.6h-0.6zM541.1,458.0h0.6v0.6h-0.6zM543.0,483.8h0.6v0.6h-0.6zM538.1,459.5h0.6v0.6h-0.6zM535.1,479.1h0.6v0.6h-0.6zM534.3,467.5h0.6v0.6h-0.6zM539.2,453.9h0.6v0.6h-0.6zM535.3,458.0h0.6v0.6h-0.6zM546.5,471.7h0.6v0.6h-0.6zM540.7,463.7h0.6v0.6h-0.6zM538.9,462.0h0.6v0.6h-0.6zM550.8,462.4h0.6v0.6h-0.6zM549.2,462.7h0.6v0.6h-0.6zM535.4,466.5h0.6v0.6h-0.6zM536.2,464.7h0.6v0.6h-0.6zM545.4,459.2h0.6v0.6h-0.6zM539.1,460.6h0.6v0.6h-0.6zM536.7,469.2h0.6v0.6h-0.6zM538.0,461.0h0.6v0.6h-0.6zM556.8,472.3h0.6v0.6h-0.6zM550.5,467.0h0.6v0.6h-0.6zM539.2,472.9h0.6v0.6h-0.6zM544.6,462.0h0.6v0.6h-0.6zM535.3,462.0h0.6v0.6h-0.6zM538.6,473.0h0.6v0.6h-0.6zM534.7,452.8h0.6v0.6h-0.6zM536.0,468.7h0.6v0.6h-0.6zM535.8,462.9h0.6v0.6h-0.6zM548.1,451.8h0.6v0.6h-0.6zM541.0,455.6h0.6v0.6h-0.6zM543.6,456.1h0.6v0.6h-0.6zM552.0,461.0h0.6v0.6h-0.6z" fill="#444"/>
<clipPath id="dc11"><rect x="520.2" y="399.7" width="56.8" height="45.6"/></clipPath>
<g clip-path="url(#dc11)">
<path d="M526.2,447.5 L525.8,447.6 L525.2,447.5 L525.0,447.5 L524.5,447.3 L524.2,447.2 L523.8,447.0 L523.5,446.9 L523.1,446.8 L522.8,446.5 L522.5,446.4 L522.2,446.2 L522.0,445.9 L521.8,445.6 L521.5,445.3 L521.3,445.0 L521.1,444.8 L520.9,444.5 L520.7,444.2 L520.5,444.0 L520.2,443.6 L520.1,443.2 L519.9,443.0 L519.8,442.5 L519.7,442.2 L519.5,441.8 L519.4,441.5 L519.3,441.0 L519.2,440.8 L519.1,440.2 L519.0,440.0 L518.8,439.5 L518.7,439.2 L518.6,438.8 L518.5,438.4 L518.4,438.0 L518.4,437.5 L518.4,437.0 L518.4,436.5 L518.5,436.0 L518.5,435.8 L518.6,435.2 L518.6,434.8 L518.6,434.2 L518.6,433.8 L518.6,433.2 L518.6,432.8 L518.6,432.2 L518.5,431.8 L518.5,431.3 L518.5,431.0 L518.4,430.5 L518.4,430.0 L518.4,429.5 L518.5,429.0 L518.5,428.6 L518.5,428.2 L518.6,427.8 L518.7,427.2 L518.7,426.8 L518.8,426.5 L518.8,426.0 L518.8,425.5 L518.8,425.0 L518.8,424.5 L518.8,424.0 L518.8,423.5 L518.8,423.0 L518.8,422.5 L518.8,422.2 L518.7,421.8 L518.5,421.2 L518.5,421.0 L518.3,420.5 L518.2,420.2 L518.1,419.8 L518.0,419.4 L517.9,419.0 L517.9,418.5 L517.9,418.0 L517.9,417.5 L517.9,417.0 L518.0,416.7 L518.1,416.2 L518.2,415.8 L518.3,415.5 L518.4,415.0 L518.5,414.8 L518.7,414.2 L518.8,414.0 L519.0,413.6 L519.2,413.2 L519.4,413.0 L519.7,412.8 L519.9,412.5 L520.2,412.2 L520.5,412.0 L520.8,411.8 L521.0,411.6 L521.2,411.4 L521.5,411.2 L521.9,411.0 L522.2,410.8 L522.5,410.7 L523.0,410.5 L523.2,410.4 L523.8,410.3 L524.0,410.2 L524.5,410.1 L524.8,410.0 L525.2,409.9 L525.8,409.9 L526.2,409.9 L526.8,409.9 L527.2,410.0 L527.5,410.0 L528.0,410.1 L528.5,410.1 L529.0,410.2 L529.3,410.2 L529.8,410.3 L530.2,410.4 L530.7,410.5 L531.0,410.6 L531.5,410.7 L532.0,410.7 L532.3,410.8 L532.8,410.8 L533.2,410.8 L533.8,410.9 L534.2,410.9 L534.8,411.0 L535.0,411.0 L535.5,411.1 L535.9,411.2 L536.2,411.3 L536.8,411.5 L537.0,411.6 L537.5,411.7 L537.8,411.8 L538.2,411.9 L538.6,412.0 L539.0,412.1 L539.5,412.2 L539.8,412.3 L540.2,412.5 L540.5,412.6 L541.0,412.8 L541.2,412.9 L541.5,413.0 L542.0,413.2 L542.2,413.4 L542.5,413.6 L542.8,413.8 L543.1,414.0 L543.4,414.2 L543.6,414.5 L543.8,414.8 L544.0,415.0 L544.2,415.4 L544.4,415.8 L544.5,416.0 L544.7,416.5 L544.8,416.8 L544.9,417.2 L544.9,417.8 L544.8,418.2 L544.7,418.5 L544.6,419.0 L544.4,419.2 L544.2,419.6 L544.0,420.0 L543.8,420.2 L543.6,420.5 L543.3,420.8 L543.0,421.0 L542.8,421.1 L542.5,421.3 L542.2,421.5 L541.8,421.7 L541.5,421.8 L541.1,422.0 L540.8,422.2 L540.5,422.2 L540.0,422.4 L539.5,422.5 L539.2,422.5 L538.8,422.6 L538.2,422.6 L537.8,422.7 L537.2,422.7 L537.0,422.8 L536.5,422.8 L536.0,422.9 L535.5,423.0 L535.2,423.0 L534.8,423.1 L534.2,423.2 L534.0,423.3 L533.5,423.5 L533.2,423.7 L533.0,423.9 L532.8,424.2 L532.7,424.5 L532.5,425.0 L532.5,425.2 L532.4,425.8 L532.4,426.2 L532.4,426.8 L532.4,427.2 L532.4,427.8 L532.5,428.2 L532.5,428.8 L532.5,429.2 L532.5,429.8 L532.5,430.2 L532.4,430.8 L532.4,431.2 L532.4,431.8 L532.4,432.2 L532.4,432.8 L532.4,433.2 L532.4,433.8 L532.4,434.2 L532.4,434.8 L532.5,435.2 L532.5,435.8 L532.5,436.2 L532.4,436.8 L532.3,437.2 L532.3,437.8 L532.2,438.0 L532.1,438.5 L532.0,439.0 L532.0,439.2 L532.0,439.8 L531.9,440.2 L531.8,440.8 L531.8,441.2 L531.7,441.5 L531.5,441.9 L531.3,442.2 L531.2,442.5 L531.0,442.9 L530.9,443.2 L530.8,443.6 L530.6,444.0 L530.5,444.2 L530.2,444.7 L530.1,445.0 L529.8,445.2 L529.5,445.5 L529.2,445.7 L529.0,445.9 L528.8,446.1 L528.5,446.4 L528.2,446.6 L528.0,446.8 L527.7,447.0 L527.2,447.2 L527.0,447.3 L526.5,447.5 L526.2,447.5Z" fill="#707070" stroke="#2a2a2a" stroke-width="0.45" fill-rule="evenodd"/>
<path d="M526.2,446.3 L525.8,446.4 L525.2,446.3 L525.0,446.2 L524.5,446.0 L524.2,445.9 L523.9,445.8 L523.5,445.5 L523.2,445.4 L523.0,445.2 L522.8,445.0 L522.5,444.7 L522.2,444.5 L522.0,444.2 L521.8,444.0 L521.5,443.7 L521.2,443.4 L521.0,443.0 L520.8,442.8 L520.7,442.5 L520.5,442.0 L520.4,441.8 L520.3,441.2 L520.2,441.0 L520.0,440.5 L519.9,440.2 L519.8,439.8 L519.6,439.5 L519.5,439.1 L519.4,438.8 L519.3,438.2 L519.3,437.8 L519.3,437.2 L519.3,436.8 L519.3,436.2 L519.4,435.8 L519.4,435.2 L519.4,434.8 L519.4,434.2 L519.4,433.8 L519.4,433.2 L519.4,432.8 L519.4,432.2 L519.3,431.8 L519.3,431.2 L519.3,430.8 L519.3,430.2 L519.3,429.8 L519.3,429.2 L519.3,428.8 L519.3,428.2 L519.4,427.8 L519.4,427.2 L519.5,426.8 L519.5,426.5 L519.6,426.0 L519.6,425.5 L519.7,425.0 L519.7,424.5 L519.7,424.0 L519.7,423.5 L519.7,423.0 L519.7,422.5 L519.6,422.0 L519.6,421.5 L519.5,421.2 L519.3,420.8 L519.2,420.5 L519.1,420.0 L519.0,419.7 L518.9,419.2 L518.9,418.8 L518.8,418.2 L518.8,417.8 L518.9,417.2 L518.9,416.8 L519.0,416.4 L519.1,416.0 L519.2,415.5 L519.3,415.2 L519.4,414.8 L519.5,414.5 L519.8,414.1 L520.0,413.8 L520.2,413.5 L520.5,413.2 L520.7,413.0 L521.0,412.8 L521.2,412.5 L521.5,412.3 L521.8,412.1 L522.0,411.9 L522.3,411.8 L522.8,411.6 L523.0,411.5 L523.5,411.3 L523.8,411.2 L524.2,411.1 L524.7,411.0 L525.0,410.9 L525.5,410.8 L526.0,410.8 L526.5,410.8 L527.0,410.8 L527.5,410.9 L528.0,410.9 L528.5,411.0 L528.8,411.0 L529.2,411.1 L529.8,411.1 L530.2,411.2 L530.6,411.2 L531.0,411.4 L531.5,411.5 L531.8,411.5 L532.2,411.6 L532.8,411.6 L533.2,411.6 L533.8,411.7 L534.2,411.7 L534.5,411.8 L535.0,411.9 L535.5,412.0 L535.8,412.0 L536.2,412.1 L536.7,412.2 L537.0,412.3 L537.5,412.5 L537.8,412.5 L538.2,412.6 L538.7,412.8 L539.0,412.8 L539.5,413.0 L539.8,413.1 L540.2,413.2 L540.5,413.3 L540.9,413.5 L541.2,413.7 L541.5,413.8 L541.9,414.0 L542.2,414.2 L542.5,414.4 L542.8,414.7 L543.0,414.9 L543.2,415.2 L543.4,415.5 L543.6,415.8 L543.8,416.1 L543.9,416.5 L544.0,416.8 L544.1,417.2 L544.0,417.8 L544.0,418.0 L543.9,418.5 L543.8,418.8 L543.5,419.2 L543.4,419.5 L543.2,419.8 L542.9,420.0 L542.7,420.2 L542.3,420.5 L542.0,420.7 L541.8,420.9 L541.5,421.0 L541.1,421.2 L540.8,421.4 L540.5,421.5 L540.0,421.7 L539.6,421.8 L539.2,421.8 L538.8,421.8 L538.2,421.9 L537.8,421.9 L537.2,421.9 L536.8,422.0 L536.4,422.0 L536.0,422.1 L535.5,422.1 L535.0,422.2 L534.6,422.2 L534.2,422.3 L533.8,422.4 L533.5,422.5 L533.0,422.7 L532.8,422.9 L532.5,423.0 L532.2,423.2 L532.0,423.5 L531.8,424.0 L531.7,424.2 L531.6,424.8 L531.6,425.2 L531.5,425.8 L531.5,426.2 L531.5,426.8 L531.5,427.2 L531.6,427.8 L531.6,428.2 L531.7,428.8 L531.7,429.2 L531.7,429.8 L531.6,430.2 L531.6,430.8 L531.6,431.2 L531.5,431.8 L531.5,432.2 L531.5,432.8 L531.5,433.2 L531.5,433.3 L531.6,433.8 L531.6,434.2 L531.6,434.8 L531.7,435.2 L531.7,435.8 L531.6,436.2 L531.5,436.8 L531.5,437.1 L531.4,437.5 L531.4,438.0 L531.3,438.5 L531.2,438.8 L531.2,439.2 L531.2,439.8 L531.1,440.2 L531.0,440.6 L530.9,441.0 L530.8,441.3 L530.5,441.8 L530.4,442.0 L530.2,442.2 L530.0,442.6 L529.8,443.0 L529.7,443.2 L529.5,443.7 L529.3,444.0 L529.2,444.2 L529.0,444.5 L528.8,444.8 L528.5,445.1 L528.2,445.3 L527.9,445.5 L527.5,445.8 L527.2,445.9 L527.0,446.1 L526.5,446.2 L526.2,446.3Z" fill="#808080" stroke="#2a2a2a" stroke-width="0.45" fill-rule="evenodd"/>
<path d="M526.2,445.0 L525.8,445.0 L525.5,445.0 L525.0,444.9 L524.5,444.8 L524.2,444.7 L524.0,444.5 L523.6,444.2 L523.2,444.0 L523.0,443.8 L522.8,443.6 L522.5,443.5 L522.2,443.2 L522.0,443.0 L521.8,442.7 L521.5,442.3 L521.3,442.0 L521.2,441.8 L521.0,441.2 L521.0,441.0 L520.8,440.5 L520.8,440.2 L520.6,439.8 L520.5,439.5 L520.3,439.0 L520.2,438.8 L520.1,438.2 L520.1,437.8 L520.1,437.2 L520.2,436.8 L520.2,436.2 L520.2,435.8 L520.2,435.2 L520.2,434.8 L520.2,434.2 L520.2,433.8 L520.2,433.3 L520.2,433.2 L520.2,432.8 L520.1,432.2 L520.1,431.8 L520.0,431.2 L520.0,430.8 L520.0,430.2 L520.0,429.8 L520.1,429.2 L520.1,428.8 L520.1,428.2 L520.1,427.8 L520.2,427.2 L520.2,426.8 L520.3,426.5 L520.3,426.0 L520.4,425.5 L520.5,425.0 L520.5,424.8 L520.5,424.2 L520.5,423.8 L520.6,423.2 L520.5,422.8 L520.5,422.2 L520.5,422.0 L520.4,421.5 L520.3,421.0 L520.2,420.8 L520.0,420.2 L519.9,420.0 L519.8,419.5 L519.7,419.2 L519.7,418.8 L519.6,418.2 L519.6,417.8 L519.7,417.2 L519.8,417.0 L519.8,416.5 L519.9,416.0 L520.0,415.7 L520.1,415.2 L520.2,414.9 L520.4,414.5 L520.6,414.2 L520.8,414.0 L521.1,413.8 L521.3,413.5 L521.6,413.2 L521.9,413.0 L522.2,412.8 L522.5,412.5 L522.8,412.4 L523.0,412.2 L523.5,412.1 L523.8,412.0 L524.2,411.9 L524.8,411.8 L525.0,411.7 L525.5,411.6 L526.0,411.6 L526.5,411.6 L527.0,411.6 L527.5,411.7 L527.8,411.8 L528.2,411.8 L528.8,411.8 L529.2,411.8 L529.8,411.9 L530.2,411.9 L530.6,412.0 L531.0,412.1 L531.4,412.2 L531.8,412.3 L532.2,412.4 L532.8,412.5 L533.2,412.5 L533.8,412.5 L534.0,412.5 L534.5,412.6 L535.0,412.6 L535.5,412.7 L535.8,412.8 L536.2,412.9 L536.8,413.0 L537.0,413.0 L537.5,413.1 L538.0,413.2 L538.2,413.3 L538.8,413.4 L539.0,413.5 L539.5,413.7 L539.8,413.8 L540.2,413.9 L540.5,414.0 L541.0,414.2 L541.2,414.4 L541.5,414.5 L541.8,414.8 L542.1,415.0 L542.4,415.2 L542.6,415.5 L542.8,415.8 L543.0,416.2 L543.1,416.5 L543.2,417.0 L543.2,417.5 L543.2,418.0 L543.0,418.5 L542.9,418.8 L542.7,419.0 L542.5,419.3 L542.2,419.6 L542.0,419.8 L541.8,420.0 L541.4,420.2 L541.0,420.5 L540.8,420.6 L540.3,420.8 L540.0,420.9 L539.5,421.0 L539.2,421.0 L538.8,421.1 L538.2,421.0 L537.8,421.0 L537.5,421.0 L537.2,421.0 L536.8,421.1 L536.2,421.2 L536.0,421.3 L535.5,421.4 L535.0,421.4 L534.5,421.5 L534.2,421.5 L533.8,421.6 L533.3,421.8 L533.0,421.9 L532.7,422.0 L532.2,422.2 L532.0,422.3 L531.7,422.5 L531.4,422.8 L531.2,423.0 L531.0,423.2 L530.8,423.7 L530.7,424.0 L530.6,424.5 L530.7,425.0 L530.7,425.5 L530.7,426.0 L530.7,426.5 L530.7,427.0 L530.7,427.5 L530.8,427.8 L530.8,428.2 L530.8,428.8 L530.8,429.2 L530.9,429.8 L530.8,430.2 L530.8,430.8 L530.7,431.0 L530.7,431.5 L530.7,432.0 L530.6,432.5 L530.6,433.0 L530.7,433.5 L530.8,433.9 L530.8,434.2 L530.9,434.8 L530.9,435.2 L530.9,435.8 L530.8,436.2 L530.8,436.7 L530.7,437.0 L530.7,437.5 L530.6,438.0 L530.6,438.5 L530.5,439.0 L530.5,439.3 L530.4,439.8 L530.3,440.2 L530.2,440.5 L530.0,441.0 L529.9,441.2 L529.8,441.6 L529.5,442.0 L529.3,442.2 L529.1,442.5 L528.9,442.8 L528.8,443.0 L528.5,443.4 L528.2,443.7 L528.0,444.0 L527.8,444.2 L527.5,444.5 L527.2,444.7 L527.0,444.8 L526.5,445.0 L526.2,445.0Z" fill="#909090" stroke="#2a2a2a" stroke-width="0.45" fill-rule="evenodd"/>
<path d="M526.2,443.5 L525.8,443.5 L525.2,443.5 L525.0,443.5 L524.5,443.3 L524.2,443.2 L523.8,443.0 L523.5,442.9 L523.2,442.7 L522.9,442.5 L522.6,442.2 L522.4,442.0 L522.2,441.8 L522.0,441.5 L521.8,441.0 L521.7,440.8 L521.6,440.2 L521.5,440.0 L521.3,439.5 L521.2,439.2 L521.2,438.8 L521.1,438.2 L521.1,437.8 L521.1,437.2 L521.1,436.8 L521.1,436.2 L521.1,435.8 L521.1,435.2 L521.1,434.8 L521.1,434.2 L521.2,433.8 L521.2,433.4 L521.2,433.2 L521.1,432.8 L521.0,432.2 L521.0,432.0 L520.9,431.5 L520.8,431.0 L520.9,430.5 L520.9,430.0 L520.9,429.5 L520.9,429.0 L521.0,428.5 L521.0,428.2 L521.0,427.8 L521.1,427.2 L521.1,426.8 L521.2,426.2 L521.2,425.8 L521.3,425.5 L521.4,425.0 L521.4,424.5 L521.5,424.1 L521.6,423.8 L521.6,423.2 L521.7,422.8 L521.7,422.2 L521.7,421.8 L521.5,421.4 L521.3,421.0 L521.2,420.8 L521.0,420.3 L520.9,420.0 L520.8,419.6 L520.6,419.2 L520.6,418.8 L520.5,418.3 L520.5,418.0 L520.5,417.8 L520.6,417.2 L520.7,416.8 L520.8,416.5 L520.8,416.0 L521.0,415.5 L521.1,415.2 L521.2,414.8 L521.4,414.5 L521.6,414.2 L521.9,414.0 L522.2,413.8 L522.5,413.5 L522.8,413.4 L523.0,413.2 L523.4,413.0 L523.8,412.9 L524.2,412.8 L524.5,412.7 L525.0,412.6 L525.5,412.5 L525.8,412.5 L526.2,412.5 L526.5,412.5 L527.0,412.5 L527.5,412.6 L528.0,412.6 L528.5,412.6 L529.0,412.6 L529.5,412.7 L530.0,412.8 L530.2,412.8 L530.8,413.0 L531.0,413.1 L531.3,413.2 L531.8,413.4 L532.2,413.4 L532.8,413.5 L533.2,413.4 L533.8,413.4 L534.2,413.4 L534.8,413.5 L535.0,413.5 L535.5,413.6 L536.0,413.7 L536.5,413.8 L536.8,413.8 L537.2,413.9 L537.7,414.0 L538.0,414.1 L538.5,414.2 L538.8,414.2 L539.2,414.4 L539.6,414.5 L540.0,414.6 L540.3,414.8 L540.8,415.0 L541.0,415.1 L541.2,415.3 L541.5,415.5 L541.8,415.8 L542.0,416.2 L542.1,416.5 L542.2,417.0 L542.2,417.5 L542.1,418.0 L542.0,418.3 L541.8,418.8 L541.6,419.0 L541.4,419.2 L541.1,419.5 L540.8,419.7 L540.5,419.8 L540.0,419.9 L539.5,420.0 L539.2,420.0 L538.8,420.0 L538.2,420.0 L538.0,420.0 L537.5,420.0 L537.2,420.0 L536.8,420.1 L536.2,420.2 L536.0,420.3 L535.5,420.4 L535.2,420.5 L534.8,420.6 L534.2,420.7 L533.8,420.7 L533.5,420.8 L533.0,420.9 L532.8,421.0 L532.2,421.2 L532.0,421.3 L531.6,421.5 L531.2,421.6 L531.0,421.8 L530.6,422.0 L530.3,422.2 L530.1,422.5 L529.9,422.8 L529.8,423.1 L529.6,423.5 L529.5,423.8 L529.5,424.2 L529.5,424.5 L529.6,425.0 L529.7,425.5 L529.8,425.9 L529.8,426.2 L529.8,426.8 L529.9,427.2 L529.9,427.8 L529.9,428.2 L529.9,428.8 L529.9,429.2 L529.9,429.8 L529.9,430.2 L529.9,430.8 L529.8,431.2 L529.7,431.5 L529.7,432.0 L529.6,432.5 L529.5,433.0 L529.5,433.2 L529.6,433.5 L529.8,433.9 L529.9,434.2 L530.0,434.8 L530.0,435.0 L530.0,435.5 L530.0,435.9 L530.0,436.2 L529.9,436.8 L529.9,437.2 L529.8,437.8 L529.8,438.2 L529.8,438.8 L529.8,439.1 L529.7,439.5 L529.5,440.0 L529.5,440.2 L529.2,440.7 L529.1,441.0 L529.0,441.2 L528.8,441.6 L528.5,441.9 L528.2,442.2 L528.0,442.4 L527.8,442.7 L527.5,442.9 L527.2,443.1 L527.0,443.3 L526.5,443.5 L526.2,443.5Z" fill="#a2a2a2" stroke="#2a2a2a" stroke-width="0.45" fill-rule="evenodd"/>
<path d="M526.5,442.3 L526.0,442.4 L525.5,442.4 L525.0,442.3 L524.7,442.2 L524.2,442.1 L524.0,442.0 L523.6,441.8 L523.2,441.6 L523.0,441.3 L522.8,441.0 L522.7,440.8 L522.5,440.3 L522.4,440.0 L522.2,439.7 L522.1,439.2 L522.0,438.8 L522.0,438.2 L522.0,437.8 L522.0,437.2 L522.0,436.8 L522.0,436.4 L522.0,436.0 L521.9,435.5 L522.0,435.0 L522.0,434.8 L522.1,434.2 L522.2,433.8 L522.2,433.3 L522.2,433.2 L522.1,432.8 L522.0,432.3 L521.9,432.0 L521.9,431.5 L521.8,431.0 L521.8,430.5 L521.8,430.0 L521.9,429.5 L521.9,429.0 L521.9,428.5 L522.0,428.0 L522.0,427.7 L522.0,427.2 L522.1,426.8 L522.1,426.2 L522.2,425.8 L522.2,425.4 L522.3,425.0 L522.5,424.5 L522.5,424.2 L522.6,423.8 L522.8,423.4 L522.9,423.0 L523.0,422.5 L523.0,422.0 L522.9,421.5 L522.7,421.2 L522.5,421.0 L522.2,420.7 L522.0,420.3 L521.9,420.0 L521.7,419.8 L521.6,419.2 L521.5,419.0 L521.4,418.5 L521.4,418.0 L521.4,417.5 L521.5,417.2 L521.6,416.8 L521.7,416.2 L521.8,415.9 L521.9,415.5 L522.0,415.2 L522.2,414.8 L522.5,414.5 L522.8,414.3 L523.0,414.1 L523.2,414.0 L523.8,413.8 L524.0,413.7 L524.5,413.6 L525.0,413.5 L525.2,413.5 L525.8,413.5 L526.2,413.4 L526.8,413.4 L527.2,413.4 L527.8,413.4 L528.2,413.4 L528.8,413.4 L529.2,413.4 L529.7,413.5 L530.0,413.6 L530.4,413.8 L530.8,413.9 L531.0,414.1 L531.4,414.2 L531.8,414.3 L532.2,414.4 L532.8,414.4 L533.2,414.4 L533.8,414.3 L534.2,414.3 L534.8,414.3 L535.2,414.4 L535.7,414.5 L536.0,414.6 L536.5,414.7 L536.9,414.8 L537.2,414.8 L537.8,414.9 L538.1,415.0 L538.5,415.1 L539.0,415.2 L539.3,415.2 L539.8,415.4 L540.0,415.5 L540.4,415.8 L540.7,416.0 L540.9,416.2 L541.0,416.5 L541.1,417.0 L541.1,417.5 L541.0,418.0 L540.9,418.2 L540.6,418.5 L540.2,418.7 L540.0,418.8 L539.5,419.0 L539.2,419.0 L538.8,419.1 L538.2,419.0 L537.8,419.0 L537.5,419.0 L537.2,419.0 L536.8,419.1 L536.2,419.2 L536.0,419.3 L535.6,419.5 L535.2,419.6 L534.8,419.8 L534.5,419.8 L534.0,419.9 L533.5,420.0 L533.2,420.0 L532.8,420.1 L532.2,420.2 L532.0,420.3 L531.5,420.5 L531.2,420.5 L530.8,420.7 L530.5,420.8 L530.2,421.0 L530.0,421.2 L529.7,421.5 L529.5,421.8 L529.2,422.0 L529.0,422.3 L528.8,422.7 L528.7,423.0 L528.5,423.5 L528.5,423.8 L528.5,424.1 L528.6,424.5 L528.7,425.0 L528.8,425.4 L528.8,425.8 L528.9,426.2 L528.9,426.8 L528.9,427.2 L528.9,427.8 L528.9,428.2 L528.8,428.8 L528.9,429.2 L528.9,429.8 L528.9,430.2 L528.9,430.8 L528.9,431.2 L528.8,431.8 L528.7,432.0 L528.6,432.5 L528.5,433.0 L528.5,433.2 L528.6,433.5 L528.8,433.9 L528.9,434.2 L529.0,434.5 L529.1,435.0 L529.2,435.5 L529.1,436.0 L529.0,436.5 L529.0,437.0 L529.0,437.5 L529.0,438.0 L529.0,438.5 L529.0,439.0 L529.0,439.2 L528.8,439.8 L528.7,440.0 L528.5,440.4 L528.3,440.8 L528.1,441.0 L528.0,441.2 L527.8,441.5 L527.4,441.8 L527.1,442.0 L526.8,442.2 L526.5,442.3Z" fill="#b4b4b4" stroke="#2a2a2a" stroke-width="0.45" fill-rule="evenodd"/>
<path d="M526.2,441.1 L525.8,441.1 L525.2,441.1 L524.8,441.0 L524.5,440.9 L524.2,440.8 L523.8,440.5 L523.6,440.2 L523.4,440.0 L523.2,439.7 L523.1,439.2 L523.0,439.0 L522.9,438.5 L522.9,438.0 L522.9,437.5 L522.9,437.0 L522.9,436.5 L522.9,436.0 L523.0,435.5 L522.9,435.0 L522.9,434.5 L523.0,434.1 L523.1,433.8 L523.1,433.2 L523.0,432.8 L523.0,432.5 L522.9,432.0 L522.9,431.5 L522.9,431.0 L522.9,430.5 L522.9,430.0 L522.9,429.5 L522.8,429.0 L522.8,428.5 L522.8,428.0 L522.9,427.5 L523.0,427.0 L523.0,426.8 L523.2,426.2 L523.3,426.0 L523.4,425.5 L523.5,425.2 L523.7,424.8 L523.7,424.2 L523.8,424.0 L523.9,423.5 L524.0,423.1 L524.0,422.8 L524.0,422.2 L524.0,422.0 L523.9,421.5 L523.8,421.2 L523.5,420.9 L523.2,420.6 L523.0,420.2 L522.9,420.0 L522.7,419.8 L522.5,419.3 L522.4,419.0 L522.3,418.5 L522.3,418.0 L522.4,417.5 L522.4,417.0 L522.5,416.5 L522.5,416.2 L522.7,415.8 L522.8,415.5 L523.0,415.2 L523.2,415.0 L523.8,414.8 L524.0,414.7 L524.5,414.7 L525.0,414.6 L525.5,414.6 L526.0,414.5 L526.2,414.4 L526.8,414.3 L527.2,414.3 L527.8,414.3 L528.2,414.3 L528.8,414.3 L529.2,414.3 L529.7,414.5 L530.0,414.7 L530.2,414.8 L530.7,415.0 L531.0,415.2 L531.2,415.3 L531.8,415.5 L532.2,415.5 L532.8,415.5 L533.2,415.4 L533.8,415.3 L534.2,415.3 L534.8,415.3 L535.2,415.3 L535.7,415.5 L536.0,415.6 L536.4,415.8 L536.8,415.9 L537.0,416.0 L537.4,416.2 L537.8,416.4 L538.2,416.4 L538.7,416.5 L539.0,416.7 L539.2,416.9 L539.3,417.2 L539.1,417.5 L538.8,417.7 L538.2,417.7 L537.8,417.7 L537.3,417.8 L537.0,417.9 L536.7,418.0 L536.2,418.1 L535.9,418.2 L535.5,418.4 L535.2,418.6 L534.8,418.7 L534.5,418.8 L534.0,419.0 L533.8,419.0 L533.2,419.0 L532.8,419.1 L532.2,419.2 L531.9,419.2 L531.5,419.3 L531.0,419.4 L530.6,419.5 L530.2,419.7 L530.0,419.8 L529.8,420.1 L529.5,420.3 L529.2,420.6 L529.0,420.8 L528.8,421.1 L528.5,421.4 L528.2,421.7 L528.0,422.0 L527.8,422.2 L527.6,422.5 L527.5,422.8 L527.3,423.2 L527.2,423.5 L527.2,424.0 L527.3,424.2 L527.5,424.7 L527.6,425.0 L527.8,425.4 L527.8,425.8 L527.9,426.2 L527.8,426.8 L527.8,427.1 L527.7,427.5 L527.7,428.0 L527.7,428.5 L527.8,428.8 L527.8,429.2 L527.9,429.8 L527.9,430.2 L527.9,430.8 L527.9,431.2 L527.8,431.8 L527.7,432.0 L527.6,432.5 L527.5,433.0 L527.5,433.2 L527.5,433.5 L527.6,434.0 L527.7,434.5 L527.8,434.8 L528.0,435.2 L528.0,435.5 L528.1,436.0 L528.1,436.5 L528.2,437.0 L528.2,437.5 L528.2,438.0 L528.2,438.5 L528.2,439.0 L528.0,439.4 L527.8,439.8 L527.6,440.0 L527.4,440.2 L527.1,440.5 L526.8,440.8 L526.5,441.0 L526.2,441.1Z" fill="#c8c8c8" stroke="#2a2a2a" stroke-width="0.45" fill-rule="evenodd"/>
<path d="M525.8,422.4 L525.5,422.2 L525.2,422.0 L525.0,421.6 L524.8,421.2 L524.7,421.0 L524.5,420.7 L524.2,420.4 L524.0,420.1 L523.8,419.8 L523.6,419.5 L523.4,419.2 L523.2,418.8 L523.2,418.5 L523.1,418.0 L523.1,417.5 L523.2,417.0 L523.2,416.5 L523.3,416.2 L523.5,416.0 L523.8,415.7 L524.2,415.5 L524.5,415.5 L525.0,415.4 L525.5,415.4 L526.0,415.3 L526.5,415.3 L526.8,415.2 L527.1,415.2 L527.5,415.3 L528.0,415.5 L528.2,415.5 L528.8,415.6 L529.2,415.7 L529.5,415.9 L529.8,416.0 L530.2,416.2 L530.5,416.4 L530.7,416.8 L530.8,417.0 L530.8,417.5 L530.7,417.8 L530.5,418.0 L530.0,418.2 L529.8,418.4 L529.5,418.5 L529.2,418.8 L529.0,419.1 L528.8,419.5 L528.6,419.8 L528.4,420.0 L528.2,420.2 L528.0,420.5 L527.6,420.8 L527.3,421.0 L527.1,421.2 L526.8,421.5 L526.6,421.8 L526.3,422.0 L526.0,422.2 L525.8,422.4ZM526.2,439.6 L525.8,439.7 L525.2,439.7 L524.8,439.5 L524.5,439.4 L524.2,439.1 L524.1,438.8 L524.0,438.5 L523.9,438.0 L523.9,437.5 L524.0,437.0 L524.1,436.8 L524.0,436.2 L524.1,435.8 L524.0,435.3 L523.9,435.0 L523.8,434.5 L523.9,434.0 L523.9,433.5 L524.0,433.0 L524.0,432.8 L524.1,432.2 L524.2,431.8 L524.2,431.3 L524.3,431.0 L524.2,430.6 L524.2,430.2 L524.1,429.8 L524.0,429.4 L523.9,429.0 L523.9,428.5 L523.9,428.0 L524.0,427.5 L524.1,427.2 L524.3,427.0 L524.7,426.8 L525.0,426.6 L525.5,426.8 L525.7,427.0 L525.8,427.2 L526.0,427.7 L526.2,428.0 L526.3,428.2 L526.5,428.8 L526.5,429.0 L526.6,429.5 L526.6,430.0 L526.5,430.3 L526.2,430.6 L525.8,430.7 L525.5,430.9 L525.5,431.2 L525.6,431.5 L525.7,432.0 L526.0,432.2 L526.2,432.5 L526.3,432.8 L526.4,433.2 L526.4,433.8 L526.4,434.2 L526.5,434.8 L526.5,435.0 L526.7,435.5 L526.8,435.8 L527.0,436.1 L527.2,436.5 L527.2,436.9 L527.3,437.2 L527.3,437.8 L527.3,438.2 L527.2,438.5 L527.0,438.9 L526.8,439.2 L526.5,439.4 L526.2,439.6Z" fill="#dcdcdc" stroke="#2a2a2a" stroke-width="0.45" fill-rule="evenodd"/>
<path d="M526.8,420.0 L526.3,420.0 L526.0,419.9 L525.8,419.7 L525.3,419.5 L525.0,419.4 L524.7,419.2 L524.4,419.0 L524.2,418.7 L524.1,418.2 L524.0,417.9 L523.9,417.5 L524.0,417.0 L524.1,416.8 L524.3,416.5 L524.8,416.3 L525.2,416.3 L525.8,416.3 L526.1,416.2 L526.5,416.2 L526.8,416.3 L527.1,416.5 L527.4,416.8 L527.6,417.0 L527.9,417.2 L528.2,417.5 L528.3,417.8 L528.3,418.2 L528.2,418.5 L528.0,419.0 L527.8,419.2 L527.6,419.5 L527.3,419.8 L527.0,419.9 L526.8,420.0Z" fill="#f0f0f0" stroke="#2a2a2a" stroke-width="0.45" fill-rule="evenodd"/>
</g>
<clipPath id="dc12"><rect x="520.2" y="445.3" width="56.8" height="45"/></clipPath>
<g clip-path="url(#dc12)">
<path d="M528.0,492.3 L527.5,492.4 L527.0,492.5 L526.5,492.5 L526.0,492.4 L525.5,492.2 L525.2,492.2 L524.8,492.1 L524.5,492.0 L524.0,491.9 L523.5,491.8 L523.2,491.7 L522.8,491.5 L522.5,491.4 L522.2,491.2 L521.9,491.0 L521.5,490.8 L521.2,490.6 L521.0,490.4 L520.8,490.2 L520.5,490.0 L520.2,489.8 L520.0,489.5 L519.8,489.2 L519.5,488.8 L519.3,488.5 L519.2,488.2 L519.0,487.8 L518.8,487.5 L518.7,487.2 L518.5,486.8 L518.4,486.5 L518.2,486.2 L518.1,485.8 L518.0,485.5 L517.9,485.0 L517.9,484.5 L517.9,484.0 L517.9,483.5 L517.9,483.0 L517.8,482.5 L517.7,482.2 L517.6,481.8 L517.5,481.3 L517.4,481.0 L517.4,480.5 L517.4,480.0 L517.5,479.5 L517.5,479.2 L517.7,478.8 L517.8,478.5 L518.0,478.2 L518.1,477.8 L518.2,477.3 L518.3,477.0 L518.5,476.5 L518.5,476.2 L518.6,475.8 L518.7,475.2 L518.8,475.0 L518.8,474.5 L518.9,474.0 L519.0,473.5 L519.0,473.0 L519.0,472.5 L518.9,472.0 L518.9,471.5 L518.8,471.0 L518.8,470.5 L518.8,470.0 L518.9,469.5 L519.0,469.0 L519.0,468.8 L519.1,468.2 L519.1,467.8 L519.2,467.2 L519.2,466.8 L519.3,466.5 L519.3,466.0 L519.3,465.5 L519.3,465.0 L519.2,464.8 L519.1,464.2 L519.0,463.9 L518.9,463.5 L518.8,463.0 L518.7,462.8 L518.6,462.2 L518.5,461.8 L518.4,461.5 L518.4,461.0 L518.3,460.5 L518.3,460.0 L518.4,459.5 L518.4,459.0 L518.4,458.5 L518.5,458.0 L518.5,457.8 L518.5,457.2 L518.6,456.8 L518.8,456.4 L518.9,456.0 L519.1,455.8 L519.2,455.5 L519.5,455.2 L519.8,454.9 L520.0,454.6 L520.2,454.2 L520.4,454.0 L520.6,453.8 L520.8,453.5 L521.0,453.2 L521.4,453.0 L521.8,452.8 L522.0,452.7 L522.3,452.5 L522.7,452.2 L523.0,452.1 L523.2,451.9 L523.6,451.8 L524.0,451.5 L524.2,451.4 L524.8,451.3 L525.0,451.2 L525.5,451.1 L525.8,451.0 L526.2,450.9 L526.8,450.8 L527.2,450.8 L527.8,450.8 L528.2,450.9 L528.8,450.9 L529.1,451.0 L529.5,451.1 L530.0,451.2 L530.2,451.3 L530.8,451.4 L531.0,451.5 L531.5,451.7 L531.8,451.8 L532.1,452.0 L532.5,452.2 L532.8,452.4 L533.1,452.5 L533.5,452.7 L533.8,452.8 L534.0,453.0 L534.4,453.2 L534.8,453.5 L535.0,453.7 L535.2,454.0 L535.5,454.2 L535.7,454.5 L535.9,454.8 L536.0,455.0 L536.2,455.4 L536.4,455.8 L536.5,456.1 L536.6,456.5 L536.7,457.0 L536.8,457.2 L536.9,457.8 L536.9,458.2 L537.0,458.8 L536.9,459.2 L536.8,459.8 L536.8,460.0 L536.6,460.5 L536.5,460.8 L536.3,461.2 L536.2,461.5 L536.0,461.9 L535.8,462.2 L535.7,462.5 L535.5,462.8 L535.2,463.1 L535.0,463.3 L534.8,463.6 L534.5,464.0 L534.3,464.2 L534.2,464.5 L534.0,464.9 L533.9,465.2 L533.8,465.5 L533.6,466.0 L533.5,466.4 L533.4,466.8 L533.3,467.2 L533.2,467.6 L533.2,468.0 L533.2,468.5 L533.2,469.0 L533.2,469.5 L533.2,470.0 L533.1,470.5 L533.1,471.0 L533.0,471.5 L533.0,471.8 L532.9,472.2 L532.9,472.8 L532.9,473.2 L532.9,473.8 L533.0,474.2 L533.0,474.5 L533.1,475.0 L533.2,475.5 L533.3,475.8 L533.5,476.2 L533.6,476.5 L533.8,476.9 L533.9,477.2 L534.0,477.7 L534.1,478.0 L534.2,478.5 L534.2,479.0 L534.2,479.5 L534.3,479.8 L534.4,480.2 L534.4,480.8 L534.5,481.2 L534.5,481.5 L534.6,482.0 L534.6,482.5 L534.5,483.0 L534.5,483.2 L534.4,483.8 L534.3,484.2 L534.2,484.5 L534.1,485.0 L534.0,485.4 L533.9,485.8 L533.8,486.2 L533.7,486.5 L533.5,487.0 L533.4,487.2 L533.2,487.7 L533.1,488.0 L532.9,488.2 L532.7,488.5 L532.5,488.9 L532.2,489.2 L532.0,489.5 L531.8,489.8 L531.5,490.0 L531.3,490.2 L531.1,490.5 L530.9,490.8 L530.6,491.0 L530.2,491.2 L530.0,491.4 L529.8,491.6 L529.5,491.8 L529.0,492.0 L528.8,492.1 L528.2,492.2 L528.0,492.3Z" fill="#707070" stroke="#2a2a2a" stroke-width="0.45" fill-rule="evenodd"/>
<path d="M527.5,491.0 L527.0,491.1 L526.5,491.1 L526.0,491.1 L525.5,491.0 L525.2,491.0 L524.8,490.9 L524.2,490.8 L523.9,490.8 L523.5,490.7 L523.1,490.5 L522.8,490.3 L522.5,490.2 L522.2,490.0 L521.8,489.8 L521.5,489.5 L521.2,489.3 L521.0,489.1 L520.8,488.9 L520.5,488.5 L520.4,488.2 L520.2,488.0 L520.0,487.5 L519.9,487.2 L519.7,487.0 L519.5,486.5 L519.4,486.2 L519.2,486.0 L519.0,485.5 L518.9,485.2 L518.9,484.8 L518.8,484.2 L518.8,483.8 L518.8,483.2 L518.8,482.8 L518.7,482.5 L518.6,482.0 L518.5,481.6 L518.4,481.2 L518.3,480.8 L518.3,480.2 L518.4,479.8 L518.5,479.4 L518.7,479.0 L518.8,478.8 L519.0,478.4 L519.2,478.0 L519.3,477.8 L519.5,477.2 L519.5,477.0 L519.6,476.5 L519.7,476.0 L519.7,475.5 L519.8,475.2 L519.9,474.8 L519.9,474.2 L520.0,473.9 L520.0,473.5 L520.0,473.0 L520.0,472.6 L520.0,472.2 L519.9,471.8 L519.8,471.2 L519.7,471.0 L519.7,470.5 L519.8,470.2 L519.8,469.8 L519.9,469.2 L520.0,468.8 L520.0,468.5 L520.0,468.0 L520.1,467.5 L520.1,467.0 L520.2,466.5 L520.3,466.2 L520.3,465.8 L520.3,465.2 L520.2,464.8 L520.2,464.5 L520.0,464.0 L520.0,463.8 L519.8,463.2 L519.8,462.9 L519.7,462.5 L519.5,462.0 L519.5,461.7 L519.4,461.2 L519.4,460.8 L519.4,460.2 L519.4,459.8 L519.5,459.2 L519.5,458.8 L519.5,458.2 L519.5,458.0 L519.6,457.5 L519.7,457.0 L519.8,456.8 L520.0,456.3 L520.2,456.0 L520.4,455.8 L520.7,455.5 L520.9,455.2 L521.0,455.0 L521.2,454.7 L521.5,454.4 L521.8,454.2 L522.0,454.0 L522.2,453.7 L522.5,453.5 L522.9,453.2 L523.2,453.0 L523.5,452.9 L523.8,452.7 L524.1,452.5 L524.5,452.3 L524.8,452.2 L525.2,452.1 L525.8,452.0 L526.0,452.0 L526.5,451.9 L527.0,451.8 L527.5,451.9 L528.0,451.9 L528.5,452.0 L528.8,452.0 L529.2,452.1 L529.8,452.2 L530.1,452.2 L530.5,452.4 L530.8,452.5 L531.2,452.7 L531.5,452.8 L531.9,453.0 L532.2,453.1 L532.5,453.3 L533.0,453.5 L533.2,453.6 L533.6,453.8 L534.0,454.0 L534.2,454.2 L534.5,454.4 L534.8,454.6 L535.0,454.9 L535.2,455.2 L535.4,455.5 L535.5,455.8 L535.7,456.2 L535.8,456.5 L536.0,457.0 L536.0,457.2 L536.1,457.8 L536.2,458.2 L536.2,458.8 L536.1,459.2 L536.0,459.6 L535.8,460.0 L535.7,460.2 L535.5,460.7 L535.4,461.0 L535.2,461.2 L535.0,461.6 L534.8,462.0 L534.6,462.2 L534.5,462.5 L534.2,462.8 L534.0,463.1 L533.8,463.4 L533.5,463.8 L533.4,464.0 L533.2,464.3 L533.0,464.8 L532.9,465.0 L532.8,465.5 L532.6,465.8 L532.5,466.2 L532.4,466.5 L532.4,467.0 L532.3,467.5 L532.2,468.0 L532.2,468.2 L532.2,468.8 L532.2,469.2 L532.2,469.8 L532.1,470.2 L532.1,470.8 L532.0,471.2 L532.0,471.5 L531.9,472.0 L531.9,472.5 L531.9,473.0 L531.9,473.5 L531.9,474.0 L532.0,474.5 L532.0,474.8 L532.1,475.2 L532.2,475.7 L532.4,476.0 L532.5,476.4 L532.6,476.8 L532.8,477.2 L532.8,477.5 L532.9,478.0 L533.0,478.5 L533.0,478.8 L533.0,479.2 L533.2,479.8 L533.2,480.1 L533.3,480.5 L533.4,481.0 L533.5,481.5 L533.5,481.8 L533.5,482.2 L533.5,482.8 L533.5,483.1 L533.4,483.5 L533.3,484.0 L533.2,484.2 L533.1,484.8 L533.0,485.0 L532.8,485.5 L532.8,485.8 L532.6,486.2 L532.5,486.5 L532.3,487.0 L532.2,487.2 L532.0,487.8 L531.9,488.0 L531.7,488.2 L531.5,488.5 L531.2,488.9 L531.0,489.1 L530.8,489.4 L530.5,489.6 L530.2,489.8 L530.0,490.0 L529.7,490.2 L529.4,490.5 L529.0,490.7 L528.8,490.8 L528.2,490.9 L527.8,491.0 L527.5,491.0Z" fill="#808080" stroke="#2a2a2a" stroke-width="0.45" fill-rule="evenodd"/>
<path d="M527.8,489.8 L527.2,489.8 L526.8,489.8 L526.2,489.8 L525.8,489.8 L525.2,489.8 L524.8,489.8 L524.4,489.8 L524.0,489.7 L523.5,489.5 L523.2,489.4 L522.9,489.2 L522.5,489.1 L522.2,488.9 L522.0,488.8 L521.7,488.5 L521.5,488.2 L521.2,487.9 L521.0,487.5 L520.9,487.2 L520.8,486.9 L520.6,486.5 L520.4,486.2 L520.2,485.9 L520.0,485.5 L519.9,485.2 L519.8,484.8 L519.7,484.5 L519.6,484.0 L519.5,483.5 L519.5,483.2 L519.4,482.8 L519.3,482.2 L519.2,481.8 L519.2,481.5 L519.1,481.0 L519.1,480.5 L519.2,480.0 L519.3,479.8 L519.5,479.4 L519.7,479.0 L519.8,478.8 L520.0,478.5 L520.2,478.0 L520.3,477.8 L520.5,477.2 L520.6,477.0 L520.7,476.5 L520.8,476.2 L520.8,475.8 L520.9,475.2 L520.9,474.8 L521.0,474.2 L521.0,474.0 L521.0,473.5 L521.0,473.2 L520.9,472.8 L520.9,472.2 L520.8,471.8 L520.6,471.5 L520.5,471.0 L520.5,470.5 L520.5,470.0 L520.6,469.5 L520.7,469.0 L520.8,468.8 L520.8,468.2 L520.9,467.8 L521.0,467.2 L521.0,467.0 L521.1,466.5 L521.1,466.0 L521.2,465.5 L521.2,465.0 L521.2,464.5 L521.1,464.0 L521.0,463.7 L520.9,463.2 L520.8,462.8 L520.7,462.5 L520.6,462.0 L520.5,461.5 L520.5,461.0 L520.5,460.5 L520.6,460.0 L520.5,459.5 L520.5,459.0 L520.5,458.5 L520.5,458.2 L520.5,458.0 L520.6,457.5 L520.8,457.1 L520.9,456.8 L521.1,456.5 L521.3,456.2 L521.5,456.0 L521.8,455.7 L522.0,455.4 L522.2,455.0 L522.5,454.8 L522.7,454.5 L522.9,454.2 L523.2,454.0 L523.5,453.8 L523.8,453.7 L524.1,453.5 L524.5,453.3 L524.8,453.2 L525.2,453.0 L525.5,453.0 L526.0,452.9 L526.5,452.8 L526.8,452.7 L527.2,452.7 L527.8,452.7 L528.2,452.8 L528.5,452.8 L529.0,452.9 L529.3,453.0 L529.8,453.1 L530.1,453.2 L530.5,453.4 L530.8,453.5 L531.2,453.6 L531.5,453.8 L532.0,453.9 L532.2,454.0 L532.7,454.2 L533.0,454.4 L533.3,454.5 L533.7,454.8 L534.0,455.0 L534.2,455.2 L534.5,455.5 L534.7,455.8 L534.8,456.0 L535.0,456.4 L535.1,456.8 L535.2,457.2 L535.3,457.5 L535.4,458.0 L535.4,458.5 L535.4,459.0 L535.2,459.4 L535.1,459.8 L534.9,460.0 L534.8,460.3 L534.5,460.8 L534.4,461.0 L534.2,461.3 L534.0,461.6 L533.8,462.0 L533.6,462.2 L533.4,462.5 L533.2,462.8 L533.0,463.1 L532.8,463.5 L532.6,463.8 L532.4,464.0 L532.2,464.3 L532.0,464.7 L531.8,465.0 L531.7,465.2 L531.5,465.7 L531.4,466.0 L531.4,466.5 L531.4,467.0 L531.4,467.5 L531.4,468.0 L531.3,468.5 L531.3,469.0 L531.2,469.2 L531.1,469.8 L531.1,470.2 L531.0,470.7 L530.9,471.0 L530.9,471.5 L530.9,472.0 L530.9,472.5 L530.8,473.0 L530.8,473.5 L530.9,474.0 L530.9,474.5 L531.0,474.8 L531.2,475.2 L531.2,475.5 L531.4,476.0 L531.5,476.2 L531.7,476.8 L531.8,477.0 L531.9,477.5 L532.0,478.0 L532.0,478.2 L532.1,478.8 L532.2,479.2 L532.2,479.6 L532.3,480.0 L532.5,480.5 L532.5,481.0 L532.5,481.2 L532.6,481.8 L532.6,482.2 L532.6,482.8 L532.5,483.2 L532.4,483.5 L532.3,484.0 L532.2,484.2 L532.1,484.8 L532.0,485.1 L531.9,485.5 L531.8,485.8 L531.6,486.2 L531.5,486.5 L531.3,487.0 L531.1,487.2 L531.0,487.5 L530.8,487.9 L530.5,488.2 L530.3,488.5 L530.0,488.8 L529.8,489.0 L529.5,489.2 L529.2,489.4 L529.0,489.5 L528.5,489.7 L528.0,489.7 L527.8,489.8Z" fill="#909090" stroke="#2a2a2a" stroke-width="0.45" fill-rule="evenodd"/>
<path d="M528.0,488.5 L527.5,488.6 L527.0,488.5 L526.5,488.6 L526.0,488.6 L525.5,488.6 L525.0,488.6 L524.5,488.5 L524.2,488.5 L523.8,488.3 L523.5,488.2 L523.0,488.0 L522.8,487.9 L522.5,487.7 L522.2,487.5 L522.0,487.2 L521.8,486.8 L521.7,486.5 L521.5,486.1 L521.3,485.8 L521.2,485.5 L521.0,485.2 L520.8,484.8 L520.7,484.5 L520.5,484.0 L520.5,483.8 L520.4,483.2 L520.3,482.8 L520.2,482.5 L520.1,482.0 L520.1,481.5 L520.1,481.0 L520.2,480.5 L520.3,480.2 L520.5,479.8 L520.6,479.5 L520.8,479.2 L521.0,478.8 L521.1,478.5 L521.2,478.1 L521.4,477.8 L521.5,477.5 L521.7,477.0 L521.8,476.8 L522.0,476.3 L522.1,476.0 L522.2,475.5 L522.2,475.0 L522.2,474.5 L522.2,474.0 L522.1,473.5 L522.1,473.0 L522.0,472.5 L522.0,472.2 L521.8,471.8 L521.7,471.5 L521.5,471.0 L521.5,470.8 L521.4,470.2 L521.4,469.8 L521.5,469.2 L521.5,469.0 L521.6,468.5 L521.8,468.0 L521.8,467.8 L521.9,467.2 L522.0,467.0 L522.1,466.5 L522.2,466.1 L522.4,465.8 L522.5,465.2 L522.5,465.0 L522.5,464.7 L522.4,464.2 L522.3,463.8 L522.2,463.5 L522.0,463.0 L521.9,462.8 L521.8,462.2 L521.8,461.8 L521.7,461.5 L521.7,461.0 L521.8,460.7 L521.8,460.2 L521.8,459.8 L521.8,459.2 L521.8,458.9 L521.7,458.5 L521.7,458.0 L521.8,457.7 L521.9,457.2 L522.0,457.0 L522.2,456.6 L522.5,456.2 L522.7,456.0 L522.8,455.8 L523.0,455.5 L523.2,455.2 L523.5,455.0 L523.9,454.8 L524.2,454.5 L524.5,454.3 L524.8,454.2 L525.2,454.1 L525.5,454.0 L526.0,453.8 L526.4,453.8 L526.8,453.7 L527.2,453.6 L527.8,453.6 L528.2,453.7 L528.5,453.8 L529.0,453.9 L529.3,454.0 L529.8,454.2 L530.0,454.3 L530.5,454.5 L530.8,454.5 L531.2,454.6 L531.6,454.8 L532.0,454.9 L532.3,455.0 L532.8,455.2 L533.0,455.3 L533.3,455.5 L533.5,455.8 L533.8,456.1 L534.0,456.5 L534.1,456.8 L534.2,457.1 L534.4,457.5 L534.5,458.0 L534.5,458.5 L534.4,459.0 L534.2,459.5 L534.1,459.8 L534.0,460.0 L533.8,460.4 L533.6,460.8 L533.4,461.0 L533.2,461.3 L533.0,461.6 L532.8,462.0 L532.5,462.2 L532.3,462.5 L532.1,462.8 L531.9,463.0 L531.7,463.2 L531.5,463.6 L531.2,463.8 L531.0,464.0 L530.7,464.2 L530.5,464.5 L530.2,464.8 L530.1,465.2 L530.2,465.8 L530.2,466.2 L530.3,466.5 L530.4,467.0 L530.5,467.4 L530.5,467.5 L530.4,468.0 L530.3,468.5 L530.2,468.9 L530.1,469.2 L530.0,469.7 L529.9,470.0 L529.8,470.5 L529.8,471.0 L529.7,471.2 L529.7,471.8 L529.6,472.2 L529.6,472.8 L529.6,473.2 L529.7,473.8 L529.7,474.2 L529.8,474.5 L529.9,475.0 L530.0,475.4 L530.1,475.8 L530.3,476.0 L530.5,476.5 L530.6,476.8 L530.8,477.1 L530.8,477.5 L530.9,478.0 L531.0,478.2 L531.2,478.8 L531.2,479.0 L531.4,479.5 L531.5,479.9 L531.6,480.2 L531.7,480.8 L531.6,481.2 L531.6,481.8 L531.6,482.2 L531.5,482.8 L531.5,483.0 L531.4,483.5 L531.3,484.0 L531.2,484.2 L531.0,484.7 L530.8,485.0 L530.7,485.2 L530.5,485.6 L530.3,486.0 L530.1,486.2 L529.9,486.5 L529.8,486.9 L529.6,487.2 L529.5,487.5 L529.2,487.8 L529.0,488.0 L528.6,488.2 L528.2,488.4 L528.0,488.5Z" fill="#a2a2a2" stroke="#2a2a2a" stroke-width="0.45" fill-rule="evenodd"/>
<path d="M526.5,487.3 L526.0,487.4 L525.5,487.4 L525.0,487.4 L524.5,487.4 L524.1,487.2 L523.8,487.1 L523.5,486.9 L523.2,486.8 L523.0,486.5 L522.8,486.2 L522.5,485.9 L522.3,485.5 L522.2,485.2 L522.0,485.0 L521.8,484.6 L521.6,484.2 L521.5,484.0 L521.4,483.5 L521.2,483.0 L521.2,482.8 L521.1,482.2 L521.1,481.8 L521.2,481.2 L521.3,481.0 L521.5,480.5 L521.6,480.2 L521.8,479.9 L522.0,479.5 L522.1,479.2 L522.2,478.8 L522.4,478.5 L522.5,478.2 L522.7,477.8 L522.8,477.4 L522.8,477.0 L523.0,476.6 L523.1,476.2 L523.2,475.8 L523.3,475.5 L523.3,475.0 L523.3,474.5 L523.2,474.2 L523.2,473.8 L523.1,473.2 L523.1,472.8 L523.1,472.2 L523.0,472.0 L522.8,471.5 L522.7,471.2 L522.5,470.8 L522.4,470.5 L522.3,470.0 L522.3,469.5 L522.4,469.0 L522.5,468.6 L522.6,468.2 L522.8,467.9 L523.0,467.5 L523.1,467.2 L523.3,467.0 L523.5,466.6 L523.7,466.2 L523.8,466.0 L524.0,465.6 L524.1,465.2 L524.2,464.8 L524.1,464.2 L524.0,463.9 L523.8,463.5 L523.6,463.2 L523.5,463.0 L523.2,462.6 L523.1,462.2 L523.0,461.8 L522.9,461.5 L522.8,461.0 L522.8,460.5 L522.8,460.0 L522.7,459.8 L522.7,459.2 L522.8,459.0 L522.7,458.8 L522.8,458.4 L522.8,458.0 L523.0,457.5 L523.1,457.2 L523.2,456.9 L523.5,456.5 L523.8,456.3 L524.0,456.0 L524.2,455.8 L524.5,455.6 L524.8,455.4 L525.1,455.2 L525.5,455.1 L525.8,455.0 L526.2,454.8 L526.6,454.8 L527.0,454.7 L527.5,454.7 L528.0,454.7 L528.2,454.8 L528.8,454.9 L529.0,455.0 L529.5,455.2 L529.8,455.3 L530.2,455.5 L530.7,455.5 L531.0,455.5 L531.5,455.6 L531.8,455.8 L532.2,456.0 L532.5,456.1 L532.8,456.3 L533.0,456.6 L533.2,457.0 L533.3,457.2 L533.4,457.8 L533.4,458.2 L533.5,458.8 L533.4,459.2 L533.2,459.6 L533.1,460.0 L533.0,460.2 L532.8,460.6 L532.5,461.0 L532.2,461.2 L532.0,461.5 L531.8,461.8 L531.6,462.0 L531.3,462.2 L531.0,462.5 L530.8,462.7 L530.5,462.9 L530.2,463.1 L530.0,463.2 L529.6,463.5 L529.2,463.7 L529.0,463.9 L528.8,464.2 L528.6,464.5 L528.5,464.8 L528.4,465.2 L528.5,465.5 L528.7,466.0 L528.8,466.2 L529.0,466.6 L529.2,467.0 L529.3,467.2 L529.4,467.8 L529.3,468.2 L529.2,468.5 L529.1,469.0 L529.0,469.4 L528.9,469.8 L528.9,470.2 L528.8,470.8 L528.7,471.0 L528.7,471.5 L528.6,472.0 L528.5,472.5 L528.5,473.0 L528.5,473.5 L528.5,474.0 L528.6,474.5 L528.7,475.0 L528.7,475.5 L528.8,475.8 L529.0,476.2 L529.2,476.5 L529.3,476.8 L529.5,477.0 L529.7,477.5 L529.8,477.8 L529.9,478.2 L530.0,478.5 L530.2,479.0 L530.3,479.2 L530.5,479.7 L530.6,480.0 L530.8,480.4 L530.8,480.8 L530.8,481.2 L530.7,481.5 L530.7,482.0 L530.6,482.5 L530.5,482.8 L530.4,483.2 L530.2,483.5 L530.0,483.9 L529.8,484.2 L529.6,484.5 L529.3,484.8 L529.0,485.0 L528.8,485.2 L528.7,485.5 L528.5,485.9 L528.3,486.2 L528.1,486.5 L527.9,486.8 L527.5,487.0 L527.2,487.1 L526.8,487.2 L526.5,487.3Z" fill="#b4b4b4" stroke="#2a2a2a" stroke-width="0.45" fill-rule="evenodd"/>
<path d="M527.5,463.3 L527.0,463.4 L526.5,463.3 L526.2,463.2 L526.0,463.0 L525.7,462.8 L525.5,462.5 L525.2,462.2 L525.0,461.9 L524.8,461.5 L524.5,461.2 L524.3,461.0 L524.1,460.8 L524.0,460.5 L523.8,460.0 L523.8,459.6 L523.7,459.2 L523.7,458.8 L523.8,458.5 L523.9,458.0 L524.0,457.8 L524.2,457.4 L524.5,457.2 L524.8,457.0 L525.1,456.8 L525.5,456.5 L525.8,456.4 L526.2,456.3 L526.8,456.3 L527.2,456.3 L527.8,456.4 L528.2,456.3 L528.8,456.3 L529.2,456.3 L529.8,456.5 L530.0,456.6 L530.5,456.7 L530.8,456.8 L531.2,457.0 L531.4,457.2 L531.4,457.8 L531.5,458.0 L531.9,458.2 L532.1,458.5 L532.2,459.0 L532.1,459.5 L532.0,459.8 L531.8,460.2 L531.6,460.5 L531.4,460.8 L531.1,461.0 L530.8,461.2 L530.6,461.5 L530.2,461.7 L530.0,461.9 L529.8,462.0 L529.4,462.2 L529.0,462.5 L528.8,462.7 L528.5,462.8 L528.2,463.0 L527.8,463.2 L527.5,463.3ZM525.2,486.0 L524.8,486.1 L524.4,486.0 L524.0,485.8 L523.8,485.6 L523.5,485.4 L523.2,485.1 L523.0,484.8 L522.8,484.5 L522.6,484.2 L522.5,483.9 L522.4,483.5 L522.3,483.0 L522.3,482.5 L522.4,482.0 L522.5,481.7 L522.6,481.2 L522.8,481.0 L523.0,480.6 L523.2,480.2 L523.3,480.0 L523.5,479.6 L523.6,479.2 L523.8,478.9 L523.9,478.5 L524.0,478.1 L524.1,477.8 L524.2,477.2 L524.2,476.9 L524.4,476.5 L524.5,476.2 L524.7,475.8 L524.9,475.5 L525.2,475.2 L525.5,475.0 L525.8,474.8 L525.9,474.5 L526.0,474.2 L526.0,474.0 L525.8,473.6 L525.5,473.3 L525.2,473.1 L525.1,472.8 L525.0,472.5 L524.9,472.0 L524.8,471.5 L524.9,471.0 L524.6,470.8 L524.3,470.5 L524.0,470.3 L523.8,470.1 L523.6,469.8 L523.7,469.2 L523.8,469.0 L524.0,468.6 L524.2,468.4 L524.5,468.2 L524.8,468.0 L525.1,467.8 L525.3,467.5 L525.5,467.2 L525.8,467.0 L526.2,466.9 L526.5,467.2 L526.6,467.5 L526.8,467.8 L527.0,468.2 L527.1,468.5 L527.3,468.8 L527.5,469.1 L527.7,469.5 L527.7,470.0 L527.7,470.5 L527.6,471.0 L527.5,471.3 L527.3,471.8 L527.2,472.0 L527.0,472.5 L526.9,472.8 L526.8,473.1 L526.5,473.5 L526.4,473.8 L526.4,474.2 L526.6,474.5 L526.8,474.8 L527.0,475.2 L527.1,475.5 L527.2,476.0 L527.3,476.2 L527.5,476.8 L527.6,477.0 L527.8,477.2 L528.0,477.5 L528.2,477.8 L528.5,478.2 L528.6,478.5 L528.7,479.0 L528.8,479.3 L529.0,479.8 L529.2,480.0 L529.4,480.2 L529.6,480.5 L529.7,481.0 L529.7,481.5 L529.7,482.0 L529.5,482.5 L529.4,482.8 L529.2,483.1 L529.0,483.4 L528.8,483.7 L528.5,483.9 L528.2,484.2 L528.0,484.5 L527.8,484.8 L527.5,485.0 L527.3,485.2 L527.0,485.5 L526.8,485.7 L526.5,485.8 L526.0,485.9 L525.5,486.0 L525.2,486.0Z" fill="#c8c8c8" stroke="#2a2a2a" stroke-width="0.45" fill-rule="evenodd"/>
<path d="M527.2,461.3 L526.8,461.3 L526.5,461.2 L526.2,461.0 L525.8,460.8 L525.5,460.5 L525.3,460.2 L525.2,460.0 L525.0,459.7 L524.9,459.2 L524.9,458.8 L525.1,458.5 L525.3,458.2 L525.8,458.0 L526.2,458.2 L526.5,458.4 L526.8,458.6 L527.0,458.4 L527.2,458.2 L527.5,457.9 L527.8,457.8 L528.2,457.6 L528.6,457.5 L529.0,457.4 L529.3,457.5 L529.5,457.8 L529.8,458.0 L530.0,458.4 L530.2,458.8 L530.4,459.0 L530.4,459.5 L530.2,459.9 L530.0,460.2 L529.8,460.5 L529.5,460.7 L529.2,460.9 L528.8,461.0 L528.5,461.0 L528.0,461.0 L528.0,461.0 L527.5,461.2 L527.2,461.3ZM525.8,484.8 L525.2,484.9 L524.8,484.9 L524.3,484.8 L524.0,484.6 L523.8,484.3 L523.5,484.0 L523.4,483.8 L523.2,483.3 L523.2,483.0 L523.2,482.6 L523.4,482.2 L523.5,482.0 L523.8,481.6 L523.9,481.2 L524.0,480.9 L524.2,480.5 L524.3,480.2 L524.4,479.8 L524.6,479.5 L524.8,479.2 L525.0,478.8 L525.2,478.5 L525.5,478.2 L525.8,478.1 L526.2,478.2 L526.5,478.3 L526.8,478.5 L527.0,478.8 L527.2,479.2 L527.4,479.5 L527.5,479.8 L527.7,480.2 L527.8,480.5 L528.0,480.8 L528.2,481.1 L528.5,481.5 L528.6,481.8 L528.5,482.0 L528.3,482.5 L528.2,482.8 L528.0,483.0 L527.8,483.3 L527.5,483.6 L527.2,483.8 L527.0,484.1 L526.8,484.3 L526.4,484.5 L526.0,484.7 L525.8,484.8Z" fill="#dcdcdc" stroke="#2a2a2a" stroke-width="0.45" fill-rule="evenodd"/>
<path d="M529.0,459.4 L528.8,459.2 L528.8,459.0 L529.2,459.0 L529.0,459.4ZM525.8,483.8 L525.2,483.9 L524.8,484.0 L524.3,483.8 L524.2,483.5 L524.0,483.2 L524.0,482.8 L524.1,482.5 L524.3,482.2 L524.5,482.0 L524.8,481.8 L524.9,481.2 L525.0,481.0 L525.2,480.5 L525.3,480.2 L525.5,480.0 L526.0,480.0 L526.2,480.2 L526.5,480.5 L526.7,480.8 L526.9,481.0 L527.1,481.2 L527.2,481.6 L527.2,481.9 L527.1,482.2 L527.0,482.5 L526.8,482.9 L526.5,483.2 L526.2,483.5 L526.0,483.6 L525.8,483.8Z" fill="#f0f0f0" stroke="#2a2a2a" stroke-width="0.45" fill-rule="evenodd"/>
</g>
<line x1="534.8" y1="399.7" x2="534.8" y2="490.3" stroke="#1a1a1a" stroke-width="0.95" stroke-dasharray="2.4 1.5"/>
<rect x="520.2" y="399.7" width="56.8" height="90.6" fill="none" stroke="#231f20" stroke-width="0.8"/>
<line x1="520.2" y1="445.3" x2="577" y2="445.3" stroke="#231f20" stroke-width="0.8"/>
<text x="515.8" y="490.7" font-size="7.5" transform="rotate(-90 515.8 490.7)">CD8-AF700</text>
<line x1="513" y1="447.1" x2="513" y2="403.7" stroke="#231f20" stroke-width="0.8"/>
<path d="M511.4,404.7 L513,401 L514.6,404.7 Z" fill="#231f20"/>
<text x="519" y="500.2" font-size="8.0">GZMB-PE</text>
<line x1="557.5" y1="497.3" x2="573.2" y2="497.3" stroke="#231f20" stroke-width="0.8"/>
<path d="M572.2,495.7 L576.2,497.3 L572.2,498.9 Z" fill="#231f20"/>
<text x="588.7" y="422.5" font-size="8.5" text-anchor="middle" transform="rotate(-90 588.7 422.5)"><tspan font-style="italic">Stat3</tspan><tspan dx="0.5" dy="-3.4" font-size="6.12">−/−</tspan></text>
<text x="588.7" y="467.8" font-size="8.5" text-anchor="middle" transform="rotate(-90 588.7 467.8)"><tspan font-style="italic">Stat3</tspan><tspan dx="0.5" dy="-3.4" font-size="6.12">+/+</tspan></text>
<line x1="641.3" y1="406.8" x2="641.3" y2="477" stroke="#58595b" stroke-width="0.8"/>
<line x1="637.3" y1="477" x2="641.3" y2="477" stroke="#58595b" stroke-width="0.8"/>
<text x="634.7" y="479.7" font-size="8.1" text-anchor="end">0</text>
<line x1="637.3" y1="459.45" x2="641.3" y2="459.45" stroke="#58595b" stroke-width="0.8"/>
<text x="634.7" y="462.15" font-size="8.1" text-anchor="end">10</text>
<line x1="637.3" y1="441.9" x2="641.3" y2="441.9" stroke="#58595b" stroke-width="0.8"/>
<text x="634.7" y="444.6" font-size="8.1" text-anchor="end">20</text>
<line x1="637.3" y1="424.35" x2="641.3" y2="424.35" stroke="#58595b" stroke-width="0.8"/>
<text x="634.7" y="427.05" font-size="8.1" text-anchor="end">30</text>
<line x1="637.3" y1="406.8" x2="641.3" y2="406.8" stroke="#58595b" stroke-width="0.8"/>
<text x="634.7" y="409.5" font-size="8.1" text-anchor="end">40</text>
<rect x="646.7" y="461.2" width="10.2" height="15.8" fill="#cadcf6" stroke="#2b2bd6" stroke-width="0.9"/>
<circle cx="651.7" cy="444.01" r="1.65" fill="#0808cc"/>
<circle cx="651.7" cy="458.22" r="1.65" fill="#0808cc"/>
<circle cx="647.8" cy="471.38" r="1.65" fill="#0808cc"/>
<circle cx="655.1" cy="469.28" r="1.65" fill="#0808cc"/>
<line x1="651.8" y1="468.23" x2="651.8" y2="454.19" stroke="#2b2bd6" stroke-width="0.8"/>
<line x1="649.6" y1="454.19" x2="654" y2="454.19" stroke="#2b2bd6" stroke-width="0.8"/>
<line x1="649.6" y1="468.23" x2="654" y2="468.23" stroke="#2b2bd6" stroke-width="0.8"/>
<line x1="649.2" y1="461.2" x2="654.4" y2="461.2" stroke="#2b2bd6" stroke-width="0.8"/>
<rect x="662.4" y="426.98" width="10.4" height="50.02" fill="#ffdcdc" stroke="#f5262b" stroke-width="0.9"/>
<circle cx="667.3" cy="413.29" r="1.65" fill="#ff1414"/>
<circle cx="667.3" cy="418.73" r="1.65" fill="#ff1414"/>
<circle cx="663.7" cy="438.21" r="1.65" fill="#ff1414"/>
<circle cx="671.2" cy="436.28" r="1.65" fill="#ff1414"/>
<line x1="667.6" y1="433.12" x2="667.6" y2="420.84" stroke="#f5262b" stroke-width="0.8"/>
<line x1="665.4" y1="420.84" x2="669.8" y2="420.84" stroke="#f5262b" stroke-width="0.8"/>
<line x1="665.4" y1="433.12" x2="669.8" y2="433.12" stroke="#f5262b" stroke-width="0.8"/>
<line x1="665" y1="426.98" x2="670.2" y2="426.98" stroke="#f5262b" stroke-width="0.8"/>
<line x1="637.3" y1="477" x2="677.2" y2="477" stroke="#58595b" stroke-width="0.8"/>
<line x1="651.8" y1="477" x2="651.8" y2="481.2" stroke="#58595b" stroke-width="0.8"/>
<line x1="667.6" y1="477" x2="667.6" y2="481.2" stroke="#58595b" stroke-width="0.8"/>
<text x="639.6" y="508.2" font-size="7.8" transform="rotate(-42 639.6 508.2)"><tspan font-style="italic">Stat3</tspan><tspan dx="0.5" dy="-3.12" font-size="5.62">+/+</tspan></text>
<text x="655.4" y="508.2" font-size="7.8" transform="rotate(-42 655.4 508.2)"><tspan font-style="italic">Stat3</tspan><tspan dx="0.5" dy="-3.12" font-size="5.62">−/−</tspan></text>
<text x="619.3" y="441.95" font-size="7.6" text-anchor="middle" textLength="94.6" lengthAdjust="spacingAndGlyphs" transform="rotate(-90 619.3 441.95)">GZMB<tspan baseline-shift="super" font-size="5">+</tspan> (% in CD8<tspan baseline-shift="super" font-size="5">+</tspan> T cells)</text>
<text x="667.3" y="411.7" font-size="8.5" text-anchor="middle">**</text>
</g>
</svg></body></html>
